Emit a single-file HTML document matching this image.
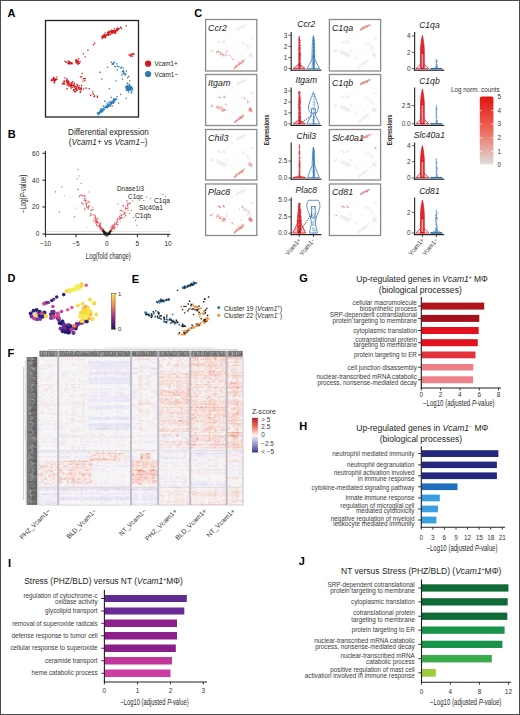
<!DOCTYPE html>
<html><head><meta charset="utf-8"><title>Figure</title><style>html,body{margin:0;padding:0;background:#fff;width:520px;height:715px;overflow:hidden}svg{display:block}text{font-family:"Liberation Sans",sans-serif}</style></head><body>
<svg width="520" height="715" viewBox="0 0 520 715" font-family='"Liberation Sans", sans-serif' fill="#231f20"><rect x="0" y="0" width="520" height="715" fill="#fff"/>
<text x="7.5" y="16.7" font-size="11" font-weight="bold" fill="#000">A</text>
<rect x="45.5" y="20.5" width="93" height="96.5" fill="none" stroke="#231f20" stroke-width="1.3"/>
<path d="M107.2 31.6h1.3v1.3h-1.3zM108.2 32.3h1.3v1.3h-1.3zM103.2 34.7h1.3v1.3h-1.3zM116.0 30.0h1.3v1.3h-1.3zM103.5 34.1h1.3v1.3h-1.3zM104.6 35.8h1.3v1.3h-1.3zM112.4 30.3h1.3v1.3h-1.3zM101.2 36.2h1.3v1.3h-1.3zM104.7 35.0h1.3v1.3h-1.3zM107.7 33.1h1.3v1.3h-1.3zM109.7 31.0h1.3v1.3h-1.3zM112.2 30.9h1.3v1.3h-1.3zM120.9 27.7h1.3v1.3h-1.3zM113.5 31.0h1.3v1.3h-1.3zM108.0 34.7h1.3v1.3h-1.3zM108.9 32.1h1.3v1.3h-1.3zM118.2 28.1h1.3v1.3h-1.3zM106.0 34.0h1.3v1.3h-1.3zM118.3 28.2h1.3v1.3h-1.3zM112.6 30.1h1.3v1.3h-1.3zM101.6 38.0h1.3v1.3h-1.3zM115.3 30.4h1.3v1.3h-1.3zM104.8 36.2h1.3v1.3h-1.3zM103.4 34.5h1.3v1.3h-1.3zM104.6 34.2h1.3v1.3h-1.3zM113.5 31.6h1.3v1.3h-1.3zM104.7 37.3h1.3v1.3h-1.3zM114.8 31.5h1.3v1.3h-1.3zM103.5 35.9h1.3v1.3h-1.3zM115.1 32.7h1.3v1.3h-1.3zM105.0 36.4h1.3v1.3h-1.3zM107.0 34.0h1.3v1.3h-1.3zM102.2 35.3h1.3v1.3h-1.3zM111.2 32.0h1.3v1.3h-1.3zM116.9 28.2h1.3v1.3h-1.3zM116.8 29.4h1.3v1.3h-1.3zM117.7 27.8h1.3v1.3h-1.3zM104.5 32.3h1.3v1.3h-1.3zM106.7 34.1h1.3v1.3h-1.3zM111.6 31.4h1.3v1.3h-1.3zM102.7 35.9h1.3v1.3h-1.3zM113.7 32.2h1.3v1.3h-1.3zM111.7 31.9h1.3v1.3h-1.3zM114.7 30.5h1.3v1.3h-1.3zM112.0 30.4h1.3v1.3h-1.3zM106.8 33.6h1.3v1.3h-1.3zM101.5 37.4h1.3v1.3h-1.3zM102.8 36.8h1.3v1.3h-1.3zM112.1 32.2h1.3v1.3h-1.3zM118.5 28.5h1.3v1.3h-1.3zM113.0 30.1h1.3v1.3h-1.3zM104.1 36.4h1.3v1.3h-1.3zM113.9 30.3h1.3v1.3h-1.3zM110.9 31.1h1.3v1.3h-1.3zM107.3 33.7h1.3v1.3h-1.3zM110.8 29.4h1.3v1.3h-1.3zM113.8 28.2h1.3v1.3h-1.3zM116.6 29.7h1.3v1.3h-1.3zM117.9 27.8h1.3v1.3h-1.3zM116.1 28.5h1.3v1.3h-1.3zM111.4 31.9h1.3v1.3h-1.3zM113.3 31.9h1.3v1.3h-1.3zM120.0 26.6h1.3v1.3h-1.3zM108.0 31.7h1.3v1.3h-1.3zM109.3 32.2h1.3v1.3h-1.3zM115.9 30.2h1.3v1.3h-1.3zM110.0 33.8h1.3v1.3h-1.3zM108.4 30.6h1.3v1.3h-1.3zM106.7 34.3h1.3v1.3h-1.3zM113.5 31.1h1.3v1.3h-1.3zM116.7 27.6h1.3v1.3h-1.3zM116.4 30.0h1.3v1.3h-1.3zM103.2 35.5h1.3v1.3h-1.3zM118.2 27.8h1.3v1.3h-1.3zM111.4 31.9h1.3v1.3h-1.3zM111.1 30.4h1.3v1.3h-1.3zM114.6 30.0h1.3v1.3h-1.3zM103.5 35.2h1.3v1.3h-1.3zM103.9 35.3h1.3v1.3h-1.3zM109.3 34.0h1.3v1.3h-1.3zM118.3 28.0h1.3v1.3h-1.3zM102.1 35.9h1.3v1.3h-1.3zM113.0 29.9h1.3v1.3h-1.3zM115.8 29.6h1.3v1.3h-1.3zM111.2 32.8h1.3v1.3h-1.3zM105.7 34.6h1.3v1.3h-1.3zM111.1 31.4h1.3v1.3h-1.3zM113.8 28.3h1.3v1.3h-1.3zM113.8 31.6h1.3v1.3h-1.3zM105.6 35.0h1.3v1.3h-1.3zM114.3 31.0h1.3v1.3h-1.3zM107.0 32.2h1.3v1.3h-1.3zM112.2 30.0h1.3v1.3h-1.3zM115.7 29.3h1.3v1.3h-1.3zM117.7 27.8h1.3v1.3h-1.3zM125.5 25.3h1.3v1.3h-1.3zM93.9 42.4h1.3v1.3h-1.3zM92.9 44.1h1.3v1.3h-1.3zM82.7 53.3h1.3v1.3h-1.3zM84.6 56.2h1.3v1.3h-1.3zM87.3 49.5h1.3v1.3h-1.3zM129.3 53.8h1.3v1.3h-1.3zM128.5 54.5h1.3v1.3h-1.3zM133.2 53.6h1.3v1.3h-1.3zM131.9 55.4h1.3v1.3h-1.3zM132.0 53.0h1.3v1.3h-1.3zM130.2 54.4h1.3v1.3h-1.3zM132.5 53.1h1.3v1.3h-1.3zM130.5 54.5h1.3v1.3h-1.3zM130.2 55.6h1.3v1.3h-1.3zM131.0 53.8h1.3v1.3h-1.3zM64.4 60.8h1.3v1.3h-1.3zM70.4 63.2h1.3v1.3h-1.3zM70.2 62.9h1.3v1.3h-1.3zM67.7 60.5h1.3v1.3h-1.3zM70.1 62.0h1.3v1.3h-1.3zM71.6 63.2h1.3v1.3h-1.3zM67.7 63.3h1.3v1.3h-1.3zM67.4 62.0h1.3v1.3h-1.3zM68.0 62.8h1.3v1.3h-1.3zM70.8 62.3h1.3v1.3h-1.3zM71.4 62.5h1.3v1.3h-1.3zM68.7 63.1h1.3v1.3h-1.3zM67.7 61.9h1.3v1.3h-1.3zM70.5 62.8h1.3v1.3h-1.3zM69.2 62.2h1.3v1.3h-1.3zM70.1 62.8h1.3v1.3h-1.3zM68.9 61.3h1.3v1.3h-1.3zM65.7 61.6h1.3v1.3h-1.3zM68.0 60.3h1.3v1.3h-1.3zM67.4 62.4h1.3v1.3h-1.3zM69.1 62.0h1.3v1.3h-1.3zM70.4 62.6h1.3v1.3h-1.3zM77.4 63.4h1.3v1.3h-1.3zM76.7 62.3h1.3v1.3h-1.3zM76.7 60.5h1.3v1.3h-1.3zM77.1 60.2h1.3v1.3h-1.3zM76.3 61.0h1.3v1.3h-1.3zM77.6 62.8h1.3v1.3h-1.3zM76.1 61.6h1.3v1.3h-1.3zM75.9 62.0h1.3v1.3h-1.3zM77.5 61.9h1.3v1.3h-1.3zM76.0 59.4h1.3v1.3h-1.3zM75.0 60.5h1.3v1.3h-1.3zM75.4 59.1h1.3v1.3h-1.3zM77.3 63.6h1.3v1.3h-1.3zM78.0 57.9h1.3v1.3h-1.3zM76.7 62.3h1.3v1.3h-1.3zM77.8 60.5h1.3v1.3h-1.3zM79.5 61.0h1.3v1.3h-1.3zM77.7 61.9h1.3v1.3h-1.3zM77.0 59.8h1.3v1.3h-1.3zM78.8 62.7h1.3v1.3h-1.3zM75.4 62.3h1.3v1.3h-1.3zM77.9 62.1h1.3v1.3h-1.3zM52.8 78.6h1.3v1.3h-1.3zM53.6 81.4h1.3v1.3h-1.3zM56.3 76.5h1.3v1.3h-1.3zM54.3 80.3h1.3v1.3h-1.3zM53.0 76.8h1.3v1.3h-1.3zM52.6 77.8h1.3v1.3h-1.3zM53.6 79.2h1.3v1.3h-1.3zM54.8 79.4h1.3v1.3h-1.3zM51.0 78.7h1.3v1.3h-1.3zM53.5 79.8h1.3v1.3h-1.3zM53.8 82.1h1.3v1.3h-1.3zM56.3 78.6h1.3v1.3h-1.3zM53.4 79.2h1.3v1.3h-1.3zM54.5 78.3h1.3v1.3h-1.3zM53.1 77.3h1.3v1.3h-1.3zM51.2 79.3h1.3v1.3h-1.3zM51.1 79.9h1.3v1.3h-1.3zM55.2 79.1h1.3v1.3h-1.3zM53.5 78.0h1.3v1.3h-1.3zM50.6 79.7h1.3v1.3h-1.3zM52.1 79.5h1.3v1.3h-1.3zM53.8 80.7h1.3v1.3h-1.3zM66.2 78.7h1.3v1.3h-1.3zM76.7 84.7h1.3v1.3h-1.3zM68.1 82.9h1.3v1.3h-1.3zM80.1 87.9h1.3v1.3h-1.3zM78.3 85.2h1.3v1.3h-1.3zM73.4 90.3h1.3v1.3h-1.3zM76.8 85.2h1.3v1.3h-1.3zM73.4 89.3h1.3v1.3h-1.3zM63.2 83.3h1.3v1.3h-1.3zM61.6 83.2h1.3v1.3h-1.3zM74.1 91.1h1.3v1.3h-1.3zM72.8 89.1h1.3v1.3h-1.3zM70.8 85.3h1.3v1.3h-1.3zM78.0 87.0h1.3v1.3h-1.3zM76.3 87.4h1.3v1.3h-1.3zM73.4 84.6h1.3v1.3h-1.3zM71.1 84.7h1.3v1.3h-1.3zM70.7 85.0h1.3v1.3h-1.3zM76.1 87.9h1.3v1.3h-1.3zM73.6 86.5h1.3v1.3h-1.3zM74.1 85.6h1.3v1.3h-1.3zM73.2 85.4h1.3v1.3h-1.3zM79.9 90.8h1.3v1.3h-1.3zM63.3 82.4h1.3v1.3h-1.3zM66.1 80.6h1.3v1.3h-1.3zM70.5 84.3h1.3v1.3h-1.3zM66.5 81.1h1.3v1.3h-1.3zM67.6 81.6h1.3v1.3h-1.3zM63.4 81.5h1.3v1.3h-1.3zM65.8 80.2h1.3v1.3h-1.3zM78.2 88.0h1.3v1.3h-1.3zM80.4 89.1h1.3v1.3h-1.3zM76.3 89.7h1.3v1.3h-1.3zM79.6 91.7h1.3v1.3h-1.3zM78.5 86.7h1.3v1.3h-1.3zM80.6 86.8h1.3v1.3h-1.3zM63.6 80.2h1.3v1.3h-1.3zM68.8 83.4h1.3v1.3h-1.3zM62.5 82.9h1.3v1.3h-1.3zM70.6 87.4h1.3v1.3h-1.3zM70.6 82.0h1.3v1.3h-1.3zM82.9 88.5h1.3v1.3h-1.3zM70.3 85.7h1.3v1.3h-1.3zM75.0 86.3h1.3v1.3h-1.3zM66.7 80.8h1.3v1.3h-1.3zM70.9 83.4h1.3v1.3h-1.3zM66.4 88.1h1.3v1.3h-1.3zM78.9 88.4h1.3v1.3h-1.3zM63.9 83.5h1.3v1.3h-1.3zM75.6 87.7h1.3v1.3h-1.3zM66.9 83.0h1.3v1.3h-1.3zM71.1 84.2h1.3v1.3h-1.3zM71.6 86.8h1.3v1.3h-1.3zM76.0 86.6h1.3v1.3h-1.3zM66.2 79.2h1.3v1.3h-1.3zM76.5 89.6h1.3v1.3h-1.3zM68.2 81.2h1.3v1.3h-1.3zM75.8 86.4h1.3v1.3h-1.3zM72.2 81.0h1.3v1.3h-1.3zM69.7 85.2h1.3v1.3h-1.3zM78.5 88.8h1.3v1.3h-1.3zM69.7 86.0h1.3v1.3h-1.3zM68.3 82.6h1.3v1.3h-1.3zM66.3 82.0h1.3v1.3h-1.3zM67.8 80.4h1.3v1.3h-1.3zM69.1 84.8h1.3v1.3h-1.3zM74.7 87.9h1.3v1.3h-1.3zM71.1 85.1h1.3v1.3h-1.3zM80.7 87.8h1.3v1.3h-1.3zM76.0 89.5h1.3v1.3h-1.3zM73.7 82.6h1.3v1.3h-1.3zM66.1 84.4h1.3v1.3h-1.3zM67.7 85.2h1.3v1.3h-1.3zM63.2 81.1h1.3v1.3h-1.3zM73.5 83.3h1.3v1.3h-1.3zM66.4 78.2h1.3v1.3h-1.3zM70.2 83.6h1.3v1.3h-1.3zM67.6 83.4h1.3v1.3h-1.3zM74.3 85.8h1.3v1.3h-1.3zM72.5 84.7h1.3v1.3h-1.3zM64.2 77.2h1.3v1.3h-1.3zM63.9 80.7h1.3v1.3h-1.3zM74.8 86.1h1.3v1.3h-1.3zM67.1 80.3h1.3v1.3h-1.3zM74.6 88.6h1.3v1.3h-1.3zM78.3 87.1h1.3v1.3h-1.3zM71.6 82.4h1.3v1.3h-1.3zM75.4 90.8h1.3v1.3h-1.3zM76.5 83.7h1.3v1.3h-1.3zM80.9 84.8h1.3v1.3h-1.3zM82.7 78.3h1.3v1.3h-1.3zM84.3 79.9h1.3v1.3h-1.3zM81.5 72.7h1.3v1.3h-1.3zM83.3 78.0h1.3v1.3h-1.3zM82.4 80.5h1.3v1.3h-1.3zM81.0 76.3h1.3v1.3h-1.3zM84.6 77.9h1.3v1.3h-1.3zM79.8 76.2h1.3v1.3h-1.3zM96.8 96.6h1.3v1.3h-1.3zM85.6 87.5h1.3v1.3h-1.3zM92.7 93.4h1.3v1.3h-1.3zM85.3 87.4h1.3v1.3h-1.3zM93.4 95.8h1.3v1.3h-1.3zM94.0 95.3h1.3v1.3h-1.3zM96.8 95.6h1.3v1.3h-1.3zM92.1 91.2h1.3v1.3h-1.3zM88.6 88.0h1.3v1.3h-1.3zM93.6 96.0h1.3v1.3h-1.3zM89.9 94.6h1.3v1.3h-1.3zM92.5 93.2h1.3v1.3h-1.3z" fill="#d7191c"/>
<path d="M116.8 69.2h1.3v1.3h-1.3zM121.9 70.6h1.3v1.3h-1.3zM112.8 63.5h1.3v1.3h-1.3zM123.2 73.3h1.3v1.3h-1.3zM127.0 77.2h1.3v1.3h-1.3zM113.1 62.3h1.3v1.3h-1.3zM125.8 70.5h1.3v1.3h-1.3zM111.7 63.6h1.3v1.3h-1.3zM110.7 61.8h1.3v1.3h-1.3zM124.2 73.3h1.3v1.3h-1.3zM116.0 63.3h1.3v1.3h-1.3zM128.1 75.7h1.3v1.3h-1.3zM112.4 62.8h1.3v1.3h-1.3zM113.8 61.4h1.3v1.3h-1.3zM116.9 65.4h1.3v1.3h-1.3zM118.1 65.9h1.3v1.3h-1.3zM123.2 71.6h1.3v1.3h-1.3zM120.9 66.6h1.3v1.3h-1.3zM122.9 70.3h1.3v1.3h-1.3zM122.6 72.9h1.3v1.3h-1.3zM122.6 67.4h1.3v1.3h-1.3zM124.5 74.3h1.3v1.3h-1.3zM114.2 65.8h1.3v1.3h-1.3zM114.9 65.9h1.3v1.3h-1.3zM121.7 71.3h1.3v1.3h-1.3zM121.2 74.4h1.3v1.3h-1.3zM119.8 67.5h1.3v1.3h-1.3zM125.1 73.3h1.3v1.3h-1.3zM130.6 89.0h1.3v1.3h-1.3zM128.0 86.5h1.3v1.3h-1.3zM125.4 89.5h1.3v1.3h-1.3zM127.6 87.2h1.3v1.3h-1.3zM128.4 88.6h1.3v1.3h-1.3zM129.6 88.8h1.3v1.3h-1.3zM132.0 89.3h1.3v1.3h-1.3zM126.3 88.5h1.3v1.3h-1.3zM126.4 85.2h1.3v1.3h-1.3zM129.1 86.0h1.3v1.3h-1.3zM127.3 89.1h1.3v1.3h-1.3zM130.1 87.7h1.3v1.3h-1.3zM126.6 82.9h1.3v1.3h-1.3zM128.9 85.1h1.3v1.3h-1.3zM128.0 87.4h1.3v1.3h-1.3zM127.4 89.0h1.3v1.3h-1.3zM127.8 86.9h1.3v1.3h-1.3zM126.7 89.0h1.3v1.3h-1.3zM129.1 84.4h1.3v1.3h-1.3zM127.4 86.9h1.3v1.3h-1.3zM128.7 83.8h1.3v1.3h-1.3zM126.6 87.1h1.3v1.3h-1.3zM127.2 87.6h1.3v1.3h-1.3zM127.0 82.6h1.3v1.3h-1.3zM125.3 87.3h1.3v1.3h-1.3zM128.9 86.6h1.3v1.3h-1.3zM130.7 86.7h1.3v1.3h-1.3zM128.5 88.3h1.3v1.3h-1.3zM128.4 89.8h1.3v1.3h-1.3zM127.7 86.1h1.3v1.3h-1.3zM129.9 86.9h1.3v1.3h-1.3zM127.3 87.8h1.3v1.3h-1.3zM129.3 87.4h1.3v1.3h-1.3zM130.2 86.3h1.3v1.3h-1.3zM126.1 86.7h1.3v1.3h-1.3zM127.9 91.4h1.3v1.3h-1.3zM131.7 87.4h1.3v1.3h-1.3zM127.5 87.0h1.3v1.3h-1.3zM129.0 86.3h1.3v1.3h-1.3zM129.4 86.8h1.3v1.3h-1.3zM125.1 86.1h1.3v1.3h-1.3zM129.2 89.6h1.3v1.3h-1.3zM128.7 87.8h1.3v1.3h-1.3zM130.6 92.2h1.3v1.3h-1.3zM130.8 86.6h1.3v1.3h-1.3zM127.3 90.0h1.3v1.3h-1.3zM128.1 85.9h1.3v1.3h-1.3zM125.5 85.9h1.3v1.3h-1.3zM129.5 87.7h1.3v1.3h-1.3zM127.3 87.8h1.3v1.3h-1.3zM126.4 89.0h1.3v1.3h-1.3zM129.3 89.4h1.3v1.3h-1.3zM128.1 89.8h1.3v1.3h-1.3zM127.0 89.7h1.3v1.3h-1.3zM131.0 88.2h1.3v1.3h-1.3zM131.2 91.0h1.3v1.3h-1.3zM126.6 86.4h1.3v1.3h-1.3zM126.1 88.9h1.3v1.3h-1.3zM127.1 84.9h1.3v1.3h-1.3zM128.3 85.6h1.3v1.3h-1.3zM131.8 87.5h1.3v1.3h-1.3zM129.4 86.2h1.3v1.3h-1.3zM126.1 88.5h1.3v1.3h-1.3zM130.2 86.4h1.3v1.3h-1.3zM126.3 87.3h1.3v1.3h-1.3zM129.6 86.7h1.3v1.3h-1.3zM131.1 88.5h1.3v1.3h-1.3zM130.7 85.9h1.3v1.3h-1.3zM125.7 85.9h1.3v1.3h-1.3zM127.4 89.8h1.3v1.3h-1.3zM98.9 113.4h1.3v1.3h-1.3zM106.2 105.8h1.3v1.3h-1.3zM109.4 102.4h1.3v1.3h-1.3zM102.0 109.3h1.3v1.3h-1.3zM100.5 110.9h1.3v1.3h-1.3zM110.4 102.1h1.3v1.3h-1.3zM112.7 102.7h1.3v1.3h-1.3zM108.1 104.3h1.3v1.3h-1.3zM113.1 102.0h1.3v1.3h-1.3zM116.1 98.5h1.3v1.3h-1.3zM102.3 109.2h1.3v1.3h-1.3zM114.6 98.3h1.3v1.3h-1.3zM103.3 107.8h1.3v1.3h-1.3zM98.0 112.5h1.3v1.3h-1.3zM109.2 104.4h1.3v1.3h-1.3zM106.1 107.0h1.3v1.3h-1.3zM115.3 98.5h1.3v1.3h-1.3zM112.2 101.3h1.3v1.3h-1.3zM102.7 108.3h1.3v1.3h-1.3zM100.1 109.8h1.3v1.3h-1.3zM114.3 99.8h1.3v1.3h-1.3zM109.9 104.4h1.3v1.3h-1.3zM113.5 99.2h1.3v1.3h-1.3zM111.4 102.1h1.3v1.3h-1.3zM98.4 113.3h1.3v1.3h-1.3zM110.8 103.0h1.3v1.3h-1.3zM100.2 108.1h1.3v1.3h-1.3zM102.7 105.6h1.3v1.3h-1.3zM108.3 105.2h1.3v1.3h-1.3zM114.3 98.1h1.3v1.3h-1.3zM111.8 105.2h1.3v1.3h-1.3zM103.9 106.4h1.3v1.3h-1.3zM96.8 112.3h1.3v1.3h-1.3zM101.7 109.2h1.3v1.3h-1.3zM102.2 108.2h1.3v1.3h-1.3zM101.4 109.0h1.3v1.3h-1.3zM114.5 99.3h1.3v1.3h-1.3zM105.7 105.1h1.3v1.3h-1.3zM114.1 98.8h1.3v1.3h-1.3zM106.9 103.9h1.3v1.3h-1.3zM109.8 101.8h1.3v1.3h-1.3zM107.5 104.1h1.3v1.3h-1.3zM107.5 105.1h1.3v1.3h-1.3zM112.7 102.6h1.3v1.3h-1.3zM99.5 110.6h1.3v1.3h-1.3zM112.2 100.3h1.3v1.3h-1.3zM106.5 107.3h1.3v1.3h-1.3zM107.9 106.0h1.3v1.3h-1.3zM108.6 101.2h1.3v1.3h-1.3zM100.3 110.9h1.3v1.3h-1.3zM105.2 106.2h1.3v1.3h-1.3zM101.9 109.0h1.3v1.3h-1.3zM113.1 98.6h1.3v1.3h-1.3zM112.2 101.7h1.3v1.3h-1.3zM103.7 108.9h1.3v1.3h-1.3zM107.9 103.6h1.3v1.3h-1.3zM109.9 105.4h1.3v1.3h-1.3zM100.0 111.6h1.3v1.3h-1.3zM111.1 100.8h1.3v1.3h-1.3zM96.9 113.2h1.3v1.3h-1.3zM101.2 110.1h1.3v1.3h-1.3zM106.4 102.4h1.3v1.3h-1.3zM97.7 111.9h1.3v1.3h-1.3zM97.6 115.4h1.3v1.3h-1.3zM98.7 112.0h1.3v1.3h-1.3zM105.2 107.0h1.3v1.3h-1.3zM116.3 95.9h1.3v1.3h-1.3zM101.1 111.4h1.3v1.3h-1.3zM98.9 110.4h1.3v1.3h-1.3zM102.1 110.6h1.3v1.3h-1.3zM109.7 104.2h1.3v1.3h-1.3zM110.3 103.7h1.3v1.3h-1.3zM111.2 101.4h1.3v1.3h-1.3zM112.9 99.8h1.3v1.3h-1.3zM111.7 101.6h1.3v1.3h-1.3zM100.4 110.8h1.3v1.3h-1.3zM107.8 105.5h1.3v1.3h-1.3zM99.9 110.4h1.3v1.3h-1.3zM107.1 106.4h1.3v1.3h-1.3zM113.8 101.0h1.3v1.3h-1.3zM99.4 71.6h1.3v1.3h-1.3zM106.9 66.8h1.3v1.3h-1.3zM119.9 93.8h1.3v1.3h-1.3zM110.6 96.7h1.3v1.3h-1.3zM104.1 100.6h1.3v1.3h-1.3zM115.2 80.3h1.3v1.3h-1.3zM121.8 78.4h1.3v1.3h-1.3zM101.3 78.4h1.3v1.3h-1.3zM118.0 102.5h1.3v1.3h-1.3zM108.7 88.0h1.3v1.3h-1.3zM125.5 97.7h1.3v1.3h-1.3zM129.2 80.3h1.3v1.3h-1.3z" fill="#2c7bb6"/>
<circle cx="148.1" cy="63.7" r="3.1" fill="#d7141e"/>
<circle cx="148.1" cy="74" r="3.1" fill="#2a7ab9"/>
<text x="154.4" y="66.3" font-size="7" textLength="23.4" lengthAdjust="spacingAndGlyphs">Vcam1+</text>
<text x="154.4" y="76.6" font-size="7" textLength="23.6" lengthAdjust="spacingAndGlyphs">Vcam1−</text>
<text x="7.7" y="137.6" font-size="11" font-weight="bold" fill="#000">B</text>
<text x="108.4" y="134.9" font-size="8.2" text-anchor="middle" textLength="80.8" lengthAdjust="spacingAndGlyphs">Differential expression</text>
<text x="108.1" y="145.1" font-size="8.2" text-anchor="middle" textLength="78.8" lengthAdjust="spacingAndGlyphs">(<tspan font-style="italic">Vcam1+</tspan> vs <tspan font-style="italic">Vcam1−</tspan>)</text>
<line x1="45.40" y1="151.00" x2="45.40" y2="234.60" stroke="#231f20" stroke-width="1.1"/>
<line x1="44.90" y1="234.20" x2="170.50" y2="234.20" stroke="#231f20" stroke-width="1.1"/>
<line x1="45.60" y1="231.50" x2="170.00" y2="231.50" stroke="#c8c8c8" stroke-width="0.5"/>
<line x1="42.40" y1="234.00" x2="45.40" y2="234.00" stroke="#231f20" stroke-width="1"/>
<text x="39.2" y="236.3" font-size="6.4" text-anchor="end">0</text>
<line x1="42.40" y1="207.00" x2="45.40" y2="207.00" stroke="#231f20" stroke-width="1"/>
<text x="39.2" y="209.3" font-size="6.4" text-anchor="end">20</text>
<line x1="42.40" y1="180.20" x2="45.40" y2="180.20" stroke="#231f20" stroke-width="1"/>
<text x="39.2" y="182.5" font-size="6.4" text-anchor="end">40</text>
<line x1="42.40" y1="153.30" x2="45.40" y2="153.30" stroke="#231f20" stroke-width="1"/>
<text x="39.2" y="155.6" font-size="6.4" text-anchor="end">60</text>
<line x1="45.60" y1="234.20" x2="45.60" y2="237.20" stroke="#231f20" stroke-width="1"/>
<text x="45.6" y="245.9" font-size="6.4" text-anchor="middle">−10</text>
<line x1="76.00" y1="234.20" x2="76.00" y2="237.20" stroke="#231f20" stroke-width="1"/>
<text x="76.0" y="245.9" font-size="6.4" text-anchor="middle">−5</text>
<line x1="106.90" y1="234.20" x2="106.90" y2="237.20" stroke="#231f20" stroke-width="1"/>
<text x="106.9" y="245.9" font-size="6.4" text-anchor="middle">0</text>
<line x1="137.40" y1="234.20" x2="137.40" y2="237.20" stroke="#231f20" stroke-width="1"/>
<text x="137.4" y="245.9" font-size="6.4" text-anchor="middle">5</text>
<line x1="168.00" y1="234.20" x2="168.00" y2="237.20" stroke="#231f20" stroke-width="1"/>
<text x="168.0" y="245.9" font-size="6.4" text-anchor="middle">10</text>
<text x="108.3" y="259.2" font-size="8.8" text-anchor="middle" fill="#2a2a2a" textLength="45.0" lengthAdjust="spacingAndGlyphs">Log(fold change)</text>
<text x="25.8" y="193.9" font-size="8.2" text-anchor="middle" fill="#2a2a2a" textLength="38.3" lengthAdjust="spacingAndGlyphs" transform="rotate(-90 25.8 193.9)">−Log(<tspan font-style="italic">P</tspan>-value)</text>
<path d="M77.0 188.7h1.1v1.1h-1.1zM76.3 207.6h1.1v1.1h-1.1zM86.4 227.0h1.1v1.1h-1.1zM64.0 195.0h1.1v1.1h-1.1zM120.0 221.0h1.1v1.1h-1.1zM139.0 214.0h1.1v1.1h-1.1z" fill="#bbb"/>
<path d="M96.0 223.4h1.1v1.1h-1.1zM112.7 226.3h1.1v1.1h-1.1zM119.7 209.8h1.1v1.1h-1.1zM122.5 204.8h1.1v1.1h-1.1zM84.4 209.1h1.1v1.1h-1.1zM111.7 227.3h1.1v1.1h-1.1zM100.3 229.1h1.1v1.1h-1.1zM82.4 194.8h1.1v1.1h-1.1zM126.7 201.7h1.1v1.1h-1.1zM129.3 202.9h1.1v1.1h-1.1zM87.8 208.1h1.1v1.1h-1.1zM90.3 209.3h1.1v1.1h-1.1zM117.6 203.4h1.1v1.1h-1.1zM100.1 227.1h1.1v1.1h-1.1zM84.0 207.7h1.1v1.1h-1.1zM110.2 229.6h1.1v1.1h-1.1zM113.9 222.2h1.1v1.1h-1.1zM112.0 226.7h1.1v1.1h-1.1zM94.7 218.4h1.1v1.1h-1.1zM112.4 226.2h1.1v1.1h-1.1zM120.0 217.1h1.1v1.1h-1.1zM126.5 207.6h1.1v1.1h-1.1zM101.8 230.4h1.1v1.1h-1.1zM95.2 221.0h1.1v1.1h-1.1zM99.8 226.1h1.1v1.1h-1.1zM102.5 228.8h1.1v1.1h-1.1zM112.7 228.0h1.1v1.1h-1.1zM111.2 230.6h1.1v1.1h-1.1zM101.0 227.1h1.1v1.1h-1.1zM88.3 191.5h1.1v1.1h-1.1zM84.3 195.1h1.1v1.1h-1.1zM121.0 209.9h1.1v1.1h-1.1zM101.9 229.7h1.1v1.1h-1.1zM121.3 217.4h1.1v1.1h-1.1zM117.4 223.8h1.1v1.1h-1.1zM81.5 195.4h1.1v1.1h-1.1zM82.6 203.6h1.1v1.1h-1.1zM92.2 206.5h1.1v1.1h-1.1zM99.0 225.1h1.1v1.1h-1.1zM125.1 212.4h1.1v1.1h-1.1zM101.7 230.9h1.1v1.1h-1.1zM101.8 229.6h1.1v1.1h-1.1zM96.6 220.5h1.1v1.1h-1.1zM111.7 228.1h1.1v1.1h-1.1zM99.9 228.6h1.1v1.1h-1.1zM91.3 214.7h1.1v1.1h-1.1zM94.1 215.1h1.1v1.1h-1.1zM87.7 200.8h1.1v1.1h-1.1zM120.7 216.6h1.1v1.1h-1.1zM86.1 203.0h1.1v1.1h-1.1zM117.3 218.1h1.1v1.1h-1.1zM96.6 220.2h1.1v1.1h-1.1zM85.2 200.8h1.1v1.1h-1.1zM115.4 223.2h1.1v1.1h-1.1zM113.7 225.2h1.1v1.1h-1.1zM127.5 207.4h1.1v1.1h-1.1zM87.8 206.9h1.1v1.1h-1.1zM95.1 217.3h1.1v1.1h-1.1zM100.2 228.6h1.1v1.1h-1.1zM99.5 223.9h1.1v1.1h-1.1zM112.2 225.8h1.1v1.1h-1.1zM112.2 226.2h1.1v1.1h-1.1zM89.4 215.4h1.1v1.1h-1.1zM101.5 229.0h1.1v1.1h-1.1zM93.3 213.9h1.1v1.1h-1.1zM93.0 220.1h1.1v1.1h-1.1zM112.8 224.5h1.1v1.1h-1.1zM111.4 226.5h1.1v1.1h-1.1zM127.5 203.6h1.1v1.1h-1.1zM124.2 213.2h1.1v1.1h-1.1zM100.1 226.5h1.1v1.1h-1.1zM87.0 207.0h1.1v1.1h-1.1zM94.6 215.6h1.1v1.1h-1.1zM99.0 226.1h1.1v1.1h-1.1zM111.0 228.9h1.1v1.1h-1.1zM96.0 218.2h1.1v1.1h-1.1zM119.1 218.7h1.1v1.1h-1.1zM121.0 217.0h1.1v1.1h-1.1zM116.8 219.7h1.1v1.1h-1.1zM101.4 227.9h1.1v1.1h-1.1zM84.6 199.9h1.1v1.1h-1.1zM96.0 220.6h1.1v1.1h-1.1zM114.4 223.6h1.1v1.1h-1.1zM101.2 228.0h1.1v1.1h-1.1zM99.1 227.2h1.1v1.1h-1.1zM88.3 205.3h1.1v1.1h-1.1zM118.8 215.9h1.1v1.1h-1.1zM126.2 208.4h1.1v1.1h-1.1zM93.6 217.7h1.1v1.1h-1.1zM122.0 217.5h1.1v1.1h-1.1zM112.2 226.2h1.1v1.1h-1.1zM98.9 223.2h1.1v1.1h-1.1zM110.1 226.7h1.1v1.1h-1.1zM101.6 229.2h1.1v1.1h-1.1zM81.4 202.0h1.1v1.1h-1.1zM118.7 216.4h1.1v1.1h-1.1zM127.1 204.7h1.1v1.1h-1.1zM113.5 226.8h1.1v1.1h-1.1zM112.8 225.8h1.1v1.1h-1.1zM99.3 224.4h1.1v1.1h-1.1zM84.4 197.9h1.1v1.1h-1.1zM96.8 222.4h1.1v1.1h-1.1zM98.8 224.6h1.1v1.1h-1.1zM100.4 227.2h1.1v1.1h-1.1zM103.1 228.2h1.1v1.1h-1.1zM111.0 230.2h1.1v1.1h-1.1zM116.1 222.2h1.1v1.1h-1.1zM126.5 204.3h1.1v1.1h-1.1zM94.7 216.1h1.1v1.1h-1.1zM113.9 224.5h1.1v1.1h-1.1zM100.2 229.2h1.1v1.1h-1.1zM115.8 223.8h1.1v1.1h-1.1zM110.9 229.2h1.1v1.1h-1.1zM125.3 208.0h1.1v1.1h-1.1zM118.4 218.7h1.1v1.1h-1.1zM101.1 227.6h1.1v1.1h-1.1zM94.7 222.5h1.1v1.1h-1.1zM119.6 214.3h1.1v1.1h-1.1zM83.7 199.6h1.1v1.1h-1.1zM99.5 227.4h1.1v1.1h-1.1zM117.0 218.1h1.1v1.1h-1.1zM94.8 219.6h1.1v1.1h-1.1zM116.0 222.1h1.1v1.1h-1.1zM99.2 225.1h1.1v1.1h-1.1zM100.0 225.3h1.1v1.1h-1.1zM111.3 227.2h1.1v1.1h-1.1zM102.5 229.1h1.1v1.1h-1.1zM122.6 213.9h1.1v1.1h-1.1zM122.9 206.2h1.1v1.1h-1.1zM127.0 207.6h1.1v1.1h-1.1zM113.9 228.6h1.1v1.1h-1.1zM83.8 198.2h1.1v1.1h-1.1zM90.5 213.1h1.1v1.1h-1.1zM90.9 210.0h1.1v1.1h-1.1zM88.6 205.3h1.1v1.1h-1.1zM122.6 210.9h1.1v1.1h-1.1zM97.9 225.3h1.1v1.1h-1.1zM86.2 206.1h1.1v1.1h-1.1zM121.0 215.0h1.1v1.1h-1.1zM114.7 226.9h1.1v1.1h-1.1zM102.9 229.8h1.1v1.1h-1.1zM102.5 231.5h1.1v1.1h-1.1zM120.1 218.2h1.1v1.1h-1.1zM86.0 204.8h1.1v1.1h-1.1zM111.7 225.0h1.1v1.1h-1.1zM114.4 223.5h1.1v1.1h-1.1zM99.9 228.3h1.1v1.1h-1.1zM113.2 227.3h1.1v1.1h-1.1zM95.8 224.4h1.1v1.1h-1.1zM124.9 206.4h1.1v1.1h-1.1zM96.0 222.0h1.1v1.1h-1.1zM127.5 210.0h1.1v1.1h-1.1zM100.3 221.7h1.1v1.1h-1.1zM87.0 207.1h1.1v1.1h-1.1zM124.8 208.3h1.1v1.1h-1.1zM92.2 209.2h1.1v1.1h-1.1zM87.8 206.2h1.1v1.1h-1.1zM117.2 221.3h1.1v1.1h-1.1zM85.6 199.6h1.1v1.1h-1.1zM129.7 202.4h1.1v1.1h-1.1zM78.8 196.2h1.1v1.1h-1.1zM113.5 224.2h1.1v1.1h-1.1zM97.8 221.9h1.1v1.1h-1.1zM84.3 196.1h1.1v1.1h-1.1zM123.2 213.3h1.1v1.1h-1.1zM126.2 200.0h1.1v1.1h-1.1zM94.8 221.0h1.1v1.1h-1.1zM101.7 230.8h1.1v1.1h-1.1zM128.6 202.9h1.1v1.1h-1.1zM81.4 194.9h1.1v1.1h-1.1zM89.9 214.2h1.1v1.1h-1.1zM79.2 195.3h1.1v1.1h-1.1zM88.6 201.8h1.1v1.1h-1.1zM96.4 219.3h1.1v1.1h-1.1zM124.0 216.4h1.1v1.1h-1.1zM80.1 194.5h1.1v1.1h-1.1zM81.4 203.2h1.1v1.1h-1.1zM110.7 230.7h1.1v1.1h-1.1zM100.2 227.1h1.1v1.1h-1.1zM92.6 208.8h1.1v1.1h-1.1zM112.2 227.3h1.1v1.1h-1.1zM109.4 229.6h1.1v1.1h-1.1zM99.0 225.6h1.1v1.1h-1.1zM99.8 223.2h1.1v1.1h-1.1zM120.9 214.5h1.1v1.1h-1.1zM86.1 203.5h1.1v1.1h-1.1zM97.7 218.0h1.1v1.1h-1.1zM97.1 221.3h1.1v1.1h-1.1zM84.8 202.9h1.1v1.1h-1.1zM116.3 220.1h1.1v1.1h-1.1zM86.7 202.2h1.1v1.1h-1.1zM111.1 228.0h1.1v1.1h-1.1zM119.6 217.6h1.1v1.1h-1.1zM103.0 231.6h1.1v1.1h-1.1zM88.9 205.5h1.1v1.1h-1.1zM111.7 229.5h1.1v1.1h-1.1zM96.7 225.6h1.1v1.1h-1.1zM117.1 224.5h1.1v1.1h-1.1zM95.9 221.4h1.1v1.1h-1.1zM77.5 168.8h1.1v1.1h-1.1zM78.2 175.5h1.1v1.1h-1.1zM76.5 178.5h1.1v1.1h-1.1zM80.5 183.0h1.1v1.1h-1.1zM55.0 191.3h1.1v1.1h-1.1zM61.3 186.3h1.1v1.1h-1.1zM58.8 211.3h1.1v1.1h-1.1zM73.8 216.3h1.1v1.1h-1.1zM77.5 188.8h1.1v1.1h-1.1zM125.0 215.0h1.1v1.1h-1.1zM127.0 205.5h1.1v1.1h-1.1zM131.0 210.0h1.1v1.1h-1.1zM135.0 220.0h1.1v1.1h-1.1zM140.0 205.0h1.1v1.1h-1.1zM143.2 200.0h1.1v1.1h-1.1zM146.0 196.4h1.1v1.1h-1.1zM150.0 198.0h1.1v1.1h-1.1zM162.5 193.8h1.1v1.1h-1.1zM165.0 196.0h1.1v1.1h-1.1zM136.3 225.0h1.1v1.1h-1.1zM129.0 213.0h1.1v1.1h-1.1zM133.0 217.0h1.1v1.1h-1.1zM124.0 212.0h1.1v1.1h-1.1zM132.0 200.5h1.1v1.1h-1.1zM127.5 203.8h1.1v1.1h-1.1z" fill="#e0303c" opacity="0.8"/>
<path d="M108.9 233.5h1v1h-1zM104.4 231.7h1v1h-1zM108.0 232.7h1v1h-1zM105.8 233.1h1v1h-1zM108.3 233.5h1v1h-1zM109.4 231.5h1v1h-1zM106.3 232.2h1v1h-1zM107.8 233.0h1v1h-1zM105.1 233.3h1v1h-1zM103.5 230.2h1v1h-1zM104.9 233.8h1v1h-1zM107.1 233.1h1v1h-1zM104.0 231.4h1v1h-1zM108.2 233.4h1v1h-1zM104.6 231.2h1v1h-1zM103.4 229.9h1v1h-1zM109.3 232.0h1v1h-1zM102.9 230.5h1v1h-1zM102.2 229.6h1v1h-1zM103.0 232.0h1v1h-1zM107.1 232.8h1v1h-1zM103.0 231.9h1v1h-1zM105.0 233.2h1v1h-1zM103.8 233.1h1v1h-1zM108.1 233.6h1v1h-1zM109.8 232.8h1v1h-1zM108.2 231.9h1v1h-1zM109.2 233.4h1v1h-1zM103.5 232.0h1v1h-1zM103.1 230.2h1v1h-1zM103.2 231.2h1v1h-1zM103.8 232.8h1v1h-1zM103.7 232.2h1v1h-1zM108.6 233.1h1v1h-1zM103.8 231.8h1v1h-1zM107.9 233.7h1v1h-1zM105.3 232.9h1v1h-1zM103.6 230.8h1v1h-1zM105.2 232.3h1v1h-1zM103.4 232.9h1v1h-1zM103.4 232.2h1v1h-1zM103.5 231.2h1v1h-1zM110.6 230.3h1v1h-1zM108.6 232.2h1v1h-1zM108.8 232.4h1v1h-1zM104.5 232.8h1v1h-1zM104.1 231.7h1v1h-1zM104.3 232.6h1v1h-1zM104.8 232.7h1v1h-1zM104.8 233.3h1v1h-1zM109.9 230.6h1v1h-1zM110.1 231.5h1v1h-1zM105.2 233.4h1v1h-1zM107.6 234.1h1v1h-1zM107.8 234.3h1v1h-1zM108.6 231.7h1v1h-1zM103.9 231.0h1v1h-1zM104.3 231.8h1v1h-1zM107.0 233.7h1v1h-1zM108.2 234.3h1v1h-1zM105.7 233.5h1v1h-1zM105.8 234.0h1v1h-1zM105.7 234.8h1v1h-1zM105.4 233.1h1v1h-1zM105.3 233.6h1v1h-1zM109.0 230.9h1v1h-1zM102.4 230.6h1v1h-1zM108.2 234.0h1v1h-1zM104.9 232.8h1v1h-1zM107.9 233.5h1v1h-1zM104.0 231.4h1v1h-1zM104.9 232.0h1v1h-1zM104.8 232.7h1v1h-1zM103.6 230.7h1v1h-1zM109.2 232.3h1v1h-1zM104.8 234.5h1v1h-1zM103.8 232.0h1v1h-1zM107.5 234.7h1v1h-1zM102.6 231.1h1v1h-1zM105.5 234.7h1v1h-1zM109.1 233.7h1v1h-1zM108.5 233.3h1v1h-1zM103.8 234.2h1v1h-1zM105.0 233.2h1v1h-1zM105.0 234.2h1v1h-1zM105.9 233.4h1v1h-1zM109.3 233.2h1v1h-1zM107.5 233.1h1v1h-1zM104.8 233.4h1v1h-1zM108.8 233.2h1v1h-1zM104.4 233.2h1v1h-1zM104.6 231.6h1v1h-1zM105.4 233.5h1v1h-1zM108.7 233.2h1v1h-1zM105.9 233.1h1v1h-1zM105.0 233.6h1v1h-1zM107.5 233.7h1v1h-1zM103.3 232.4h1v1h-1zM105.1 233.7h1v1h-1zM103.4 231.0h1v1h-1zM105.6 232.4h1v1h-1z" fill="#1a1a1a"/>
<text x="117.0" y="191.4" font-size="6.6" textLength="27.0" lengthAdjust="spacingAndGlyphs">Dnase1l3</text>
<text x="128.0" y="199.4" font-size="6.6" textLength="15.0" lengthAdjust="spacingAndGlyphs">C1qc</text>
<text x="154.0" y="203.4" font-size="6.6" textLength="16.0" lengthAdjust="spacingAndGlyphs">C1qa</text>
<text x="139.0" y="210.4" font-size="6.6" textLength="24.0" lengthAdjust="spacingAndGlyphs">Slc40a1</text>
<text x="135.0" y="218.0" font-size="6.6" textLength="16.0" lengthAdjust="spacingAndGlyphs">C1qb</text>
<text x="194.2" y="17.0" font-size="11" font-weight="bold" fill="#000">C</text>
<rect x="205.6" y="19.5" width="51.2" height="51.5" fill="#fff" stroke="#8a8a8a" stroke-width="1.3"/>
<path d="M239.1 26.6h0.9v0.9h-0.9zM239.6 26.9h0.9v0.9h-0.9zM237.0 28.1h0.9v0.9h-0.9zM243.6 25.8h0.9v0.9h-0.9zM237.1 27.9h0.9v0.9h-0.9zM237.7 28.7h0.9v0.9h-0.9zM241.8 25.9h0.9v0.9h-0.9zM236.0 28.9h0.9v0.9h-0.9zM237.8 28.3h0.9v0.9h-0.9zM239.3 27.3h0.9v0.9h-0.9zM240.4 26.3h0.9v0.9h-0.9zM241.7 26.2h0.9v0.9h-0.9zM246.2 24.6h0.9v0.9h-0.9zM242.4 26.3h0.9v0.9h-0.9zM239.5 28.1h0.9v0.9h-0.9zM240.0 26.8h0.9v0.9h-0.9zM244.8 24.8h0.9v0.9h-0.9zM238.4 27.8h0.9v0.9h-0.9zM244.8 24.8h0.9v0.9h-0.9zM241.9 25.8h0.9v0.9h-0.9zM236.2 29.8h0.9v0.9h-0.9zM243.3 26.0h0.9v0.9h-0.9zM237.8 28.9h0.9v0.9h-0.9zM237.1 28.0h0.9v0.9h-0.9zM237.7 27.9h0.9v0.9h-0.9zM242.3 26.6h0.9v0.9h-0.9zM237.8 29.5h0.9v0.9h-0.9zM243.0 26.5h0.9v0.9h-0.9zM237.1 28.7h0.9v0.9h-0.9zM243.2 27.1h0.9v0.9h-0.9zM237.9 29.0h0.9v0.9h-0.9zM239.0 27.8h0.9v0.9h-0.9zM236.5 28.4h0.9v0.9h-0.9zM241.1 26.8h0.9v0.9h-0.9zM244.1 24.9h0.9v0.9h-0.9zM244.1 25.5h0.9v0.9h-0.9zM244.5 24.7h0.9v0.9h-0.9zM237.7 26.9h0.9v0.9h-0.9zM238.8 27.8h0.9v0.9h-0.9zM241.3 26.5h0.9v0.9h-0.9zM236.7 28.7h0.9v0.9h-0.9zM242.4 26.9h0.9v0.9h-0.9zM241.4 26.7h0.9v0.9h-0.9zM243.0 26.0h0.9v0.9h-0.9zM241.6 26.0h0.9v0.9h-0.9zM238.9 27.6h0.9v0.9h-0.9zM236.1 29.5h0.9v0.9h-0.9zM236.8 29.2h0.9v0.9h-0.9zM241.6 26.9h0.9v0.9h-0.9zM244.9 25.0h0.9v0.9h-0.9zM242.1 25.8h0.9v0.9h-0.9zM237.5 29.0h0.9v0.9h-0.9zM242.5 25.9h0.9v0.9h-0.9zM241.0 26.3h0.9v0.9h-0.9zM239.1 27.6h0.9v0.9h-0.9zM240.9 25.5h0.9v0.9h-0.9zM242.5 24.9h0.9v0.9h-0.9zM243.9 25.6h0.9v0.9h-0.9zM244.6 24.7h0.9v0.9h-0.9zM243.7 25.0h0.9v0.9h-0.9zM241.2 26.7h0.9v0.9h-0.9zM242.2 26.7h0.9v0.9h-0.9zM245.7 24.1h0.9v0.9h-0.9zM239.5 26.6h0.9v0.9h-0.9zM240.2 26.9h0.9v0.9h-0.9zM243.6 25.9h0.9v0.9h-0.9zM240.5 27.7h0.9v0.9h-0.9zM239.7 26.1h0.9v0.9h-0.9zM238.8 27.9h0.9v0.9h-0.9zM242.3 26.3h0.9v0.9h-0.9zM244.0 24.6h0.9v0.9h-0.9zM243.8 25.8h0.9v0.9h-0.9zM237.0 28.5h0.9v0.9h-0.9zM244.8 24.7h0.9v0.9h-0.9zM241.2 26.7h0.9v0.9h-0.9zM241.1 26.0h0.9v0.9h-0.9zM242.9 25.8h0.9v0.9h-0.9zM237.2 28.4h0.9v0.9h-0.9zM237.4 28.4h0.9v0.9h-0.9zM240.1 27.8h0.9v0.9h-0.9zM244.8 24.8h0.9v0.9h-0.9zM236.4 28.8h0.9v0.9h-0.9zM242.1 25.7h0.9v0.9h-0.9zM243.5 25.6h0.9v0.9h-0.9zM241.2 27.2h0.9v0.9h-0.9zM238.3 28.1h0.9v0.9h-0.9zM241.1 26.5h0.9v0.9h-0.9zM242.5 24.9h0.9v0.9h-0.9zM242.5 26.6h0.9v0.9h-0.9zM238.2 28.3h0.9v0.9h-0.9zM242.7 26.3h0.9v0.9h-0.9zM239.0 26.9h0.9v0.9h-0.9zM241.7 25.8h0.9v0.9h-0.9zM243.5 25.4h0.9v0.9h-0.9zM244.5 24.7h0.9v0.9h-0.9zM248.6 23.4h0.9v0.9h-0.9zM232.2 32.0h0.9v0.9h-0.9zM231.7 32.9h0.9v0.9h-0.9zM226.4 37.5h0.9v0.9h-0.9zM227.3 38.9h0.9v0.9h-0.9zM228.8 35.5h0.9v0.9h-0.9zM250.5 37.7h0.9v0.9h-0.9zM250.1 38.1h0.9v0.9h-0.9zM252.6 37.7h0.9v0.9h-0.9zM251.9 38.5h0.9v0.9h-0.9zM251.9 37.3h0.9v0.9h-0.9zM251.0 38.1h0.9v0.9h-0.9zM252.2 37.4h0.9v0.9h-0.9zM251.2 38.1h0.9v0.9h-0.9zM251.0 38.6h0.9v0.9h-0.9zM251.4 37.7h0.9v0.9h-0.9zM216.9 41.3h0.9v0.9h-0.9zM220.0 42.5h0.9v0.9h-0.9zM219.9 42.3h0.9v0.9h-0.9zM218.6 41.1h0.9v0.9h-0.9zM219.8 41.9h0.9v0.9h-0.9zM220.6 42.4h0.9v0.9h-0.9zM218.6 42.5h0.9v0.9h-0.9zM218.4 41.9h0.9v0.9h-0.9zM218.7 42.3h0.9v0.9h-0.9zM220.2 42.0h0.9v0.9h-0.9zM220.5 42.1h0.9v0.9h-0.9zM219.1 42.4h0.9v0.9h-0.9zM218.6 41.8h0.9v0.9h-0.9zM220.1 42.3h0.9v0.9h-0.9zM219.4 42.0h0.9v0.9h-0.9zM219.9 42.2h0.9v0.9h-0.9zM219.2 41.5h0.9v0.9h-0.9zM217.6 41.7h0.9v0.9h-0.9zM218.8 41.0h0.9v0.9h-0.9zM218.5 42.1h0.9v0.9h-0.9zM219.3 41.9h0.9v0.9h-0.9zM220.0 42.2h0.9v0.9h-0.9zM223.6 42.5h0.9v0.9h-0.9zM223.3 42.0h0.9v0.9h-0.9zM223.3 41.1h0.9v0.9h-0.9zM223.5 41.0h0.9v0.9h-0.9zM223.0 41.3h0.9v0.9h-0.9zM223.7 42.3h0.9v0.9h-0.9zM223.0 41.7h0.9v0.9h-0.9zM222.9 41.9h0.9v0.9h-0.9zM223.7 41.8h0.9v0.9h-0.9zM222.9 40.6h0.9v0.9h-0.9zM222.4 41.1h0.9v0.9h-0.9zM222.6 40.4h0.9v0.9h-0.9zM223.6 42.6h0.9v0.9h-0.9zM224.0 39.8h0.9v0.9h-0.9zM223.3 42.0h0.9v0.9h-0.9zM223.8 41.1h0.9v0.9h-0.9zM224.7 41.4h0.9v0.9h-0.9zM223.8 41.8h0.9v0.9h-0.9zM223.4 40.8h0.9v0.9h-0.9zM224.4 42.2h0.9v0.9h-0.9zM222.6 42.0h0.9v0.9h-0.9zM223.9 41.9h0.9v0.9h-0.9zM210.9 50.2h0.9v0.9h-0.9zM211.3 51.6h0.9v0.9h-0.9zM212.7 49.1h0.9v0.9h-0.9zM211.6 51.0h0.9v0.9h-0.9zM211.0 49.3h0.9v0.9h-0.9zM210.8 49.8h0.9v0.9h-0.9zM211.3 50.5h0.9v0.9h-0.9zM211.9 50.6h0.9v0.9h-0.9zM210.0 50.2h0.9v0.9h-0.9zM211.3 50.8h0.9v0.9h-0.9zM211.4 51.9h0.9v0.9h-0.9zM212.7 50.2h0.9v0.9h-0.9zM211.2 50.5h0.9v0.9h-0.9zM211.8 50.1h0.9v0.9h-0.9zM211.0 49.6h0.9v0.9h-0.9zM210.0 50.6h0.9v0.9h-0.9zM210.0 50.8h0.9v0.9h-0.9zM212.2 50.5h0.9v0.9h-0.9zM211.2 49.9h0.9v0.9h-0.9zM209.7 50.8h0.9v0.9h-0.9zM210.5 50.7h0.9v0.9h-0.9zM211.4 51.2h0.9v0.9h-0.9zM217.8 50.2h0.9v0.9h-0.9zM223.3 53.3h0.9v0.9h-0.9zM218.8 52.4h0.9v0.9h-0.9zM224.1 53.5h0.9v0.9h-0.9zM221.5 56.1h0.9v0.9h-0.9zM223.3 53.5h0.9v0.9h-0.9zM221.6 55.6h0.9v0.9h-0.9zM216.2 52.6h0.9v0.9h-0.9zM215.5 52.5h0.9v0.9h-0.9zM221.9 56.5h0.9v0.9h-0.9zM221.3 55.5h0.9v0.9h-0.9zM223.9 54.4h0.9v0.9h-0.9zM221.5 53.2h0.9v0.9h-0.9zM220.4 53.3h0.9v0.9h-0.9zM223.0 54.9h0.9v0.9h-0.9zM221.6 54.2h0.9v0.9h-0.9zM221.9 53.7h0.9v0.9h-0.9zM221.5 53.6h0.9v0.9h-0.9zM224.9 56.3h0.9v0.9h-0.9zM216.3 52.1h0.9v0.9h-0.9zM220.0 53.1h0.9v0.9h-0.9zM218.5 51.7h0.9v0.9h-0.9zM224.0 54.9h0.9v0.9h-0.9zM225.2 55.5h0.9v0.9h-0.9zM223.1 55.8h0.9v0.9h-0.9zM224.7 56.8h0.9v0.9h-0.9zM224.2 54.3h0.9v0.9h-0.9zM225.3 54.3h0.9v0.9h-0.9zM216.5 51.0h0.9v0.9h-0.9zM219.2 52.6h0.9v0.9h-0.9zM220.1 54.6h0.9v0.9h-0.9zM220.1 51.9h0.9v0.9h-0.9zM226.5 55.2h0.9v0.9h-0.9zM219.9 53.8h0.9v0.9h-0.9zM220.3 52.6h0.9v0.9h-0.9zM217.9 55.0h0.9v0.9h-0.9zM224.4 55.1h0.9v0.9h-0.9zM216.6 52.6h0.9v0.9h-0.9zM218.2 52.4h0.9v0.9h-0.9zM220.4 53.0h0.9v0.9h-0.9zM222.9 54.2h0.9v0.9h-0.9zM217.8 50.5h0.9v0.9h-0.9zM223.2 55.7h0.9v0.9h-0.9zM218.9 51.5h0.9v0.9h-0.9zM222.8 54.1h0.9v0.9h-0.9zM221.0 51.4h0.9v0.9h-0.9zM219.7 53.5h0.9v0.9h-0.9zM224.2 55.3h0.9v0.9h-0.9zM219.6 53.9h0.9v0.9h-0.9zM218.9 52.2h0.9v0.9h-0.9zM217.9 51.9h0.9v0.9h-0.9zM218.7 51.1h0.9v0.9h-0.9zM219.3 53.3h0.9v0.9h-0.9zM222.2 54.9h0.9v0.9h-0.9zM222.9 55.7h0.9v0.9h-0.9zM221.7 52.2h0.9v0.9h-0.9zM217.8 53.1h0.9v0.9h-0.9zM218.6 53.5h0.9v0.9h-0.9zM221.6 52.6h0.9v0.9h-0.9zM217.9 50.0h0.9v0.9h-0.9zM218.6 52.6h0.9v0.9h-0.9zM221.1 53.3h0.9v0.9h-0.9zM216.8 49.5h0.9v0.9h-0.9zM222.3 54.0h0.9v0.9h-0.9zM222.2 55.2h0.9v0.9h-0.9zM224.1 54.5h0.9v0.9h-0.9zM222.6 56.3h0.9v0.9h-0.9zM223.2 52.8h0.9v0.9h-0.9zM226.4 50.1h0.9v0.9h-0.9zM225.7 47.2h0.9v0.9h-0.9zM226.7 49.9h0.9v0.9h-0.9zM225.5 49.1h0.9v0.9h-0.9zM227.3 49.9h0.9v0.9h-0.9zM224.9 49.0h0.9v0.9h-0.9zM233.7 59.2h0.9v0.9h-0.9zM231.6 57.6h0.9v0.9h-0.9zM231.9 58.8h0.9v0.9h-0.9zM232.2 58.6h0.9v0.9h-0.9zM230.1 58.3h0.9v0.9h-0.9zM231.5 57.6h0.9v0.9h-0.9zM244.0 45.5h0.9v0.9h-0.9zM246.7 46.2h0.9v0.9h-0.9zM242.0 42.6h0.9v0.9h-0.9zM247.4 47.5h0.9v0.9h-0.9zM249.4 49.5h0.9v0.9h-0.9zM242.2 42.0h0.9v0.9h-0.9zM248.7 46.1h0.9v0.9h-0.9zM241.4 42.7h0.9v0.9h-0.9zM240.9 41.7h0.9v0.9h-0.9zM247.9 47.6h0.9v0.9h-0.9zM243.7 42.5h0.9v0.9h-0.9zM249.9 48.7h0.9v0.9h-0.9zM241.8 42.3h0.9v0.9h-0.9zM242.5 41.6h0.9v0.9h-0.9zM244.1 43.6h0.9v0.9h-0.9zM244.7 43.8h0.9v0.9h-0.9zM247.4 46.7h0.9v0.9h-0.9zM246.2 44.2h0.9v0.9h-0.9zM247.2 46.0h0.9v0.9h-0.9zM247.1 47.3h0.9v0.9h-0.9zM247.0 44.6h0.9v0.9h-0.9zM248.0 48.1h0.9v0.9h-0.9zM242.7 43.8h0.9v0.9h-0.9zM243.1 43.8h0.9v0.9h-0.9zM246.6 46.5h0.9v0.9h-0.9zM246.4 48.1h0.9v0.9h-0.9zM245.6 44.6h0.9v0.9h-0.9zM248.3 47.5h0.9v0.9h-0.9zM251.2 55.4h0.9v0.9h-0.9zM249.8 54.2h0.9v0.9h-0.9zM248.5 55.7h0.9v0.9h-0.9zM249.6 54.5h0.9v0.9h-0.9zM250.1 55.2h0.9v0.9h-0.9zM250.7 55.3h0.9v0.9h-0.9zM251.9 55.6h0.9v0.9h-0.9zM249.0 55.2h0.9v0.9h-0.9zM249.0 53.5h0.9v0.9h-0.9zM250.4 53.9h0.9v0.9h-0.9zM249.5 55.5h0.9v0.9h-0.9zM251.0 54.8h0.9v0.9h-0.9zM249.2 52.4h0.9v0.9h-0.9zM250.3 53.5h0.9v0.9h-0.9zM249.9 54.6h0.9v0.9h-0.9zM249.6 55.4h0.9v0.9h-0.9zM249.7 54.4h0.9v0.9h-0.9zM249.2 55.4h0.9v0.9h-0.9zM250.4 53.1h0.9v0.9h-0.9zM249.6 54.4h0.9v0.9h-0.9zM250.2 52.8h0.9v0.9h-0.9zM249.1 54.5h0.9v0.9h-0.9zM249.5 54.7h0.9v0.9h-0.9zM249.4 52.2h0.9v0.9h-0.9zM248.5 54.6h0.9v0.9h-0.9zM250.3 54.2h0.9v0.9h-0.9zM251.3 54.3h0.9v0.9h-0.9zM250.1 55.1h0.9v0.9h-0.9zM250.0 55.9h0.9v0.9h-0.9zM249.7 54.0h0.9v0.9h-0.9zM250.8 54.4h0.9v0.9h-0.9zM249.5 54.8h0.9v0.9h-0.9zM250.5 54.6h0.9v0.9h-0.9zM251.0 54.1h0.9v0.9h-0.9zM248.9 54.3h0.9v0.9h-0.9zM249.8 56.6h0.9v0.9h-0.9zM251.8 54.6h0.9v0.9h-0.9zM249.6 54.4h0.9v0.9h-0.9zM250.4 54.1h0.9v0.9h-0.9zM250.6 54.3h0.9v0.9h-0.9zM248.4 54.0h0.9v0.9h-0.9zM250.5 55.7h0.9v0.9h-0.9zM250.2 54.8h0.9v0.9h-0.9zM251.2 57.0h0.9v0.9h-0.9zM251.3 54.2h0.9v0.9h-0.9zM249.5 55.9h0.9v0.9h-0.9zM249.9 53.9h0.9v0.9h-0.9zM248.5 53.8h0.9v0.9h-0.9zM250.6 54.8h0.9v0.9h-0.9zM249.5 54.8h0.9v0.9h-0.9zM249.1 55.4h0.9v0.9h-0.9zM250.5 55.6h0.9v0.9h-0.9zM249.9 55.8h0.9v0.9h-0.9zM249.3 55.8h0.9v0.9h-0.9zM251.4 55.0h0.9v0.9h-0.9zM251.5 56.5h0.9v0.9h-0.9zM249.1 54.1h0.9v0.9h-0.9zM248.9 55.4h0.9v0.9h-0.9zM249.4 53.3h0.9v0.9h-0.9zM250.0 53.7h0.9v0.9h-0.9zM251.8 54.7h0.9v0.9h-0.9zM250.6 54.0h0.9v0.9h-0.9zM248.9 55.2h0.9v0.9h-0.9zM251.0 54.1h0.9v0.9h-0.9zM249.0 54.6h0.9v0.9h-0.9zM250.7 54.3h0.9v0.9h-0.9zM251.5 55.2h0.9v0.9h-0.9zM251.3 53.9h0.9v0.9h-0.9zM248.7 53.9h0.9v0.9h-0.9zM249.6 55.8h0.9v0.9h-0.9zM238.5 63.9h0.9v0.9h-0.9zM240.2 62.2h0.9v0.9h-0.9zM236.4 65.6h0.9v0.9h-0.9zM240.8 62.0h0.9v0.9h-0.9zM239.6 63.1h0.9v0.9h-0.9zM242.1 62.0h0.9v0.9h-0.9zM237.1 64.9h0.9v0.9h-0.9zM242.8 60.8h0.9v0.9h-0.9zM241.2 62.0h0.9v0.9h-0.9zM234.5 67.7h0.9v0.9h-0.9zM240.9 62.5h0.9v0.9h-0.9zM242.8 60.0h0.9v0.9h-0.9zM241.5 63.6h0.9v0.9h-0.9zM237.4 64.2h0.9v0.9h-0.9zM233.7 67.2h0.9v0.9h-0.9zM236.2 65.6h0.9v0.9h-0.9zM236.5 65.1h0.9v0.9h-0.9zM236.1 65.5h0.9v0.9h-0.9zM242.7 60.4h0.9v0.9h-0.9zM238.9 62.9h0.9v0.9h-0.9zM240.4 61.8h0.9v0.9h-0.9zM241.7 61.1h0.9v0.9h-0.9zM239.4 64.0h0.9v0.9h-0.9zM241.6 61.8h0.9v0.9h-0.9zM240.5 63.7h0.9v0.9h-0.9zM235.3 66.8h0.9v0.9h-0.9zM236.0 66.0h0.9v0.9h-0.9zM234.7 67.0h0.9v0.9h-0.9zM235.9 66.7h0.9v0.9h-0.9zM234.8 66.2h0.9v0.9h-0.9zM241.2 61.7h0.9v0.9h-0.9zM239.4 63.7h0.9v0.9h-0.9zM235.3 66.2h0.9v0.9h-0.9zM235.1 46.7h0.9v0.9h-0.9zM238.9 44.3h0.9v0.9h-0.9zM245.7 57.9h0.9v0.9h-0.9zM240.8 59.3h0.9v0.9h-0.9zM243.2 51.1h0.9v0.9h-0.9zM246.6 50.1h0.9v0.9h-0.9zM236.0 50.1h0.9v0.9h-0.9zM244.7 62.2h0.9v0.9h-0.9zM239.9 54.9h0.9v0.9h-0.9zM248.6 59.8h0.9v0.9h-0.9zM250.5 51.1h0.9v0.9h-0.9z" fill="#d4d4d4" opacity="0.45"/>
<path d="M225.0 54.9h0.9v0.9h-0.9zM220.2 53.6h0.9v0.9h-0.9zM223.1 54.6h0.9v0.9h-0.9zM220.1 53.4h0.9v0.9h-0.9zM217.8 51.2h0.9v0.9h-0.9zM218.0 51.5h0.9v0.9h-0.9zM216.4 51.7h0.9v0.9h-0.9zM217.6 51.0h0.9v0.9h-0.9zM215.9 52.4h0.9v0.9h-0.9zM222.4 54.1h0.9v0.9h-0.9zM218.1 51.3h0.9v0.9h-0.9zM222.7 54.8h0.9v0.9h-0.9zM220.6 54.3h0.9v0.9h-0.9zM220.4 53.4h0.9v0.9h-0.9zM225.3 54.8h0.9v0.9h-0.9zM216.3 51.5h0.9v0.9h-0.9zM219.9 52.7h0.9v0.9h-0.9zM222.0 53.8h0.9v0.9h-0.9zM216.6 51.3h0.9v0.9h-0.9zM218.3 51.0h0.9v0.9h-0.9zM220.6 52.1h0.9v0.9h-0.9zM225.4 53.3h0.9v0.9h-0.9zM227.2 50.9h0.9v0.9h-0.9zM226.2 51.2h0.9v0.9h-0.9zM227.9 54.7h0.9v0.9h-0.9zM227.7 54.6h0.9v0.9h-0.9zM233.7 58.8h0.9v0.9h-0.9zM231.2 56.5h0.9v0.9h-0.9zM229.4 54.9h0.9v0.9h-0.9zM232.0 58.9h0.9v0.9h-0.9zM234.8 67.7h0.9v0.9h-0.9zM235.6 66.5h0.9v0.9h-0.9zM241.9 62.3h0.9v0.9h-0.9zM243.7 60.2h0.9v0.9h-0.9zM236.5 65.6h0.9v0.9h-0.9zM242.9 60.1h0.9v0.9h-0.9zM234.3 67.3h0.9v0.9h-0.9zM240.1 63.2h0.9v0.9h-0.9zM238.5 64.5h0.9v0.9h-0.9zM243.3 60.2h0.9v0.9h-0.9zM241.7 61.6h0.9v0.9h-0.9zM236.7 65.1h0.9v0.9h-0.9zM235.4 65.9h0.9v0.9h-0.9zM240.5 63.1h0.9v0.9h-0.9zM242.3 60.5h0.9v0.9h-0.9zM235.5 65.0h0.9v0.9h-0.9zM236.7 63.8h0.9v0.9h-0.9zM239.6 63.6h0.9v0.9h-0.9zM242.8 60.6h0.9v0.9h-0.9zM238.3 63.5h0.9v0.9h-0.9zM239.2 63.0h0.9v0.9h-0.9zM239.2 63.5h0.9v0.9h-0.9zM241.9 62.2h0.9v0.9h-0.9zM235.1 66.3h0.9v0.9h-0.9zM238.7 64.6h0.9v0.9h-0.9zM239.8 61.6h0.9v0.9h-0.9zM235.5 66.5h0.9v0.9h-0.9zM238.1 64.1h0.9v0.9h-0.9zM236.3 65.5h0.9v0.9h-0.9zM242.1 60.2h0.9v0.9h-0.9zM237.2 65.4h0.9v0.9h-0.9zM239.4 62.8h0.9v0.9h-0.9zM241.1 61.4h0.9v0.9h-0.9zM233.8 67.6h0.9v0.9h-0.9zM238.7 62.2h0.9v0.9h-0.9zM234.2 66.9h0.9v0.9h-0.9zM234.1 68.7h0.9v0.9h-0.9zM238.0 64.5h0.9v0.9h-0.9zM243.8 58.9h0.9v0.9h-0.9zM236.4 66.3h0.9v0.9h-0.9zM240.4 63.1h0.9v0.9h-0.9zM240.7 62.8h0.9v0.9h-0.9zM242.0 60.8h0.9v0.9h-0.9zM241.4 61.7h0.9v0.9h-0.9zM235.6 66.4h0.9v0.9h-0.9zM239.0 64.2h0.9v0.9h-0.9zM242.5 61.4h0.9v0.9h-0.9zM237.5 61.3h0.9v0.9h-0.9z" fill="#dc4a40" opacity="0.6"/>
<text x="208.1" y="30.7" font-size="8.9" font-style="italic" fill="#222">Ccr2</text>
<rect x="205.6" y="74.5" width="51.2" height="51.0" fill="#fff" stroke="#8a8a8a" stroke-width="1.3"/>
<path d="M239.1 81.5h0.9v0.9h-0.9zM239.6 81.9h0.9v0.9h-0.9zM237.0 83.1h0.9v0.9h-0.9zM243.6 80.7h0.9v0.9h-0.9zM237.1 82.8h0.9v0.9h-0.9zM237.7 83.6h0.9v0.9h-0.9zM241.8 80.9h0.9v0.9h-0.9zM236.0 83.8h0.9v0.9h-0.9zM237.8 83.2h0.9v0.9h-0.9zM239.3 82.3h0.9v0.9h-0.9zM240.4 81.2h0.9v0.9h-0.9zM241.7 81.2h0.9v0.9h-0.9zM246.2 79.6h0.9v0.9h-0.9zM242.4 81.2h0.9v0.9h-0.9zM239.5 83.0h0.9v0.9h-0.9zM240.0 81.8h0.9v0.9h-0.9zM244.8 79.8h0.9v0.9h-0.9zM238.4 82.7h0.9v0.9h-0.9zM244.8 79.8h0.9v0.9h-0.9zM241.9 80.8h0.9v0.9h-0.9zM236.2 84.7h0.9v0.9h-0.9zM243.3 80.9h0.9v0.9h-0.9zM237.8 83.8h0.9v0.9h-0.9zM237.1 82.9h0.9v0.9h-0.9zM237.7 82.8h0.9v0.9h-0.9zM242.3 81.5h0.9v0.9h-0.9zM237.8 84.4h0.9v0.9h-0.9zM243.0 81.5h0.9v0.9h-0.9zM237.1 83.6h0.9v0.9h-0.9zM243.2 82.1h0.9v0.9h-0.9zM237.9 83.9h0.9v0.9h-0.9zM239.0 82.7h0.9v0.9h-0.9zM236.5 83.3h0.9v0.9h-0.9zM241.1 81.7h0.9v0.9h-0.9zM244.1 79.8h0.9v0.9h-0.9zM244.1 80.5h0.9v0.9h-0.9zM244.5 79.6h0.9v0.9h-0.9zM237.7 81.9h0.9v0.9h-0.9zM238.8 82.7h0.9v0.9h-0.9zM241.3 81.4h0.9v0.9h-0.9zM236.7 83.7h0.9v0.9h-0.9zM242.4 81.8h0.9v0.9h-0.9zM241.4 81.7h0.9v0.9h-0.9zM243.0 81.0h0.9v0.9h-0.9zM241.6 80.9h0.9v0.9h-0.9zM238.9 82.5h0.9v0.9h-0.9zM236.1 84.4h0.9v0.9h-0.9zM236.8 84.1h0.9v0.9h-0.9zM241.6 81.8h0.9v0.9h-0.9zM244.9 80.0h0.9v0.9h-0.9zM242.1 80.8h0.9v0.9h-0.9zM237.5 83.9h0.9v0.9h-0.9zM242.5 80.9h0.9v0.9h-0.9zM241.0 81.3h0.9v0.9h-0.9zM239.1 82.5h0.9v0.9h-0.9zM240.9 80.5h0.9v0.9h-0.9zM242.5 79.9h0.9v0.9h-0.9zM243.9 80.6h0.9v0.9h-0.9zM244.6 79.6h0.9v0.9h-0.9zM243.7 80.0h0.9v0.9h-0.9zM241.2 81.7h0.9v0.9h-0.9zM242.2 81.6h0.9v0.9h-0.9zM245.7 79.1h0.9v0.9h-0.9zM239.5 81.6h0.9v0.9h-0.9zM240.2 81.8h0.9v0.9h-0.9zM243.6 80.8h0.9v0.9h-0.9zM240.5 82.6h0.9v0.9h-0.9zM239.7 81.0h0.9v0.9h-0.9zM238.8 82.8h0.9v0.9h-0.9zM242.3 81.3h0.9v0.9h-0.9zM244.0 79.5h0.9v0.9h-0.9zM243.8 80.7h0.9v0.9h-0.9zM237.0 83.5h0.9v0.9h-0.9zM244.8 79.6h0.9v0.9h-0.9zM241.2 81.7h0.9v0.9h-0.9zM241.1 80.9h0.9v0.9h-0.9zM242.9 80.7h0.9v0.9h-0.9zM237.2 83.3h0.9v0.9h-0.9zM237.4 83.4h0.9v0.9h-0.9zM240.1 82.7h0.9v0.9h-0.9zM244.8 79.7h0.9v0.9h-0.9zM236.4 83.7h0.9v0.9h-0.9zM242.1 80.7h0.9v0.9h-0.9zM243.5 80.5h0.9v0.9h-0.9zM241.2 82.1h0.9v0.9h-0.9zM238.3 83.0h0.9v0.9h-0.9zM241.1 81.4h0.9v0.9h-0.9zM242.5 79.9h0.9v0.9h-0.9zM242.5 81.5h0.9v0.9h-0.9zM238.2 83.2h0.9v0.9h-0.9zM242.7 81.2h0.9v0.9h-0.9zM239.0 81.8h0.9v0.9h-0.9zM241.7 80.7h0.9v0.9h-0.9zM243.5 80.4h0.9v0.9h-0.9zM244.5 79.6h0.9v0.9h-0.9zM248.6 78.4h0.9v0.9h-0.9zM232.2 86.9h0.9v0.9h-0.9zM231.7 87.8h0.9v0.9h-0.9zM226.4 92.3h0.9v0.9h-0.9zM227.3 93.8h0.9v0.9h-0.9zM228.8 90.4h0.9v0.9h-0.9zM250.5 92.6h0.9v0.9h-0.9zM250.1 92.9h0.9v0.9h-0.9zM252.6 92.5h0.9v0.9h-0.9zM251.9 93.4h0.9v0.9h-0.9zM251.9 92.2h0.9v0.9h-0.9zM251.0 92.9h0.9v0.9h-0.9zM252.2 92.2h0.9v0.9h-0.9zM251.2 92.9h0.9v0.9h-0.9zM251.0 93.4h0.9v0.9h-0.9zM251.4 92.6h0.9v0.9h-0.9zM216.9 96.1h0.9v0.9h-0.9zM218.6 95.9h0.9v0.9h-0.9zM219.8 96.7h0.9v0.9h-0.9zM220.6 97.2h0.9v0.9h-0.9zM218.6 97.3h0.9v0.9h-0.9zM218.7 97.1h0.9v0.9h-0.9zM220.2 96.8h0.9v0.9h-0.9zM220.5 96.9h0.9v0.9h-0.9zM219.1 97.2h0.9v0.9h-0.9zM218.6 96.6h0.9v0.9h-0.9zM220.1 97.0h0.9v0.9h-0.9zM219.4 96.7h0.9v0.9h-0.9zM219.9 97.0h0.9v0.9h-0.9zM219.2 96.3h0.9v0.9h-0.9zM217.6 96.5h0.9v0.9h-0.9zM218.8 95.8h0.9v0.9h-0.9zM219.3 96.7h0.9v0.9h-0.9zM220.0 96.9h0.9v0.9h-0.9zM223.3 96.8h0.9v0.9h-0.9zM223.3 95.9h0.9v0.9h-0.9zM223.5 95.8h0.9v0.9h-0.9zM223.0 96.1h0.9v0.9h-0.9zM223.0 96.4h0.9v0.9h-0.9zM222.9 96.6h0.9v0.9h-0.9zM223.7 96.6h0.9v0.9h-0.9zM222.9 95.4h0.9v0.9h-0.9zM222.4 95.9h0.9v0.9h-0.9zM222.6 95.2h0.9v0.9h-0.9zM224.0 94.6h0.9v0.9h-0.9zM223.3 96.8h0.9v0.9h-0.9zM224.7 96.1h0.9v0.9h-0.9zM223.8 96.6h0.9v0.9h-0.9zM223.4 95.6h0.9v0.9h-0.9zM222.6 96.8h0.9v0.9h-0.9zM223.9 96.7h0.9v0.9h-0.9zM210.9 104.9h0.9v0.9h-0.9zM212.7 103.8h0.9v0.9h-0.9zM211.6 105.7h0.9v0.9h-0.9zM211.0 104.0h0.9v0.9h-0.9zM210.8 104.5h0.9v0.9h-0.9zM211.3 105.2h0.9v0.9h-0.9zM211.9 105.3h0.9v0.9h-0.9zM210.0 104.9h0.9v0.9h-0.9zM211.3 105.5h0.9v0.9h-0.9zM211.4 106.6h0.9v0.9h-0.9zM212.7 104.9h0.9v0.9h-0.9zM211.2 105.2h0.9v0.9h-0.9zM211.8 104.8h0.9v0.9h-0.9zM211.0 104.3h0.9v0.9h-0.9zM210.0 105.3h0.9v0.9h-0.9zM210.0 105.5h0.9v0.9h-0.9zM211.2 104.6h0.9v0.9h-0.9zM209.7 105.4h0.9v0.9h-0.9zM211.4 105.9h0.9v0.9h-0.9zM217.8 104.9h0.9v0.9h-0.9zM223.3 108.0h0.9v0.9h-0.9zM218.8 107.0h0.9v0.9h-0.9zM224.1 108.2h0.9v0.9h-0.9zM221.5 110.7h0.9v0.9h-0.9zM223.3 108.2h0.9v0.9h-0.9zM221.3 110.1h0.9v0.9h-0.9zM220.2 108.3h0.9v0.9h-0.9zM223.1 109.3h0.9v0.9h-0.9zM221.5 107.9h0.9v0.9h-0.9zM220.4 107.9h0.9v0.9h-0.9zM220.1 108.1h0.9v0.9h-0.9zM223.0 109.5h0.9v0.9h-0.9zM221.6 108.8h0.9v0.9h-0.9zM221.9 108.4h0.9v0.9h-0.9zM221.5 108.3h0.9v0.9h-0.9zM224.9 111.0h0.9v0.9h-0.9zM218.0 106.2h0.9v0.9h-0.9zM218.5 106.4h0.9v0.9h-0.9zM216.4 106.4h0.9v0.9h-0.9zM217.6 105.7h0.9v0.9h-0.9zM224.0 109.6h0.9v0.9h-0.9zM225.2 110.1h0.9v0.9h-0.9zM224.7 111.4h0.9v0.9h-0.9zM224.2 108.9h0.9v0.9h-0.9zM225.3 109.0h0.9v0.9h-0.9zM219.2 107.3h0.9v0.9h-0.9zM220.1 109.3h0.9v0.9h-0.9zM220.1 106.6h0.9v0.9h-0.9zM226.5 109.8h0.9v0.9h-0.9zM219.9 108.4h0.9v0.9h-0.9zM222.4 108.7h0.9v0.9h-0.9zM220.3 107.3h0.9v0.9h-0.9zM217.9 109.6h0.9v0.9h-0.9zM224.4 109.8h0.9v0.9h-0.9zM216.6 107.3h0.9v0.9h-0.9zM218.2 107.1h0.9v0.9h-0.9zM220.4 107.7h0.9v0.9h-0.9zM222.9 108.9h0.9v0.9h-0.9zM217.8 105.2h0.9v0.9h-0.9zM223.2 110.4h0.9v0.9h-0.9zM218.9 106.2h0.9v0.9h-0.9zM219.7 108.2h0.9v0.9h-0.9zM219.6 108.6h0.9v0.9h-0.9zM218.9 106.9h0.9v0.9h-0.9zM218.7 105.8h0.9v0.9h-0.9zM219.3 108.0h0.9v0.9h-0.9zM222.2 109.5h0.9v0.9h-0.9zM220.4 108.1h0.9v0.9h-0.9zM225.3 109.5h0.9v0.9h-0.9zM221.7 106.9h0.9v0.9h-0.9zM216.3 106.1h0.9v0.9h-0.9zM221.6 107.2h0.9v0.9h-0.9zM217.9 104.7h0.9v0.9h-0.9zM218.6 107.3h0.9v0.9h-0.9zM221.1 108.0h0.9v0.9h-0.9zM216.8 104.2h0.9v0.9h-0.9zM216.6 105.9h0.9v0.9h-0.9zM218.3 105.7h0.9v0.9h-0.9zM222.2 109.9h0.9v0.9h-0.9zM224.1 109.1h0.9v0.9h-0.9zM222.6 111.0h0.9v0.9h-0.9zM223.2 107.4h0.9v0.9h-0.9zM225.4 108.0h0.9v0.9h-0.9zM226.4 104.8h0.9v0.9h-0.9zM227.2 105.6h0.9v0.9h-0.9zM225.7 101.9h0.9v0.9h-0.9zM226.7 104.6h0.9v0.9h-0.9zM226.2 105.9h0.9v0.9h-0.9zM227.3 104.6h0.9v0.9h-0.9zM233.7 113.9h0.9v0.9h-0.9zM227.9 109.3h0.9v0.9h-0.9zM231.6 112.3h0.9v0.9h-0.9zM227.7 109.3h0.9v0.9h-0.9zM231.9 113.4h0.9v0.9h-0.9zM232.2 113.2h0.9v0.9h-0.9zM233.7 113.4h0.9v0.9h-0.9zM231.2 111.2h0.9v0.9h-0.9zM229.4 109.6h0.9v0.9h-0.9zM232.0 113.5h0.9v0.9h-0.9zM230.1 112.9h0.9v0.9h-0.9zM231.5 112.2h0.9v0.9h-0.9zM244.0 100.2h0.9v0.9h-0.9zM246.7 100.9h0.9v0.9h-0.9zM242.0 97.4h0.9v0.9h-0.9zM249.4 104.2h0.9v0.9h-0.9zM242.2 96.8h0.9v0.9h-0.9zM241.4 97.4h0.9v0.9h-0.9zM240.9 96.5h0.9v0.9h-0.9zM247.9 102.3h0.9v0.9h-0.9zM249.9 103.4h0.9v0.9h-0.9zM241.8 97.0h0.9v0.9h-0.9zM242.5 96.3h0.9v0.9h-0.9zM244.1 98.3h0.9v0.9h-0.9zM247.4 101.4h0.9v0.9h-0.9zM246.2 98.9h0.9v0.9h-0.9zM247.1 102.1h0.9v0.9h-0.9zM247.0 99.3h0.9v0.9h-0.9zM248.0 102.8h0.9v0.9h-0.9zM242.7 98.5h0.9v0.9h-0.9zM243.1 98.6h0.9v0.9h-0.9zM246.6 101.3h0.9v0.9h-0.9zM246.4 102.8h0.9v0.9h-0.9zM245.6 99.4h0.9v0.9h-0.9zM248.3 102.2h0.9v0.9h-0.9zM251.2 110.1h0.9v0.9h-0.9zM249.6 109.2h0.9v0.9h-0.9zM250.7 110.0h0.9v0.9h-0.9zM251.9 110.2h0.9v0.9h-0.9zM250.4 108.6h0.9v0.9h-0.9zM251.0 109.4h0.9v0.9h-0.9zM249.9 109.3h0.9v0.9h-0.9zM249.6 109.0h0.9v0.9h-0.9zM250.2 107.5h0.9v0.9h-0.9zM249.1 109.1h0.9v0.9h-0.9zM250.3 108.9h0.9v0.9h-0.9zM251.3 108.9h0.9v0.9h-0.9zM251.8 109.3h0.9v0.9h-0.9zM250.4 108.7h0.9v0.9h-0.9zM250.6 109.0h0.9v0.9h-0.9zM250.5 110.4h0.9v0.9h-0.9zM250.2 109.5h0.9v0.9h-0.9zM251.3 108.9h0.9v0.9h-0.9zM249.1 110.1h0.9v0.9h-0.9zM249.9 110.5h0.9v0.9h-0.9zM249.4 108.0h0.9v0.9h-0.9zM250.0 108.4h0.9v0.9h-0.9zM251.8 109.3h0.9v0.9h-0.9zM251.0 108.8h0.9v0.9h-0.9zM250.7 108.9h0.9v0.9h-0.9zM251.5 109.8h0.9v0.9h-0.9zM251.3 108.5h0.9v0.9h-0.9zM249.6 110.5h0.9v0.9h-0.9zM235.6 121.0h0.9v0.9h-0.9zM242.1 116.5h0.9v0.9h-0.9zM243.7 114.8h0.9v0.9h-0.9zM238.5 119.0h0.9v0.9h-0.9zM243.3 114.8h0.9v0.9h-0.9zM236.7 119.7h0.9v0.9h-0.9zM235.4 120.4h0.9v0.9h-0.9zM240.5 117.7h0.9v0.9h-0.9zM242.3 115.1h0.9v0.9h-0.9zM241.2 116.6h0.9v0.9h-0.9zM239.6 118.1h0.9v0.9h-0.9zM242.8 114.6h0.9v0.9h-0.9zM236.2 120.1h0.9v0.9h-0.9zM236.5 119.6h0.9v0.9h-0.9zM242.8 115.2h0.9v0.9h-0.9zM238.3 118.1h0.9v0.9h-0.9zM238.9 117.5h0.9v0.9h-0.9zM240.4 116.4h0.9v0.9h-0.9zM241.7 115.7h0.9v0.9h-0.9zM242.1 114.8h0.9v0.9h-0.9zM235.3 121.3h0.9v0.9h-0.9zM241.1 116.0h0.9v0.9h-0.9zM233.8 122.1h0.9v0.9h-0.9zM236.0 120.6h0.9v0.9h-0.9zM234.2 121.4h0.9v0.9h-0.9zM234.1 123.2h0.9v0.9h-0.9zM234.7 121.5h0.9v0.9h-0.9zM238.0 119.0h0.9v0.9h-0.9zM243.8 113.5h0.9v0.9h-0.9zM240.7 117.4h0.9v0.9h-0.9zM241.4 116.3h0.9v0.9h-0.9zM235.6 120.9h0.9v0.9h-0.9zM235.3 120.7h0.9v0.9h-0.9zM235.1 101.4h0.9v0.9h-0.9zM238.9 99.0h0.9v0.9h-0.9zM245.7 112.5h0.9v0.9h-0.9zM240.8 113.9h0.9v0.9h-0.9zM237.5 115.8h0.9v0.9h-0.9zM243.2 105.8h0.9v0.9h-0.9zM246.6 104.8h0.9v0.9h-0.9zM236.0 104.8h0.9v0.9h-0.9zM244.7 116.8h0.9v0.9h-0.9zM239.9 109.6h0.9v0.9h-0.9zM248.6 114.4h0.9v0.9h-0.9zM250.5 105.8h0.9v0.9h-0.9z" fill="#d4d4d4" opacity="0.45"/>
<path d="M220.0 97.3h0.9v0.9h-0.9zM219.9 97.1h0.9v0.9h-0.9zM218.4 96.7h0.9v0.9h-0.9zM218.5 96.9h0.9v0.9h-0.9zM223.6 97.3h0.9v0.9h-0.9zM223.7 97.1h0.9v0.9h-0.9zM223.6 97.4h0.9v0.9h-0.9zM223.8 95.9h0.9v0.9h-0.9zM224.4 97.0h0.9v0.9h-0.9zM211.3 106.3h0.9v0.9h-0.9zM212.2 105.2h0.9v0.9h-0.9zM210.5 105.4h0.9v0.9h-0.9zM225.0 109.5h0.9v0.9h-0.9zM221.6 110.2h0.9v0.9h-0.9zM216.2 107.3h0.9v0.9h-0.9zM215.5 107.2h0.9v0.9h-0.9zM221.9 111.1h0.9v0.9h-0.9zM223.9 109.1h0.9v0.9h-0.9zM216.3 106.8h0.9v0.9h-0.9zM217.8 105.9h0.9v0.9h-0.9zM220.0 107.7h0.9v0.9h-0.9zM223.1 110.4h0.9v0.9h-0.9zM216.5 105.7h0.9v0.9h-0.9zM215.9 107.1h0.9v0.9h-0.9zM218.1 106.0h0.9v0.9h-0.9zM222.7 109.4h0.9v0.9h-0.9zM220.6 109.0h0.9v0.9h-0.9zM222.8 108.8h0.9v0.9h-0.9zM221.0 106.1h0.9v0.9h-0.9zM224.2 110.0h0.9v0.9h-0.9zM217.9 106.6h0.9v0.9h-0.9zM222.9 110.3h0.9v0.9h-0.9zM217.8 107.8h0.9v0.9h-0.9zM218.6 108.2h0.9v0.9h-0.9zM219.9 107.4h0.9v0.9h-0.9zM222.0 108.5h0.9v0.9h-0.9zM222.3 108.6h0.9v0.9h-0.9zM220.6 106.8h0.9v0.9h-0.9zM225.5 103.8h0.9v0.9h-0.9zM224.9 103.7h0.9v0.9h-0.9zM247.4 102.3h0.9v0.9h-0.9zM248.7 100.9h0.9v0.9h-0.9zM243.7 97.3h0.9v0.9h-0.9zM244.7 98.6h0.9v0.9h-0.9zM247.2 100.8h0.9v0.9h-0.9zM249.8 108.8h0.9v0.9h-0.9zM248.5 110.3h0.9v0.9h-0.9zM250.1 109.9h0.9v0.9h-0.9zM249.0 109.8h0.9v0.9h-0.9zM249.0 108.2h0.9v0.9h-0.9zM249.5 110.1h0.9v0.9h-0.9zM249.2 107.0h0.9v0.9h-0.9zM250.3 108.1h0.9v0.9h-0.9zM249.6 110.1h0.9v0.9h-0.9zM249.7 109.0h0.9v0.9h-0.9zM249.2 110.1h0.9v0.9h-0.9zM250.4 107.8h0.9v0.9h-0.9zM249.5 109.4h0.9v0.9h-0.9zM249.4 106.9h0.9v0.9h-0.9zM248.5 109.2h0.9v0.9h-0.9zM250.1 109.7h0.9v0.9h-0.9zM250.0 110.5h0.9v0.9h-0.9zM249.7 108.6h0.9v0.9h-0.9zM250.8 109.0h0.9v0.9h-0.9zM249.5 109.5h0.9v0.9h-0.9zM250.5 109.3h0.9v0.9h-0.9zM251.0 108.7h0.9v0.9h-0.9zM248.9 108.9h0.9v0.9h-0.9zM249.8 111.2h0.9v0.9h-0.9zM249.6 109.1h0.9v0.9h-0.9zM248.4 108.6h0.9v0.9h-0.9zM251.2 111.7h0.9v0.9h-0.9zM249.5 110.6h0.9v0.9h-0.9zM249.9 108.5h0.9v0.9h-0.9zM248.5 108.5h0.9v0.9h-0.9zM250.6 109.4h0.9v0.9h-0.9zM249.5 109.5h0.9v0.9h-0.9zM250.5 110.3h0.9v0.9h-0.9zM249.3 110.4h0.9v0.9h-0.9zM251.4 109.7h0.9v0.9h-0.9zM251.5 111.1h0.9v0.9h-0.9zM249.1 108.8h0.9v0.9h-0.9zM248.9 110.0h0.9v0.9h-0.9zM250.6 108.7h0.9v0.9h-0.9zM248.9 109.8h0.9v0.9h-0.9zM249.0 109.2h0.9v0.9h-0.9zM248.7 108.5h0.9v0.9h-0.9zM234.8 122.2h0.9v0.9h-0.9zM238.5 118.5h0.9v0.9h-0.9zM240.2 116.7h0.9v0.9h-0.9zM236.4 120.2h0.9v0.9h-0.9zM240.8 116.6h0.9v0.9h-0.9zM241.9 116.9h0.9v0.9h-0.9zM239.6 117.7h0.9v0.9h-0.9zM236.5 120.1h0.9v0.9h-0.9zM242.9 114.7h0.9v0.9h-0.9zM237.1 119.4h0.9v0.9h-0.9zM234.3 121.8h0.9v0.9h-0.9zM240.1 117.7h0.9v0.9h-0.9zM241.7 116.2h0.9v0.9h-0.9zM242.8 115.4h0.9v0.9h-0.9zM234.5 122.2h0.9v0.9h-0.9zM240.9 117.0h0.9v0.9h-0.9zM235.5 119.6h0.9v0.9h-0.9zM236.7 118.4h0.9v0.9h-0.9zM241.5 118.1h0.9v0.9h-0.9zM237.4 118.7h0.9v0.9h-0.9zM233.7 121.7h0.9v0.9h-0.9zM236.1 120.0h0.9v0.9h-0.9zM242.7 115.0h0.9v0.9h-0.9zM239.2 117.6h0.9v0.9h-0.9zM239.2 118.1h0.9v0.9h-0.9zM241.9 116.8h0.9v0.9h-0.9zM235.1 120.8h0.9v0.9h-0.9zM238.7 119.2h0.9v0.9h-0.9zM239.4 118.5h0.9v0.9h-0.9zM239.8 116.1h0.9v0.9h-0.9zM235.5 121.0h0.9v0.9h-0.9zM238.1 118.6h0.9v0.9h-0.9zM236.3 120.0h0.9v0.9h-0.9zM241.6 116.4h0.9v0.9h-0.9zM237.2 120.0h0.9v0.9h-0.9zM239.4 117.3h0.9v0.9h-0.9zM240.5 118.2h0.9v0.9h-0.9zM238.7 116.8h0.9v0.9h-0.9zM235.9 121.2h0.9v0.9h-0.9zM234.8 120.7h0.9v0.9h-0.9zM236.4 120.8h0.9v0.9h-0.9zM240.4 117.6h0.9v0.9h-0.9zM241.2 116.2h0.9v0.9h-0.9zM242.0 115.4h0.9v0.9h-0.9zM239.4 118.3h0.9v0.9h-0.9zM239.0 118.7h0.9v0.9h-0.9zM242.5 116.0h0.9v0.9h-0.9z" fill="#dc4a40" opacity="0.6"/>
<text x="208.1" y="85.7" font-size="8.9" font-style="italic" fill="#222">Itgam</text>
<rect x="205.6" y="129.5" width="51.2" height="50.5" fill="#fff" stroke="#8a8a8a" stroke-width="1.3"/>
<path d="M239.1 136.5h0.9v0.9h-0.9zM239.6 136.8h0.9v0.9h-0.9zM237.0 138.0h0.9v0.9h-0.9zM243.6 135.7h0.9v0.9h-0.9zM237.1 137.7h0.9v0.9h-0.9zM237.7 138.5h0.9v0.9h-0.9zM241.8 135.8h0.9v0.9h-0.9zM236.0 138.7h0.9v0.9h-0.9zM237.8 138.2h0.9v0.9h-0.9zM239.3 137.2h0.9v0.9h-0.9zM240.4 136.2h0.9v0.9h-0.9zM241.7 136.1h0.9v0.9h-0.9zM246.2 134.5h0.9v0.9h-0.9zM242.4 136.2h0.9v0.9h-0.9zM239.5 138.0h0.9v0.9h-0.9zM240.0 136.7h0.9v0.9h-0.9zM244.8 134.7h0.9v0.9h-0.9zM238.4 137.6h0.9v0.9h-0.9zM244.8 134.8h0.9v0.9h-0.9zM241.9 135.7h0.9v0.9h-0.9zM236.2 139.6h0.9v0.9h-0.9zM243.3 135.9h0.9v0.9h-0.9zM237.8 138.7h0.9v0.9h-0.9zM237.1 137.9h0.9v0.9h-0.9zM237.7 137.8h0.9v0.9h-0.9zM242.3 136.4h0.9v0.9h-0.9zM237.8 139.3h0.9v0.9h-0.9zM243.0 136.4h0.9v0.9h-0.9zM237.1 138.6h0.9v0.9h-0.9zM243.2 137.0h0.9v0.9h-0.9zM237.9 138.8h0.9v0.9h-0.9zM239.0 137.6h0.9v0.9h-0.9zM236.5 138.3h0.9v0.9h-0.9zM241.1 136.7h0.9v0.9h-0.9zM244.1 134.8h0.9v0.9h-0.9zM244.1 135.4h0.9v0.9h-0.9zM244.5 134.6h0.9v0.9h-0.9zM237.7 136.8h0.9v0.9h-0.9zM238.8 137.7h0.9v0.9h-0.9zM241.3 136.4h0.9v0.9h-0.9zM236.7 138.6h0.9v0.9h-0.9zM242.4 136.8h0.9v0.9h-0.9zM241.4 136.6h0.9v0.9h-0.9zM243.0 135.9h0.9v0.9h-0.9zM241.6 135.9h0.9v0.9h-0.9zM238.9 137.5h0.9v0.9h-0.9zM236.1 139.3h0.9v0.9h-0.9zM236.8 139.0h0.9v0.9h-0.9zM241.6 136.7h0.9v0.9h-0.9zM244.9 134.9h0.9v0.9h-0.9zM242.1 135.7h0.9v0.9h-0.9zM237.5 138.8h0.9v0.9h-0.9zM242.5 135.8h0.9v0.9h-0.9zM241.0 136.2h0.9v0.9h-0.9zM239.1 137.5h0.9v0.9h-0.9zM240.9 135.4h0.9v0.9h-0.9zM242.5 134.8h0.9v0.9h-0.9zM243.9 135.6h0.9v0.9h-0.9zM244.6 134.6h0.9v0.9h-0.9zM243.7 135.0h0.9v0.9h-0.9zM241.2 136.6h0.9v0.9h-0.9zM242.2 136.6h0.9v0.9h-0.9zM245.7 134.0h0.9v0.9h-0.9zM239.5 136.5h0.9v0.9h-0.9zM240.2 136.8h0.9v0.9h-0.9zM243.6 135.8h0.9v0.9h-0.9zM240.5 137.6h0.9v0.9h-0.9zM239.7 136.0h0.9v0.9h-0.9zM238.8 137.8h0.9v0.9h-0.9zM242.3 136.2h0.9v0.9h-0.9zM244.0 134.5h0.9v0.9h-0.9zM243.8 135.7h0.9v0.9h-0.9zM237.0 138.4h0.9v0.9h-0.9zM244.8 134.6h0.9v0.9h-0.9zM241.2 136.6h0.9v0.9h-0.9zM241.1 135.9h0.9v0.9h-0.9zM242.9 135.7h0.9v0.9h-0.9zM237.2 138.2h0.9v0.9h-0.9zM237.4 138.3h0.9v0.9h-0.9zM240.1 137.6h0.9v0.9h-0.9zM244.8 134.7h0.9v0.9h-0.9zM236.4 138.6h0.9v0.9h-0.9zM242.1 135.6h0.9v0.9h-0.9zM243.5 135.5h0.9v0.9h-0.9zM241.2 137.0h0.9v0.9h-0.9zM238.3 137.9h0.9v0.9h-0.9zM241.1 136.4h0.9v0.9h-0.9zM242.5 134.8h0.9v0.9h-0.9zM242.5 136.5h0.9v0.9h-0.9zM238.2 138.1h0.9v0.9h-0.9zM242.7 136.2h0.9v0.9h-0.9zM239.0 136.8h0.9v0.9h-0.9zM241.7 135.7h0.9v0.9h-0.9zM243.5 135.3h0.9v0.9h-0.9zM244.5 134.6h0.9v0.9h-0.9zM248.6 133.4h0.9v0.9h-0.9zM232.2 141.8h0.9v0.9h-0.9zM231.7 142.6h0.9v0.9h-0.9zM226.4 147.2h0.9v0.9h-0.9zM227.3 148.6h0.9v0.9h-0.9zM228.8 145.2h0.9v0.9h-0.9zM250.5 147.4h0.9v0.9h-0.9zM250.1 147.7h0.9v0.9h-0.9zM252.6 147.3h0.9v0.9h-0.9zM251.9 148.2h0.9v0.9h-0.9zM251.9 147.0h0.9v0.9h-0.9zM251.0 147.7h0.9v0.9h-0.9zM252.2 147.0h0.9v0.9h-0.9zM251.2 147.8h0.9v0.9h-0.9zM251.0 148.3h0.9v0.9h-0.9zM251.4 147.4h0.9v0.9h-0.9zM216.9 150.8h0.9v0.9h-0.9zM220.0 152.0h0.9v0.9h-0.9zM219.9 151.9h0.9v0.9h-0.9zM218.6 150.7h0.9v0.9h-0.9zM219.8 151.4h0.9v0.9h-0.9zM220.6 152.0h0.9v0.9h-0.9zM218.6 152.1h0.9v0.9h-0.9zM218.4 151.4h0.9v0.9h-0.9zM218.7 151.8h0.9v0.9h-0.9zM220.2 151.6h0.9v0.9h-0.9zM220.5 151.7h0.9v0.9h-0.9zM219.1 152.0h0.9v0.9h-0.9zM218.6 151.4h0.9v0.9h-0.9zM220.1 151.8h0.9v0.9h-0.9zM219.4 151.5h0.9v0.9h-0.9zM219.9 151.8h0.9v0.9h-0.9zM219.2 151.1h0.9v0.9h-0.9zM217.6 151.2h0.9v0.9h-0.9zM218.8 150.6h0.9v0.9h-0.9zM218.5 151.6h0.9v0.9h-0.9zM219.3 151.4h0.9v0.9h-0.9zM220.0 151.7h0.9v0.9h-0.9zM223.6 152.1h0.9v0.9h-0.9zM223.3 151.6h0.9v0.9h-0.9zM223.3 150.7h0.9v0.9h-0.9zM223.5 150.6h0.9v0.9h-0.9zM223.0 150.9h0.9v0.9h-0.9zM223.7 151.8h0.9v0.9h-0.9zM223.0 151.2h0.9v0.9h-0.9zM222.9 151.4h0.9v0.9h-0.9zM223.7 151.4h0.9v0.9h-0.9zM222.9 150.2h0.9v0.9h-0.9zM222.4 150.7h0.9v0.9h-0.9zM222.6 150.0h0.9v0.9h-0.9zM223.6 152.2h0.9v0.9h-0.9zM224.0 149.4h0.9v0.9h-0.9zM223.3 151.6h0.9v0.9h-0.9zM223.8 150.7h0.9v0.9h-0.9zM224.7 150.9h0.9v0.9h-0.9zM223.8 151.4h0.9v0.9h-0.9zM223.4 150.4h0.9v0.9h-0.9zM224.4 151.8h0.9v0.9h-0.9zM222.6 151.6h0.9v0.9h-0.9zM223.9 151.5h0.9v0.9h-0.9zM210.9 159.6h0.9v0.9h-0.9zM211.3 161.0h0.9v0.9h-0.9zM212.7 158.5h0.9v0.9h-0.9zM211.6 160.4h0.9v0.9h-0.9zM211.0 158.7h0.9v0.9h-0.9zM210.8 159.2h0.9v0.9h-0.9zM211.3 159.9h0.9v0.9h-0.9zM211.9 160.0h0.9v0.9h-0.9zM210.0 159.6h0.9v0.9h-0.9zM211.3 160.2h0.9v0.9h-0.9zM211.4 161.3h0.9v0.9h-0.9zM212.7 159.6h0.9v0.9h-0.9zM211.2 159.9h0.9v0.9h-0.9zM211.8 159.5h0.9v0.9h-0.9zM211.0 159.0h0.9v0.9h-0.9zM210.0 159.9h0.9v0.9h-0.9zM210.0 160.2h0.9v0.9h-0.9zM212.2 159.8h0.9v0.9h-0.9zM211.2 159.3h0.9v0.9h-0.9zM209.7 160.1h0.9v0.9h-0.9zM210.5 160.1h0.9v0.9h-0.9zM211.4 160.6h0.9v0.9h-0.9zM217.8 159.6h0.9v0.9h-0.9zM223.3 162.6h0.9v0.9h-0.9zM218.8 161.7h0.9v0.9h-0.9zM225.0 164.2h0.9v0.9h-0.9zM224.1 162.9h0.9v0.9h-0.9zM221.5 165.4h0.9v0.9h-0.9zM223.3 162.8h0.9v0.9h-0.9zM221.6 164.9h0.9v0.9h-0.9zM216.2 161.9h0.9v0.9h-0.9zM215.5 161.9h0.9v0.9h-0.9zM221.9 165.7h0.9v0.9h-0.9zM221.3 164.8h0.9v0.9h-0.9zM220.2 162.9h0.9v0.9h-0.9zM223.9 163.8h0.9v0.9h-0.9zM223.1 163.9h0.9v0.9h-0.9zM221.5 162.6h0.9v0.9h-0.9zM220.4 162.6h0.9v0.9h-0.9zM220.1 162.7h0.9v0.9h-0.9zM223.0 164.2h0.9v0.9h-0.9zM221.6 163.5h0.9v0.9h-0.9zM221.9 163.0h0.9v0.9h-0.9zM221.5 162.9h0.9v0.9h-0.9zM224.9 165.6h0.9v0.9h-0.9zM216.3 161.4h0.9v0.9h-0.9zM217.8 160.6h0.9v0.9h-0.9zM220.0 162.4h0.9v0.9h-0.9zM218.0 160.9h0.9v0.9h-0.9zM218.5 161.1h0.9v0.9h-0.9zM216.4 161.0h0.9v0.9h-0.9zM217.6 160.4h0.9v0.9h-0.9zM224.0 164.2h0.9v0.9h-0.9zM225.2 164.8h0.9v0.9h-0.9zM223.1 165.0h0.9v0.9h-0.9zM224.7 166.1h0.9v0.9h-0.9zM224.2 163.6h0.9v0.9h-0.9zM225.3 163.6h0.9v0.9h-0.9zM216.5 160.4h0.9v0.9h-0.9zM219.2 162.0h0.9v0.9h-0.9zM215.9 161.7h0.9v0.9h-0.9zM220.1 163.9h0.9v0.9h-0.9zM220.1 161.3h0.9v0.9h-0.9zM226.5 164.5h0.9v0.9h-0.9zM219.9 163.1h0.9v0.9h-0.9zM222.4 163.4h0.9v0.9h-0.9zM218.1 160.7h0.9v0.9h-0.9zM220.3 162.0h0.9v0.9h-0.9zM217.9 164.3h0.9v0.9h-0.9zM224.4 164.4h0.9v0.9h-0.9zM216.6 162.0h0.9v0.9h-0.9zM222.7 164.1h0.9v0.9h-0.9zM218.2 161.8h0.9v0.9h-0.9zM220.4 162.3h0.9v0.9h-0.9zM220.6 163.6h0.9v0.9h-0.9zM222.9 163.5h0.9v0.9h-0.9zM217.8 159.9h0.9v0.9h-0.9zM223.2 165.0h0.9v0.9h-0.9zM218.9 160.9h0.9v0.9h-0.9zM222.8 163.4h0.9v0.9h-0.9zM221.0 160.8h0.9v0.9h-0.9zM219.7 162.8h0.9v0.9h-0.9zM224.2 164.6h0.9v0.9h-0.9zM219.6 163.2h0.9v0.9h-0.9zM218.9 161.6h0.9v0.9h-0.9zM217.9 161.2h0.9v0.9h-0.9zM218.7 160.5h0.9v0.9h-0.9zM219.3 162.6h0.9v0.9h-0.9zM222.2 164.2h0.9v0.9h-0.9zM220.4 162.8h0.9v0.9h-0.9zM225.3 164.2h0.9v0.9h-0.9zM222.9 164.9h0.9v0.9h-0.9zM221.7 161.6h0.9v0.9h-0.9zM217.8 162.5h0.9v0.9h-0.9zM218.6 162.8h0.9v0.9h-0.9zM216.3 160.8h0.9v0.9h-0.9zM221.6 161.9h0.9v0.9h-0.9zM217.9 159.4h0.9v0.9h-0.9zM219.9 162.1h0.9v0.9h-0.9zM218.6 161.9h0.9v0.9h-0.9zM222.0 163.1h0.9v0.9h-0.9zM221.1 162.6h0.9v0.9h-0.9zM216.8 158.9h0.9v0.9h-0.9zM216.6 160.6h0.9v0.9h-0.9zM222.3 163.3h0.9v0.9h-0.9zM218.3 160.4h0.9v0.9h-0.9zM222.2 164.5h0.9v0.9h-0.9zM224.1 163.8h0.9v0.9h-0.9zM220.6 161.4h0.9v0.9h-0.9zM222.6 165.6h0.9v0.9h-0.9zM223.2 162.1h0.9v0.9h-0.9zM225.4 162.6h0.9v0.9h-0.9zM226.4 159.5h0.9v0.9h-0.9zM227.2 160.3h0.9v0.9h-0.9zM225.7 156.7h0.9v0.9h-0.9zM226.7 159.3h0.9v0.9h-0.9zM226.2 160.5h0.9v0.9h-0.9zM225.5 158.5h0.9v0.9h-0.9zM227.3 159.3h0.9v0.9h-0.9zM224.9 158.4h0.9v0.9h-0.9zM233.7 168.5h0.9v0.9h-0.9zM227.9 164.0h0.9v0.9h-0.9zM231.6 166.9h0.9v0.9h-0.9zM227.7 163.9h0.9v0.9h-0.9zM231.9 168.1h0.9v0.9h-0.9zM232.2 167.8h0.9v0.9h-0.9zM233.7 168.0h0.9v0.9h-0.9zM231.2 165.8h0.9v0.9h-0.9zM229.4 164.2h0.9v0.9h-0.9zM232.0 168.1h0.9v0.9h-0.9zM230.1 167.5h0.9v0.9h-0.9zM231.5 166.8h0.9v0.9h-0.9zM244.0 155.0h0.9v0.9h-0.9zM246.7 155.6h0.9v0.9h-0.9zM242.0 152.2h0.9v0.9h-0.9zM247.4 157.0h0.9v0.9h-0.9zM249.4 158.9h0.9v0.9h-0.9zM242.2 151.6h0.9v0.9h-0.9zM248.7 155.6h0.9v0.9h-0.9zM241.4 152.2h0.9v0.9h-0.9zM240.9 151.3h0.9v0.9h-0.9zM247.9 157.0h0.9v0.9h-0.9zM243.7 152.1h0.9v0.9h-0.9zM249.9 158.2h0.9v0.9h-0.9zM241.8 151.8h0.9v0.9h-0.9zM242.5 151.1h0.9v0.9h-0.9zM244.1 153.1h0.9v0.9h-0.9zM244.7 153.4h0.9v0.9h-0.9zM247.4 156.1h0.9v0.9h-0.9zM246.2 153.7h0.9v0.9h-0.9zM247.2 155.5h0.9v0.9h-0.9zM247.1 156.8h0.9v0.9h-0.9zM247.0 154.1h0.9v0.9h-0.9zM248.0 157.5h0.9v0.9h-0.9zM242.7 153.3h0.9v0.9h-0.9zM243.1 153.3h0.9v0.9h-0.9zM246.6 156.0h0.9v0.9h-0.9zM246.4 157.5h0.9v0.9h-0.9zM245.6 154.1h0.9v0.9h-0.9zM248.3 157.0h0.9v0.9h-0.9zM249.8 163.5h0.9v0.9h-0.9zM248.5 165.0h0.9v0.9h-0.9zM249.6 163.8h0.9v0.9h-0.9zM250.1 164.5h0.9v0.9h-0.9zM250.7 164.6h0.9v0.9h-0.9zM251.9 164.9h0.9v0.9h-0.9zM249.0 162.8h0.9v0.9h-0.9zM249.5 164.8h0.9v0.9h-0.9zM251.0 164.1h0.9v0.9h-0.9zM249.2 161.7h0.9v0.9h-0.9zM250.3 162.8h0.9v0.9h-0.9zM249.9 163.9h0.9v0.9h-0.9zM249.6 164.7h0.9v0.9h-0.9zM249.7 163.7h0.9v0.9h-0.9zM250.4 162.5h0.9v0.9h-0.9zM249.6 163.7h0.9v0.9h-0.9zM250.2 162.2h0.9v0.9h-0.9zM249.5 164.0h0.9v0.9h-0.9zM250.3 163.5h0.9v0.9h-0.9zM251.3 163.6h0.9v0.9h-0.9zM250.1 164.4h0.9v0.9h-0.9zM250.0 165.1h0.9v0.9h-0.9zM249.7 163.3h0.9v0.9h-0.9zM249.5 164.1h0.9v0.9h-0.9zM250.5 163.9h0.9v0.9h-0.9zM248.9 163.6h0.9v0.9h-0.9zM249.8 165.9h0.9v0.9h-0.9zM251.8 163.9h0.9v0.9h-0.9zM249.6 163.8h0.9v0.9h-0.9zM250.4 163.4h0.9v0.9h-0.9zM250.6 163.6h0.9v0.9h-0.9zM250.5 165.0h0.9v0.9h-0.9zM250.2 164.1h0.9v0.9h-0.9zM251.3 163.5h0.9v0.9h-0.9zM249.9 163.2h0.9v0.9h-0.9zM248.5 163.2h0.9v0.9h-0.9zM250.6 164.1h0.9v0.9h-0.9zM249.5 164.1h0.9v0.9h-0.9zM249.1 164.7h0.9v0.9h-0.9zM250.5 164.9h0.9v0.9h-0.9zM251.4 164.3h0.9v0.9h-0.9zM251.5 165.7h0.9v0.9h-0.9zM249.1 163.4h0.9v0.9h-0.9zM248.9 164.6h0.9v0.9h-0.9zM249.4 162.7h0.9v0.9h-0.9zM250.0 163.0h0.9v0.9h-0.9zM251.8 164.0h0.9v0.9h-0.9zM250.6 163.3h0.9v0.9h-0.9zM248.9 164.5h0.9v0.9h-0.9zM251.0 163.4h0.9v0.9h-0.9zM249.0 163.9h0.9v0.9h-0.9zM250.7 163.6h0.9v0.9h-0.9zM251.3 163.2h0.9v0.9h-0.9zM248.7 163.2h0.9v0.9h-0.9zM249.6 165.1h0.9v0.9h-0.9zM238.5 173.0h0.9v0.9h-0.9zM240.8 171.2h0.9v0.9h-0.9zM243.7 169.4h0.9v0.9h-0.9zM242.9 169.3h0.9v0.9h-0.9zM240.1 172.3h0.9v0.9h-0.9zM240.5 172.3h0.9v0.9h-0.9zM237.4 173.3h0.9v0.9h-0.9zM242.8 169.8h0.9v0.9h-0.9zM242.7 169.6h0.9v0.9h-0.9zM241.9 171.4h0.9v0.9h-0.9zM242.1 169.4h0.9v0.9h-0.9zM240.5 172.8h0.9v0.9h-0.9zM235.3 175.8h0.9v0.9h-0.9zM233.8 176.6h0.9v0.9h-0.9zM236.0 175.1h0.9v0.9h-0.9zM238.7 171.3h0.9v0.9h-0.9zM234.2 176.0h0.9v0.9h-0.9zM238.0 173.6h0.9v0.9h-0.9zM234.8 175.3h0.9v0.9h-0.9zM236.4 175.4h0.9v0.9h-0.9zM241.2 170.8h0.9v0.9h-0.9zM239.0 173.3h0.9v0.9h-0.9zM235.1 156.2h0.9v0.9h-0.9zM238.9 153.8h0.9v0.9h-0.9zM245.7 167.1h0.9v0.9h-0.9zM240.8 168.5h0.9v0.9h-0.9zM237.5 170.4h0.9v0.9h-0.9zM243.2 160.4h0.9v0.9h-0.9zM246.6 159.5h0.9v0.9h-0.9zM236.0 159.5h0.9v0.9h-0.9zM244.7 171.4h0.9v0.9h-0.9zM239.9 164.2h0.9v0.9h-0.9zM248.6 169.0h0.9v0.9h-0.9zM250.5 160.4h0.9v0.9h-0.9z" fill="#d4d4d4" opacity="0.45"/>
<path d="M251.2 164.7h0.9v0.9h-0.9zM249.0 164.5h0.9v0.9h-0.9zM250.4 163.3h0.9v0.9h-0.9zM249.2 164.7h0.9v0.9h-0.9zM249.1 163.8h0.9v0.9h-0.9zM249.4 161.6h0.9v0.9h-0.9zM248.5 163.9h0.9v0.9h-0.9zM250.8 163.7h0.9v0.9h-0.9zM251.0 163.4h0.9v0.9h-0.9zM248.4 163.3h0.9v0.9h-0.9zM251.2 166.3h0.9v0.9h-0.9zM249.5 165.2h0.9v0.9h-0.9zM249.9 165.1h0.9v0.9h-0.9zM249.3 165.1h0.9v0.9h-0.9zM251.5 164.5h0.9v0.9h-0.9zM234.8 176.7h0.9v0.9h-0.9zM240.2 171.3h0.9v0.9h-0.9zM236.4 174.7h0.9v0.9h-0.9zM235.6 175.5h0.9v0.9h-0.9zM241.9 171.5h0.9v0.9h-0.9zM239.6 172.2h0.9v0.9h-0.9zM242.1 171.1h0.9v0.9h-0.9zM236.5 174.7h0.9v0.9h-0.9zM237.1 174.0h0.9v0.9h-0.9zM234.3 176.3h0.9v0.9h-0.9zM238.5 173.6h0.9v0.9h-0.9zM243.3 169.4h0.9v0.9h-0.9zM241.7 170.8h0.9v0.9h-0.9zM236.7 174.2h0.9v0.9h-0.9zM235.4 175.0h0.9v0.9h-0.9zM242.8 170.0h0.9v0.9h-0.9zM242.3 169.7h0.9v0.9h-0.9zM241.2 171.1h0.9v0.9h-0.9zM234.5 176.7h0.9v0.9h-0.9zM240.9 171.6h0.9v0.9h-0.9zM235.5 174.1h0.9v0.9h-0.9zM236.7 172.9h0.9v0.9h-0.9zM239.6 172.7h0.9v0.9h-0.9zM242.8 169.2h0.9v0.9h-0.9zM241.5 172.7h0.9v0.9h-0.9zM233.7 176.2h0.9v0.9h-0.9zM236.2 174.6h0.9v0.9h-0.9zM236.5 174.2h0.9v0.9h-0.9zM236.1 174.5h0.9v0.9h-0.9zM238.3 172.7h0.9v0.9h-0.9zM238.9 172.1h0.9v0.9h-0.9zM240.4 171.0h0.9v0.9h-0.9zM239.2 172.2h0.9v0.9h-0.9zM239.2 172.7h0.9v0.9h-0.9zM235.1 175.4h0.9v0.9h-0.9zM241.7 170.3h0.9v0.9h-0.9zM238.7 173.7h0.9v0.9h-0.9zM239.4 173.1h0.9v0.9h-0.9zM239.8 170.7h0.9v0.9h-0.9zM235.5 175.5h0.9v0.9h-0.9zM238.1 173.2h0.9v0.9h-0.9zM236.3 174.6h0.9v0.9h-0.9zM241.6 171.0h0.9v0.9h-0.9zM237.2 174.5h0.9v0.9h-0.9zM239.4 171.9h0.9v0.9h-0.9zM241.1 170.5h0.9v0.9h-0.9zM234.1 177.7h0.9v0.9h-0.9zM234.7 176.0h0.9v0.9h-0.9zM243.8 168.1h0.9v0.9h-0.9zM235.9 175.8h0.9v0.9h-0.9zM240.4 172.2h0.9v0.9h-0.9zM240.7 171.9h0.9v0.9h-0.9zM242.0 170.0h0.9v0.9h-0.9zM241.4 170.9h0.9v0.9h-0.9zM235.6 175.4h0.9v0.9h-0.9zM239.4 172.9h0.9v0.9h-0.9zM235.3 175.3h0.9v0.9h-0.9zM242.5 170.6h0.9v0.9h-0.9z" fill="#dc4a40" opacity="0.6"/>
<text x="208.1" y="140.7" font-size="8.9" font-style="italic" fill="#222">Chil3</text>
<rect x="205.6" y="184.0" width="51.2" height="51.5" fill="#fff" stroke="#8a8a8a" stroke-width="1.3"/>
<path d="M239.1 191.1h0.9v0.9h-0.9zM239.6 191.4h0.9v0.9h-0.9zM237.0 192.6h0.9v0.9h-0.9zM243.6 190.3h0.9v0.9h-0.9zM237.1 192.4h0.9v0.9h-0.9zM237.7 193.2h0.9v0.9h-0.9zM241.8 190.4h0.9v0.9h-0.9zM236.0 193.4h0.9v0.9h-0.9zM237.8 192.8h0.9v0.9h-0.9zM239.3 191.8h0.9v0.9h-0.9zM240.4 190.8h0.9v0.9h-0.9zM241.7 190.7h0.9v0.9h-0.9zM246.2 189.1h0.9v0.9h-0.9zM242.4 190.8h0.9v0.9h-0.9zM239.5 192.6h0.9v0.9h-0.9zM240.0 191.3h0.9v0.9h-0.9zM244.8 189.3h0.9v0.9h-0.9zM238.4 192.3h0.9v0.9h-0.9zM244.8 189.3h0.9v0.9h-0.9zM241.9 190.3h0.9v0.9h-0.9zM236.2 194.3h0.9v0.9h-0.9zM243.3 190.5h0.9v0.9h-0.9zM237.8 193.4h0.9v0.9h-0.9zM237.1 192.5h0.9v0.9h-0.9zM237.7 192.4h0.9v0.9h-0.9zM242.3 191.1h0.9v0.9h-0.9zM237.8 194.0h0.9v0.9h-0.9zM243.0 191.0h0.9v0.9h-0.9zM237.1 193.2h0.9v0.9h-0.9zM243.2 191.6h0.9v0.9h-0.9zM237.9 193.5h0.9v0.9h-0.9zM239.0 192.3h0.9v0.9h-0.9zM236.5 192.9h0.9v0.9h-0.9zM241.1 191.3h0.9v0.9h-0.9zM244.1 189.4h0.9v0.9h-0.9zM244.1 190.0h0.9v0.9h-0.9zM244.5 189.2h0.9v0.9h-0.9zM237.7 191.4h0.9v0.9h-0.9zM238.8 192.3h0.9v0.9h-0.9zM241.3 191.0h0.9v0.9h-0.9zM236.7 193.2h0.9v0.9h-0.9zM242.4 191.4h0.9v0.9h-0.9zM241.4 191.2h0.9v0.9h-0.9zM243.0 190.5h0.9v0.9h-0.9zM241.6 190.5h0.9v0.9h-0.9zM238.9 192.1h0.9v0.9h-0.9zM236.1 194.0h0.9v0.9h-0.9zM236.8 193.7h0.9v0.9h-0.9zM241.6 191.4h0.9v0.9h-0.9zM244.9 189.5h0.9v0.9h-0.9zM242.1 190.3h0.9v0.9h-0.9zM237.5 193.5h0.9v0.9h-0.9zM242.5 190.4h0.9v0.9h-0.9zM241.0 190.8h0.9v0.9h-0.9zM239.1 192.1h0.9v0.9h-0.9zM240.9 190.0h0.9v0.9h-0.9zM242.5 189.4h0.9v0.9h-0.9zM243.9 190.1h0.9v0.9h-0.9zM244.6 189.2h0.9v0.9h-0.9zM243.7 189.5h0.9v0.9h-0.9zM241.2 191.2h0.9v0.9h-0.9zM242.2 191.2h0.9v0.9h-0.9zM245.7 188.6h0.9v0.9h-0.9zM239.5 191.1h0.9v0.9h-0.9zM240.2 191.4h0.9v0.9h-0.9zM243.6 190.4h0.9v0.9h-0.9zM240.5 192.2h0.9v0.9h-0.9zM239.7 190.6h0.9v0.9h-0.9zM238.8 192.4h0.9v0.9h-0.9zM242.3 190.8h0.9v0.9h-0.9zM244.0 189.1h0.9v0.9h-0.9zM243.8 190.3h0.9v0.9h-0.9zM237.0 193.0h0.9v0.9h-0.9zM244.8 189.2h0.9v0.9h-0.9zM241.2 191.2h0.9v0.9h-0.9zM241.1 190.5h0.9v0.9h-0.9zM242.9 190.3h0.9v0.9h-0.9zM237.2 192.9h0.9v0.9h-0.9zM237.4 192.9h0.9v0.9h-0.9zM240.1 192.3h0.9v0.9h-0.9zM244.8 189.3h0.9v0.9h-0.9zM236.4 193.3h0.9v0.9h-0.9zM242.1 190.2h0.9v0.9h-0.9zM243.5 190.1h0.9v0.9h-0.9zM241.2 191.7h0.9v0.9h-0.9zM238.3 192.6h0.9v0.9h-0.9zM241.1 191.0h0.9v0.9h-0.9zM242.5 189.4h0.9v0.9h-0.9zM242.5 191.1h0.9v0.9h-0.9zM238.2 192.8h0.9v0.9h-0.9zM242.7 190.8h0.9v0.9h-0.9zM239.0 191.4h0.9v0.9h-0.9zM241.7 190.3h0.9v0.9h-0.9zM243.5 189.9h0.9v0.9h-0.9zM244.5 189.2h0.9v0.9h-0.9zM248.6 187.9h0.9v0.9h-0.9zM232.2 196.5h0.9v0.9h-0.9zM231.7 197.4h0.9v0.9h-0.9zM226.4 202.0h0.9v0.9h-0.9zM227.3 203.4h0.9v0.9h-0.9zM228.8 200.1h0.9v0.9h-0.9zM250.5 202.2h0.9v0.9h-0.9zM250.1 202.6h0.9v0.9h-0.9zM252.6 202.2h0.9v0.9h-0.9zM251.9 203.0h0.9v0.9h-0.9zM251.9 201.8h0.9v0.9h-0.9zM251.0 202.6h0.9v0.9h-0.9zM252.2 201.9h0.9v0.9h-0.9zM251.2 202.6h0.9v0.9h-0.9zM251.0 203.1h0.9v0.9h-0.9zM251.4 202.2h0.9v0.9h-0.9zM219.9 206.8h0.9v0.9h-0.9zM220.6 206.9h0.9v0.9h-0.9zM218.6 207.0h0.9v0.9h-0.9zM218.4 206.4h0.9v0.9h-0.9zM220.2 206.5h0.9v0.9h-0.9zM220.5 206.6h0.9v0.9h-0.9zM219.1 206.9h0.9v0.9h-0.9zM218.6 206.3h0.9v0.9h-0.9zM220.1 206.8h0.9v0.9h-0.9zM219.4 206.5h0.9v0.9h-0.9zM217.6 206.2h0.9v0.9h-0.9zM218.8 205.5h0.9v0.9h-0.9zM218.5 206.6h0.9v0.9h-0.9zM219.3 206.4h0.9v0.9h-0.9zM220.0 206.7h0.9v0.9h-0.9zM223.6 207.0h0.9v0.9h-0.9zM223.3 205.6h0.9v0.9h-0.9zM223.5 205.5h0.9v0.9h-0.9zM223.0 205.8h0.9v0.9h-0.9zM223.7 206.8h0.9v0.9h-0.9zM222.9 206.4h0.9v0.9h-0.9zM223.7 206.3h0.9v0.9h-0.9zM222.4 205.6h0.9v0.9h-0.9zM223.6 207.1h0.9v0.9h-0.9zM224.0 204.3h0.9v0.9h-0.9zM223.3 206.5h0.9v0.9h-0.9zM223.8 205.6h0.9v0.9h-0.9zM224.7 205.9h0.9v0.9h-0.9zM223.4 205.3h0.9v0.9h-0.9zM224.4 206.7h0.9v0.9h-0.9zM222.6 206.5h0.9v0.9h-0.9zM223.9 206.4h0.9v0.9h-0.9zM210.9 214.7h0.9v0.9h-0.9zM211.3 216.1h0.9v0.9h-0.9zM212.7 213.6h0.9v0.9h-0.9zM211.6 215.5h0.9v0.9h-0.9zM211.0 213.8h0.9v0.9h-0.9zM210.8 214.3h0.9v0.9h-0.9zM211.3 215.0h0.9v0.9h-0.9zM211.9 215.1h0.9v0.9h-0.9zM210.0 214.7h0.9v0.9h-0.9zM211.3 215.3h0.9v0.9h-0.9zM211.4 216.4h0.9v0.9h-0.9zM212.7 214.7h0.9v0.9h-0.9zM211.2 215.0h0.9v0.9h-0.9zM211.8 214.6h0.9v0.9h-0.9zM210.0 215.3h0.9v0.9h-0.9zM212.2 215.0h0.9v0.9h-0.9zM209.7 215.3h0.9v0.9h-0.9zM210.5 215.2h0.9v0.9h-0.9zM211.4 215.7h0.9v0.9h-0.9zM217.8 214.7h0.9v0.9h-0.9zM218.8 216.9h0.9v0.9h-0.9zM221.5 220.6h0.9v0.9h-0.9zM221.6 220.1h0.9v0.9h-0.9zM215.5 217.0h0.9v0.9h-0.9zM221.3 220.0h0.9v0.9h-0.9zM220.2 218.1h0.9v0.9h-0.9zM223.1 219.1h0.9v0.9h-0.9zM221.5 217.7h0.9v0.9h-0.9zM220.4 217.8h0.9v0.9h-0.9zM220.1 217.9h0.9v0.9h-0.9zM223.0 219.4h0.9v0.9h-0.9zM221.6 218.7h0.9v0.9h-0.9zM221.9 218.2h0.9v0.9h-0.9zM221.5 218.1h0.9v0.9h-0.9zM216.3 216.6h0.9v0.9h-0.9zM220.0 217.6h0.9v0.9h-0.9zM218.0 216.0h0.9v0.9h-0.9zM218.5 216.2h0.9v0.9h-0.9zM216.4 216.2h0.9v0.9h-0.9zM224.0 219.4h0.9v0.9h-0.9zM225.2 220.0h0.9v0.9h-0.9zM224.7 221.3h0.9v0.9h-0.9zM224.2 218.8h0.9v0.9h-0.9zM225.3 218.8h0.9v0.9h-0.9zM219.2 217.1h0.9v0.9h-0.9zM220.1 219.1h0.9v0.9h-0.9zM220.1 216.4h0.9v0.9h-0.9zM226.5 219.7h0.9v0.9h-0.9zM219.9 218.3h0.9v0.9h-0.9zM220.3 217.1h0.9v0.9h-0.9zM217.9 219.5h0.9v0.9h-0.9zM216.6 217.1h0.9v0.9h-0.9zM218.2 216.9h0.9v0.9h-0.9zM220.4 217.5h0.9v0.9h-0.9zM220.6 218.8h0.9v0.9h-0.9zM222.9 218.7h0.9v0.9h-0.9zM217.8 215.0h0.9v0.9h-0.9zM218.9 216.0h0.9v0.9h-0.9zM222.8 218.6h0.9v0.9h-0.9zM224.2 219.8h0.9v0.9h-0.9zM219.6 218.4h0.9v0.9h-0.9zM218.9 216.7h0.9v0.9h-0.9zM217.9 216.4h0.9v0.9h-0.9zM225.3 219.3h0.9v0.9h-0.9zM222.9 220.2h0.9v0.9h-0.9zM221.7 216.7h0.9v0.9h-0.9zM217.8 217.6h0.9v0.9h-0.9zM216.3 216.0h0.9v0.9h-0.9zM221.6 217.1h0.9v0.9h-0.9zM217.9 214.5h0.9v0.9h-0.9zM218.6 217.1h0.9v0.9h-0.9zM222.0 218.3h0.9v0.9h-0.9zM221.1 217.8h0.9v0.9h-0.9zM216.6 215.8h0.9v0.9h-0.9zM218.3 215.5h0.9v0.9h-0.9zM222.2 219.7h0.9v0.9h-0.9zM224.1 219.0h0.9v0.9h-0.9zM220.6 216.6h0.9v0.9h-0.9zM222.6 220.8h0.9v0.9h-0.9zM223.2 217.3h0.9v0.9h-0.9zM226.4 214.6h0.9v0.9h-0.9zM227.2 215.4h0.9v0.9h-0.9zM226.7 214.4h0.9v0.9h-0.9zM225.5 213.6h0.9v0.9h-0.9zM227.3 214.4h0.9v0.9h-0.9zM224.9 213.5h0.9v0.9h-0.9zM233.7 223.7h0.9v0.9h-0.9zM227.9 219.2h0.9v0.9h-0.9zM227.7 219.1h0.9v0.9h-0.9zM232.2 223.1h0.9v0.9h-0.9zM233.7 223.3h0.9v0.9h-0.9zM231.2 221.0h0.9v0.9h-0.9zM232.0 223.4h0.9v0.9h-0.9zM230.1 222.8h0.9v0.9h-0.9zM231.5 222.1h0.9v0.9h-0.9zM246.7 210.7h0.9v0.9h-0.9zM247.4 212.0h0.9v0.9h-0.9zM241.4 207.2h0.9v0.9h-0.9zM240.9 206.2h0.9v0.9h-0.9zM247.9 212.1h0.9v0.9h-0.9zM243.7 207.0h0.9v0.9h-0.9zM249.9 213.2h0.9v0.9h-0.9zM241.8 206.8h0.9v0.9h-0.9zM244.1 208.1h0.9v0.9h-0.9zM244.7 208.3h0.9v0.9h-0.9zM247.4 211.2h0.9v0.9h-0.9zM247.2 210.5h0.9v0.9h-0.9zM247.1 211.8h0.9v0.9h-0.9zM247.0 209.1h0.9v0.9h-0.9zM248.0 212.6h0.9v0.9h-0.9zM243.1 208.3h0.9v0.9h-0.9zM246.6 211.0h0.9v0.9h-0.9zM246.4 212.6h0.9v0.9h-0.9zM249.6 219.0h0.9v0.9h-0.9zM249.0 219.7h0.9v0.9h-0.9zM249.5 220.0h0.9v0.9h-0.9zM251.0 219.3h0.9v0.9h-0.9zM250.4 217.6h0.9v0.9h-0.9zM251.3 218.8h0.9v0.9h-0.9zM249.5 219.3h0.9v0.9h-0.9zM249.9 218.4h0.9v0.9h-0.9zM250.6 219.3h0.9v0.9h-0.9zM250.7 218.8h0.9v0.9h-0.9zM251.3 218.4h0.9v0.9h-0.9zM248.7 218.4h0.9v0.9h-0.9zM234.8 232.2h0.9v0.9h-0.9zM238.7 229.1h0.9v0.9h-0.9zM243.8 223.4h0.9v0.9h-0.9zM240.4 227.6h0.9v0.9h-0.9zM239.0 228.7h0.9v0.9h-0.9zM235.1 211.2h0.9v0.9h-0.9zM245.7 222.4h0.9v0.9h-0.9zM243.2 215.6h0.9v0.9h-0.9zM236.0 214.6h0.9v0.9h-0.9zM244.7 226.7h0.9v0.9h-0.9zM248.6 224.3h0.9v0.9h-0.9zM250.5 215.6h0.9v0.9h-0.9z" fill="#d4d4d4" opacity="0.45"/>
<path d="M216.9 205.8h0.9v0.9h-0.9zM220.0 207.0h0.9v0.9h-0.9zM218.6 205.6h0.9v0.9h-0.9zM219.8 206.4h0.9v0.9h-0.9zM218.7 206.8h0.9v0.9h-0.9zM219.9 206.7h0.9v0.9h-0.9zM219.2 206.0h0.9v0.9h-0.9zM223.3 206.5h0.9v0.9h-0.9zM223.0 206.2h0.9v0.9h-0.9zM222.9 205.1h0.9v0.9h-0.9zM222.6 204.9h0.9v0.9h-0.9zM223.8 206.3h0.9v0.9h-0.9zM211.0 214.1h0.9v0.9h-0.9zM210.0 215.1h0.9v0.9h-0.9zM211.2 214.4h0.9v0.9h-0.9zM223.3 217.8h0.9v0.9h-0.9zM225.0 219.4h0.9v0.9h-0.9zM224.1 218.0h0.9v0.9h-0.9zM223.3 218.0h0.9v0.9h-0.9zM216.2 217.1h0.9v0.9h-0.9zM221.9 221.0h0.9v0.9h-0.9zM223.9 218.9h0.9v0.9h-0.9zM224.9 220.8h0.9v0.9h-0.9zM217.8 215.7h0.9v0.9h-0.9zM217.6 215.5h0.9v0.9h-0.9zM223.1 220.3h0.9v0.9h-0.9zM216.5 215.5h0.9v0.9h-0.9zM215.9 216.9h0.9v0.9h-0.9zM222.4 218.6h0.9v0.9h-0.9zM218.1 215.8h0.9v0.9h-0.9zM224.4 219.6h0.9v0.9h-0.9zM222.7 219.3h0.9v0.9h-0.9zM223.2 220.2h0.9v0.9h-0.9zM221.0 215.9h0.9v0.9h-0.9zM219.7 218.0h0.9v0.9h-0.9zM218.7 215.6h0.9v0.9h-0.9zM219.3 217.8h0.9v0.9h-0.9zM222.2 219.4h0.9v0.9h-0.9zM220.4 217.9h0.9v0.9h-0.9zM218.6 218.0h0.9v0.9h-0.9zM219.9 217.2h0.9v0.9h-0.9zM216.8 214.0h0.9v0.9h-0.9zM222.3 218.5h0.9v0.9h-0.9zM225.4 217.8h0.9v0.9h-0.9zM225.7 211.7h0.9v0.9h-0.9zM226.2 215.7h0.9v0.9h-0.9zM231.6 222.1h0.9v0.9h-0.9zM231.9 223.3h0.9v0.9h-0.9zM229.4 219.4h0.9v0.9h-0.9zM244.0 210.0h0.9v0.9h-0.9zM242.0 207.1h0.9v0.9h-0.9zM249.4 214.0h0.9v0.9h-0.9zM242.2 206.5h0.9v0.9h-0.9zM248.7 210.6h0.9v0.9h-0.9zM242.5 206.1h0.9v0.9h-0.9zM246.2 208.7h0.9v0.9h-0.9zM242.7 208.3h0.9v0.9h-0.9zM245.6 209.1h0.9v0.9h-0.9zM248.3 212.0h0.9v0.9h-0.9zM251.2 219.9h0.9v0.9h-0.9zM249.8 218.7h0.9v0.9h-0.9zM248.5 220.2h0.9v0.9h-0.9zM250.1 219.7h0.9v0.9h-0.9zM250.7 219.8h0.9v0.9h-0.9zM251.9 220.1h0.9v0.9h-0.9zM249.0 218.0h0.9v0.9h-0.9zM250.4 218.4h0.9v0.9h-0.9zM249.2 216.9h0.9v0.9h-0.9zM250.3 218.0h0.9v0.9h-0.9zM249.9 219.1h0.9v0.9h-0.9zM249.6 219.9h0.9v0.9h-0.9zM249.7 218.9h0.9v0.9h-0.9zM249.2 219.9h0.9v0.9h-0.9zM249.6 218.9h0.9v0.9h-0.9zM250.2 217.3h0.9v0.9h-0.9zM249.1 219.0h0.9v0.9h-0.9zM249.5 219.2h0.9v0.9h-0.9zM249.4 216.7h0.9v0.9h-0.9zM248.5 219.1h0.9v0.9h-0.9zM250.3 218.7h0.9v0.9h-0.9zM250.1 219.6h0.9v0.9h-0.9zM250.0 220.4h0.9v0.9h-0.9zM249.7 218.5h0.9v0.9h-0.9zM250.8 218.9h0.9v0.9h-0.9zM250.5 219.1h0.9v0.9h-0.9zM251.0 218.6h0.9v0.9h-0.9zM248.9 218.8h0.9v0.9h-0.9zM249.8 221.1h0.9v0.9h-0.9zM251.8 219.1h0.9v0.9h-0.9zM249.6 218.9h0.9v0.9h-0.9zM250.4 218.6h0.9v0.9h-0.9zM250.6 218.8h0.9v0.9h-0.9zM248.4 218.5h0.9v0.9h-0.9zM250.5 220.2h0.9v0.9h-0.9zM250.2 219.3h0.9v0.9h-0.9zM251.2 221.5h0.9v0.9h-0.9zM251.3 218.7h0.9v0.9h-0.9zM249.5 220.4h0.9v0.9h-0.9zM248.5 218.3h0.9v0.9h-0.9zM249.5 219.3h0.9v0.9h-0.9zM249.1 219.9h0.9v0.9h-0.9zM250.5 220.1h0.9v0.9h-0.9zM249.9 220.3h0.9v0.9h-0.9zM249.3 220.3h0.9v0.9h-0.9zM251.4 219.5h0.9v0.9h-0.9zM251.5 221.0h0.9v0.9h-0.9zM249.1 218.6h0.9v0.9h-0.9zM248.9 219.9h0.9v0.9h-0.9zM249.4 217.8h0.9v0.9h-0.9zM250.0 218.2h0.9v0.9h-0.9zM251.8 219.2h0.9v0.9h-0.9zM250.6 218.5h0.9v0.9h-0.9zM248.9 219.7h0.9v0.9h-0.9zM251.0 218.6h0.9v0.9h-0.9zM249.0 219.1h0.9v0.9h-0.9zM251.5 219.7h0.9v0.9h-0.9zM249.6 220.3h0.9v0.9h-0.9zM238.5 228.4h0.9v0.9h-0.9zM240.2 226.7h0.9v0.9h-0.9zM236.4 230.1h0.9v0.9h-0.9zM235.6 231.0h0.9v0.9h-0.9zM240.8 226.5h0.9v0.9h-0.9zM241.9 226.8h0.9v0.9h-0.9zM239.6 227.6h0.9v0.9h-0.9zM242.1 226.5h0.9v0.9h-0.9zM243.7 224.7h0.9v0.9h-0.9zM236.5 230.1h0.9v0.9h-0.9zM242.9 224.6h0.9v0.9h-0.9zM237.1 229.4h0.9v0.9h-0.9zM234.3 231.8h0.9v0.9h-0.9zM240.1 227.7h0.9v0.9h-0.9zM238.5 229.0h0.9v0.9h-0.9zM243.3 224.7h0.9v0.9h-0.9zM241.7 226.1h0.9v0.9h-0.9zM236.7 229.6h0.9v0.9h-0.9zM235.4 230.4h0.9v0.9h-0.9zM242.8 225.3h0.9v0.9h-0.9zM240.5 227.6h0.9v0.9h-0.9zM242.3 225.0h0.9v0.9h-0.9zM241.2 226.5h0.9v0.9h-0.9zM234.5 232.2h0.9v0.9h-0.9zM240.9 227.0h0.9v0.9h-0.9zM235.5 229.5h0.9v0.9h-0.9zM236.7 228.3h0.9v0.9h-0.9zM239.6 228.1h0.9v0.9h-0.9zM242.8 224.5h0.9v0.9h-0.9zM241.5 228.1h0.9v0.9h-0.9zM237.4 228.7h0.9v0.9h-0.9zM233.7 231.7h0.9v0.9h-0.9zM236.2 230.1h0.9v0.9h-0.9zM236.5 229.6h0.9v0.9h-0.9zM236.1 230.0h0.9v0.9h-0.9zM242.8 225.1h0.9v0.9h-0.9zM238.3 228.0h0.9v0.9h-0.9zM242.7 224.9h0.9v0.9h-0.9zM238.9 227.4h0.9v0.9h-0.9zM240.4 226.3h0.9v0.9h-0.9zM239.2 227.5h0.9v0.9h-0.9zM239.2 228.0h0.9v0.9h-0.9zM241.9 226.7h0.9v0.9h-0.9zM235.1 230.8h0.9v0.9h-0.9zM241.7 225.6h0.9v0.9h-0.9zM239.4 228.5h0.9v0.9h-0.9zM239.8 226.1h0.9v0.9h-0.9zM235.5 231.0h0.9v0.9h-0.9zM238.1 228.6h0.9v0.9h-0.9zM236.3 230.0h0.9v0.9h-0.9zM242.1 224.7h0.9v0.9h-0.9zM241.6 226.3h0.9v0.9h-0.9zM237.2 229.9h0.9v0.9h-0.9zM239.4 227.3h0.9v0.9h-0.9zM240.5 228.2h0.9v0.9h-0.9zM235.3 231.3h0.9v0.9h-0.9zM241.1 225.9h0.9v0.9h-0.9zM233.8 232.1h0.9v0.9h-0.9zM236.0 230.5h0.9v0.9h-0.9zM238.7 226.7h0.9v0.9h-0.9zM234.2 231.4h0.9v0.9h-0.9zM234.1 233.2h0.9v0.9h-0.9zM234.7 231.5h0.9v0.9h-0.9zM238.0 229.0h0.9v0.9h-0.9zM235.9 231.2h0.9v0.9h-0.9zM234.8 230.7h0.9v0.9h-0.9zM236.4 230.8h0.9v0.9h-0.9zM240.7 227.3h0.9v0.9h-0.9zM241.2 226.2h0.9v0.9h-0.9zM242.0 225.3h0.9v0.9h-0.9zM241.4 226.2h0.9v0.9h-0.9zM235.6 230.9h0.9v0.9h-0.9zM239.4 228.2h0.9v0.9h-0.9zM235.3 230.7h0.9v0.9h-0.9zM242.5 225.9h0.9v0.9h-0.9zM238.9 208.8h0.9v0.9h-0.9zM240.8 223.8h0.9v0.9h-0.9zM237.5 225.8h0.9v0.9h-0.9zM246.6 214.6h0.9v0.9h-0.9zM239.9 219.4h0.9v0.9h-0.9z" fill="#dc4a40" opacity="0.6"/>
<text x="208.1" y="195.2" font-size="8.9" font-style="italic" fill="#222">Plac8</text>
<rect x="329.4" y="19.5" width="51.2" height="51.5" fill="#fff" stroke="#8a8a8a" stroke-width="1.3"/>
<path d="M360.8 28.1h0.9v0.9h-0.9zM360.9 27.9h0.9v0.9h-0.9zM365.6 25.9h0.9v0.9h-0.9zM359.8 28.9h0.9v0.9h-0.9zM361.6 28.3h0.9v0.9h-0.9zM364.2 26.3h0.9v0.9h-0.9zM365.5 26.2h0.9v0.9h-0.9zM368.6 24.8h0.9v0.9h-0.9zM368.6 24.8h0.9v0.9h-0.9zM365.7 25.8h0.9v0.9h-0.9zM361.6 28.9h0.9v0.9h-0.9zM361.6 29.5h0.9v0.9h-0.9zM366.8 26.5h0.9v0.9h-0.9zM360.9 28.7h0.9v0.9h-0.9zM367.0 27.1h0.9v0.9h-0.9zM360.3 28.4h0.9v0.9h-0.9zM364.9 26.8h0.9v0.9h-0.9zM365.1 26.5h0.9v0.9h-0.9zM360.5 28.7h0.9v0.9h-0.9zM365.2 26.7h0.9v0.9h-0.9zM365.4 26.9h0.9v0.9h-0.9zM365.9 25.8h0.9v0.9h-0.9zM364.8 26.3h0.9v0.9h-0.9zM366.3 24.9h0.9v0.9h-0.9zM367.7 25.6h0.9v0.9h-0.9zM368.4 24.7h0.9v0.9h-0.9zM365.0 26.7h0.9v0.9h-0.9zM363.3 26.6h0.9v0.9h-0.9zM364.0 26.9h0.9v0.9h-0.9zM367.4 25.9h0.9v0.9h-0.9zM366.1 26.3h0.9v0.9h-0.9zM360.8 28.5h0.9v0.9h-0.9zM368.6 24.7h0.9v0.9h-0.9zM364.9 26.0h0.9v0.9h-0.9zM365.9 25.7h0.9v0.9h-0.9zM365.0 27.2h0.9v0.9h-0.9zM366.5 26.3h0.9v0.9h-0.9zM362.8 26.9h0.9v0.9h-0.9zM365.5 25.8h0.9v0.9h-0.9zM367.3 25.4h0.9v0.9h-0.9zM372.4 23.4h0.9v0.9h-0.9zM356.0 32.0h0.9v0.9h-0.9zM355.5 32.9h0.9v0.9h-0.9zM350.2 37.5h0.9v0.9h-0.9zM351.1 38.9h0.9v0.9h-0.9zM352.6 35.5h0.9v0.9h-0.9zM374.3 37.7h0.9v0.9h-0.9zM373.9 38.1h0.9v0.9h-0.9zM376.4 37.7h0.9v0.9h-0.9zM375.7 38.5h0.9v0.9h-0.9zM375.7 37.3h0.9v0.9h-0.9zM374.8 38.1h0.9v0.9h-0.9zM376.0 37.4h0.9v0.9h-0.9zM375.0 38.1h0.9v0.9h-0.9zM374.8 38.6h0.9v0.9h-0.9zM375.2 37.7h0.9v0.9h-0.9zM340.7 41.3h0.9v0.9h-0.9zM343.8 42.5h0.9v0.9h-0.9zM343.7 42.3h0.9v0.9h-0.9zM342.4 41.1h0.9v0.9h-0.9zM343.6 41.9h0.9v0.9h-0.9zM344.4 42.4h0.9v0.9h-0.9zM342.4 42.5h0.9v0.9h-0.9zM342.2 41.9h0.9v0.9h-0.9zM342.5 42.3h0.9v0.9h-0.9zM344.0 42.0h0.9v0.9h-0.9zM344.3 42.1h0.9v0.9h-0.9zM342.9 42.4h0.9v0.9h-0.9zM342.4 41.8h0.9v0.9h-0.9zM343.9 42.3h0.9v0.9h-0.9zM343.2 42.0h0.9v0.9h-0.9zM343.7 42.2h0.9v0.9h-0.9zM343.0 41.5h0.9v0.9h-0.9zM341.4 41.7h0.9v0.9h-0.9zM342.6 41.0h0.9v0.9h-0.9zM342.3 42.1h0.9v0.9h-0.9zM343.1 41.9h0.9v0.9h-0.9zM343.8 42.2h0.9v0.9h-0.9zM347.4 42.5h0.9v0.9h-0.9zM347.1 42.0h0.9v0.9h-0.9zM347.1 41.1h0.9v0.9h-0.9zM347.3 41.0h0.9v0.9h-0.9zM346.8 41.3h0.9v0.9h-0.9zM347.5 42.3h0.9v0.9h-0.9zM346.8 41.7h0.9v0.9h-0.9zM346.7 41.9h0.9v0.9h-0.9zM347.5 41.8h0.9v0.9h-0.9zM346.7 40.6h0.9v0.9h-0.9zM346.2 41.1h0.9v0.9h-0.9zM346.4 40.4h0.9v0.9h-0.9zM347.4 42.6h0.9v0.9h-0.9zM347.8 39.8h0.9v0.9h-0.9zM347.1 42.0h0.9v0.9h-0.9zM347.6 41.1h0.9v0.9h-0.9zM348.5 41.4h0.9v0.9h-0.9zM347.6 41.8h0.9v0.9h-0.9zM347.2 40.8h0.9v0.9h-0.9zM348.2 42.2h0.9v0.9h-0.9zM346.4 42.0h0.9v0.9h-0.9zM347.7 41.9h0.9v0.9h-0.9zM334.7 50.2h0.9v0.9h-0.9zM335.1 51.6h0.9v0.9h-0.9zM336.5 49.1h0.9v0.9h-0.9zM335.4 51.0h0.9v0.9h-0.9zM334.8 49.3h0.9v0.9h-0.9zM334.6 49.8h0.9v0.9h-0.9zM335.1 50.5h0.9v0.9h-0.9zM335.7 50.6h0.9v0.9h-0.9zM333.8 50.2h0.9v0.9h-0.9zM335.1 50.8h0.9v0.9h-0.9zM335.2 51.9h0.9v0.9h-0.9zM336.5 50.2h0.9v0.9h-0.9zM335.0 50.5h0.9v0.9h-0.9zM335.6 50.1h0.9v0.9h-0.9zM334.8 49.6h0.9v0.9h-0.9zM333.8 50.6h0.9v0.9h-0.9zM333.8 50.8h0.9v0.9h-0.9zM336.0 50.5h0.9v0.9h-0.9zM335.0 49.9h0.9v0.9h-0.9zM333.5 50.8h0.9v0.9h-0.9zM334.3 50.7h0.9v0.9h-0.9zM335.2 51.2h0.9v0.9h-0.9zM341.6 50.2h0.9v0.9h-0.9zM347.1 53.3h0.9v0.9h-0.9zM342.6 52.4h0.9v0.9h-0.9zM348.8 54.9h0.9v0.9h-0.9zM347.9 53.5h0.9v0.9h-0.9zM345.3 56.1h0.9v0.9h-0.9zM347.1 53.5h0.9v0.9h-0.9zM345.4 55.6h0.9v0.9h-0.9zM340.0 52.6h0.9v0.9h-0.9zM339.3 52.5h0.9v0.9h-0.9zM345.7 56.5h0.9v0.9h-0.9zM345.1 55.5h0.9v0.9h-0.9zM344.0 53.6h0.9v0.9h-0.9zM347.7 54.4h0.9v0.9h-0.9zM346.9 54.6h0.9v0.9h-0.9zM345.3 53.2h0.9v0.9h-0.9zM344.2 53.3h0.9v0.9h-0.9zM343.9 53.4h0.9v0.9h-0.9zM346.8 54.9h0.9v0.9h-0.9zM345.4 54.2h0.9v0.9h-0.9zM345.7 53.7h0.9v0.9h-0.9zM345.3 53.6h0.9v0.9h-0.9zM348.7 56.3h0.9v0.9h-0.9zM340.1 52.1h0.9v0.9h-0.9zM341.6 51.2h0.9v0.9h-0.9zM343.8 53.1h0.9v0.9h-0.9zM341.8 51.5h0.9v0.9h-0.9zM342.3 51.7h0.9v0.9h-0.9zM340.2 51.7h0.9v0.9h-0.9zM341.4 51.0h0.9v0.9h-0.9zM347.8 54.9h0.9v0.9h-0.9zM349.0 55.5h0.9v0.9h-0.9zM346.9 55.8h0.9v0.9h-0.9zM348.5 56.8h0.9v0.9h-0.9zM348.0 54.3h0.9v0.9h-0.9zM349.1 54.3h0.9v0.9h-0.9zM340.3 51.0h0.9v0.9h-0.9zM343.0 52.6h0.9v0.9h-0.9zM339.7 52.4h0.9v0.9h-0.9zM343.9 54.6h0.9v0.9h-0.9zM343.9 51.9h0.9v0.9h-0.9zM350.3 55.2h0.9v0.9h-0.9zM343.7 53.8h0.9v0.9h-0.9zM346.2 54.1h0.9v0.9h-0.9zM341.9 51.3h0.9v0.9h-0.9zM344.1 52.6h0.9v0.9h-0.9zM341.7 55.0h0.9v0.9h-0.9zM348.2 55.1h0.9v0.9h-0.9zM340.4 52.6h0.9v0.9h-0.9zM346.5 54.8h0.9v0.9h-0.9zM342.0 52.4h0.9v0.9h-0.9zM344.2 53.0h0.9v0.9h-0.9zM344.4 54.3h0.9v0.9h-0.9zM346.7 54.2h0.9v0.9h-0.9zM341.6 50.5h0.9v0.9h-0.9zM347.0 55.7h0.9v0.9h-0.9zM342.7 51.5h0.9v0.9h-0.9zM346.6 54.1h0.9v0.9h-0.9zM344.8 51.4h0.9v0.9h-0.9zM343.5 53.5h0.9v0.9h-0.9zM348.0 55.3h0.9v0.9h-0.9zM343.4 53.9h0.9v0.9h-0.9zM342.7 52.2h0.9v0.9h-0.9zM341.7 51.9h0.9v0.9h-0.9zM342.5 51.1h0.9v0.9h-0.9zM343.1 53.3h0.9v0.9h-0.9zM346.0 54.9h0.9v0.9h-0.9zM344.2 53.4h0.9v0.9h-0.9zM349.1 54.8h0.9v0.9h-0.9zM346.7 55.7h0.9v0.9h-0.9zM345.5 52.2h0.9v0.9h-0.9zM341.6 53.1h0.9v0.9h-0.9zM342.4 53.5h0.9v0.9h-0.9zM340.1 51.5h0.9v0.9h-0.9zM345.4 52.6h0.9v0.9h-0.9zM341.7 50.0h0.9v0.9h-0.9zM343.7 52.7h0.9v0.9h-0.9zM342.4 52.6h0.9v0.9h-0.9zM345.8 53.8h0.9v0.9h-0.9zM344.9 53.3h0.9v0.9h-0.9zM340.6 49.5h0.9v0.9h-0.9zM340.4 51.3h0.9v0.9h-0.9zM346.1 54.0h0.9v0.9h-0.9zM342.1 51.0h0.9v0.9h-0.9zM346.0 55.2h0.9v0.9h-0.9zM347.9 54.5h0.9v0.9h-0.9zM344.4 52.1h0.9v0.9h-0.9zM346.4 56.3h0.9v0.9h-0.9zM347.0 52.8h0.9v0.9h-0.9zM349.2 53.3h0.9v0.9h-0.9zM350.2 50.1h0.9v0.9h-0.9zM351.0 50.9h0.9v0.9h-0.9zM349.5 47.2h0.9v0.9h-0.9zM350.5 49.9h0.9v0.9h-0.9zM350.0 51.2h0.9v0.9h-0.9zM349.3 49.1h0.9v0.9h-0.9zM351.1 49.9h0.9v0.9h-0.9zM348.7 49.0h0.9v0.9h-0.9zM357.5 59.2h0.9v0.9h-0.9zM351.7 54.7h0.9v0.9h-0.9zM355.4 57.6h0.9v0.9h-0.9zM351.5 54.6h0.9v0.9h-0.9zM355.7 58.8h0.9v0.9h-0.9zM356.0 58.6h0.9v0.9h-0.9zM357.5 58.8h0.9v0.9h-0.9zM355.0 56.5h0.9v0.9h-0.9zM353.2 54.9h0.9v0.9h-0.9zM355.8 58.9h0.9v0.9h-0.9zM353.9 58.3h0.9v0.9h-0.9zM355.3 57.6h0.9v0.9h-0.9zM367.8 45.5h0.9v0.9h-0.9zM370.5 46.2h0.9v0.9h-0.9zM365.8 42.6h0.9v0.9h-0.9zM371.2 47.5h0.9v0.9h-0.9zM373.2 49.5h0.9v0.9h-0.9zM366.0 42.0h0.9v0.9h-0.9zM372.5 46.1h0.9v0.9h-0.9zM365.2 42.7h0.9v0.9h-0.9zM364.7 41.7h0.9v0.9h-0.9zM371.7 47.6h0.9v0.9h-0.9zM367.5 42.5h0.9v0.9h-0.9zM373.7 48.7h0.9v0.9h-0.9zM365.6 42.3h0.9v0.9h-0.9zM366.3 41.6h0.9v0.9h-0.9zM367.9 43.6h0.9v0.9h-0.9zM368.5 43.8h0.9v0.9h-0.9zM371.2 46.7h0.9v0.9h-0.9zM370.0 44.2h0.9v0.9h-0.9zM371.0 46.0h0.9v0.9h-0.9zM370.9 47.3h0.9v0.9h-0.9zM370.8 44.6h0.9v0.9h-0.9zM371.8 48.1h0.9v0.9h-0.9zM366.5 43.8h0.9v0.9h-0.9zM366.9 43.8h0.9v0.9h-0.9zM370.4 46.5h0.9v0.9h-0.9zM370.2 48.1h0.9v0.9h-0.9zM369.4 44.6h0.9v0.9h-0.9zM372.1 47.5h0.9v0.9h-0.9zM375.0 55.4h0.9v0.9h-0.9zM373.6 54.2h0.9v0.9h-0.9zM372.3 55.7h0.9v0.9h-0.9zM373.4 54.5h0.9v0.9h-0.9zM373.9 55.2h0.9v0.9h-0.9zM374.5 55.3h0.9v0.9h-0.9zM375.7 55.6h0.9v0.9h-0.9zM372.8 55.2h0.9v0.9h-0.9zM372.8 53.5h0.9v0.9h-0.9zM374.2 53.9h0.9v0.9h-0.9zM373.3 55.5h0.9v0.9h-0.9zM374.8 54.8h0.9v0.9h-0.9zM373.0 52.4h0.9v0.9h-0.9zM374.1 53.5h0.9v0.9h-0.9zM373.7 54.6h0.9v0.9h-0.9zM373.4 55.4h0.9v0.9h-0.9zM373.5 54.4h0.9v0.9h-0.9zM373.0 55.4h0.9v0.9h-0.9zM374.2 53.1h0.9v0.9h-0.9zM373.4 54.4h0.9v0.9h-0.9zM374.0 52.8h0.9v0.9h-0.9zM372.9 54.5h0.9v0.9h-0.9zM373.3 54.7h0.9v0.9h-0.9zM373.2 52.2h0.9v0.9h-0.9zM372.3 54.6h0.9v0.9h-0.9zM374.1 54.2h0.9v0.9h-0.9zM375.1 54.3h0.9v0.9h-0.9zM373.9 55.1h0.9v0.9h-0.9zM373.8 55.9h0.9v0.9h-0.9zM373.5 54.0h0.9v0.9h-0.9zM374.6 54.4h0.9v0.9h-0.9zM373.3 54.8h0.9v0.9h-0.9zM374.3 54.6h0.9v0.9h-0.9zM374.8 54.1h0.9v0.9h-0.9zM372.7 54.3h0.9v0.9h-0.9zM373.6 56.6h0.9v0.9h-0.9zM375.6 54.6h0.9v0.9h-0.9zM373.4 54.4h0.9v0.9h-0.9zM374.2 54.1h0.9v0.9h-0.9zM374.4 54.3h0.9v0.9h-0.9zM372.2 54.0h0.9v0.9h-0.9zM374.3 55.7h0.9v0.9h-0.9zM374.0 54.8h0.9v0.9h-0.9zM375.0 57.0h0.9v0.9h-0.9zM375.1 54.2h0.9v0.9h-0.9zM373.3 55.9h0.9v0.9h-0.9zM373.7 53.9h0.9v0.9h-0.9zM372.3 53.8h0.9v0.9h-0.9zM374.4 54.8h0.9v0.9h-0.9zM373.3 54.8h0.9v0.9h-0.9zM372.9 55.4h0.9v0.9h-0.9zM374.3 55.6h0.9v0.9h-0.9zM373.7 55.8h0.9v0.9h-0.9zM373.1 55.8h0.9v0.9h-0.9zM375.2 55.0h0.9v0.9h-0.9zM375.3 56.5h0.9v0.9h-0.9zM372.9 54.1h0.9v0.9h-0.9zM372.7 55.4h0.9v0.9h-0.9zM373.2 53.3h0.9v0.9h-0.9zM373.8 53.7h0.9v0.9h-0.9zM375.6 54.7h0.9v0.9h-0.9zM374.4 54.0h0.9v0.9h-0.9zM372.7 55.2h0.9v0.9h-0.9zM374.8 54.1h0.9v0.9h-0.9zM372.8 54.6h0.9v0.9h-0.9zM374.5 54.3h0.9v0.9h-0.9zM375.3 55.2h0.9v0.9h-0.9zM375.1 53.9h0.9v0.9h-0.9zM372.5 53.9h0.9v0.9h-0.9zM373.4 55.8h0.9v0.9h-0.9zM358.6 67.7h0.9v0.9h-0.9zM362.3 63.9h0.9v0.9h-0.9zM364.0 62.2h0.9v0.9h-0.9zM360.2 65.6h0.9v0.9h-0.9zM359.4 66.5h0.9v0.9h-0.9zM364.6 62.0h0.9v0.9h-0.9zM365.7 62.3h0.9v0.9h-0.9zM363.4 63.1h0.9v0.9h-0.9zM365.9 62.0h0.9v0.9h-0.9zM367.5 60.2h0.9v0.9h-0.9zM360.3 65.6h0.9v0.9h-0.9zM366.7 60.1h0.9v0.9h-0.9zM360.9 64.9h0.9v0.9h-0.9zM358.1 67.3h0.9v0.9h-0.9zM363.9 63.2h0.9v0.9h-0.9zM362.3 64.5h0.9v0.9h-0.9zM367.1 60.2h0.9v0.9h-0.9zM365.5 61.6h0.9v0.9h-0.9zM360.5 65.1h0.9v0.9h-0.9zM359.2 65.9h0.9v0.9h-0.9zM366.6 60.8h0.9v0.9h-0.9zM364.3 63.1h0.9v0.9h-0.9zM366.1 60.5h0.9v0.9h-0.9zM365.0 62.0h0.9v0.9h-0.9zM358.3 67.7h0.9v0.9h-0.9zM364.7 62.5h0.9v0.9h-0.9zM359.3 65.0h0.9v0.9h-0.9zM360.5 63.8h0.9v0.9h-0.9zM363.4 63.6h0.9v0.9h-0.9zM366.6 60.0h0.9v0.9h-0.9zM365.3 63.6h0.9v0.9h-0.9zM361.2 64.2h0.9v0.9h-0.9zM357.5 67.2h0.9v0.9h-0.9zM360.0 65.6h0.9v0.9h-0.9zM360.3 65.1h0.9v0.9h-0.9zM359.9 65.5h0.9v0.9h-0.9zM366.6 60.6h0.9v0.9h-0.9zM362.1 63.5h0.9v0.9h-0.9zM366.5 60.4h0.9v0.9h-0.9zM362.7 62.9h0.9v0.9h-0.9zM364.2 61.8h0.9v0.9h-0.9zM363.0 63.0h0.9v0.9h-0.9zM363.0 63.5h0.9v0.9h-0.9zM365.7 62.2h0.9v0.9h-0.9zM358.9 66.3h0.9v0.9h-0.9zM365.5 61.1h0.9v0.9h-0.9zM362.5 64.6h0.9v0.9h-0.9zM363.2 64.0h0.9v0.9h-0.9zM363.6 61.6h0.9v0.9h-0.9zM359.3 66.5h0.9v0.9h-0.9zM361.9 64.1h0.9v0.9h-0.9zM360.1 65.5h0.9v0.9h-0.9zM365.9 60.2h0.9v0.9h-0.9zM365.4 61.8h0.9v0.9h-0.9zM361.0 65.4h0.9v0.9h-0.9zM363.2 62.8h0.9v0.9h-0.9zM364.3 63.7h0.9v0.9h-0.9zM359.1 66.8h0.9v0.9h-0.9zM364.9 61.4h0.9v0.9h-0.9zM357.6 67.6h0.9v0.9h-0.9zM359.8 66.0h0.9v0.9h-0.9zM362.5 62.2h0.9v0.9h-0.9zM358.0 66.9h0.9v0.9h-0.9zM357.9 68.7h0.9v0.9h-0.9zM358.5 67.0h0.9v0.9h-0.9zM361.8 64.5h0.9v0.9h-0.9zM367.6 58.9h0.9v0.9h-0.9zM359.7 66.7h0.9v0.9h-0.9zM358.6 66.2h0.9v0.9h-0.9zM360.2 66.3h0.9v0.9h-0.9zM364.2 63.1h0.9v0.9h-0.9zM364.5 62.8h0.9v0.9h-0.9zM365.0 61.7h0.9v0.9h-0.9zM365.8 60.8h0.9v0.9h-0.9zM365.2 61.7h0.9v0.9h-0.9zM359.4 66.4h0.9v0.9h-0.9zM363.2 63.7h0.9v0.9h-0.9zM359.1 66.2h0.9v0.9h-0.9zM362.8 64.2h0.9v0.9h-0.9zM366.3 61.4h0.9v0.9h-0.9zM358.9 46.7h0.9v0.9h-0.9zM362.7 44.3h0.9v0.9h-0.9zM369.5 57.9h0.9v0.9h-0.9zM364.6 59.3h0.9v0.9h-0.9zM361.3 61.3h0.9v0.9h-0.9zM367.0 51.1h0.9v0.9h-0.9zM370.4 50.1h0.9v0.9h-0.9zM359.8 50.1h0.9v0.9h-0.9zM368.5 62.2h0.9v0.9h-0.9zM363.7 54.9h0.9v0.9h-0.9zM372.4 59.8h0.9v0.9h-0.9zM374.3 51.1h0.9v0.9h-0.9z" fill="#d4d4d4" opacity="0.45"/>
<path d="M362.9 26.6h0.9v0.9h-0.9zM363.4 26.9h0.9v0.9h-0.9zM367.4 25.8h0.9v0.9h-0.9zM361.5 28.7h0.9v0.9h-0.9zM363.1 27.3h0.9v0.9h-0.9zM370.0 24.6h0.9v0.9h-0.9zM366.2 26.3h0.9v0.9h-0.9zM363.3 28.1h0.9v0.9h-0.9zM363.8 26.8h0.9v0.9h-0.9zM362.2 27.8h0.9v0.9h-0.9zM360.0 29.8h0.9v0.9h-0.9zM367.1 26.0h0.9v0.9h-0.9zM360.9 28.0h0.9v0.9h-0.9zM361.5 27.9h0.9v0.9h-0.9zM366.1 26.6h0.9v0.9h-0.9zM361.7 29.0h0.9v0.9h-0.9zM362.8 27.8h0.9v0.9h-0.9zM367.9 24.9h0.9v0.9h-0.9zM367.9 25.5h0.9v0.9h-0.9zM368.3 24.7h0.9v0.9h-0.9zM361.5 26.9h0.9v0.9h-0.9zM362.6 27.8h0.9v0.9h-0.9zM366.2 26.9h0.9v0.9h-0.9zM366.8 26.0h0.9v0.9h-0.9zM365.4 26.0h0.9v0.9h-0.9zM362.7 27.6h0.9v0.9h-0.9zM359.9 29.5h0.9v0.9h-0.9zM360.6 29.2h0.9v0.9h-0.9zM368.7 25.0h0.9v0.9h-0.9zM361.3 29.0h0.9v0.9h-0.9zM366.3 25.9h0.9v0.9h-0.9zM362.9 27.6h0.9v0.9h-0.9zM364.7 25.5h0.9v0.9h-0.9zM367.5 25.0h0.9v0.9h-0.9zM366.0 26.7h0.9v0.9h-0.9zM369.5 24.1h0.9v0.9h-0.9zM364.3 27.7h0.9v0.9h-0.9zM363.5 26.1h0.9v0.9h-0.9zM362.6 27.9h0.9v0.9h-0.9zM367.8 24.6h0.9v0.9h-0.9zM367.6 25.8h0.9v0.9h-0.9zM365.0 26.7h0.9v0.9h-0.9zM366.7 25.8h0.9v0.9h-0.9zM361.0 28.4h0.9v0.9h-0.9zM361.2 28.4h0.9v0.9h-0.9zM363.9 27.8h0.9v0.9h-0.9zM368.6 24.8h0.9v0.9h-0.9zM360.2 28.8h0.9v0.9h-0.9zM367.3 25.6h0.9v0.9h-0.9zM362.1 28.1h0.9v0.9h-0.9zM364.9 26.5h0.9v0.9h-0.9zM366.3 24.9h0.9v0.9h-0.9zM366.3 26.6h0.9v0.9h-0.9zM362.0 28.3h0.9v0.9h-0.9zM368.3 24.7h0.9v0.9h-0.9z" fill="#dc4a40" opacity="0.6"/>
<text x="331.9" y="30.7" font-size="8.9" font-style="italic" fill="#222">C1qa</text>
<rect x="329.4" y="74.5" width="51.2" height="51.0" fill="#fff" stroke="#8a8a8a" stroke-width="1.3"/>
<path d="M367.4 80.7h0.9v0.9h-0.9zM361.5 83.6h0.9v0.9h-0.9zM365.6 80.9h0.9v0.9h-0.9zM363.1 82.3h0.9v0.9h-0.9zM366.2 81.2h0.9v0.9h-0.9zM362.2 82.7h0.9v0.9h-0.9zM360.0 84.7h0.9v0.9h-0.9zM367.1 80.9h0.9v0.9h-0.9zM360.9 82.9h0.9v0.9h-0.9zM361.6 84.4h0.9v0.9h-0.9zM366.8 81.5h0.9v0.9h-0.9zM360.9 83.6h0.9v0.9h-0.9zM362.8 82.7h0.9v0.9h-0.9zM364.9 81.7h0.9v0.9h-0.9zM367.9 80.5h0.9v0.9h-0.9zM365.1 81.4h0.9v0.9h-0.9zM360.5 83.7h0.9v0.9h-0.9zM366.8 81.0h0.9v0.9h-0.9zM365.4 80.9h0.9v0.9h-0.9zM362.7 82.5h0.9v0.9h-0.9zM360.6 84.1h0.9v0.9h-0.9zM365.4 81.8h0.9v0.9h-0.9zM368.7 80.0h0.9v0.9h-0.9zM365.9 80.8h0.9v0.9h-0.9zM364.7 80.5h0.9v0.9h-0.9zM367.7 80.6h0.9v0.9h-0.9zM368.4 79.6h0.9v0.9h-0.9zM365.0 81.7h0.9v0.9h-0.9zM365.0 81.7h0.9v0.9h-0.9zM364.9 80.9h0.9v0.9h-0.9zM361.0 83.3h0.9v0.9h-0.9zM361.2 83.4h0.9v0.9h-0.9zM367.3 80.5h0.9v0.9h-0.9zM366.3 79.9h0.9v0.9h-0.9zM362.0 83.2h0.9v0.9h-0.9zM366.5 81.2h0.9v0.9h-0.9zM368.3 79.6h0.9v0.9h-0.9zM372.4 78.4h0.9v0.9h-0.9zM356.0 86.9h0.9v0.9h-0.9zM355.5 87.8h0.9v0.9h-0.9zM350.2 92.3h0.9v0.9h-0.9zM351.1 93.8h0.9v0.9h-0.9zM352.6 90.4h0.9v0.9h-0.9zM374.3 92.6h0.9v0.9h-0.9zM373.9 92.9h0.9v0.9h-0.9zM376.4 92.5h0.9v0.9h-0.9zM375.7 93.4h0.9v0.9h-0.9zM375.7 92.2h0.9v0.9h-0.9zM374.8 92.9h0.9v0.9h-0.9zM376.0 92.2h0.9v0.9h-0.9zM375.0 92.9h0.9v0.9h-0.9zM374.8 93.4h0.9v0.9h-0.9zM375.2 92.6h0.9v0.9h-0.9zM340.7 96.1h0.9v0.9h-0.9zM343.8 97.3h0.9v0.9h-0.9zM343.7 97.1h0.9v0.9h-0.9zM342.4 95.9h0.9v0.9h-0.9zM343.6 96.7h0.9v0.9h-0.9zM344.4 97.2h0.9v0.9h-0.9zM342.4 97.3h0.9v0.9h-0.9zM342.2 96.7h0.9v0.9h-0.9zM342.5 97.1h0.9v0.9h-0.9zM344.0 96.8h0.9v0.9h-0.9zM344.3 96.9h0.9v0.9h-0.9zM342.9 97.2h0.9v0.9h-0.9zM342.4 96.6h0.9v0.9h-0.9zM343.9 97.0h0.9v0.9h-0.9zM343.2 96.7h0.9v0.9h-0.9zM343.7 97.0h0.9v0.9h-0.9zM343.0 96.3h0.9v0.9h-0.9zM341.4 96.5h0.9v0.9h-0.9zM342.6 95.8h0.9v0.9h-0.9zM342.3 96.9h0.9v0.9h-0.9zM343.1 96.7h0.9v0.9h-0.9zM343.8 96.9h0.9v0.9h-0.9zM347.4 97.3h0.9v0.9h-0.9zM347.1 96.8h0.9v0.9h-0.9zM347.1 95.9h0.9v0.9h-0.9zM347.3 95.8h0.9v0.9h-0.9zM346.8 96.1h0.9v0.9h-0.9zM347.5 97.1h0.9v0.9h-0.9zM346.8 96.4h0.9v0.9h-0.9zM346.7 96.6h0.9v0.9h-0.9zM347.5 96.6h0.9v0.9h-0.9zM346.7 95.4h0.9v0.9h-0.9zM346.2 95.9h0.9v0.9h-0.9zM346.4 95.2h0.9v0.9h-0.9zM347.4 97.4h0.9v0.9h-0.9zM347.8 94.6h0.9v0.9h-0.9zM347.1 96.8h0.9v0.9h-0.9zM347.6 95.9h0.9v0.9h-0.9zM348.5 96.1h0.9v0.9h-0.9zM347.6 96.6h0.9v0.9h-0.9zM347.2 95.6h0.9v0.9h-0.9zM348.2 97.0h0.9v0.9h-0.9zM346.4 96.8h0.9v0.9h-0.9zM347.7 96.7h0.9v0.9h-0.9zM334.7 104.9h0.9v0.9h-0.9zM335.1 106.3h0.9v0.9h-0.9zM336.5 103.8h0.9v0.9h-0.9zM335.4 105.7h0.9v0.9h-0.9zM334.8 104.0h0.9v0.9h-0.9zM334.6 104.5h0.9v0.9h-0.9zM335.1 105.2h0.9v0.9h-0.9zM335.7 105.3h0.9v0.9h-0.9zM333.8 104.9h0.9v0.9h-0.9zM335.1 105.5h0.9v0.9h-0.9zM335.2 106.6h0.9v0.9h-0.9zM336.5 104.9h0.9v0.9h-0.9zM335.0 105.2h0.9v0.9h-0.9zM335.6 104.8h0.9v0.9h-0.9zM334.8 104.3h0.9v0.9h-0.9zM333.8 105.3h0.9v0.9h-0.9zM333.8 105.5h0.9v0.9h-0.9zM336.0 105.2h0.9v0.9h-0.9zM335.0 104.6h0.9v0.9h-0.9zM333.5 105.4h0.9v0.9h-0.9zM334.3 105.4h0.9v0.9h-0.9zM335.2 105.9h0.9v0.9h-0.9zM341.6 104.9h0.9v0.9h-0.9zM347.1 108.0h0.9v0.9h-0.9zM342.6 107.0h0.9v0.9h-0.9zM348.8 109.5h0.9v0.9h-0.9zM347.9 108.2h0.9v0.9h-0.9zM345.3 110.7h0.9v0.9h-0.9zM347.1 108.2h0.9v0.9h-0.9zM345.4 110.2h0.9v0.9h-0.9zM340.0 107.3h0.9v0.9h-0.9zM339.3 107.2h0.9v0.9h-0.9zM345.7 111.1h0.9v0.9h-0.9zM345.1 110.1h0.9v0.9h-0.9zM344.0 108.3h0.9v0.9h-0.9zM347.7 109.1h0.9v0.9h-0.9zM346.9 109.3h0.9v0.9h-0.9zM345.3 107.9h0.9v0.9h-0.9zM344.2 107.9h0.9v0.9h-0.9zM343.9 108.1h0.9v0.9h-0.9zM346.8 109.5h0.9v0.9h-0.9zM345.4 108.8h0.9v0.9h-0.9zM345.7 108.4h0.9v0.9h-0.9zM345.3 108.3h0.9v0.9h-0.9zM348.7 111.0h0.9v0.9h-0.9zM340.1 106.8h0.9v0.9h-0.9zM341.6 105.9h0.9v0.9h-0.9zM343.8 107.7h0.9v0.9h-0.9zM341.8 106.2h0.9v0.9h-0.9zM342.3 106.4h0.9v0.9h-0.9zM340.2 106.4h0.9v0.9h-0.9zM341.4 105.7h0.9v0.9h-0.9zM347.8 109.6h0.9v0.9h-0.9zM349.0 110.1h0.9v0.9h-0.9zM346.9 110.4h0.9v0.9h-0.9zM348.5 111.4h0.9v0.9h-0.9zM348.0 108.9h0.9v0.9h-0.9zM349.1 109.0h0.9v0.9h-0.9zM340.3 105.7h0.9v0.9h-0.9zM343.0 107.3h0.9v0.9h-0.9zM339.7 107.1h0.9v0.9h-0.9zM343.9 109.3h0.9v0.9h-0.9zM343.9 106.6h0.9v0.9h-0.9zM350.3 109.8h0.9v0.9h-0.9zM343.7 108.4h0.9v0.9h-0.9zM346.2 108.7h0.9v0.9h-0.9zM341.9 106.0h0.9v0.9h-0.9zM344.1 107.3h0.9v0.9h-0.9zM341.7 109.6h0.9v0.9h-0.9zM348.2 109.8h0.9v0.9h-0.9zM340.4 107.3h0.9v0.9h-0.9zM346.5 109.4h0.9v0.9h-0.9zM342.0 107.1h0.9v0.9h-0.9zM344.2 107.7h0.9v0.9h-0.9zM344.4 109.0h0.9v0.9h-0.9zM346.7 108.9h0.9v0.9h-0.9zM341.6 105.2h0.9v0.9h-0.9zM347.0 110.4h0.9v0.9h-0.9zM342.7 106.2h0.9v0.9h-0.9zM346.6 108.8h0.9v0.9h-0.9zM344.8 106.1h0.9v0.9h-0.9zM343.5 108.2h0.9v0.9h-0.9zM348.0 110.0h0.9v0.9h-0.9zM343.4 108.6h0.9v0.9h-0.9zM342.7 106.9h0.9v0.9h-0.9zM341.7 106.6h0.9v0.9h-0.9zM342.5 105.8h0.9v0.9h-0.9zM343.1 108.0h0.9v0.9h-0.9zM346.0 109.5h0.9v0.9h-0.9zM344.2 108.1h0.9v0.9h-0.9zM349.1 109.5h0.9v0.9h-0.9zM346.7 110.3h0.9v0.9h-0.9zM345.5 106.9h0.9v0.9h-0.9zM341.6 107.8h0.9v0.9h-0.9zM342.4 108.2h0.9v0.9h-0.9zM340.1 106.1h0.9v0.9h-0.9zM345.4 107.2h0.9v0.9h-0.9zM341.7 104.7h0.9v0.9h-0.9zM343.7 107.4h0.9v0.9h-0.9zM342.4 107.3h0.9v0.9h-0.9zM345.8 108.5h0.9v0.9h-0.9zM344.9 108.0h0.9v0.9h-0.9zM340.6 104.2h0.9v0.9h-0.9zM340.4 105.9h0.9v0.9h-0.9zM346.1 108.6h0.9v0.9h-0.9zM342.1 105.7h0.9v0.9h-0.9zM346.0 109.9h0.9v0.9h-0.9zM347.9 109.1h0.9v0.9h-0.9zM344.4 106.8h0.9v0.9h-0.9zM346.4 111.0h0.9v0.9h-0.9zM347.0 107.4h0.9v0.9h-0.9zM349.2 108.0h0.9v0.9h-0.9zM350.2 104.8h0.9v0.9h-0.9zM351.0 105.6h0.9v0.9h-0.9zM349.5 101.9h0.9v0.9h-0.9zM350.5 104.6h0.9v0.9h-0.9zM350.0 105.9h0.9v0.9h-0.9zM349.3 103.8h0.9v0.9h-0.9zM351.1 104.6h0.9v0.9h-0.9zM348.7 103.7h0.9v0.9h-0.9zM357.5 113.9h0.9v0.9h-0.9zM351.7 109.3h0.9v0.9h-0.9zM355.4 112.3h0.9v0.9h-0.9zM351.5 109.3h0.9v0.9h-0.9zM355.7 113.4h0.9v0.9h-0.9zM356.0 113.2h0.9v0.9h-0.9zM357.5 113.4h0.9v0.9h-0.9zM355.0 111.2h0.9v0.9h-0.9zM353.2 109.6h0.9v0.9h-0.9zM355.8 113.5h0.9v0.9h-0.9zM353.9 112.9h0.9v0.9h-0.9zM355.3 112.2h0.9v0.9h-0.9zM367.8 100.2h0.9v0.9h-0.9zM370.5 100.9h0.9v0.9h-0.9zM365.8 97.4h0.9v0.9h-0.9zM371.2 102.3h0.9v0.9h-0.9zM373.2 104.2h0.9v0.9h-0.9zM366.0 96.8h0.9v0.9h-0.9zM372.5 100.9h0.9v0.9h-0.9zM365.2 97.4h0.9v0.9h-0.9zM364.7 96.5h0.9v0.9h-0.9zM371.7 102.3h0.9v0.9h-0.9zM367.5 97.3h0.9v0.9h-0.9zM373.7 103.4h0.9v0.9h-0.9zM365.6 97.0h0.9v0.9h-0.9zM366.3 96.3h0.9v0.9h-0.9zM367.9 98.3h0.9v0.9h-0.9zM368.5 98.6h0.9v0.9h-0.9zM371.2 101.4h0.9v0.9h-0.9zM370.0 98.9h0.9v0.9h-0.9zM371.0 100.8h0.9v0.9h-0.9zM370.9 102.1h0.9v0.9h-0.9zM370.8 99.3h0.9v0.9h-0.9zM371.8 102.8h0.9v0.9h-0.9zM366.5 98.5h0.9v0.9h-0.9zM366.9 98.6h0.9v0.9h-0.9zM370.4 101.3h0.9v0.9h-0.9zM370.2 102.8h0.9v0.9h-0.9zM369.4 99.4h0.9v0.9h-0.9zM372.1 102.2h0.9v0.9h-0.9zM375.0 110.1h0.9v0.9h-0.9zM373.6 108.8h0.9v0.9h-0.9zM372.3 110.3h0.9v0.9h-0.9zM373.4 109.2h0.9v0.9h-0.9zM373.9 109.9h0.9v0.9h-0.9zM374.5 110.0h0.9v0.9h-0.9zM375.7 110.2h0.9v0.9h-0.9zM372.8 109.8h0.9v0.9h-0.9zM372.8 108.2h0.9v0.9h-0.9zM374.2 108.6h0.9v0.9h-0.9zM373.3 110.1h0.9v0.9h-0.9zM374.8 109.4h0.9v0.9h-0.9zM373.0 107.0h0.9v0.9h-0.9zM374.1 108.1h0.9v0.9h-0.9zM373.7 109.3h0.9v0.9h-0.9zM373.4 110.1h0.9v0.9h-0.9zM373.5 109.0h0.9v0.9h-0.9zM373.0 110.1h0.9v0.9h-0.9zM374.2 107.8h0.9v0.9h-0.9zM373.4 109.0h0.9v0.9h-0.9zM374.0 107.5h0.9v0.9h-0.9zM372.9 109.1h0.9v0.9h-0.9zM373.3 109.4h0.9v0.9h-0.9zM373.2 106.9h0.9v0.9h-0.9zM372.3 109.2h0.9v0.9h-0.9zM374.1 108.9h0.9v0.9h-0.9zM375.1 108.9h0.9v0.9h-0.9zM373.9 109.7h0.9v0.9h-0.9zM373.8 110.5h0.9v0.9h-0.9zM373.5 108.6h0.9v0.9h-0.9zM374.6 109.0h0.9v0.9h-0.9zM373.3 109.5h0.9v0.9h-0.9zM374.3 109.3h0.9v0.9h-0.9zM374.8 108.7h0.9v0.9h-0.9zM372.7 108.9h0.9v0.9h-0.9zM373.6 111.2h0.9v0.9h-0.9zM375.6 109.3h0.9v0.9h-0.9zM373.4 109.1h0.9v0.9h-0.9zM374.2 108.7h0.9v0.9h-0.9zM374.4 109.0h0.9v0.9h-0.9zM372.2 108.6h0.9v0.9h-0.9zM374.3 110.4h0.9v0.9h-0.9zM374.0 109.5h0.9v0.9h-0.9zM375.0 111.7h0.9v0.9h-0.9zM375.1 108.9h0.9v0.9h-0.9zM373.3 110.6h0.9v0.9h-0.9zM373.7 108.5h0.9v0.9h-0.9zM372.3 108.5h0.9v0.9h-0.9zM374.4 109.4h0.9v0.9h-0.9zM373.3 109.5h0.9v0.9h-0.9zM372.9 110.1h0.9v0.9h-0.9zM374.3 110.3h0.9v0.9h-0.9zM373.7 110.5h0.9v0.9h-0.9zM373.1 110.4h0.9v0.9h-0.9zM375.2 109.7h0.9v0.9h-0.9zM375.3 111.1h0.9v0.9h-0.9zM372.9 108.8h0.9v0.9h-0.9zM372.7 110.0h0.9v0.9h-0.9zM373.2 108.0h0.9v0.9h-0.9zM373.8 108.4h0.9v0.9h-0.9zM375.6 109.3h0.9v0.9h-0.9zM374.4 108.7h0.9v0.9h-0.9zM372.7 109.8h0.9v0.9h-0.9zM374.8 108.8h0.9v0.9h-0.9zM372.8 109.2h0.9v0.9h-0.9zM374.5 108.9h0.9v0.9h-0.9zM375.3 109.8h0.9v0.9h-0.9zM375.1 108.5h0.9v0.9h-0.9zM372.5 108.5h0.9v0.9h-0.9zM373.4 110.5h0.9v0.9h-0.9zM358.6 122.2h0.9v0.9h-0.9zM362.3 118.5h0.9v0.9h-0.9zM364.0 116.7h0.9v0.9h-0.9zM360.2 120.2h0.9v0.9h-0.9zM359.4 121.0h0.9v0.9h-0.9zM364.6 116.6h0.9v0.9h-0.9zM365.7 116.9h0.9v0.9h-0.9zM363.4 117.7h0.9v0.9h-0.9zM365.9 116.5h0.9v0.9h-0.9zM367.5 114.8h0.9v0.9h-0.9zM360.3 120.1h0.9v0.9h-0.9zM366.7 114.7h0.9v0.9h-0.9zM360.9 119.4h0.9v0.9h-0.9zM358.1 121.8h0.9v0.9h-0.9zM363.9 117.7h0.9v0.9h-0.9zM362.3 119.0h0.9v0.9h-0.9zM367.1 114.8h0.9v0.9h-0.9zM365.5 116.2h0.9v0.9h-0.9zM360.5 119.7h0.9v0.9h-0.9zM359.2 120.4h0.9v0.9h-0.9zM366.6 115.4h0.9v0.9h-0.9zM364.3 117.7h0.9v0.9h-0.9zM366.1 115.1h0.9v0.9h-0.9zM365.0 116.6h0.9v0.9h-0.9zM358.3 122.2h0.9v0.9h-0.9zM364.7 117.0h0.9v0.9h-0.9zM359.3 119.6h0.9v0.9h-0.9zM360.5 118.4h0.9v0.9h-0.9zM363.4 118.1h0.9v0.9h-0.9zM366.6 114.6h0.9v0.9h-0.9zM365.3 118.1h0.9v0.9h-0.9zM361.2 118.7h0.9v0.9h-0.9zM357.5 121.7h0.9v0.9h-0.9zM360.0 120.1h0.9v0.9h-0.9zM360.3 119.6h0.9v0.9h-0.9zM359.9 120.0h0.9v0.9h-0.9zM366.6 115.2h0.9v0.9h-0.9zM362.1 118.1h0.9v0.9h-0.9zM366.5 115.0h0.9v0.9h-0.9zM362.7 117.5h0.9v0.9h-0.9zM364.2 116.4h0.9v0.9h-0.9zM363.0 117.6h0.9v0.9h-0.9zM363.0 118.1h0.9v0.9h-0.9zM365.7 116.8h0.9v0.9h-0.9zM358.9 120.8h0.9v0.9h-0.9zM365.5 115.7h0.9v0.9h-0.9zM362.5 119.2h0.9v0.9h-0.9zM363.2 118.5h0.9v0.9h-0.9zM363.6 116.1h0.9v0.9h-0.9zM359.3 121.0h0.9v0.9h-0.9zM361.9 118.6h0.9v0.9h-0.9zM360.1 120.0h0.9v0.9h-0.9zM365.9 114.8h0.9v0.9h-0.9zM365.4 116.4h0.9v0.9h-0.9zM361.0 120.0h0.9v0.9h-0.9zM363.2 117.3h0.9v0.9h-0.9zM364.3 118.2h0.9v0.9h-0.9zM359.1 121.3h0.9v0.9h-0.9zM364.9 116.0h0.9v0.9h-0.9zM357.6 122.1h0.9v0.9h-0.9zM359.8 120.6h0.9v0.9h-0.9zM362.5 116.8h0.9v0.9h-0.9zM358.0 121.4h0.9v0.9h-0.9zM357.9 123.2h0.9v0.9h-0.9zM358.5 121.5h0.9v0.9h-0.9zM361.8 119.0h0.9v0.9h-0.9zM367.6 113.5h0.9v0.9h-0.9zM359.7 121.2h0.9v0.9h-0.9zM358.6 120.7h0.9v0.9h-0.9zM360.2 120.8h0.9v0.9h-0.9zM364.2 117.6h0.9v0.9h-0.9zM364.5 117.4h0.9v0.9h-0.9zM365.0 116.2h0.9v0.9h-0.9zM365.8 115.4h0.9v0.9h-0.9zM365.2 116.3h0.9v0.9h-0.9zM359.4 120.9h0.9v0.9h-0.9zM363.2 118.3h0.9v0.9h-0.9zM359.1 120.7h0.9v0.9h-0.9zM362.8 118.7h0.9v0.9h-0.9zM366.3 116.0h0.9v0.9h-0.9zM358.9 101.4h0.9v0.9h-0.9zM362.7 99.0h0.9v0.9h-0.9zM369.5 112.5h0.9v0.9h-0.9zM364.6 113.9h0.9v0.9h-0.9zM361.3 115.8h0.9v0.9h-0.9zM367.0 105.8h0.9v0.9h-0.9zM370.4 104.8h0.9v0.9h-0.9zM359.8 104.8h0.9v0.9h-0.9zM368.5 116.8h0.9v0.9h-0.9zM363.7 109.6h0.9v0.9h-0.9zM372.4 114.4h0.9v0.9h-0.9zM374.3 105.8h0.9v0.9h-0.9z" fill="#d4d4d4" opacity="0.45"/>
<path d="M362.9 81.5h0.9v0.9h-0.9zM363.4 81.9h0.9v0.9h-0.9zM360.8 83.1h0.9v0.9h-0.9zM360.9 82.8h0.9v0.9h-0.9zM359.8 83.8h0.9v0.9h-0.9zM361.6 83.2h0.9v0.9h-0.9zM364.2 81.2h0.9v0.9h-0.9zM365.5 81.2h0.9v0.9h-0.9zM370.0 79.6h0.9v0.9h-0.9zM363.3 83.0h0.9v0.9h-0.9zM363.8 81.8h0.9v0.9h-0.9zM368.6 79.8h0.9v0.9h-0.9zM368.6 79.8h0.9v0.9h-0.9zM365.7 80.8h0.9v0.9h-0.9zM361.6 83.8h0.9v0.9h-0.9zM361.5 82.8h0.9v0.9h-0.9zM366.1 81.5h0.9v0.9h-0.9zM367.0 82.1h0.9v0.9h-0.9zM361.7 83.9h0.9v0.9h-0.9zM360.3 83.3h0.9v0.9h-0.9zM367.9 79.8h0.9v0.9h-0.9zM368.3 79.6h0.9v0.9h-0.9zM361.5 81.9h0.9v0.9h-0.9zM362.6 82.7h0.9v0.9h-0.9zM366.2 81.8h0.9v0.9h-0.9zM365.2 81.7h0.9v0.9h-0.9zM359.9 84.4h0.9v0.9h-0.9zM361.3 83.9h0.9v0.9h-0.9zM366.3 80.9h0.9v0.9h-0.9zM364.8 81.3h0.9v0.9h-0.9zM362.9 82.5h0.9v0.9h-0.9zM366.3 79.9h0.9v0.9h-0.9zM367.5 80.0h0.9v0.9h-0.9zM366.0 81.6h0.9v0.9h-0.9zM369.5 79.1h0.9v0.9h-0.9zM363.3 81.6h0.9v0.9h-0.9zM364.0 81.8h0.9v0.9h-0.9zM367.4 80.8h0.9v0.9h-0.9zM364.3 82.6h0.9v0.9h-0.9zM363.5 81.0h0.9v0.9h-0.9zM362.6 82.8h0.9v0.9h-0.9zM366.1 81.3h0.9v0.9h-0.9zM367.8 79.5h0.9v0.9h-0.9zM367.6 80.7h0.9v0.9h-0.9zM360.8 83.5h0.9v0.9h-0.9zM368.6 79.6h0.9v0.9h-0.9zM366.7 80.7h0.9v0.9h-0.9zM363.9 82.7h0.9v0.9h-0.9zM368.6 79.7h0.9v0.9h-0.9zM360.2 83.7h0.9v0.9h-0.9zM365.9 80.7h0.9v0.9h-0.9zM365.0 82.1h0.9v0.9h-0.9zM362.1 83.0h0.9v0.9h-0.9zM364.9 81.4h0.9v0.9h-0.9zM366.3 81.5h0.9v0.9h-0.9zM362.8 81.8h0.9v0.9h-0.9zM365.5 80.7h0.9v0.9h-0.9zM367.3 80.4h0.9v0.9h-0.9z" fill="#dc4a40" opacity="0.6"/>
<text x="331.9" y="85.7" font-size="8.9" font-style="italic" fill="#222">C1qb</text>
<rect x="329.4" y="129.5" width="51.2" height="50.5" fill="#fff" stroke="#8a8a8a" stroke-width="1.3"/>
<path d="M367.4 135.7h0.9v0.9h-0.9zM365.6 135.8h0.9v0.9h-0.9zM361.6 138.2h0.9v0.9h-0.9zM363.1 137.2h0.9v0.9h-0.9zM366.2 136.2h0.9v0.9h-0.9zM363.3 138.0h0.9v0.9h-0.9zM368.6 134.7h0.9v0.9h-0.9zM362.2 137.6h0.9v0.9h-0.9zM361.5 137.8h0.9v0.9h-0.9zM361.6 139.3h0.9v0.9h-0.9zM366.8 136.4h0.9v0.9h-0.9zM361.7 138.8h0.9v0.9h-0.9zM367.9 134.8h0.9v0.9h-0.9zM367.9 135.4h0.9v0.9h-0.9zM361.5 136.8h0.9v0.9h-0.9zM362.6 137.7h0.9v0.9h-0.9zM360.5 138.6h0.9v0.9h-0.9zM365.2 136.6h0.9v0.9h-0.9zM359.9 139.3h0.9v0.9h-0.9zM365.4 136.7h0.9v0.9h-0.9zM368.7 134.9h0.9v0.9h-0.9zM365.9 135.7h0.9v0.9h-0.9zM361.3 138.8h0.9v0.9h-0.9zM364.8 136.2h0.9v0.9h-0.9zM362.9 137.5h0.9v0.9h-0.9zM364.7 135.4h0.9v0.9h-0.9zM368.4 134.6h0.9v0.9h-0.9zM366.0 136.6h0.9v0.9h-0.9zM363.3 136.5h0.9v0.9h-0.9zM362.6 137.8h0.9v0.9h-0.9zM366.1 136.2h0.9v0.9h-0.9zM367.6 135.7h0.9v0.9h-0.9zM364.9 135.9h0.9v0.9h-0.9zM361.0 138.2h0.9v0.9h-0.9zM361.2 138.3h0.9v0.9h-0.9zM360.2 138.6h0.9v0.9h-0.9zM365.9 135.6h0.9v0.9h-0.9zM367.3 135.5h0.9v0.9h-0.9zM362.1 137.9h0.9v0.9h-0.9zM366.3 136.5h0.9v0.9h-0.9zM362.0 138.1h0.9v0.9h-0.9zM366.5 136.2h0.9v0.9h-0.9zM367.3 135.3h0.9v0.9h-0.9zM356.0 141.8h0.9v0.9h-0.9zM355.5 142.6h0.9v0.9h-0.9zM350.2 147.2h0.9v0.9h-0.9zM351.1 148.6h0.9v0.9h-0.9zM352.6 145.2h0.9v0.9h-0.9zM374.3 147.4h0.9v0.9h-0.9zM376.4 147.3h0.9v0.9h-0.9zM375.7 148.2h0.9v0.9h-0.9zM375.7 147.0h0.9v0.9h-0.9zM374.8 147.7h0.9v0.9h-0.9zM376.0 147.0h0.9v0.9h-0.9zM374.8 148.3h0.9v0.9h-0.9zM340.7 150.8h0.9v0.9h-0.9zM343.8 152.0h0.9v0.9h-0.9zM343.7 151.9h0.9v0.9h-0.9zM342.4 150.7h0.9v0.9h-0.9zM343.6 151.4h0.9v0.9h-0.9zM344.4 152.0h0.9v0.9h-0.9zM342.4 152.1h0.9v0.9h-0.9zM342.2 151.4h0.9v0.9h-0.9zM342.5 151.8h0.9v0.9h-0.9zM344.0 151.6h0.9v0.9h-0.9zM344.3 151.7h0.9v0.9h-0.9zM342.9 152.0h0.9v0.9h-0.9zM342.4 151.4h0.9v0.9h-0.9zM343.9 151.8h0.9v0.9h-0.9zM343.2 151.5h0.9v0.9h-0.9zM343.7 151.8h0.9v0.9h-0.9zM343.0 151.1h0.9v0.9h-0.9zM341.4 151.2h0.9v0.9h-0.9zM342.6 150.6h0.9v0.9h-0.9zM342.3 151.6h0.9v0.9h-0.9zM343.1 151.4h0.9v0.9h-0.9zM343.8 151.7h0.9v0.9h-0.9zM347.4 152.1h0.9v0.9h-0.9zM347.1 151.6h0.9v0.9h-0.9zM347.1 150.7h0.9v0.9h-0.9zM347.3 150.6h0.9v0.9h-0.9zM346.8 150.9h0.9v0.9h-0.9zM347.5 151.8h0.9v0.9h-0.9zM346.8 151.2h0.9v0.9h-0.9zM346.7 151.4h0.9v0.9h-0.9zM347.5 151.4h0.9v0.9h-0.9zM346.7 150.2h0.9v0.9h-0.9zM346.2 150.7h0.9v0.9h-0.9zM346.4 150.0h0.9v0.9h-0.9zM347.4 152.2h0.9v0.9h-0.9zM347.8 149.4h0.9v0.9h-0.9zM347.1 151.6h0.9v0.9h-0.9zM347.6 150.7h0.9v0.9h-0.9zM348.5 150.9h0.9v0.9h-0.9zM347.6 151.4h0.9v0.9h-0.9zM347.2 150.4h0.9v0.9h-0.9zM348.2 151.8h0.9v0.9h-0.9zM346.4 151.6h0.9v0.9h-0.9zM347.7 151.5h0.9v0.9h-0.9zM334.7 159.6h0.9v0.9h-0.9zM335.1 161.0h0.9v0.9h-0.9zM336.5 158.5h0.9v0.9h-0.9zM335.4 160.4h0.9v0.9h-0.9zM334.8 158.7h0.9v0.9h-0.9zM334.6 159.2h0.9v0.9h-0.9zM335.1 159.9h0.9v0.9h-0.9zM335.7 160.0h0.9v0.9h-0.9zM333.8 159.6h0.9v0.9h-0.9zM335.1 160.2h0.9v0.9h-0.9zM335.2 161.3h0.9v0.9h-0.9zM336.5 159.6h0.9v0.9h-0.9zM335.0 159.9h0.9v0.9h-0.9zM335.6 159.5h0.9v0.9h-0.9zM334.8 159.0h0.9v0.9h-0.9zM333.8 159.9h0.9v0.9h-0.9zM333.8 160.2h0.9v0.9h-0.9zM336.0 159.8h0.9v0.9h-0.9zM335.0 159.3h0.9v0.9h-0.9zM333.5 160.1h0.9v0.9h-0.9zM334.3 160.1h0.9v0.9h-0.9zM335.2 160.6h0.9v0.9h-0.9zM341.6 159.6h0.9v0.9h-0.9zM347.1 162.6h0.9v0.9h-0.9zM342.6 161.7h0.9v0.9h-0.9zM348.8 164.2h0.9v0.9h-0.9zM347.9 162.9h0.9v0.9h-0.9zM345.3 165.4h0.9v0.9h-0.9zM347.1 162.8h0.9v0.9h-0.9zM345.4 164.9h0.9v0.9h-0.9zM340.0 161.9h0.9v0.9h-0.9zM339.3 161.9h0.9v0.9h-0.9zM345.7 165.7h0.9v0.9h-0.9zM345.1 164.8h0.9v0.9h-0.9zM344.0 162.9h0.9v0.9h-0.9zM347.7 163.8h0.9v0.9h-0.9zM346.9 163.9h0.9v0.9h-0.9zM345.3 162.6h0.9v0.9h-0.9zM344.2 162.6h0.9v0.9h-0.9zM343.9 162.7h0.9v0.9h-0.9zM346.8 164.2h0.9v0.9h-0.9zM345.4 163.5h0.9v0.9h-0.9zM345.7 163.0h0.9v0.9h-0.9zM345.3 162.9h0.9v0.9h-0.9zM348.7 165.6h0.9v0.9h-0.9zM340.1 161.4h0.9v0.9h-0.9zM341.6 160.6h0.9v0.9h-0.9zM343.8 162.4h0.9v0.9h-0.9zM341.8 160.9h0.9v0.9h-0.9zM342.3 161.1h0.9v0.9h-0.9zM340.2 161.0h0.9v0.9h-0.9zM341.4 160.4h0.9v0.9h-0.9zM347.8 164.2h0.9v0.9h-0.9zM349.0 164.8h0.9v0.9h-0.9zM346.9 165.0h0.9v0.9h-0.9zM348.5 166.1h0.9v0.9h-0.9zM348.0 163.6h0.9v0.9h-0.9zM349.1 163.6h0.9v0.9h-0.9zM340.3 160.4h0.9v0.9h-0.9zM343.0 162.0h0.9v0.9h-0.9zM339.7 161.7h0.9v0.9h-0.9zM343.9 163.9h0.9v0.9h-0.9zM343.9 161.3h0.9v0.9h-0.9zM350.3 164.5h0.9v0.9h-0.9zM343.7 163.1h0.9v0.9h-0.9zM346.2 163.4h0.9v0.9h-0.9zM341.9 160.7h0.9v0.9h-0.9zM344.1 162.0h0.9v0.9h-0.9zM341.7 164.3h0.9v0.9h-0.9zM348.2 164.4h0.9v0.9h-0.9zM340.4 162.0h0.9v0.9h-0.9zM346.5 164.1h0.9v0.9h-0.9zM342.0 161.8h0.9v0.9h-0.9zM344.2 162.3h0.9v0.9h-0.9zM344.4 163.6h0.9v0.9h-0.9zM346.7 163.5h0.9v0.9h-0.9zM341.6 159.9h0.9v0.9h-0.9zM347.0 165.0h0.9v0.9h-0.9zM342.7 160.9h0.9v0.9h-0.9zM346.6 163.4h0.9v0.9h-0.9zM344.8 160.8h0.9v0.9h-0.9zM343.5 162.8h0.9v0.9h-0.9zM348.0 164.6h0.9v0.9h-0.9zM343.4 163.2h0.9v0.9h-0.9zM342.7 161.6h0.9v0.9h-0.9zM341.7 161.2h0.9v0.9h-0.9zM342.5 160.5h0.9v0.9h-0.9zM343.1 162.6h0.9v0.9h-0.9zM346.0 164.2h0.9v0.9h-0.9zM344.2 162.8h0.9v0.9h-0.9zM349.1 164.2h0.9v0.9h-0.9zM346.7 164.9h0.9v0.9h-0.9zM345.5 161.6h0.9v0.9h-0.9zM341.6 162.5h0.9v0.9h-0.9zM342.4 162.8h0.9v0.9h-0.9zM340.1 160.8h0.9v0.9h-0.9zM345.4 161.9h0.9v0.9h-0.9zM341.7 159.4h0.9v0.9h-0.9zM343.7 162.1h0.9v0.9h-0.9zM342.4 161.9h0.9v0.9h-0.9zM345.8 163.1h0.9v0.9h-0.9zM344.9 162.6h0.9v0.9h-0.9zM340.6 158.9h0.9v0.9h-0.9zM340.4 160.6h0.9v0.9h-0.9zM346.1 163.3h0.9v0.9h-0.9zM342.1 160.4h0.9v0.9h-0.9zM346.0 164.5h0.9v0.9h-0.9zM347.9 163.8h0.9v0.9h-0.9zM344.4 161.4h0.9v0.9h-0.9zM346.4 165.6h0.9v0.9h-0.9zM347.0 162.1h0.9v0.9h-0.9zM349.2 162.6h0.9v0.9h-0.9zM350.2 159.5h0.9v0.9h-0.9zM351.0 160.3h0.9v0.9h-0.9zM349.5 156.7h0.9v0.9h-0.9zM350.5 159.3h0.9v0.9h-0.9zM350.0 160.5h0.9v0.9h-0.9zM349.3 158.5h0.9v0.9h-0.9zM351.1 159.3h0.9v0.9h-0.9zM348.7 158.4h0.9v0.9h-0.9zM357.5 168.5h0.9v0.9h-0.9zM351.7 164.0h0.9v0.9h-0.9zM355.4 166.9h0.9v0.9h-0.9zM351.5 163.9h0.9v0.9h-0.9zM355.7 168.1h0.9v0.9h-0.9zM356.0 167.8h0.9v0.9h-0.9zM357.5 168.0h0.9v0.9h-0.9zM355.0 165.8h0.9v0.9h-0.9zM353.2 164.2h0.9v0.9h-0.9zM355.8 168.1h0.9v0.9h-0.9zM353.9 167.5h0.9v0.9h-0.9zM355.3 166.8h0.9v0.9h-0.9zM367.8 155.0h0.9v0.9h-0.9zM370.5 155.6h0.9v0.9h-0.9zM365.8 152.2h0.9v0.9h-0.9zM371.2 157.0h0.9v0.9h-0.9zM373.2 158.9h0.9v0.9h-0.9zM366.0 151.6h0.9v0.9h-0.9zM372.5 155.6h0.9v0.9h-0.9zM365.2 152.2h0.9v0.9h-0.9zM364.7 151.3h0.9v0.9h-0.9zM371.7 157.0h0.9v0.9h-0.9zM367.5 152.1h0.9v0.9h-0.9zM373.7 158.2h0.9v0.9h-0.9zM365.6 151.8h0.9v0.9h-0.9zM366.3 151.1h0.9v0.9h-0.9zM367.9 153.1h0.9v0.9h-0.9zM368.5 153.4h0.9v0.9h-0.9zM371.2 156.1h0.9v0.9h-0.9zM370.0 153.7h0.9v0.9h-0.9zM371.0 155.5h0.9v0.9h-0.9zM370.9 156.8h0.9v0.9h-0.9zM370.8 154.1h0.9v0.9h-0.9zM371.8 157.5h0.9v0.9h-0.9zM366.5 153.3h0.9v0.9h-0.9zM366.9 153.3h0.9v0.9h-0.9zM370.4 156.0h0.9v0.9h-0.9zM370.2 157.5h0.9v0.9h-0.9zM369.4 154.1h0.9v0.9h-0.9zM372.1 157.0h0.9v0.9h-0.9zM375.0 164.7h0.9v0.9h-0.9zM373.6 163.5h0.9v0.9h-0.9zM372.3 165.0h0.9v0.9h-0.9zM373.4 163.8h0.9v0.9h-0.9zM373.9 164.5h0.9v0.9h-0.9zM374.5 164.6h0.9v0.9h-0.9zM375.7 164.9h0.9v0.9h-0.9zM372.8 164.5h0.9v0.9h-0.9zM372.8 162.8h0.9v0.9h-0.9zM374.2 163.3h0.9v0.9h-0.9zM373.3 164.8h0.9v0.9h-0.9zM374.8 164.1h0.9v0.9h-0.9zM373.0 161.7h0.9v0.9h-0.9zM374.1 162.8h0.9v0.9h-0.9zM373.7 163.9h0.9v0.9h-0.9zM373.4 164.7h0.9v0.9h-0.9zM373.5 163.7h0.9v0.9h-0.9zM373.0 164.7h0.9v0.9h-0.9zM374.2 162.5h0.9v0.9h-0.9zM373.4 163.7h0.9v0.9h-0.9zM374.0 162.2h0.9v0.9h-0.9zM372.9 163.8h0.9v0.9h-0.9zM373.3 164.0h0.9v0.9h-0.9zM373.2 161.6h0.9v0.9h-0.9zM372.3 163.9h0.9v0.9h-0.9zM374.1 163.5h0.9v0.9h-0.9zM375.1 163.6h0.9v0.9h-0.9zM373.9 164.4h0.9v0.9h-0.9zM373.8 165.1h0.9v0.9h-0.9zM373.5 163.3h0.9v0.9h-0.9zM374.6 163.7h0.9v0.9h-0.9zM373.3 164.1h0.9v0.9h-0.9zM374.3 163.9h0.9v0.9h-0.9zM374.8 163.4h0.9v0.9h-0.9zM372.7 163.6h0.9v0.9h-0.9zM373.6 165.9h0.9v0.9h-0.9zM375.6 163.9h0.9v0.9h-0.9zM373.4 163.8h0.9v0.9h-0.9zM374.2 163.4h0.9v0.9h-0.9zM374.4 163.6h0.9v0.9h-0.9zM372.2 163.3h0.9v0.9h-0.9zM374.3 165.0h0.9v0.9h-0.9zM374.0 164.1h0.9v0.9h-0.9zM375.0 166.3h0.9v0.9h-0.9zM375.1 163.5h0.9v0.9h-0.9zM373.3 165.2h0.9v0.9h-0.9zM373.7 163.2h0.9v0.9h-0.9zM372.3 163.2h0.9v0.9h-0.9zM374.4 164.1h0.9v0.9h-0.9zM373.3 164.1h0.9v0.9h-0.9zM372.9 164.7h0.9v0.9h-0.9zM374.3 164.9h0.9v0.9h-0.9zM373.7 165.1h0.9v0.9h-0.9zM373.1 165.1h0.9v0.9h-0.9zM375.2 164.3h0.9v0.9h-0.9zM375.3 165.7h0.9v0.9h-0.9zM372.9 163.4h0.9v0.9h-0.9zM372.7 164.6h0.9v0.9h-0.9zM373.2 162.7h0.9v0.9h-0.9zM373.8 163.0h0.9v0.9h-0.9zM375.6 164.0h0.9v0.9h-0.9zM374.4 163.3h0.9v0.9h-0.9zM372.7 164.5h0.9v0.9h-0.9zM374.8 163.4h0.9v0.9h-0.9zM372.8 163.9h0.9v0.9h-0.9zM374.5 163.6h0.9v0.9h-0.9zM375.3 164.5h0.9v0.9h-0.9zM375.1 163.2h0.9v0.9h-0.9zM372.5 163.2h0.9v0.9h-0.9zM373.4 165.1h0.9v0.9h-0.9zM358.6 176.7h0.9v0.9h-0.9zM362.3 173.0h0.9v0.9h-0.9zM364.0 171.3h0.9v0.9h-0.9zM360.2 174.7h0.9v0.9h-0.9zM359.4 175.5h0.9v0.9h-0.9zM364.6 171.2h0.9v0.9h-0.9zM365.7 171.5h0.9v0.9h-0.9zM363.4 172.2h0.9v0.9h-0.9zM365.9 171.1h0.9v0.9h-0.9zM367.5 169.4h0.9v0.9h-0.9zM360.3 174.7h0.9v0.9h-0.9zM366.7 169.3h0.9v0.9h-0.9zM360.9 174.0h0.9v0.9h-0.9zM358.1 176.3h0.9v0.9h-0.9zM363.9 172.3h0.9v0.9h-0.9zM362.3 173.6h0.9v0.9h-0.9zM367.1 169.4h0.9v0.9h-0.9zM365.5 170.8h0.9v0.9h-0.9zM360.5 174.2h0.9v0.9h-0.9zM359.2 175.0h0.9v0.9h-0.9zM366.6 170.0h0.9v0.9h-0.9zM364.3 172.3h0.9v0.9h-0.9zM366.1 169.7h0.9v0.9h-0.9zM365.0 171.1h0.9v0.9h-0.9zM358.3 176.7h0.9v0.9h-0.9zM364.7 171.6h0.9v0.9h-0.9zM359.3 174.1h0.9v0.9h-0.9zM360.5 172.9h0.9v0.9h-0.9zM363.4 172.7h0.9v0.9h-0.9zM366.6 169.2h0.9v0.9h-0.9zM365.3 172.7h0.9v0.9h-0.9zM361.2 173.3h0.9v0.9h-0.9zM357.5 176.2h0.9v0.9h-0.9zM360.0 174.6h0.9v0.9h-0.9zM360.3 174.2h0.9v0.9h-0.9zM359.9 174.5h0.9v0.9h-0.9zM366.6 169.8h0.9v0.9h-0.9zM362.1 172.7h0.9v0.9h-0.9zM366.5 169.6h0.9v0.9h-0.9zM362.7 172.1h0.9v0.9h-0.9zM364.2 171.0h0.9v0.9h-0.9zM363.0 172.2h0.9v0.9h-0.9zM363.0 172.7h0.9v0.9h-0.9zM365.7 171.4h0.9v0.9h-0.9zM358.9 175.4h0.9v0.9h-0.9zM365.5 170.3h0.9v0.9h-0.9zM362.5 173.7h0.9v0.9h-0.9zM363.2 173.1h0.9v0.9h-0.9zM363.6 170.7h0.9v0.9h-0.9zM359.3 175.5h0.9v0.9h-0.9zM361.9 173.2h0.9v0.9h-0.9zM360.1 174.6h0.9v0.9h-0.9zM365.9 169.4h0.9v0.9h-0.9zM365.4 171.0h0.9v0.9h-0.9zM361.0 174.5h0.9v0.9h-0.9zM363.2 171.9h0.9v0.9h-0.9zM364.3 172.8h0.9v0.9h-0.9zM359.1 175.8h0.9v0.9h-0.9zM364.9 170.5h0.9v0.9h-0.9zM357.6 176.6h0.9v0.9h-0.9zM359.8 175.1h0.9v0.9h-0.9zM362.5 171.3h0.9v0.9h-0.9zM358.0 176.0h0.9v0.9h-0.9zM357.9 177.7h0.9v0.9h-0.9zM358.5 176.0h0.9v0.9h-0.9zM361.8 173.6h0.9v0.9h-0.9zM367.6 168.1h0.9v0.9h-0.9zM359.7 175.8h0.9v0.9h-0.9zM358.6 175.3h0.9v0.9h-0.9zM360.2 175.4h0.9v0.9h-0.9zM364.2 172.2h0.9v0.9h-0.9zM364.5 171.9h0.9v0.9h-0.9zM365.0 170.8h0.9v0.9h-0.9zM365.8 170.0h0.9v0.9h-0.9zM365.2 170.9h0.9v0.9h-0.9zM359.4 175.4h0.9v0.9h-0.9zM363.2 172.9h0.9v0.9h-0.9zM359.1 175.3h0.9v0.9h-0.9zM362.8 173.3h0.9v0.9h-0.9zM366.3 170.6h0.9v0.9h-0.9zM358.9 156.2h0.9v0.9h-0.9zM362.7 153.8h0.9v0.9h-0.9zM369.5 167.1h0.9v0.9h-0.9zM364.6 168.5h0.9v0.9h-0.9zM361.3 170.4h0.9v0.9h-0.9zM367.0 160.4h0.9v0.9h-0.9zM370.4 159.5h0.9v0.9h-0.9zM359.8 159.5h0.9v0.9h-0.9zM368.5 171.4h0.9v0.9h-0.9zM363.7 164.2h0.9v0.9h-0.9zM372.4 169.0h0.9v0.9h-0.9zM374.3 160.4h0.9v0.9h-0.9z" fill="#d4d4d4" opacity="0.45"/>
<path d="M362.9 136.5h0.9v0.9h-0.9zM363.4 136.8h0.9v0.9h-0.9zM360.8 138.0h0.9v0.9h-0.9zM360.9 137.7h0.9v0.9h-0.9zM361.5 138.5h0.9v0.9h-0.9zM359.8 138.7h0.9v0.9h-0.9zM364.2 136.2h0.9v0.9h-0.9zM365.5 136.1h0.9v0.9h-0.9zM370.0 134.5h0.9v0.9h-0.9zM363.8 136.7h0.9v0.9h-0.9zM368.6 134.8h0.9v0.9h-0.9zM365.7 135.7h0.9v0.9h-0.9zM360.0 139.6h0.9v0.9h-0.9zM367.1 135.9h0.9v0.9h-0.9zM361.6 138.7h0.9v0.9h-0.9zM360.9 137.9h0.9v0.9h-0.9zM366.1 136.4h0.9v0.9h-0.9zM360.9 138.6h0.9v0.9h-0.9zM367.0 137.0h0.9v0.9h-0.9zM362.8 137.6h0.9v0.9h-0.9zM360.3 138.3h0.9v0.9h-0.9zM364.9 136.7h0.9v0.9h-0.9zM368.3 134.6h0.9v0.9h-0.9zM365.1 136.4h0.9v0.9h-0.9zM366.2 136.8h0.9v0.9h-0.9zM366.8 135.9h0.9v0.9h-0.9zM365.4 135.9h0.9v0.9h-0.9zM362.7 137.5h0.9v0.9h-0.9zM360.6 139.0h0.9v0.9h-0.9zM366.3 135.8h0.9v0.9h-0.9zM366.3 134.8h0.9v0.9h-0.9zM367.7 135.6h0.9v0.9h-0.9zM367.5 135.0h0.9v0.9h-0.9zM365.0 136.6h0.9v0.9h-0.9zM369.5 134.0h0.9v0.9h-0.9zM364.0 136.8h0.9v0.9h-0.9zM367.4 135.8h0.9v0.9h-0.9zM364.3 137.6h0.9v0.9h-0.9zM363.5 136.0h0.9v0.9h-0.9zM367.8 134.5h0.9v0.9h-0.9zM360.8 138.4h0.9v0.9h-0.9zM368.6 134.6h0.9v0.9h-0.9zM365.0 136.6h0.9v0.9h-0.9zM366.7 135.7h0.9v0.9h-0.9zM363.9 137.6h0.9v0.9h-0.9zM368.6 134.7h0.9v0.9h-0.9zM365.0 137.0h0.9v0.9h-0.9zM364.9 136.4h0.9v0.9h-0.9zM366.3 134.8h0.9v0.9h-0.9zM362.8 136.8h0.9v0.9h-0.9zM365.5 135.7h0.9v0.9h-0.9zM368.3 134.6h0.9v0.9h-0.9zM372.4 133.4h0.9v0.9h-0.9zM373.9 147.7h0.9v0.9h-0.9zM375.0 147.8h0.9v0.9h-0.9zM375.2 147.4h0.9v0.9h-0.9z" fill="#dc4a40" opacity="0.6"/>
<text x="331.9" y="140.7" font-size="8.9" font-style="italic" fill="#222">Slc40a1</text>
<rect x="329.4" y="184.0" width="51.2" height="51.5" fill="#fff" stroke="#8a8a8a" stroke-width="1.3"/>
<path d="M362.9 191.1h0.9v0.9h-0.9zM367.4 190.3h0.9v0.9h-0.9zM360.9 192.4h0.9v0.9h-0.9zM361.5 193.2h0.9v0.9h-0.9zM365.6 190.4h0.9v0.9h-0.9zM359.8 193.4h0.9v0.9h-0.9zM361.6 192.8h0.9v0.9h-0.9zM363.1 191.8h0.9v0.9h-0.9zM364.2 190.8h0.9v0.9h-0.9zM370.0 189.1h0.9v0.9h-0.9zM366.2 190.8h0.9v0.9h-0.9zM363.8 191.3h0.9v0.9h-0.9zM368.6 189.3h0.9v0.9h-0.9zM368.6 189.3h0.9v0.9h-0.9zM365.7 190.3h0.9v0.9h-0.9zM361.5 192.4h0.9v0.9h-0.9zM362.8 192.3h0.9v0.9h-0.9zM360.3 192.9h0.9v0.9h-0.9zM367.9 190.0h0.9v0.9h-0.9zM361.5 191.4h0.9v0.9h-0.9zM365.1 191.0h0.9v0.9h-0.9zM359.9 194.0h0.9v0.9h-0.9zM368.7 189.5h0.9v0.9h-0.9zM365.9 190.3h0.9v0.9h-0.9zM364.7 190.0h0.9v0.9h-0.9zM366.3 189.4h0.9v0.9h-0.9zM368.4 189.2h0.9v0.9h-0.9zM365.0 191.2h0.9v0.9h-0.9zM369.5 188.6h0.9v0.9h-0.9zM363.3 191.1h0.9v0.9h-0.9zM363.5 190.6h0.9v0.9h-0.9zM366.1 190.8h0.9v0.9h-0.9zM360.8 193.0h0.9v0.9h-0.9zM365.0 191.2h0.9v0.9h-0.9zM364.9 190.5h0.9v0.9h-0.9zM366.7 190.3h0.9v0.9h-0.9zM363.9 192.3h0.9v0.9h-0.9zM360.2 193.3h0.9v0.9h-0.9zM365.0 191.7h0.9v0.9h-0.9zM362.1 192.6h0.9v0.9h-0.9zM364.9 191.0h0.9v0.9h-0.9zM366.3 191.1h0.9v0.9h-0.9zM367.3 189.9h0.9v0.9h-0.9zM372.4 187.9h0.9v0.9h-0.9zM356.0 196.5h0.9v0.9h-0.9zM355.5 197.4h0.9v0.9h-0.9zM350.2 202.0h0.9v0.9h-0.9zM351.1 203.4h0.9v0.9h-0.9zM352.6 200.1h0.9v0.9h-0.9zM374.3 202.2h0.9v0.9h-0.9zM373.9 202.6h0.9v0.9h-0.9zM376.4 202.2h0.9v0.9h-0.9zM375.7 203.0h0.9v0.9h-0.9zM375.7 201.8h0.9v0.9h-0.9zM374.8 202.6h0.9v0.9h-0.9zM376.0 201.9h0.9v0.9h-0.9zM375.0 202.6h0.9v0.9h-0.9zM374.8 203.1h0.9v0.9h-0.9zM375.2 202.2h0.9v0.9h-0.9zM340.7 205.8h0.9v0.9h-0.9zM343.8 207.0h0.9v0.9h-0.9zM343.7 206.8h0.9v0.9h-0.9zM342.4 207.0h0.9v0.9h-0.9zM342.2 206.4h0.9v0.9h-0.9zM342.5 206.8h0.9v0.9h-0.9zM344.0 206.5h0.9v0.9h-0.9zM344.3 206.6h0.9v0.9h-0.9zM342.9 206.9h0.9v0.9h-0.9zM342.4 206.3h0.9v0.9h-0.9zM343.9 206.8h0.9v0.9h-0.9zM343.2 206.5h0.9v0.9h-0.9zM343.7 206.7h0.9v0.9h-0.9zM343.0 206.0h0.9v0.9h-0.9zM342.6 205.5h0.9v0.9h-0.9zM343.1 206.4h0.9v0.9h-0.9zM343.8 206.7h0.9v0.9h-0.9zM347.1 206.5h0.9v0.9h-0.9zM347.1 205.6h0.9v0.9h-0.9zM347.3 205.5h0.9v0.9h-0.9zM346.8 205.8h0.9v0.9h-0.9zM346.8 206.2h0.9v0.9h-0.9zM346.7 206.4h0.9v0.9h-0.9zM346.7 205.1h0.9v0.9h-0.9zM346.4 204.9h0.9v0.9h-0.9zM347.4 207.1h0.9v0.9h-0.9zM347.8 204.3h0.9v0.9h-0.9zM347.1 206.5h0.9v0.9h-0.9zM347.6 205.6h0.9v0.9h-0.9zM348.5 205.9h0.9v0.9h-0.9zM347.2 205.3h0.9v0.9h-0.9zM348.2 206.7h0.9v0.9h-0.9zM346.4 206.5h0.9v0.9h-0.9zM334.7 214.7h0.9v0.9h-0.9zM335.1 216.1h0.9v0.9h-0.9zM336.5 213.6h0.9v0.9h-0.9zM335.4 215.5h0.9v0.9h-0.9zM334.8 213.8h0.9v0.9h-0.9zM334.6 214.3h0.9v0.9h-0.9zM335.1 215.0h0.9v0.9h-0.9zM335.7 215.1h0.9v0.9h-0.9zM333.8 214.7h0.9v0.9h-0.9zM335.1 215.3h0.9v0.9h-0.9zM335.2 216.4h0.9v0.9h-0.9zM336.5 214.7h0.9v0.9h-0.9zM335.0 215.0h0.9v0.9h-0.9zM335.6 214.6h0.9v0.9h-0.9zM334.8 214.1h0.9v0.9h-0.9zM333.8 215.1h0.9v0.9h-0.9zM333.8 215.3h0.9v0.9h-0.9zM335.0 214.4h0.9v0.9h-0.9zM333.5 215.3h0.9v0.9h-0.9zM334.3 215.2h0.9v0.9h-0.9zM335.2 215.7h0.9v0.9h-0.9zM341.6 214.7h0.9v0.9h-0.9zM347.1 217.8h0.9v0.9h-0.9zM342.6 216.9h0.9v0.9h-0.9zM348.8 219.4h0.9v0.9h-0.9zM347.9 218.0h0.9v0.9h-0.9zM345.3 220.6h0.9v0.9h-0.9zM347.1 218.0h0.9v0.9h-0.9zM345.4 220.1h0.9v0.9h-0.9zM340.0 217.1h0.9v0.9h-0.9zM339.3 217.0h0.9v0.9h-0.9zM345.7 221.0h0.9v0.9h-0.9zM345.1 220.0h0.9v0.9h-0.9zM344.0 218.1h0.9v0.9h-0.9zM347.7 218.9h0.9v0.9h-0.9zM346.9 219.1h0.9v0.9h-0.9zM345.3 217.7h0.9v0.9h-0.9zM344.2 217.8h0.9v0.9h-0.9zM343.9 217.9h0.9v0.9h-0.9zM346.8 219.4h0.9v0.9h-0.9zM345.4 218.7h0.9v0.9h-0.9zM345.7 218.2h0.9v0.9h-0.9zM345.3 218.1h0.9v0.9h-0.9zM348.7 220.8h0.9v0.9h-0.9zM340.1 216.6h0.9v0.9h-0.9zM341.6 215.7h0.9v0.9h-0.9zM343.8 217.6h0.9v0.9h-0.9zM341.8 216.0h0.9v0.9h-0.9zM342.3 216.2h0.9v0.9h-0.9zM340.2 216.2h0.9v0.9h-0.9zM341.4 215.5h0.9v0.9h-0.9zM347.8 219.4h0.9v0.9h-0.9zM349.0 220.0h0.9v0.9h-0.9zM346.9 220.3h0.9v0.9h-0.9zM348.5 221.3h0.9v0.9h-0.9zM348.0 218.8h0.9v0.9h-0.9zM349.1 218.8h0.9v0.9h-0.9zM340.3 215.5h0.9v0.9h-0.9zM343.0 217.1h0.9v0.9h-0.9zM339.7 216.9h0.9v0.9h-0.9zM343.9 219.1h0.9v0.9h-0.9zM343.9 216.4h0.9v0.9h-0.9zM350.3 219.7h0.9v0.9h-0.9zM343.7 218.3h0.9v0.9h-0.9zM346.2 218.6h0.9v0.9h-0.9zM341.9 215.8h0.9v0.9h-0.9zM344.1 217.1h0.9v0.9h-0.9zM341.7 219.5h0.9v0.9h-0.9zM348.2 219.6h0.9v0.9h-0.9zM340.4 217.1h0.9v0.9h-0.9zM346.5 219.3h0.9v0.9h-0.9zM342.0 216.9h0.9v0.9h-0.9zM344.2 217.5h0.9v0.9h-0.9zM344.4 218.8h0.9v0.9h-0.9zM346.7 218.7h0.9v0.9h-0.9zM341.6 215.0h0.9v0.9h-0.9zM347.0 220.2h0.9v0.9h-0.9zM342.7 216.0h0.9v0.9h-0.9zM346.6 218.6h0.9v0.9h-0.9zM344.8 215.9h0.9v0.9h-0.9zM343.5 218.0h0.9v0.9h-0.9zM348.0 219.8h0.9v0.9h-0.9zM343.4 218.4h0.9v0.9h-0.9zM342.7 216.7h0.9v0.9h-0.9zM341.7 216.4h0.9v0.9h-0.9zM342.5 215.6h0.9v0.9h-0.9zM343.1 217.8h0.9v0.9h-0.9zM346.0 219.4h0.9v0.9h-0.9zM344.2 217.9h0.9v0.9h-0.9zM349.1 219.3h0.9v0.9h-0.9zM346.7 220.2h0.9v0.9h-0.9zM345.5 216.7h0.9v0.9h-0.9zM341.6 217.6h0.9v0.9h-0.9zM342.4 218.0h0.9v0.9h-0.9zM340.1 216.0h0.9v0.9h-0.9zM345.4 217.1h0.9v0.9h-0.9zM341.7 214.5h0.9v0.9h-0.9zM343.7 217.2h0.9v0.9h-0.9zM342.4 217.1h0.9v0.9h-0.9zM345.8 218.3h0.9v0.9h-0.9zM344.9 217.8h0.9v0.9h-0.9zM340.6 214.0h0.9v0.9h-0.9zM340.4 215.8h0.9v0.9h-0.9zM346.1 218.5h0.9v0.9h-0.9zM342.1 215.5h0.9v0.9h-0.9zM346.0 219.7h0.9v0.9h-0.9zM347.9 219.0h0.9v0.9h-0.9zM344.4 216.6h0.9v0.9h-0.9zM346.4 220.8h0.9v0.9h-0.9zM347.0 217.3h0.9v0.9h-0.9zM349.2 217.8h0.9v0.9h-0.9zM350.2 214.6h0.9v0.9h-0.9zM351.0 215.4h0.9v0.9h-0.9zM349.5 211.7h0.9v0.9h-0.9zM350.5 214.4h0.9v0.9h-0.9zM350.0 215.7h0.9v0.9h-0.9zM349.3 213.6h0.9v0.9h-0.9zM351.1 214.4h0.9v0.9h-0.9zM348.7 213.5h0.9v0.9h-0.9zM357.5 223.7h0.9v0.9h-0.9zM351.7 219.2h0.9v0.9h-0.9zM355.4 222.1h0.9v0.9h-0.9zM351.5 219.1h0.9v0.9h-0.9zM355.7 223.3h0.9v0.9h-0.9zM356.0 223.1h0.9v0.9h-0.9zM357.5 223.3h0.9v0.9h-0.9zM355.0 221.0h0.9v0.9h-0.9zM353.2 219.4h0.9v0.9h-0.9zM355.8 223.4h0.9v0.9h-0.9zM353.9 222.8h0.9v0.9h-0.9zM355.3 222.1h0.9v0.9h-0.9zM367.8 210.0h0.9v0.9h-0.9zM370.5 210.7h0.9v0.9h-0.9zM365.8 207.1h0.9v0.9h-0.9zM371.2 212.0h0.9v0.9h-0.9zM373.2 214.0h0.9v0.9h-0.9zM366.0 206.5h0.9v0.9h-0.9zM372.5 210.6h0.9v0.9h-0.9zM365.2 207.2h0.9v0.9h-0.9zM364.7 206.2h0.9v0.9h-0.9zM371.7 212.1h0.9v0.9h-0.9zM367.5 207.0h0.9v0.9h-0.9zM373.7 213.2h0.9v0.9h-0.9zM365.6 206.8h0.9v0.9h-0.9zM366.3 206.1h0.9v0.9h-0.9zM367.9 208.1h0.9v0.9h-0.9zM368.5 208.3h0.9v0.9h-0.9zM371.2 211.2h0.9v0.9h-0.9zM370.0 208.7h0.9v0.9h-0.9zM371.0 210.5h0.9v0.9h-0.9zM370.9 211.8h0.9v0.9h-0.9zM370.8 209.1h0.9v0.9h-0.9zM371.8 212.6h0.9v0.9h-0.9zM366.5 208.3h0.9v0.9h-0.9zM366.9 208.3h0.9v0.9h-0.9zM370.4 211.0h0.9v0.9h-0.9zM370.2 212.6h0.9v0.9h-0.9zM369.4 209.1h0.9v0.9h-0.9zM372.1 212.0h0.9v0.9h-0.9zM375.0 219.9h0.9v0.9h-0.9zM373.6 218.7h0.9v0.9h-0.9zM372.3 220.2h0.9v0.9h-0.9zM373.4 219.0h0.9v0.9h-0.9zM373.9 219.7h0.9v0.9h-0.9zM374.5 219.8h0.9v0.9h-0.9zM375.7 220.1h0.9v0.9h-0.9zM372.8 219.7h0.9v0.9h-0.9zM372.8 218.0h0.9v0.9h-0.9zM374.2 218.4h0.9v0.9h-0.9zM373.3 220.0h0.9v0.9h-0.9zM374.8 219.3h0.9v0.9h-0.9zM373.0 216.9h0.9v0.9h-0.9zM374.1 218.0h0.9v0.9h-0.9zM373.7 219.1h0.9v0.9h-0.9zM373.4 219.9h0.9v0.9h-0.9zM373.5 218.9h0.9v0.9h-0.9zM373.0 219.9h0.9v0.9h-0.9zM374.2 217.6h0.9v0.9h-0.9zM373.4 218.9h0.9v0.9h-0.9zM374.0 217.3h0.9v0.9h-0.9zM372.9 219.0h0.9v0.9h-0.9zM373.3 219.2h0.9v0.9h-0.9zM373.2 216.7h0.9v0.9h-0.9zM372.3 219.1h0.9v0.9h-0.9zM374.1 218.7h0.9v0.9h-0.9zM375.1 218.8h0.9v0.9h-0.9zM373.9 219.6h0.9v0.9h-0.9zM373.8 220.4h0.9v0.9h-0.9zM373.5 218.5h0.9v0.9h-0.9zM374.6 218.9h0.9v0.9h-0.9zM373.3 219.3h0.9v0.9h-0.9zM374.3 219.1h0.9v0.9h-0.9zM374.8 218.6h0.9v0.9h-0.9zM372.7 218.8h0.9v0.9h-0.9zM373.6 221.1h0.9v0.9h-0.9zM375.6 219.1h0.9v0.9h-0.9zM373.4 218.9h0.9v0.9h-0.9zM374.2 218.6h0.9v0.9h-0.9zM374.4 218.8h0.9v0.9h-0.9zM372.2 218.5h0.9v0.9h-0.9zM374.3 220.2h0.9v0.9h-0.9zM374.0 219.3h0.9v0.9h-0.9zM375.0 221.5h0.9v0.9h-0.9zM375.1 218.7h0.9v0.9h-0.9zM373.3 220.4h0.9v0.9h-0.9zM373.7 218.4h0.9v0.9h-0.9zM372.3 218.3h0.9v0.9h-0.9zM374.4 219.3h0.9v0.9h-0.9zM373.3 219.3h0.9v0.9h-0.9zM372.9 219.9h0.9v0.9h-0.9zM374.3 220.1h0.9v0.9h-0.9zM373.7 220.3h0.9v0.9h-0.9zM373.1 220.3h0.9v0.9h-0.9zM375.2 219.5h0.9v0.9h-0.9zM375.3 221.0h0.9v0.9h-0.9zM372.9 218.6h0.9v0.9h-0.9zM372.7 219.9h0.9v0.9h-0.9zM373.2 217.8h0.9v0.9h-0.9zM373.8 218.2h0.9v0.9h-0.9zM375.6 219.2h0.9v0.9h-0.9zM374.4 218.5h0.9v0.9h-0.9zM372.7 219.7h0.9v0.9h-0.9zM374.8 218.6h0.9v0.9h-0.9zM372.8 219.1h0.9v0.9h-0.9zM374.5 218.8h0.9v0.9h-0.9zM375.3 219.7h0.9v0.9h-0.9zM375.1 218.4h0.9v0.9h-0.9zM372.5 218.4h0.9v0.9h-0.9zM373.4 220.3h0.9v0.9h-0.9zM358.6 232.2h0.9v0.9h-0.9zM362.3 228.4h0.9v0.9h-0.9zM364.0 226.7h0.9v0.9h-0.9zM360.2 230.1h0.9v0.9h-0.9zM359.4 231.0h0.9v0.9h-0.9zM364.6 226.5h0.9v0.9h-0.9zM365.7 226.8h0.9v0.9h-0.9zM363.4 227.6h0.9v0.9h-0.9zM365.9 226.5h0.9v0.9h-0.9zM367.5 224.7h0.9v0.9h-0.9zM360.3 230.1h0.9v0.9h-0.9zM366.7 224.6h0.9v0.9h-0.9zM360.9 229.4h0.9v0.9h-0.9zM358.1 231.8h0.9v0.9h-0.9zM363.9 227.7h0.9v0.9h-0.9zM362.3 229.0h0.9v0.9h-0.9zM367.1 224.7h0.9v0.9h-0.9zM365.5 226.1h0.9v0.9h-0.9zM360.5 229.6h0.9v0.9h-0.9zM359.2 230.4h0.9v0.9h-0.9zM366.6 225.3h0.9v0.9h-0.9zM364.3 227.6h0.9v0.9h-0.9zM366.1 225.0h0.9v0.9h-0.9zM365.0 226.5h0.9v0.9h-0.9zM358.3 232.2h0.9v0.9h-0.9zM364.7 227.0h0.9v0.9h-0.9zM359.3 229.5h0.9v0.9h-0.9zM360.5 228.3h0.9v0.9h-0.9zM363.4 228.1h0.9v0.9h-0.9zM366.6 224.5h0.9v0.9h-0.9zM365.3 228.1h0.9v0.9h-0.9zM361.2 228.7h0.9v0.9h-0.9zM357.5 231.7h0.9v0.9h-0.9zM360.0 230.1h0.9v0.9h-0.9zM360.3 229.6h0.9v0.9h-0.9zM359.9 230.0h0.9v0.9h-0.9zM366.6 225.1h0.9v0.9h-0.9zM362.1 228.0h0.9v0.9h-0.9zM366.5 224.9h0.9v0.9h-0.9zM362.7 227.4h0.9v0.9h-0.9zM364.2 226.3h0.9v0.9h-0.9zM363.0 227.5h0.9v0.9h-0.9zM363.0 228.0h0.9v0.9h-0.9zM365.7 226.7h0.9v0.9h-0.9zM358.9 230.8h0.9v0.9h-0.9zM365.5 225.6h0.9v0.9h-0.9zM362.5 229.1h0.9v0.9h-0.9zM363.2 228.5h0.9v0.9h-0.9zM363.6 226.1h0.9v0.9h-0.9zM359.3 231.0h0.9v0.9h-0.9zM361.9 228.6h0.9v0.9h-0.9zM360.1 230.0h0.9v0.9h-0.9zM365.9 224.7h0.9v0.9h-0.9zM365.4 226.3h0.9v0.9h-0.9zM361.0 229.9h0.9v0.9h-0.9zM363.2 227.3h0.9v0.9h-0.9zM364.3 228.2h0.9v0.9h-0.9zM359.1 231.3h0.9v0.9h-0.9zM364.9 225.9h0.9v0.9h-0.9zM357.6 232.1h0.9v0.9h-0.9zM359.8 230.5h0.9v0.9h-0.9zM362.5 226.7h0.9v0.9h-0.9zM358.0 231.4h0.9v0.9h-0.9zM357.9 233.2h0.9v0.9h-0.9zM358.5 231.5h0.9v0.9h-0.9zM361.8 229.0h0.9v0.9h-0.9zM367.6 223.4h0.9v0.9h-0.9zM359.7 231.2h0.9v0.9h-0.9zM358.6 230.7h0.9v0.9h-0.9zM360.2 230.8h0.9v0.9h-0.9zM364.2 227.6h0.9v0.9h-0.9zM364.5 227.3h0.9v0.9h-0.9zM365.0 226.2h0.9v0.9h-0.9zM365.8 225.3h0.9v0.9h-0.9zM365.2 226.2h0.9v0.9h-0.9zM359.4 230.9h0.9v0.9h-0.9zM363.2 228.2h0.9v0.9h-0.9zM359.1 230.7h0.9v0.9h-0.9zM362.8 228.7h0.9v0.9h-0.9zM366.3 225.9h0.9v0.9h-0.9zM358.9 211.2h0.9v0.9h-0.9zM362.7 208.8h0.9v0.9h-0.9zM369.5 222.4h0.9v0.9h-0.9zM364.6 223.8h0.9v0.9h-0.9zM361.3 225.8h0.9v0.9h-0.9zM367.0 215.6h0.9v0.9h-0.9zM370.4 214.6h0.9v0.9h-0.9zM359.8 214.6h0.9v0.9h-0.9zM368.5 226.7h0.9v0.9h-0.9zM363.7 219.4h0.9v0.9h-0.9zM372.4 224.3h0.9v0.9h-0.9zM374.3 215.6h0.9v0.9h-0.9z" fill="#d4d4d4" opacity="0.45"/>
<path d="M363.4 191.4h0.9v0.9h-0.9zM360.8 192.6h0.9v0.9h-0.9zM365.5 190.7h0.9v0.9h-0.9zM363.3 192.6h0.9v0.9h-0.9zM362.2 192.3h0.9v0.9h-0.9zM360.0 194.3h0.9v0.9h-0.9zM367.1 190.5h0.9v0.9h-0.9zM361.6 193.4h0.9v0.9h-0.9zM360.9 192.5h0.9v0.9h-0.9zM366.1 191.1h0.9v0.9h-0.9zM361.6 194.0h0.9v0.9h-0.9zM366.8 191.0h0.9v0.9h-0.9zM360.9 193.2h0.9v0.9h-0.9zM367.0 191.6h0.9v0.9h-0.9zM361.7 193.5h0.9v0.9h-0.9zM364.9 191.3h0.9v0.9h-0.9zM367.9 189.4h0.9v0.9h-0.9zM368.3 189.2h0.9v0.9h-0.9zM362.6 192.3h0.9v0.9h-0.9zM360.5 193.2h0.9v0.9h-0.9zM366.2 191.4h0.9v0.9h-0.9zM365.2 191.2h0.9v0.9h-0.9zM366.8 190.5h0.9v0.9h-0.9zM365.4 190.5h0.9v0.9h-0.9zM362.7 192.1h0.9v0.9h-0.9zM360.6 193.7h0.9v0.9h-0.9zM365.4 191.4h0.9v0.9h-0.9zM361.3 193.5h0.9v0.9h-0.9zM366.3 190.4h0.9v0.9h-0.9zM364.8 190.8h0.9v0.9h-0.9zM362.9 192.1h0.9v0.9h-0.9zM367.7 190.1h0.9v0.9h-0.9zM367.5 189.5h0.9v0.9h-0.9zM366.0 191.2h0.9v0.9h-0.9zM364.0 191.4h0.9v0.9h-0.9zM367.4 190.4h0.9v0.9h-0.9zM364.3 192.2h0.9v0.9h-0.9zM362.6 192.4h0.9v0.9h-0.9zM367.8 189.1h0.9v0.9h-0.9zM367.6 190.3h0.9v0.9h-0.9zM368.6 189.2h0.9v0.9h-0.9zM361.0 192.9h0.9v0.9h-0.9zM361.2 192.9h0.9v0.9h-0.9zM368.6 189.3h0.9v0.9h-0.9zM365.9 190.2h0.9v0.9h-0.9zM367.3 190.1h0.9v0.9h-0.9zM366.3 189.4h0.9v0.9h-0.9zM362.0 192.8h0.9v0.9h-0.9zM366.5 190.8h0.9v0.9h-0.9zM362.8 191.4h0.9v0.9h-0.9zM365.5 190.3h0.9v0.9h-0.9zM368.3 189.2h0.9v0.9h-0.9zM342.4 205.6h0.9v0.9h-0.9zM343.6 206.4h0.9v0.9h-0.9zM344.4 206.9h0.9v0.9h-0.9zM341.4 206.2h0.9v0.9h-0.9zM342.3 206.6h0.9v0.9h-0.9zM347.4 207.0h0.9v0.9h-0.9zM347.5 206.8h0.9v0.9h-0.9zM347.5 206.3h0.9v0.9h-0.9zM346.2 205.6h0.9v0.9h-0.9zM347.6 206.3h0.9v0.9h-0.9zM347.7 206.4h0.9v0.9h-0.9zM336.0 215.0h0.9v0.9h-0.9z" fill="#dc4a40" opacity="0.6"/>
<text x="331.9" y="195.2" font-size="8.9" font-style="italic" fill="#222">Cd81</text>
<text x="306.3" y="27.3" font-size="8.6" text-anchor="middle" font-style="italic" fill="#222">Ccr2</text>
<line x1="291.20" y1="32.00" x2="291.20" y2="70.80" stroke="#333" stroke-width="1.2"/>
<line x1="290.60" y1="70.20" x2="321.40" y2="70.20" stroke="#222" stroke-width="1.2"/>
<line x1="288.40" y1="35.30" x2="291.20" y2="35.30" stroke="#333" stroke-width="0.8"/>
<text x="287.2" y="37.5" font-size="6.4" text-anchor="end" fill="#333">3</text>
<line x1="288.40" y1="46.40" x2="291.20" y2="46.40" stroke="#333" stroke-width="0.8"/>
<text x="287.2" y="48.6" font-size="6.4" text-anchor="end" fill="#333">2</text>
<line x1="288.40" y1="57.50" x2="291.20" y2="57.50" stroke="#333" stroke-width="0.8"/>
<text x="287.2" y="59.7" font-size="6.4" text-anchor="end" fill="#333">1</text>
<line x1="288.40" y1="68.50" x2="291.20" y2="68.50" stroke="#333" stroke-width="0.8"/>
<text x="287.2" y="70.7" font-size="6.4" text-anchor="end" fill="#333">0</text>
<path d="M293.2 68.6L297.4 65.3Q299.2 63.5 301.0 65.3L305.2 68.6Z" fill="#f7c4c8" stroke="#d7141e" stroke-width="0.8"/>
<path d="M299.5 61.5h0.9v0.9h-0.9zM299.0 48.4h0.9v0.9h-0.9zM298.8 53.0h0.9v0.9h-0.9zM298.8 51.9h0.9v0.9h-0.9zM298.8 65.8h0.9v0.9h-0.9zM300.1 65.0h0.9v0.9h-0.9zM299.3 38.5h0.9v0.9h-0.9zM298.8 64.0h0.9v0.9h-0.9zM298.4 65.3h0.9v0.9h-0.9zM299.8 64.9h0.9v0.9h-0.9zM298.7 56.3h0.9v0.9h-0.9zM300.0 51.2h0.9v0.9h-0.9zM299.1 54.5h0.9v0.9h-0.9zM299.5 59.5h0.9v0.9h-0.9zM299.8 44.8h0.9v0.9h-0.9zM298.7 50.6h0.9v0.9h-0.9zM298.6 41.8h0.9v0.9h-0.9zM299.8 67.5h0.9v0.9h-0.9zM299.1 49.6h0.9v0.9h-0.9zM299.4 47.1h0.9v0.9h-0.9zM299.5 51.2h0.9v0.9h-0.9zM299.9 52.1h0.9v0.9h-0.9zM298.7 47.6h0.9v0.9h-0.9zM298.3 54.7h0.9v0.9h-0.9zM299.0 66.2h0.9v0.9h-0.9zM299.6 56.9h0.9v0.9h-0.9zM299.0 59.5h0.9v0.9h-0.9zM298.4 49.3h0.9v0.9h-0.9zM298.5 64.0h0.9v0.9h-0.9zM299.3 55.8h0.9v0.9h-0.9zM299.9 56.8h0.9v0.9h-0.9zM299.2 48.1h0.9v0.9h-0.9zM299.3 64.0h0.9v0.9h-0.9zM299.0 53.1h0.9v0.9h-0.9zM298.5 62.2h0.9v0.9h-0.9zM298.3 56.6h0.9v0.9h-0.9zM299.3 68.2h0.9v0.9h-0.9zM300.2 63.4h0.9v0.9h-0.9zM299.1 61.0h0.9v0.9h-0.9zM298.2 48.7h0.9v0.9h-0.9zM299.9 62.7h0.9v0.9h-0.9zM298.9 50.7h0.9v0.9h-0.9zM298.3 38.8h0.9v0.9h-0.9zM300.1 58.2h0.9v0.9h-0.9zM299.6 63.9h0.9v0.9h-0.9zM298.3 63.0h0.9v0.9h-0.9zM299.7 63.6h0.9v0.9h-0.9zM300.1 45.2h0.9v0.9h-0.9zM299.5 49.1h0.9v0.9h-0.9zM300.1 45.1h0.9v0.9h-0.9zM298.7 47.0h0.9v0.9h-0.9zM299.5 57.0h0.9v0.9h-0.9zM298.2 64.9h0.9v0.9h-0.9zM299.2 66.8h0.9v0.9h-0.9zM299.4 53.6h0.9v0.9h-0.9zM300.1 66.2h0.9v0.9h-0.9zM298.5 64.1h0.9v0.9h-0.9zM300.2 53.5h0.9v0.9h-0.9zM300.1 55.0h0.9v0.9h-0.9zM298.8 41.6h0.9v0.9h-0.9zM299.6 40.6h0.9v0.9h-0.9zM300.0 63.5h0.9v0.9h-0.9zM299.7 61.9h0.9v0.9h-0.9zM299.6 63.0h0.9v0.9h-0.9zM299.9 47.8h0.9v0.9h-0.9zM299.0 64.9h0.9v0.9h-0.9zM298.3 57.0h0.9v0.9h-0.9zM299.6 57.7h0.9v0.9h-0.9zM299.0 65.7h0.9v0.9h-0.9zM299.0 67.2h0.9v0.9h-0.9zM299.2 52.8h0.9v0.9h-0.9zM299.8 58.9h0.9v0.9h-0.9zM298.5 64.6h0.9v0.9h-0.9zM299.1 40.4h0.9v0.9h-0.9zM298.9 55.5h0.9v0.9h-0.9zM299.7 64.9h0.9v0.9h-0.9zM298.8 40.3h0.9v0.9h-0.9zM298.9 63.5h0.9v0.9h-0.9zM298.9 59.2h0.9v0.9h-0.9zM299.4 59.5h0.9v0.9h-0.9zM300.0 39.7h0.9v0.9h-0.9zM299.6 42.8h0.9v0.9h-0.9zM298.9 47.8h0.9v0.9h-0.9zM299.2 59.2h0.9v0.9h-0.9zM300.1 49.4h0.9v0.9h-0.9zM298.8 59.6h0.9v0.9h-0.9zM299.0 55.9h0.9v0.9h-0.9zM299.0 53.8h0.9v0.9h-0.9zM299.5 58.4h0.9v0.9h-0.9zM300.0 56.3h0.9v0.9h-0.9zM300.0 55.9h0.9v0.9h-0.9zM298.7 40.2h0.9v0.9h-0.9zM298.7 62.3h0.9v0.9h-0.9zM299.2 65.0h0.9v0.9h-0.9zM298.6 47.8h0.9v0.9h-0.9zM299.8 58.2h0.9v0.9h-0.9zM298.3 47.1h0.9v0.9h-0.9zM299.6 63.6h0.9v0.9h-0.9zM298.9 64.5h0.9v0.9h-0.9zM298.5 49.8h0.9v0.9h-0.9zM298.3 53.0h0.9v0.9h-0.9zM299.7 46.0h0.9v0.9h-0.9zM298.5 39.4h0.9v0.9h-0.9zM298.4 53.6h0.9v0.9h-0.9zM298.4 63.5h0.9v0.9h-0.9zM299.1 67.4h0.9v0.9h-0.9zM299.4 57.6h0.9v0.9h-0.9zM299.6 57.0h0.9v0.9h-0.9zM299.5 44.7h0.9v0.9h-0.9zM299.6 60.2h0.9v0.9h-0.9zM300.0 61.6h0.9v0.9h-0.9zM299.6 53.9h0.9v0.9h-0.9zM298.3 60.0h0.9v0.9h-0.9zM299.7 68.3h0.9v0.9h-0.9zM299.7 58.4h0.9v0.9h-0.9zM298.4 64.6h0.9v0.9h-0.9zM298.9 54.2h0.9v0.9h-0.9zM299.1 60.8h0.9v0.9h-0.9zM300.0 63.5h0.9v0.9h-0.9zM299.0 62.9h0.9v0.9h-0.9zM299.6 49.1h0.9v0.9h-0.9zM299.3 45.5h0.9v0.9h-0.9zM299.2 56.8h0.9v0.9h-0.9zM298.5 68.2h0.9v0.9h-0.9zM298.6 56.5h0.9v0.9h-0.9zM299.1 64.1h0.9v0.9h-0.9zM299.1 67.8h0.9v0.9h-0.9zM299.4 64.2h0.9v0.9h-0.9zM298.7 61.1h0.9v0.9h-0.9zM300.2 54.3h0.9v0.9h-0.9zM298.8 66.7h0.9v0.9h-0.9zM299.0 43.0h0.9v0.9h-0.9zM298.8 48.0h0.9v0.9h-0.9zM299.9 59.7h0.9v0.9h-0.9zM299.9 65.7h0.9v0.9h-0.9zM300.2 54.2h0.9v0.9h-0.9zM299.6 47.4h0.9v0.9h-0.9zM298.7 66.6h0.9v0.9h-0.9zM298.3 38.9h0.9v0.9h-0.9zM299.2 58.1h0.9v0.9h-0.9zM298.9 54.1h0.9v0.9h-0.9zM299.0 52.9h0.9v0.9h-0.9zM299.5 59.2h0.9v0.9h-0.9zM299.6 51.4h0.9v0.9h-0.9zM300.0 52.6h0.9v0.9h-0.9zM300.0 59.7h0.9v0.9h-0.9zM299.1 57.4h0.9v0.9h-0.9zM298.7 54.7h0.9v0.9h-0.9zM299.9 58.4h0.9v0.9h-0.9zM298.3 59.2h0.9v0.9h-0.9zM299.2 56.4h0.9v0.9h-0.9zM298.6 54.6h0.9v0.9h-0.9zM298.4 67.5h0.9v0.9h-0.9zM299.8 42.5h0.9v0.9h-0.9zM298.2 44.8h0.9v0.9h-0.9zM299.5 42.0h0.9v0.9h-0.9zM299.6 66.1h0.9v0.9h-0.9zM298.9 56.0h0.9v0.9h-0.9zM298.9 47.2h0.9v0.9h-0.9zM300.0 54.8h0.9v0.9h-0.9z" fill="#d7141e" opacity="0.8"/>
<rect x="298.70" y="36.00" width="1.0" height="32.60" fill="#d7141e"/>
<path d="M313.4 35.5C312.2 40 312.1 50 312.1 59L307.2 68.60000000000001H319.6L314.7 59C314.7 50 314.6 40 313.4 35.5Z" fill="none" stroke="#3a7cc0" stroke-width="0.8"/>
<path d="M313.9 55.7h0.9v0.9h-0.9zM313.8 60.7h0.9v0.9h-0.9zM313.5 63.2h0.9v0.9h-0.9zM313.4 60.3h0.9v0.9h-0.9zM313.5 48.3h0.9v0.9h-0.9zM312.7 60.6h0.9v0.9h-0.9zM312.7 63.8h0.9v0.9h-0.9zM313.4 57.2h0.9v0.9h-0.9zM313.3 60.5h0.9v0.9h-0.9zM313.8 67.0h0.9v0.9h-0.9zM313.1 47.4h0.9v0.9h-0.9zM314.2 47.0h0.9v0.9h-0.9zM313.6 64.9h0.9v0.9h-0.9zM314.2 56.9h0.9v0.9h-0.9zM313.6 44.3h0.9v0.9h-0.9zM313.6 58.7h0.9v0.9h-0.9zM314.0 51.4h0.9v0.9h-0.9zM312.7 63.4h0.9v0.9h-0.9zM314.0 64.4h0.9v0.9h-0.9zM313.6 62.6h0.9v0.9h-0.9zM313.8 62.1h0.9v0.9h-0.9zM312.9 42.4h0.9v0.9h-0.9zM313.0 63.8h0.9v0.9h-0.9zM312.8 67.2h0.9v0.9h-0.9zM312.9 56.2h0.9v0.9h-0.9zM312.8 48.8h0.9v0.9h-0.9zM312.8 63.5h0.9v0.9h-0.9zM313.6 68.1h0.9v0.9h-0.9zM313.3 62.9h0.9v0.9h-0.9zM314.0 59.1h0.9v0.9h-0.9zM313.5 68.1h0.9v0.9h-0.9zM314.0 55.6h0.9v0.9h-0.9zM313.2 55.9h0.9v0.9h-0.9zM313.5 52.6h0.9v0.9h-0.9zM313.5 61.2h0.9v0.9h-0.9zM313.2 48.1h0.9v0.9h-0.9zM313.5 62.0h0.9v0.9h-0.9zM312.7 67.3h0.9v0.9h-0.9zM313.1 64.4h0.9v0.9h-0.9zM314.0 62.4h0.9v0.9h-0.9zM312.8 61.1h0.9v0.9h-0.9zM313.0 63.5h0.9v0.9h-0.9zM312.8 46.7h0.9v0.9h-0.9zM312.8 51.6h0.9v0.9h-0.9zM312.9 60.3h0.9v0.9h-0.9zM312.8 50.3h0.9v0.9h-0.9zM312.6 64.4h0.9v0.9h-0.9zM312.7 51.8h0.9v0.9h-0.9zM313.9 61.1h0.9v0.9h-0.9zM313.5 66.7h0.9v0.9h-0.9zM313.9 43.9h0.9v0.9h-0.9zM313.2 56.0h0.9v0.9h-0.9zM313.9 56.1h0.9v0.9h-0.9zM312.7 57.4h0.9v0.9h-0.9zM313.2 68.5h0.9v0.9h-0.9zM314.0 39.6h0.9v0.9h-0.9zM314.1 44.0h0.9v0.9h-0.9zM313.3 62.2h0.9v0.9h-0.9zM312.8 66.2h0.9v0.9h-0.9zM312.7 50.6h0.9v0.9h-0.9zM313.9 44.3h0.9v0.9h-0.9zM314.0 68.4h0.9v0.9h-0.9zM313.2 50.7h0.9v0.9h-0.9zM313.1 65.7h0.9v0.9h-0.9zM313.1 42.6h0.9v0.9h-0.9zM312.9 62.0h0.9v0.9h-0.9zM312.6 62.0h0.9v0.9h-0.9zM313.7 57.4h0.9v0.9h-0.9zM312.7 63.0h0.9v0.9h-0.9zM313.5 57.4h0.9v0.9h-0.9zM313.8 55.9h0.9v0.9h-0.9zM313.5 39.6h0.9v0.9h-0.9zM313.6 67.5h0.9v0.9h-0.9zM313.4 50.9h0.9v0.9h-0.9zM313.0 51.1h0.9v0.9h-0.9zM312.7 61.6h0.9v0.9h-0.9zM313.3 43.4h0.9v0.9h-0.9zM313.1 44.9h0.9v0.9h-0.9zM313.5 62.5h0.9v0.9h-0.9zM313.6 56.6h0.9v0.9h-0.9zM313.9 53.6h0.9v0.9h-0.9zM313.7 63.8h0.9v0.9h-0.9zM313.0 61.6h0.9v0.9h-0.9zM314.2 49.6h0.9v0.9h-0.9zM313.4 45.4h0.9v0.9h-0.9zM312.7 61.3h0.9v0.9h-0.9zM313.1 66.8h0.9v0.9h-0.9zM313.8 50.0h0.9v0.9h-0.9zM313.8 51.6h0.9v0.9h-0.9zM314.1 51.3h0.9v0.9h-0.9zM313.2 66.3h0.9v0.9h-0.9zM313.1 63.7h0.9v0.9h-0.9zM313.0 62.9h0.9v0.9h-0.9zM312.7 62.0h0.9v0.9h-0.9zM314.1 43.1h0.9v0.9h-0.9zM313.5 62.4h0.9v0.9h-0.9zM313.0 53.5h0.9v0.9h-0.9zM314.1 41.4h0.9v0.9h-0.9zM313.7 59.5h0.9v0.9h-0.9zM312.9 54.7h0.9v0.9h-0.9zM313.9 63.3h0.9v0.9h-0.9zM313.9 64.9h0.9v0.9h-0.9zM314.2 54.2h0.9v0.9h-0.9zM312.9 49.1h0.9v0.9h-0.9zM313.1 54.6h0.9v0.9h-0.9zM312.9 60.8h0.9v0.9h-0.9zM313.7 61.3h0.9v0.9h-0.9zM313.8 62.5h0.9v0.9h-0.9zM313.9 49.1h0.9v0.9h-0.9zM313.2 50.4h0.9v0.9h-0.9z" fill="#3a7cc0" opacity="0.8"/>
<rect x="312.95" y="37.00" width="0.9" height="31.60" fill="#3a7cc0"/>
<rect x="312.1" y="55" width="2.6" height="13.6" fill="none" stroke="#3a7cc0" stroke-width="0.6"/>
<text x="306.3" y="83.0" font-size="8.6" text-anchor="middle" font-style="italic" fill="#222">Itgam</text>
<line x1="291.20" y1="87.50" x2="291.20" y2="126.00" stroke="#333" stroke-width="1.2"/>
<line x1="290.60" y1="125.40" x2="321.40" y2="125.40" stroke="#222" stroke-width="1.2"/>
<line x1="288.40" y1="91.00" x2="291.20" y2="91.00" stroke="#333" stroke-width="0.8"/>
<text x="287.2" y="93.2" font-size="6.4" text-anchor="end" fill="#333">3</text>
<line x1="288.40" y1="102.00" x2="291.20" y2="102.00" stroke="#333" stroke-width="0.8"/>
<text x="287.2" y="104.2" font-size="6.4" text-anchor="end" fill="#333">2</text>
<line x1="288.40" y1="112.80" x2="291.20" y2="112.80" stroke="#333" stroke-width="0.8"/>
<text x="287.2" y="115.0" font-size="6.4" text-anchor="end" fill="#333">1</text>
<line x1="288.40" y1="123.80" x2="291.20" y2="123.80" stroke="#333" stroke-width="0.8"/>
<text x="287.2" y="126.0" font-size="6.4" text-anchor="end" fill="#333">0</text>
<path d="M293.2 123.8L297.4 120.8Q299.2 119.0 301.0 120.8L305.2 123.8Z" fill="#f7c4c8" stroke="#d7141e" stroke-width="0.8"/>
<path d="M300.0 119.6h0.9v0.9h-0.9zM298.1 91.9h0.9v0.9h-0.9zM298.2 93.2h0.9v0.9h-0.9zM298.9 106.8h0.9v0.9h-0.9zM298.5 100.7h0.9v0.9h-0.9zM299.1 95.7h0.9v0.9h-0.9zM299.1 112.6h0.9v0.9h-0.9zM300.2 116.9h0.9v0.9h-0.9zM298.6 112.2h0.9v0.9h-0.9zM300.3 102.3h0.9v0.9h-0.9zM299.9 98.4h0.9v0.9h-0.9zM298.3 106.7h0.9v0.9h-0.9zM298.8 118.8h0.9v0.9h-0.9zM298.9 110.4h0.9v0.9h-0.9zM298.5 115.8h0.9v0.9h-0.9zM298.7 106.3h0.9v0.9h-0.9zM299.4 99.8h0.9v0.9h-0.9zM299.9 115.9h0.9v0.9h-0.9zM299.7 122.3h0.9v0.9h-0.9zM299.8 109.3h0.9v0.9h-0.9zM299.4 101.5h0.9v0.9h-0.9zM299.9 102.0h0.9v0.9h-0.9zM299.2 99.5h0.9v0.9h-0.9zM298.1 92.3h0.9v0.9h-0.9zM299.1 111.4h0.9v0.9h-0.9zM298.3 106.8h0.9v0.9h-0.9zM298.7 119.5h0.9v0.9h-0.9zM298.9 122.1h0.9v0.9h-0.9zM299.6 92.3h0.9v0.9h-0.9zM299.6 105.1h0.9v0.9h-0.9zM298.5 107.5h0.9v0.9h-0.9zM299.9 110.6h0.9v0.9h-0.9zM299.2 106.7h0.9v0.9h-0.9zM300.3 121.3h0.9v0.9h-0.9zM298.4 117.0h0.9v0.9h-0.9zM298.6 103.9h0.9v0.9h-0.9zM300.2 121.0h0.9v0.9h-0.9zM298.8 121.5h0.9v0.9h-0.9zM298.8 120.8h0.9v0.9h-0.9zM300.2 116.8h0.9v0.9h-0.9zM299.9 117.8h0.9v0.9h-0.9zM299.9 92.8h0.9v0.9h-0.9zM299.5 118.2h0.9v0.9h-0.9zM299.6 118.7h0.9v0.9h-0.9zM298.8 114.9h0.9v0.9h-0.9zM300.0 101.6h0.9v0.9h-0.9zM300.2 106.5h0.9v0.9h-0.9zM300.1 117.2h0.9v0.9h-0.9zM299.7 114.2h0.9v0.9h-0.9zM299.3 120.6h0.9v0.9h-0.9zM298.9 96.9h0.9v0.9h-0.9zM299.7 103.4h0.9v0.9h-0.9zM300.3 116.6h0.9v0.9h-0.9zM298.1 109.8h0.9v0.9h-0.9zM299.8 107.6h0.9v0.9h-0.9zM298.2 100.6h0.9v0.9h-0.9zM299.6 121.2h0.9v0.9h-0.9zM299.6 109.9h0.9v0.9h-0.9zM298.9 98.6h0.9v0.9h-0.9zM299.0 102.1h0.9v0.9h-0.9zM299.5 116.7h0.9v0.9h-0.9zM300.2 121.0h0.9v0.9h-0.9zM298.6 112.9h0.9v0.9h-0.9zM300.1 116.9h0.9v0.9h-0.9zM298.8 118.9h0.9v0.9h-0.9zM299.6 104.8h0.9v0.9h-0.9zM299.3 108.9h0.9v0.9h-0.9zM299.8 103.6h0.9v0.9h-0.9zM298.4 119.2h0.9v0.9h-0.9zM300.1 95.4h0.9v0.9h-0.9zM299.9 122.6h0.9v0.9h-0.9zM298.1 113.3h0.9v0.9h-0.9zM300.2 121.7h0.9v0.9h-0.9zM299.8 113.5h0.9v0.9h-0.9zM300.2 109.7h0.9v0.9h-0.9zM299.2 116.3h0.9v0.9h-0.9zM299.5 96.6h0.9v0.9h-0.9zM299.7 109.6h0.9v0.9h-0.9zM298.2 113.4h0.9v0.9h-0.9zM298.4 105.5h0.9v0.9h-0.9zM299.9 97.6h0.9v0.9h-0.9zM299.4 118.5h0.9v0.9h-0.9zM300.2 111.8h0.9v0.9h-0.9zM299.3 108.5h0.9v0.9h-0.9zM299.4 107.3h0.9v0.9h-0.9zM299.7 115.4h0.9v0.9h-0.9zM299.3 104.9h0.9v0.9h-0.9zM299.0 95.1h0.9v0.9h-0.9zM299.5 106.7h0.9v0.9h-0.9zM298.8 102.7h0.9v0.9h-0.9zM299.6 117.6h0.9v0.9h-0.9zM299.7 108.3h0.9v0.9h-0.9zM298.6 97.3h0.9v0.9h-0.9zM299.7 109.0h0.9v0.9h-0.9zM298.5 100.5h0.9v0.9h-0.9zM299.9 103.3h0.9v0.9h-0.9zM299.9 102.1h0.9v0.9h-0.9zM300.1 115.7h0.9v0.9h-0.9zM300.3 117.3h0.9v0.9h-0.9zM300.1 111.7h0.9v0.9h-0.9zM298.6 116.1h0.9v0.9h-0.9zM298.2 102.6h0.9v0.9h-0.9zM298.3 101.2h0.9v0.9h-0.9zM298.8 121.5h0.9v0.9h-0.9zM298.1 107.7h0.9v0.9h-0.9zM300.2 113.6h0.9v0.9h-0.9zM299.9 113.0h0.9v0.9h-0.9zM299.2 116.4h0.9v0.9h-0.9zM299.8 118.6h0.9v0.9h-0.9zM298.8 96.4h0.9v0.9h-0.9zM300.2 120.9h0.9v0.9h-0.9zM299.9 92.6h0.9v0.9h-0.9zM299.8 116.3h0.9v0.9h-0.9zM298.2 103.7h0.9v0.9h-0.9zM300.3 112.7h0.9v0.9h-0.9zM299.4 120.1h0.9v0.9h-0.9zM298.4 104.7h0.9v0.9h-0.9zM300.2 122.1h0.9v0.9h-0.9zM300.1 107.1h0.9v0.9h-0.9zM298.4 96.9h0.9v0.9h-0.9zM299.9 101.9h0.9v0.9h-0.9zM299.5 92.7h0.9v0.9h-0.9zM299.7 118.1h0.9v0.9h-0.9zM299.4 103.5h0.9v0.9h-0.9zM298.3 104.2h0.9v0.9h-0.9zM298.7 118.1h0.9v0.9h-0.9zM299.3 90.8h0.9v0.9h-0.9zM298.8 114.6h0.9v0.9h-0.9zM298.8 117.4h0.9v0.9h-0.9zM298.2 116.3h0.9v0.9h-0.9zM298.7 112.0h0.9v0.9h-0.9zM298.3 107.8h0.9v0.9h-0.9zM299.4 110.0h0.9v0.9h-0.9zM298.1 104.2h0.9v0.9h-0.9zM298.6 103.9h0.9v0.9h-0.9zM299.3 105.0h0.9v0.9h-0.9zM299.9 120.3h0.9v0.9h-0.9zM298.6 96.7h0.9v0.9h-0.9zM299.0 119.0h0.9v0.9h-0.9zM299.7 122.5h0.9v0.9h-0.9zM299.0 119.7h0.9v0.9h-0.9zM300.2 118.1h0.9v0.9h-0.9zM298.9 103.8h0.9v0.9h-0.9zM299.4 108.5h0.9v0.9h-0.9zM299.1 108.1h0.9v0.9h-0.9zM299.3 119.3h0.9v0.9h-0.9zM300.0 99.6h0.9v0.9h-0.9zM298.8 117.9h0.9v0.9h-0.9zM300.3 117.8h0.9v0.9h-0.9zM299.4 110.7h0.9v0.9h-0.9zM299.5 99.2h0.9v0.9h-0.9zM299.0 121.1h0.9v0.9h-0.9zM299.4 115.0h0.9v0.9h-0.9zM300.0 119.2h0.9v0.9h-0.9zM299.3 112.4h0.9v0.9h-0.9zM299.7 103.8h0.9v0.9h-0.9zM299.1 118.4h0.9v0.9h-0.9zM299.3 100.7h0.9v0.9h-0.9zM298.3 112.8h0.9v0.9h-0.9zM299.3 115.0h0.9v0.9h-0.9zM299.9 100.0h0.9v0.9h-0.9zM298.2 115.6h0.9v0.9h-0.9zM299.2 122.5h0.9v0.9h-0.9zM298.7 99.0h0.9v0.9h-0.9zM298.5 123.4h0.9v0.9h-0.9zM298.3 107.9h0.9v0.9h-0.9zM299.4 100.4h0.9v0.9h-0.9zM299.7 116.8h0.9v0.9h-0.9zM299.1 123.5h0.9v0.9h-0.9zM300.0 101.0h0.9v0.9h-0.9z" fill="#d7141e" opacity="0.8"/>
<rect x="298.70" y="91.00" width="1.0" height="32.80" fill="#d7141e"/>
<path d="M313.4 92C311.4 98 308.4 104 308.4 108C308.4 111 311.4 113 311.4 115L306.9 123.80000000000001H319.9L315.4 115C315.4 113 318.4 111 318.4 108C318.4 104 315.4 98 313.4 92Z" fill="none" stroke="#3a7cc0" stroke-width="0.8"/>
<rect x="311.4" y="108.8" width="4" height="4.4" fill="none" stroke="#3a7cc0" stroke-width="0.8"/>
<line x1="313.40" y1="113.20" x2="313.40" y2="123.80" stroke="#3a7cc0" stroke-width="0.8"/>
<path d="M314.6 118.6h0.9v0.9h-0.9zM312.9 109.5h0.9v0.9h-0.9zM313.4 96.9h0.9v0.9h-0.9zM313.3 117.0h0.9v0.9h-0.9zM312.3 107.2h0.9v0.9h-0.9zM314.3 114.7h0.9v0.9h-0.9zM312.7 107.6h0.9v0.9h-0.9zM313.4 122.4h0.9v0.9h-0.9zM313.3 107.7h0.9v0.9h-0.9zM314.0 117.1h0.9v0.9h-0.9zM313.4 99.5h0.9v0.9h-0.9zM312.9 122.0h0.9v0.9h-0.9zM314.4 116.8h0.9v0.9h-0.9zM313.4 108.4h0.9v0.9h-0.9zM313.1 94.2h0.9v0.9h-0.9zM313.4 123.3h0.9v0.9h-0.9zM313.5 123.3h0.9v0.9h-0.9zM314.3 112.4h0.9v0.9h-0.9zM313.9 104.0h0.9v0.9h-0.9zM313.4 122.3h0.9v0.9h-0.9zM312.5 104.7h0.9v0.9h-0.9zM314.0 117.1h0.9v0.9h-0.9zM312.8 120.7h0.9v0.9h-0.9zM314.3 120.3h0.9v0.9h-0.9zM312.6 101.9h0.9v0.9h-0.9zM314.0 123.6h0.9v0.9h-0.9zM313.8 105.6h0.9v0.9h-0.9zM313.7 100.5h0.9v0.9h-0.9zM313.4 108.1h0.9v0.9h-0.9zM314.5 112.9h0.9v0.9h-0.9zM313.5 120.4h0.9v0.9h-0.9zM314.0 112.6h0.9v0.9h-0.9zM313.5 118.7h0.9v0.9h-0.9zM314.2 100.4h0.9v0.9h-0.9zM313.8 118.1h0.9v0.9h-0.9zM312.6 107.4h0.9v0.9h-0.9zM312.6 107.7h0.9v0.9h-0.9zM313.7 111.5h0.9v0.9h-0.9zM314.0 122.7h0.9v0.9h-0.9zM314.2 98.7h0.9v0.9h-0.9zM313.5 103.6h0.9v0.9h-0.9zM314.3 96.4h0.9v0.9h-0.9zM312.9 112.7h0.9v0.9h-0.9zM314.1 102.1h0.9v0.9h-0.9zM314.3 103.3h0.9v0.9h-0.9zM312.3 119.4h0.9v0.9h-0.9zM313.9 116.0h0.9v0.9h-0.9zM313.2 116.5h0.9v0.9h-0.9zM313.6 110.4h0.9v0.9h-0.9zM313.0 101.8h0.9v0.9h-0.9zM313.9 106.5h0.9v0.9h-0.9zM312.7 120.4h0.9v0.9h-0.9zM313.8 105.8h0.9v0.9h-0.9zM312.6 122.7h0.9v0.9h-0.9zM313.0 116.6h0.9v0.9h-0.9zM313.3 119.6h0.9v0.9h-0.9zM313.6 109.2h0.9v0.9h-0.9zM313.7 104.6h0.9v0.9h-0.9zM312.6 96.1h0.9v0.9h-0.9zM312.6 119.7h0.9v0.9h-0.9zM314.6 123.0h0.9v0.9h-0.9zM313.4 121.0h0.9v0.9h-0.9zM314.2 95.6h0.9v0.9h-0.9zM313.1 122.1h0.9v0.9h-0.9zM313.2 116.7h0.9v0.9h-0.9zM313.2 116.5h0.9v0.9h-0.9zM312.3 112.5h0.9v0.9h-0.9zM312.8 123.5h0.9v0.9h-0.9zM314.4 102.1h0.9v0.9h-0.9zM313.1 122.6h0.9v0.9h-0.9z" fill="#3a7cc0" opacity="0.6"/>
<line x1="299.20" y1="123.80" x2="311.90" y2="115.50" stroke="#222" stroke-width="0.8" stroke-dasharray="1.6 1"/>
<text x="306.3" y="138.6" font-size="8.6" text-anchor="middle" font-style="italic" fill="#222">Chil3</text>
<line x1="291.20" y1="142.50" x2="291.20" y2="179.80" stroke="#333" stroke-width="1.2"/>
<line x1="290.60" y1="179.20" x2="321.40" y2="179.20" stroke="#222" stroke-width="1.2"/>
<line x1="288.40" y1="161.00" x2="291.20" y2="161.00" stroke="#333" stroke-width="0.8"/>
<text x="287.2" y="163.2" font-size="6.4" text-anchor="end" fill="#333">2.5</text>
<line x1="288.40" y1="178.00" x2="291.20" y2="178.00" stroke="#333" stroke-width="0.8"/>
<text x="287.2" y="180.2" font-size="6.4" text-anchor="end" fill="#333">0.0</text>
<path d="M292.9 177.6L297.3 176.6Q299.2 174.8 301.1 176.6L305.5 177.6Z" fill="#f7c4c8" stroke="#d7141e" stroke-width="0.8"/>
<path d="M299.2 152.4h0.9v0.9h-0.9zM298.8 177.6h0.9v0.9h-0.9zM299.6 156.8h0.9v0.9h-0.9zM299.5 170.1h0.9v0.9h-0.9zM299.1 175.6h0.9v0.9h-0.9zM299.6 173.4h0.9v0.9h-0.9zM299.3 167.8h0.9v0.9h-0.9zM299.8 176.5h0.9v0.9h-0.9zM299.2 165.9h0.9v0.9h-0.9zM298.7 171.5h0.9v0.9h-0.9zM298.6 165.0h0.9v0.9h-0.9zM298.7 168.5h0.9v0.9h-0.9zM299.5 161.8h0.9v0.9h-0.9zM299.8 157.5h0.9v0.9h-0.9zM298.6 163.6h0.9v0.9h-0.9zM299.5 167.0h0.9v0.9h-0.9zM299.8 165.9h0.9v0.9h-0.9zM298.8 145.8h0.9v0.9h-0.9zM299.8 165.7h0.9v0.9h-0.9zM299.2 172.8h0.9v0.9h-0.9zM298.8 174.3h0.9v0.9h-0.9zM299.7 170.3h0.9v0.9h-0.9zM298.9 160.1h0.9v0.9h-0.9zM298.8 166.6h0.9v0.9h-0.9zM299.2 173.2h0.9v0.9h-0.9zM299.1 173.2h0.9v0.9h-0.9zM299.2 168.7h0.9v0.9h-0.9zM298.9 176.1h0.9v0.9h-0.9zM299.4 168.5h0.9v0.9h-0.9zM299.6 174.6h0.9v0.9h-0.9zM299.1 151.6h0.9v0.9h-0.9zM299.3 164.8h0.9v0.9h-0.9zM299.7 171.4h0.9v0.9h-0.9zM298.9 152.7h0.9v0.9h-0.9zM298.8 173.2h0.9v0.9h-0.9zM299.3 163.3h0.9v0.9h-0.9zM298.8 163.0h0.9v0.9h-0.9zM299.4 160.8h0.9v0.9h-0.9zM299.3 166.0h0.9v0.9h-0.9zM298.8 152.2h0.9v0.9h-0.9zM299.1 165.2h0.9v0.9h-0.9zM299.4 170.8h0.9v0.9h-0.9zM299.1 172.6h0.9v0.9h-0.9zM299.4 176.6h0.9v0.9h-0.9zM299.3 165.3h0.9v0.9h-0.9zM299.4 151.1h0.9v0.9h-0.9zM299.8 176.3h0.9v0.9h-0.9zM299.5 167.9h0.9v0.9h-0.9zM298.9 176.1h0.9v0.9h-0.9zM298.8 159.6h0.9v0.9h-0.9zM298.7 153.5h0.9v0.9h-0.9zM299.1 152.4h0.9v0.9h-0.9zM299.2 177.2h0.9v0.9h-0.9zM299.6 162.8h0.9v0.9h-0.9zM299.6 154.2h0.9v0.9h-0.9zM299.7 164.6h0.9v0.9h-0.9zM299.0 172.1h0.9v0.9h-0.9zM299.7 146.9h0.9v0.9h-0.9zM298.9 160.6h0.9v0.9h-0.9zM299.6 163.1h0.9v0.9h-0.9z" fill="#d7141e" opacity="0.8"/>
<rect x="298.85" y="144.00" width="0.7" height="33.60" fill="#d7141e"/>
<path d="M313.4 147C312.4 152 312.4 160 312.1 166L307.4 177.6H319.4L314.7 166C314.4 160 314.4 152 313.4 147Z" fill="none" stroke="#3a7cc0" stroke-width="0.8"/>
<path d="M313.8 174.5h0.9v0.9h-0.9zM313.9 177.3h0.9v0.9h-0.9zM312.8 175.6h0.9v0.9h-0.9zM313.3 171.9h0.9v0.9h-0.9zM313.8 163.2h0.9v0.9h-0.9zM312.5 158.9h0.9v0.9h-0.9zM314.2 169.3h0.9v0.9h-0.9zM313.9 158.1h0.9v0.9h-0.9zM312.7 159.2h0.9v0.9h-0.9zM314.0 172.7h0.9v0.9h-0.9zM314.0 165.2h0.9v0.9h-0.9zM314.0 170.1h0.9v0.9h-0.9zM313.9 170.6h0.9v0.9h-0.9zM312.6 171.5h0.9v0.9h-0.9zM313.8 169.7h0.9v0.9h-0.9zM313.8 171.2h0.9v0.9h-0.9zM313.9 153.3h0.9v0.9h-0.9zM312.7 167.3h0.9v0.9h-0.9zM314.2 170.3h0.9v0.9h-0.9zM314.2 150.6h0.9v0.9h-0.9zM313.5 170.6h0.9v0.9h-0.9zM313.1 155.3h0.9v0.9h-0.9zM312.9 158.4h0.9v0.9h-0.9zM312.8 148.7h0.9v0.9h-0.9zM312.6 176.2h0.9v0.9h-0.9zM312.6 161.7h0.9v0.9h-0.9zM312.6 164.2h0.9v0.9h-0.9zM312.8 176.6h0.9v0.9h-0.9zM313.4 169.4h0.9v0.9h-0.9zM313.2 159.8h0.9v0.9h-0.9zM313.3 170.5h0.9v0.9h-0.9zM313.7 163.3h0.9v0.9h-0.9zM312.7 171.1h0.9v0.9h-0.9zM313.0 176.0h0.9v0.9h-0.9zM313.7 158.2h0.9v0.9h-0.9zM314.3 174.9h0.9v0.9h-0.9zM314.0 173.4h0.9v0.9h-0.9zM313.3 168.1h0.9v0.9h-0.9zM313.0 164.0h0.9v0.9h-0.9zM314.0 167.6h0.9v0.9h-0.9zM314.0 151.2h0.9v0.9h-0.9zM313.3 165.6h0.9v0.9h-0.9zM313.7 164.2h0.9v0.9h-0.9zM314.2 156.7h0.9v0.9h-0.9zM313.7 154.7h0.9v0.9h-0.9zM313.0 173.8h0.9v0.9h-0.9zM313.9 175.0h0.9v0.9h-0.9zM312.5 171.8h0.9v0.9h-0.9zM312.6 166.5h0.9v0.9h-0.9zM312.6 156.5h0.9v0.9h-0.9zM313.8 172.1h0.9v0.9h-0.9zM312.7 167.9h0.9v0.9h-0.9zM314.0 165.9h0.9v0.9h-0.9zM313.7 163.1h0.9v0.9h-0.9zM313.4 172.6h0.9v0.9h-0.9zM312.7 151.3h0.9v0.9h-0.9zM314.1 160.7h0.9v0.9h-0.9zM314.2 176.0h0.9v0.9h-0.9zM313.0 171.1h0.9v0.9h-0.9zM314.0 171.7h0.9v0.9h-0.9zM312.7 172.8h0.9v0.9h-0.9zM312.8 165.4h0.9v0.9h-0.9zM312.7 169.1h0.9v0.9h-0.9zM313.7 169.1h0.9v0.9h-0.9zM313.7 161.5h0.9v0.9h-0.9zM313.0 159.0h0.9v0.9h-0.9zM314.0 173.4h0.9v0.9h-0.9zM312.7 168.2h0.9v0.9h-0.9zM313.5 167.3h0.9v0.9h-0.9zM312.9 166.2h0.9v0.9h-0.9zM314.0 164.0h0.9v0.9h-0.9zM314.0 169.7h0.9v0.9h-0.9zM314.1 164.4h0.9v0.9h-0.9zM313.6 154.5h0.9v0.9h-0.9zM313.3 155.0h0.9v0.9h-0.9zM312.8 166.3h0.9v0.9h-0.9zM314.1 153.7h0.9v0.9h-0.9zM313.8 177.6h0.9v0.9h-0.9zM313.6 174.6h0.9v0.9h-0.9zM313.6 149.1h0.9v0.9h-0.9zM313.5 157.7h0.9v0.9h-0.9zM313.5 163.6h0.9v0.9h-0.9zM312.7 169.9h0.9v0.9h-0.9zM312.6 163.9h0.9v0.9h-0.9zM313.7 174.0h0.9v0.9h-0.9zM312.5 176.8h0.9v0.9h-0.9zM312.8 166.7h0.9v0.9h-0.9zM312.8 171.6h0.9v0.9h-0.9zM313.2 155.9h0.9v0.9h-0.9zM313.0 166.1h0.9v0.9h-0.9zM314.1 172.5h0.9v0.9h-0.9zM314.1 152.6h0.9v0.9h-0.9zM313.8 173.1h0.9v0.9h-0.9zM313.9 174.7h0.9v0.9h-0.9zM314.2 163.8h0.9v0.9h-0.9zM313.9 160.4h0.9v0.9h-0.9zM313.4 166.6h0.9v0.9h-0.9zM312.7 174.7h0.9v0.9h-0.9zM312.9 151.5h0.9v0.9h-0.9zM313.3 169.7h0.9v0.9h-0.9zM312.9 160.2h0.9v0.9h-0.9zM313.0 151.9h0.9v0.9h-0.9zM314.2 161.4h0.9v0.9h-0.9zM312.5 154.5h0.9v0.9h-0.9zM313.4 173.6h0.9v0.9h-0.9zM312.9 166.3h0.9v0.9h-0.9zM313.6 174.4h0.9v0.9h-0.9zM313.9 173.6h0.9v0.9h-0.9zM313.6 158.2h0.9v0.9h-0.9zM314.1 173.9h0.9v0.9h-0.9z" fill="#3a7cc0" opacity="0.8"/>
<rect x="312.95" y="147.50" width="0.9" height="30.10" fill="#3a7cc0"/>
<text x="306.3" y="192.5" font-size="8.6" text-anchor="middle" font-style="italic" fill="#222">Plac8</text>
<line x1="291.20" y1="197.50" x2="291.20" y2="235.20" stroke="#333" stroke-width="1.2"/>
<line x1="290.60" y1="234.60" x2="321.40" y2="234.60" stroke="#222" stroke-width="1.2"/>
<line x1="288.40" y1="200.00" x2="291.20" y2="200.00" stroke="#333" stroke-width="0.8"/>
<text x="287.2" y="202.2" font-size="6.4" text-anchor="end" fill="#333">5.0</text>
<line x1="288.40" y1="216.80" x2="291.20" y2="216.80" stroke="#333" stroke-width="0.8"/>
<text x="287.2" y="219.0" font-size="6.4" text-anchor="end" fill="#333">2.5</text>
<line x1="288.40" y1="233.20" x2="291.20" y2="233.20" stroke="#333" stroke-width="0.8"/>
<text x="287.2" y="235.4" font-size="6.4" text-anchor="end" fill="#333">0.0</text>
<path d="M299.2 202.8C298.4 210 297.2 218 297.2 224L292.7 233.0H305.7L301.2 224C301.2 218 300.0 210 299.2 202.8Z" fill="#f7c4c8" stroke="#d7141e" stroke-width="0.8"/>
<path d="M299.9 219.9h0.9v0.9h-0.9zM298.1 212.5h0.9v0.9h-0.9zM298.8 214.4h0.9v0.9h-0.9zM299.5 230.7h0.9v0.9h-0.9zM299.8 227.0h0.9v0.9h-0.9zM299.3 216.9h0.9v0.9h-0.9zM299.0 228.8h0.9v0.9h-0.9zM298.1 214.9h0.9v0.9h-0.9zM299.3 212.6h0.9v0.9h-0.9zM298.0 223.4h0.9v0.9h-0.9zM298.5 226.5h0.9v0.9h-0.9zM299.5 215.8h0.9v0.9h-0.9zM300.3 226.0h0.9v0.9h-0.9zM299.2 216.0h0.9v0.9h-0.9zM299.1 220.6h0.9v0.9h-0.9zM298.3 215.9h0.9v0.9h-0.9zM298.6 230.3h0.9v0.9h-0.9zM298.0 231.2h0.9v0.9h-0.9zM298.8 204.4h0.9v0.9h-0.9zM299.2 217.6h0.9v0.9h-0.9zM298.3 220.4h0.9v0.9h-0.9zM300.4 208.7h0.9v0.9h-0.9zM300.3 227.5h0.9v0.9h-0.9zM299.5 212.8h0.9v0.9h-0.9zM300.0 205.9h0.9v0.9h-0.9zM298.8 231.1h0.9v0.9h-0.9zM298.5 232.0h0.9v0.9h-0.9zM298.2 231.0h0.9v0.9h-0.9zM299.7 220.8h0.9v0.9h-0.9zM298.2 213.9h0.9v0.9h-0.9zM298.1 216.6h0.9v0.9h-0.9zM298.5 228.9h0.9v0.9h-0.9zM298.3 211.2h0.9v0.9h-0.9zM299.8 229.5h0.9v0.9h-0.9zM299.3 218.0h0.9v0.9h-0.9zM299.8 231.8h0.9v0.9h-0.9zM300.1 229.2h0.9v0.9h-0.9zM299.9 216.0h0.9v0.9h-0.9zM298.2 216.7h0.9v0.9h-0.9zM299.7 232.1h0.9v0.9h-0.9zM299.5 225.3h0.9v0.9h-0.9zM298.0 229.9h0.9v0.9h-0.9zM299.1 214.6h0.9v0.9h-0.9zM300.0 231.7h0.9v0.9h-0.9zM299.8 232.7h0.9v0.9h-0.9zM299.3 225.6h0.9v0.9h-0.9zM298.6 231.4h0.9v0.9h-0.9zM298.8 203.8h0.9v0.9h-0.9zM299.6 227.5h0.9v0.9h-0.9zM298.0 226.2h0.9v0.9h-0.9zM299.3 224.8h0.9v0.9h-0.9zM299.0 209.3h0.9v0.9h-0.9zM299.5 221.3h0.9v0.9h-0.9zM298.5 232.8h0.9v0.9h-0.9zM298.9 222.0h0.9v0.9h-0.9zM299.3 216.8h0.9v0.9h-0.9zM298.6 210.0h0.9v0.9h-0.9zM297.9 230.4h0.9v0.9h-0.9zM300.2 219.8h0.9v0.9h-0.9zM299.1 220.3h0.9v0.9h-0.9zM298.6 226.1h0.9v0.9h-0.9zM299.7 209.0h0.9v0.9h-0.9zM300.0 232.3h0.9v0.9h-0.9zM299.4 219.2h0.9v0.9h-0.9zM299.6 229.4h0.9v0.9h-0.9zM299.2 207.3h0.9v0.9h-0.9zM299.0 225.5h0.9v0.9h-0.9zM298.1 219.4h0.9v0.9h-0.9zM299.6 229.2h0.9v0.9h-0.9zM299.6 228.0h0.9v0.9h-0.9zM298.3 227.2h0.9v0.9h-0.9zM298.0 223.3h0.9v0.9h-0.9zM298.4 232.4h0.9v0.9h-0.9zM299.6 215.5h0.9v0.9h-0.9zM300.3 218.5h0.9v0.9h-0.9zM298.4 221.5h0.9v0.9h-0.9zM300.4 228.0h0.9v0.9h-0.9zM299.0 214.3h0.9v0.9h-0.9zM300.2 216.9h0.9v0.9h-0.9zM298.5 219.3h0.9v0.9h-0.9zM300.3 231.4h0.9v0.9h-0.9zM299.5 212.3h0.9v0.9h-0.9zM298.5 221.9h0.9v0.9h-0.9zM300.1 226.3h0.9v0.9h-0.9zM299.4 230.8h0.9v0.9h-0.9zM300.1 215.8h0.9v0.9h-0.9zM300.1 220.4h0.9v0.9h-0.9zM298.2 205.8h0.9v0.9h-0.9zM300.1 203.4h0.9v0.9h-0.9zM299.0 218.1h0.9v0.9h-0.9zM298.3 229.3h0.9v0.9h-0.9zM298.7 228.4h0.9v0.9h-0.9zM298.3 226.8h0.9v0.9h-0.9zM298.7 228.0h0.9v0.9h-0.9zM299.7 210.0h0.9v0.9h-0.9zM299.8 227.4h0.9v0.9h-0.9zM300.4 216.2h0.9v0.9h-0.9zM298.2 231.6h0.9v0.9h-0.9zM298.6 227.9h0.9v0.9h-0.9zM298.2 221.3h0.9v0.9h-0.9zM299.2 232.8h0.9v0.9h-0.9zM299.1 232.8h0.9v0.9h-0.9zM298.4 227.1h0.9v0.9h-0.9zM298.5 226.2h0.9v0.9h-0.9zM299.8 230.1h0.9v0.9h-0.9zM298.9 231.4h0.9v0.9h-0.9zM299.4 219.9h0.9v0.9h-0.9zM300.0 229.4h0.9v0.9h-0.9zM299.8 217.6h0.9v0.9h-0.9zM299.6 224.8h0.9v0.9h-0.9zM299.2 204.4h0.9v0.9h-0.9zM300.1 221.7h0.9v0.9h-0.9zM299.1 222.8h0.9v0.9h-0.9zM300.5 211.1h0.9v0.9h-0.9zM298.6 228.4h0.9v0.9h-0.9zM299.7 204.2h0.9v0.9h-0.9zM298.7 230.7h0.9v0.9h-0.9zM299.8 215.0h0.9v0.9h-0.9zM300.4 216.4h0.9v0.9h-0.9zM300.4 220.7h0.9v0.9h-0.9zM299.4 217.5h0.9v0.9h-0.9zM299.7 222.8h0.9v0.9h-0.9zM299.8 212.0h0.9v0.9h-0.9zM298.5 218.3h0.9v0.9h-0.9zM299.3 232.8h0.9v0.9h-0.9zM298.0 231.9h0.9v0.9h-0.9zM300.2 209.4h0.9v0.9h-0.9zM299.8 230.3h0.9v0.9h-0.9zM300.2 230.0h0.9v0.9h-0.9zM300.1 220.4h0.9v0.9h-0.9zM300.4 222.9h0.9v0.9h-0.9zM298.2 213.1h0.9v0.9h-0.9zM299.8 220.3h0.9v0.9h-0.9zM300.4 225.3h0.9v0.9h-0.9zM299.8 229.0h0.9v0.9h-0.9zM299.4 224.2h0.9v0.9h-0.9zM298.1 230.4h0.9v0.9h-0.9zM298.3 214.3h0.9v0.9h-0.9zM298.8 231.8h0.9v0.9h-0.9zM298.8 209.2h0.9v0.9h-0.9zM298.9 211.9h0.9v0.9h-0.9zM298.0 225.0h0.9v0.9h-0.9zM299.5 217.5h0.9v0.9h-0.9zM300.3 223.3h0.9v0.9h-0.9zM299.8 209.3h0.9v0.9h-0.9zM299.8 228.1h0.9v0.9h-0.9zM298.3 232.5h0.9v0.9h-0.9zM298.9 215.8h0.9v0.9h-0.9zM300.3 211.9h0.9v0.9h-0.9zM298.1 227.4h0.9v0.9h-0.9z" fill="#d7141e" opacity="0.8"/>
<rect x="298.70" y="203.00" width="1.0" height="30.00" fill="#d7141e"/>
<rect x="297.7" y="220.5" width="3" height="12.5" fill="none" stroke="#d7141e" stroke-width="0.7"/>
<path d="M308.4 200.3H318.4C320.4 203 320.4 208 318.4 212C316.4 216 315.4 220 315.4 224L317.4 233.0H309.4L311.4 224C311.4 220 310.4 216 308.4 212C306.4 208 306.4 203 308.4 200.3Z" fill="none" stroke="#3a7cc0" stroke-width="0.8"/>
<path d="M313.5 230.6h0.9v0.9h-0.9zM311.9 222.4h0.9v0.9h-0.9zM314.4 224.6h0.9v0.9h-0.9zM312.0 227.8h0.9v0.9h-0.9zM311.9 208.0h0.9v0.9h-0.9zM313.9 227.8h0.9v0.9h-0.9zM312.0 211.2h0.9v0.9h-0.9zM313.4 213.6h0.9v0.9h-0.9zM314.2 221.4h0.9v0.9h-0.9zM314.0 230.3h0.9v0.9h-0.9zM314.5 216.3h0.9v0.9h-0.9zM314.6 219.9h0.9v0.9h-0.9zM313.0 209.2h0.9v0.9h-0.9zM312.1 227.4h0.9v0.9h-0.9zM314.3 219.1h0.9v0.9h-0.9zM314.6 216.4h0.9v0.9h-0.9zM313.3 230.4h0.9v0.9h-0.9zM314.5 217.1h0.9v0.9h-0.9zM311.9 223.9h0.9v0.9h-0.9zM312.9 222.6h0.9v0.9h-0.9zM312.4 222.4h0.9v0.9h-0.9zM313.1 221.9h0.9v0.9h-0.9zM313.3 230.2h0.9v0.9h-0.9zM312.8 228.2h0.9v0.9h-0.9zM312.2 214.8h0.9v0.9h-0.9zM314.1 215.6h0.9v0.9h-0.9zM313.0 232.0h0.9v0.9h-0.9zM315.0 231.8h0.9v0.9h-0.9zM313.8 214.3h0.9v0.9h-0.9zM311.9 214.8h0.9v0.9h-0.9zM313.1 217.7h0.9v0.9h-0.9zM312.9 216.8h0.9v0.9h-0.9zM314.4 229.1h0.9v0.9h-0.9zM314.9 220.1h0.9v0.9h-0.9zM312.3 224.0h0.9v0.9h-0.9zM312.4 223.4h0.9v0.9h-0.9zM312.7 232.9h0.9v0.9h-0.9zM313.2 221.3h0.9v0.9h-0.9zM314.0 207.1h0.9v0.9h-0.9zM312.5 230.1h0.9v0.9h-0.9zM313.0 218.2h0.9v0.9h-0.9zM314.7 229.8h0.9v0.9h-0.9zM313.2 212.9h0.9v0.9h-0.9zM312.1 224.9h0.9v0.9h-0.9zM312.0 215.8h0.9v0.9h-0.9zM313.8 208.4h0.9v0.9h-0.9zM312.7 229.4h0.9v0.9h-0.9zM312.8 227.7h0.9v0.9h-0.9zM312.7 229.0h0.9v0.9h-0.9zM313.2 224.4h0.9v0.9h-0.9z" fill="#3a7cc0" opacity="0.6"/>
<rect x="311.6" y="206.4" width="3.6" height="11.5" fill="none" stroke="#3a7cc0" stroke-width="0.8"/>
<line x1="299.20" y1="232.00" x2="312.40" y2="213.00" stroke="#222" stroke-width="0.8" stroke-dasharray="1.6 1"/>
<text x="429.4" y="28.0" font-size="8.6" text-anchor="middle" font-style="italic" fill="#222">C1qa</text>
<line x1="414.60" y1="32.00" x2="414.60" y2="70.80" stroke="#333" stroke-width="1.2"/>
<line x1="414.00" y1="70.20" x2="444.20" y2="70.20" stroke="#222" stroke-width="1.2"/>
<line x1="411.80" y1="36.00" x2="414.60" y2="36.00" stroke="#333" stroke-width="0.8"/>
<text x="410.6" y="38.2" font-size="6.4" text-anchor="end" fill="#333">4</text>
<line x1="411.80" y1="52.40" x2="414.60" y2="52.40" stroke="#333" stroke-width="0.8"/>
<text x="410.6" y="54.6" font-size="6.4" text-anchor="end" fill="#333">2</text>
<line x1="411.80" y1="68.70" x2="414.60" y2="68.70" stroke="#333" stroke-width="0.8"/>
<text x="410.6" y="70.9" font-size="6.4" text-anchor="end" fill="#333">0</text>
<path d="M415.9 68.6L420.4 64.3Q422.4 62.5 424.3 64.3L428.9 68.6Z" fill="none" stroke="#d7141e" stroke-width="0.8"/>
<path d="M422.4 35.6C421.4 39.6 420.5 45.6 420.5 51.6L420.5 68.6H424.3L424.3 51.6C424.3 45.6 423.3 39.6 422.4 35.6Z" fill="#e3242e" stroke="#d7141e" stroke-width="0.7"/>
<rect x="421.1" y="53.0" width="2.6" height="15.6" fill="none" stroke="#d7141e" stroke-width="0.6" opacity="0.9"/>
<rect x="421.6" y="54.0" width="1.6" height="13.6" fill="#f3a0a6"/>
<path d="M435.7 67.4h0.9v0.9h-0.9zM436.5 67.3h0.9v0.9h-0.9zM435.9 61.6h0.9v0.9h-0.9zM435.8 66.9h0.9v0.9h-0.9zM436.7 66.0h0.9v0.9h-0.9zM436.6 64.1h0.9v0.9h-0.9zM436.4 60.1h0.9v0.9h-0.9zM435.8 64.7h0.9v0.9h-0.9zM436.2 67.8h0.9v0.9h-0.9zM436.5 61.1h0.9v0.9h-0.9zM435.5 67.6h0.9v0.9h-0.9zM436.6 68.6h0.9v0.9h-0.9zM436.3 66.1h0.9v0.9h-0.9zM435.8 66.3h0.9v0.9h-0.9zM436.3 61.7h0.9v0.9h-0.9zM436.4 66.8h0.9v0.9h-0.9zM436.7 65.2h0.9v0.9h-0.9zM436.7 67.0h0.9v0.9h-0.9z" fill="#3a7cc0" opacity="0.8"/>
<line x1="436.30" y1="59.00" x2="436.30" y2="68.60" stroke="#3a7cc0" stroke-width="0.7"/>
<path d="M430.3 68.6H442.3" stroke="#35689a" stroke-width="1.4"/>
<text x="429.4" y="84.3" font-size="8.6" text-anchor="middle" font-style="italic" fill="#222">C1qb</text>
<line x1="414.60" y1="87.50" x2="414.60" y2="126.00" stroke="#333" stroke-width="1.2"/>
<line x1="414.00" y1="125.40" x2="444.20" y2="125.40" stroke="#222" stroke-width="1.2"/>
<line x1="411.80" y1="105.60" x2="414.60" y2="105.60" stroke="#333" stroke-width="0.8"/>
<text x="410.6" y="107.8" font-size="6.4" text-anchor="end" fill="#333">2.5</text>
<line x1="411.80" y1="123.80" x2="414.60" y2="123.80" stroke="#333" stroke-width="0.8"/>
<text x="410.6" y="126.0" font-size="6.4" text-anchor="end" fill="#333">0.0</text>
<path d="M415.9 123.8L420.4 119.5Q422.4 117.7 424.3 119.5L428.9 123.8Z" fill="none" stroke="#d7141e" stroke-width="0.8"/>
<path d="M422.4 89.0C421.4 93.0 420.5 99.0 420.5 105.0L420.5 123.8H424.3L424.3 105.0C424.3 99.0 423.3 93.0 422.4 89.0Z" fill="#e3242e" stroke="#d7141e" stroke-width="0.7"/>
<rect x="421.1" y="104.5" width="2.6" height="19.3" fill="none" stroke="#d7141e" stroke-width="0.6" opacity="0.9"/>
<rect x="421.6" y="105.5" width="1.6" height="17.3" fill="#f3a0a6"/>
<path d="M436.3 109.3h0.9v0.9h-0.9zM436.9 120.1h0.9v0.9h-0.9zM437.0 120.9h0.9v0.9h-0.9zM436.7 108.8h0.9v0.9h-0.9zM435.9 123.2h0.9v0.9h-0.9zM435.6 122.1h0.9v0.9h-0.9zM436.3 121.6h0.9v0.9h-0.9zM436.9 116.4h0.9v0.9h-0.9zM437.0 121.4h0.9v0.9h-0.9zM436.2 122.9h0.9v0.9h-0.9zM435.7 114.1h0.9v0.9h-0.9zM436.0 111.4h0.9v0.9h-0.9zM436.9 119.8h0.9v0.9h-0.9zM435.8 111.9h0.9v0.9h-0.9zM435.7 116.7h0.9v0.9h-0.9zM435.9 108.1h0.9v0.9h-0.9zM436.6 120.1h0.9v0.9h-0.9zM436.6 123.1h0.9v0.9h-0.9z" fill="#3a7cc0" opacity="0.8"/>
<line x1="436.30" y1="105.00" x2="436.30" y2="123.80" stroke="#3a7cc0" stroke-width="0.7"/>
<path d="M430.3 123.8H442.3" stroke="#35689a" stroke-width="1.4"/>
<text x="429.4" y="137.8" font-size="8.6" text-anchor="middle" font-style="italic" fill="#222">Slc40a1</text>
<line x1="414.60" y1="142.50" x2="414.60" y2="179.80" stroke="#333" stroke-width="1.2"/>
<line x1="414.00" y1="179.20" x2="444.20" y2="179.20" stroke="#222" stroke-width="1.2"/>
<line x1="411.80" y1="145.60" x2="414.60" y2="145.60" stroke="#333" stroke-width="0.8"/>
<text x="410.6" y="147.8" font-size="6.4" text-anchor="end" fill="#333">4</text>
<line x1="411.80" y1="161.70" x2="414.60" y2="161.70" stroke="#333" stroke-width="0.8"/>
<text x="410.6" y="163.9" font-size="6.4" text-anchor="end" fill="#333">2</text>
<line x1="411.80" y1="177.90" x2="414.60" y2="177.90" stroke="#333" stroke-width="0.8"/>
<text x="410.6" y="180.1" font-size="6.4" text-anchor="end" fill="#333">0</text>
<path d="M415.9 177.6L420.4 173.3Q422.4 171.5 424.3 173.3L428.9 177.6Z" fill="none" stroke="#d7141e" stroke-width="0.8"/>
<path d="M422.4 145.6C421.4 149.6 420.5 155.6 420.5 161.6L420.5 177.6H424.3L424.3 161.6C424.3 155.6 423.3 149.6 422.4 145.6Z" fill="#e3242e" stroke="#d7141e" stroke-width="0.7"/>
<rect x="421.1" y="161.0" width="2.6" height="16.6" fill="none" stroke="#d7141e" stroke-width="0.6" opacity="0.9"/>
<rect x="421.6" y="162.0" width="1.6" height="14.6" fill="#f3a0a6"/>
<path d="M436.9 168.5h0.9v0.9h-0.9zM436.8 176.3h0.9v0.9h-0.9zM436.6 166.5h0.9v0.9h-0.9zM436.8 168.0h0.9v0.9h-0.9zM436.3 162.5h0.9v0.9h-0.9zM436.5 175.4h0.9v0.9h-0.9zM436.9 173.6h0.9v0.9h-0.9zM436.6 174.6h0.9v0.9h-0.9zM436.4 174.8h0.9v0.9h-0.9zM435.9 170.9h0.9v0.9h-0.9zM435.9 170.8h0.9v0.9h-0.9zM436.4 177.1h0.9v0.9h-0.9zM436.6 170.5h0.9v0.9h-0.9zM435.8 162.2h0.9v0.9h-0.9zM436.9 173.8h0.9v0.9h-0.9zM436.6 173.8h0.9v0.9h-0.9zM435.8 161.9h0.9v0.9h-0.9zM436.4 167.1h0.9v0.9h-0.9z" fill="#3a7cc0" opacity="0.8"/>
<line x1="436.30" y1="158.20" x2="436.30" y2="177.60" stroke="#3a7cc0" stroke-width="0.7"/>
<path d="M430.3 177.6H442.3" stroke="#35689a" stroke-width="1.4"/>
<text x="429.4" y="194.4" font-size="8.6" text-anchor="middle" font-style="italic" fill="#222">Cd81</text>
<line x1="414.60" y1="197.50" x2="414.60" y2="235.20" stroke="#333" stroke-width="1.2"/>
<line x1="414.00" y1="234.60" x2="444.20" y2="234.60" stroke="#222" stroke-width="1.2"/>
<line x1="411.80" y1="212.40" x2="414.60" y2="212.40" stroke="#333" stroke-width="0.8"/>
<text x="410.6" y="214.6" font-size="6.4" text-anchor="end" fill="#333">2</text>
<line x1="411.80" y1="233.00" x2="414.60" y2="233.00" stroke="#333" stroke-width="0.8"/>
<text x="410.6" y="235.2" font-size="6.4" text-anchor="end" fill="#333">0</text>
<path d="M415.9 233.0L420.4 228.7Q422.4 226.9 424.3 228.7L428.9 233.0Z" fill="none" stroke="#d7141e" stroke-width="0.8"/>
<path d="M422.4 200.1C421.4 204.1 420.5 210.1 420.5 216.1L420.5 233.0H424.3L424.3 216.1C424.3 210.1 423.3 204.1 422.4 200.1Z" fill="#e3242e" stroke="#d7141e" stroke-width="0.7"/>
<rect x="421.1" y="218.3" width="2.6" height="14.7" fill="none" stroke="#d7141e" stroke-width="0.6" opacity="0.9"/>
<rect x="421.6" y="219.3" width="1.6" height="12.7" fill="#f3a0a6"/>
<path d="M435.9 223.4h0.9v0.9h-0.9zM435.8 224.0h0.9v0.9h-0.9zM435.7 223.1h0.9v0.9h-0.9zM436.6 218.7h0.9v0.9h-0.9zM437.0 226.5h0.9v0.9h-0.9zM435.1 219.3h0.9v0.9h-0.9zM436.7 227.8h0.9v0.9h-0.9zM435.9 216.6h0.9v0.9h-0.9zM436.3 232.0h0.9v0.9h-0.9zM435.6 231.8h0.9v0.9h-0.9zM437.2 232.7h0.9v0.9h-0.9zM435.0 231.4h0.9v0.9h-0.9zM436.4 228.2h0.9v0.9h-0.9zM436.6 229.7h0.9v0.9h-0.9zM435.5 230.6h0.9v0.9h-0.9zM437.4 230.7h0.9v0.9h-0.9zM437.2 212.7h0.9v0.9h-0.9zM436.6 229.0h0.9v0.9h-0.9zM435.4 228.1h0.9v0.9h-0.9zM435.1 217.1h0.9v0.9h-0.9zM436.7 230.1h0.9v0.9h-0.9zM435.8 217.2h0.9v0.9h-0.9zM435.4 227.5h0.9v0.9h-0.9zM435.2 221.0h0.9v0.9h-0.9zM435.4 229.2h0.9v0.9h-0.9zM436.4 229.6h0.9v0.9h-0.9zM437.0 218.2h0.9v0.9h-0.9zM435.2 217.6h0.9v0.9h-0.9zM436.5 225.3h0.9v0.9h-0.9zM435.1 215.0h0.9v0.9h-0.9zM436.3 217.1h0.9v0.9h-0.9zM436.6 217.6h0.9v0.9h-0.9zM436.4 232.8h0.9v0.9h-0.9zM436.1 214.3h0.9v0.9h-0.9zM437.4 230.6h0.9v0.9h-0.9z" fill="#3a7cc0" opacity="0.8"/>
<line x1="436.30" y1="210.00" x2="436.30" y2="233.00" stroke="#3a7cc0" stroke-width="0.7"/>
<path d="M430.8 233.0L434.7 231.2Q436.3 229.4 437.9 231.2L441.8 233.0Z" fill="none" stroke="#3a7cc0" stroke-width="0.7"/>
<path d="M430.3 233.0H442.3" stroke="#35689a" stroke-width="1.4"/>
<line x1="299.20" y1="234.60" x2="299.20" y2="237.00" stroke="#222" stroke-width="0.8"/>
<text x="301.0" y="240.5" font-size="6.2" text-anchor="end" fill="#333" textLength="20.0" lengthAdjust="spacingAndGlyphs" transform="rotate(-50 301.0 240.5)">Vcam1+</text>
<line x1="313.40" y1="234.60" x2="313.40" y2="237.00" stroke="#222" stroke-width="0.8"/>
<text x="315.2" y="240.5" font-size="6.2" text-anchor="end" fill="#333" textLength="20.0" lengthAdjust="spacingAndGlyphs" transform="rotate(-50 315.2 240.5)">Vcam1−</text>
<line x1="422.40" y1="234.60" x2="422.40" y2="237.00" stroke="#222" stroke-width="0.8"/>
<text x="424.2" y="240.5" font-size="6.2" text-anchor="end" fill="#333" textLength="20.0" lengthAdjust="spacingAndGlyphs" transform="rotate(-50 424.2 240.5)">Vcam1+</text>
<line x1="436.30" y1="234.60" x2="436.30" y2="237.00" stroke="#222" stroke-width="0.8"/>
<text x="438.1" y="240.5" font-size="6.2" text-anchor="end" fill="#333" textLength="20.0" lengthAdjust="spacingAndGlyphs" transform="rotate(-50 438.1 240.5)">Vcam1−</text>
<text x="268.9" y="130.0" font-size="7.2" text-anchor="middle" font-weight="bold" fill="#1a1a1a" textLength="30.5" lengthAdjust="spacingAndGlyphs" transform="rotate(-90 268.9 130.0)">Expressions</text>
<text x="392.3" y="130.0" font-size="7.2" text-anchor="middle" font-weight="bold" fill="#1a1a1a" textLength="30.5" lengthAdjust="spacingAndGlyphs" transform="rotate(-90 392.3 130.0)">Expressions</text>
<defs><linearGradient id="gC" x1="0" y1="0" x2="0" y2="1"><stop offset="0" stop-color="#e0140f"/><stop offset="0.5" stop-color="#ef6a5a"/><stop offset="1" stop-color="#dedede"/></linearGradient><linearGradient id="gZ" x1="0" y1="0" x2="0" y2="1"><stop offset="0" stop-color="#b51f2e"/><stop offset="0.25" stop-color="#f06c58"/><stop offset="0.5" stop-color="#fbf4f0"/><stop offset="0.75" stop-color="#9a9bcc"/><stop offset="1" stop-color="#33358a"/></linearGradient><linearGradient id="gD" x1="0" y1="0" x2="0" y2="1"><stop offset="0" stop-color="#f9e94a"/><stop offset="0.35" stop-color="#f08b54"/><stop offset="0.6" stop-color="#b43b8a"/><stop offset="1" stop-color="#1d1260"/></linearGradient></defs>
<text x="451.0" y="91.8" font-size="7.0" fill="#333" textLength="48.6" lengthAdjust="spacingAndGlyphs">Log norm. counts</text>
<rect x="479.8" y="96.6" width="13.6" height="67.8" rx="2" fill="url(#gC)"/>
<text x="497.5" y="99.2" font-size="6.3" fill="#333">5</text>
<line x1="479.80" y1="110.60" x2="482.00" y2="110.60" stroke="#fff" stroke-width="0.6"/>
<line x1="491.20" y1="110.60" x2="493.40" y2="110.60" stroke="#fff" stroke-width="0.6"/>
<text x="497.5" y="112.8" font-size="6.3" fill="#333">4</text>
<line x1="479.80" y1="124.20" x2="482.00" y2="124.20" stroke="#fff" stroke-width="0.6"/>
<line x1="491.20" y1="124.20" x2="493.40" y2="124.20" stroke="#fff" stroke-width="0.6"/>
<text x="497.5" y="126.4" font-size="6.3" fill="#333">3</text>
<line x1="479.80" y1="137.80" x2="482.00" y2="137.80" stroke="#fff" stroke-width="0.6"/>
<line x1="491.20" y1="137.80" x2="493.40" y2="137.80" stroke="#fff" stroke-width="0.6"/>
<text x="497.5" y="140.0" font-size="6.3" fill="#333">2</text>
<line x1="479.80" y1="151.40" x2="482.00" y2="151.40" stroke="#fff" stroke-width="0.6"/>
<line x1="491.20" y1="151.40" x2="493.40" y2="151.40" stroke="#fff" stroke-width="0.6"/>
<text x="497.5" y="153.6" font-size="6.3" fill="#333">1</text>
<text x="497.5" y="167.2" font-size="6.3" fill="#333">0</text>
<text x="7.5" y="282.3" font-size="11" font-weight="bold" fill="#000">D</text>
<circle cx="63.7" cy="294.6" r="1.80" fill="#1f1a6b" opacity="0.95"/>
<circle cx="56.7" cy="297.0" r="1.73" fill="#1f1a6b" opacity="0.95"/>
<circle cx="51.9" cy="300.4" r="1.77" fill="#1f1a6b" opacity="0.95"/>
<circle cx="30.7" cy="313.4" r="2.00" fill="#1f1a6b" opacity="0.95"/>
<circle cx="33.5" cy="310.8" r="2.00" fill="#1f1a6b" opacity="0.95"/>
<circle cx="36.6" cy="310.1" r="2.00" fill="#1f1a6b" opacity="0.95"/>
<circle cx="39.6" cy="311.7" r="2.00" fill="#1f1a6b" opacity="0.95"/>
<circle cx="42.5" cy="316.8" r="2.00" fill="#1f1a6b" opacity="0.95"/>
<circle cx="44.5" cy="312.4" r="2.00" fill="#1f1a6b" opacity="0.95"/>
<circle cx="39.5" cy="316.0" r="2.00" fill="#1f1a6b" opacity="0.95"/>
<circle cx="50.9" cy="314.2" r="1.93" fill="#1f1a6b" opacity="0.95"/>
<circle cx="53.8" cy="313.6" r="1.79" fill="#1f1a6b" opacity="0.95"/>
<circle cx="57.9" cy="317.9" r="2.02" fill="#1f1a6b" opacity="0.95"/>
<circle cx="59.5" cy="323.0" r="1.96" fill="#1f1a6b" opacity="0.95"/>
<circle cx="62.3" cy="321.7" r="2.19" fill="#1f1a6b" opacity="0.95"/>
<circle cx="61.3" cy="323.6" r="1.87" fill="#1f1a6b" opacity="0.95"/>
<circle cx="68.2" cy="325.8" r="2.24" fill="#1f1a6b" opacity="0.95"/>
<circle cx="68.8" cy="331.9" r="2.18" fill="#1f1a6b" opacity="0.95"/>
<circle cx="68.4" cy="332.4" r="2.18" fill="#1f1a6b" opacity="0.95"/>
<circle cx="75.8" cy="328.5" r="1.89" fill="#1f1a6b" opacity="0.95"/>
<circle cx="69.3" cy="329.7" r="2.24" fill="#1f1a6b" opacity="0.95"/>
<circle cx="70.6" cy="329.0" r="1.96" fill="#17124d" opacity="0.95"/>
<circle cx="70.6" cy="326.4" r="2.13" fill="#1f1a6b" opacity="0.95"/>
<circle cx="65.4" cy="331.6" r="2.39" fill="#1f1a6b" opacity="0.95"/>
<circle cx="62.7" cy="331.0" r="2.19" fill="#1f1a6b" opacity="0.95"/>
<circle cx="65.8" cy="329.3" r="2.03" fill="#17124d" opacity="0.95"/>
<circle cx="75.1" cy="327.4" r="2.17" fill="#1f1a6b" opacity="0.95"/>
<circle cx="69.4" cy="325.9" r="2.03" fill="#1f1a6b" opacity="0.95"/>
<circle cx="65.2" cy="330.7" r="1.93" fill="#1f1a6b" opacity="0.95"/>
<circle cx="62.8" cy="329.5" r="2.03" fill="#1f1a6b" opacity="0.95"/>
<circle cx="65.6" cy="328.0" r="2.40" fill="#17124d" opacity="0.95"/>
<circle cx="67.5" cy="329.5" r="2.38" fill="#1f1a6b" opacity="0.95"/>
<circle cx="65.0" cy="329.1" r="2.09" fill="#1f1a6b" opacity="0.95"/>
<circle cx="63.4" cy="324.1" r="1.94" fill="#1f1a6b" opacity="0.95"/>
<circle cx="65.4" cy="328.4" r="2.08" fill="#1f1a6b" opacity="0.95"/>
<circle cx="67.6" cy="330.8" r="1.88" fill="#1f1a6b" opacity="0.95"/>
<circle cx="74.9" cy="325.7" r="1.72" fill="#1f1a6b" opacity="0.95"/>
<circle cx="76.4" cy="325.9" r="1.92" fill="#1f1a6b" opacity="0.95"/>
<circle cx="81.0" cy="322.4" r="1.89" fill="#1f1a6b" opacity="0.95"/>
<circle cx="82.0" cy="321.5" r="1.83" fill="#1f1a6b" opacity="0.95"/>
<circle cx="83.7" cy="321.2" r="1.92" fill="#1f1a6b" opacity="0.95"/>
<circle cx="86.8" cy="321.4" r="2.02" fill="#1f1a6b" opacity="0.95"/>
<circle cx="53.7" cy="299.1" r="1.71" fill="#6a2a9a" opacity="0.95"/>
<circle cx="48.6" cy="302.5" r="1.62" fill="#6a2a9a" opacity="0.95"/>
<circle cx="46.3" cy="302.8" r="1.96" fill="#6a2a9a" opacity="0.95"/>
<circle cx="40.1" cy="318.9" r="2.00" fill="#6a2a9a" opacity="0.95"/>
<circle cx="36.9" cy="319.2" r="2.00" fill="#6a2a9a" opacity="0.95"/>
<circle cx="31.6" cy="316.4" r="2.00" fill="#6a2a9a" opacity="0.95"/>
<circle cx="37.5" cy="314.0" r="2.00" fill="#6a2a9a" opacity="0.95"/>
<circle cx="51.5" cy="314.9" r="1.65" fill="#6a2a9a" opacity="0.95"/>
<circle cx="57.8" cy="313.5" r="1.89" fill="#6a2a9a" opacity="0.95"/>
<circle cx="52.0" cy="311.5" r="1.81" fill="#6a2a9a" opacity="0.95"/>
<circle cx="51.1" cy="318.0" r="2.06" fill="#6a2a9a" opacity="0.95"/>
<circle cx="53.8" cy="311.7" r="1.89" fill="#6a2a9a" opacity="0.95"/>
<circle cx="58.6" cy="319.7" r="1.92" fill="#6a2a9a" opacity="0.95"/>
<circle cx="58.9" cy="319.1" r="1.94" fill="#6a2a9a" opacity="0.95"/>
<circle cx="64.0" cy="324.5" r="2.08" fill="#6a2a9a" opacity="0.95"/>
<circle cx="63.6" cy="325.3" r="2.05" fill="#6a2a9a" opacity="0.95"/>
<circle cx="60.5" cy="328.4" r="1.98" fill="#6a2a9a" opacity="0.95"/>
<circle cx="73.5" cy="332.9" r="2.09" fill="#6a2a9a" opacity="0.95"/>
<circle cx="70.8" cy="329.6" r="2.02" fill="#6a2a9a" opacity="0.95"/>
<circle cx="65.1" cy="328.4" r="1.97" fill="#6a2a9a" opacity="0.95"/>
<circle cx="63.7" cy="327.7" r="1.87" fill="#6a2a9a" opacity="0.95"/>
<circle cx="68.6" cy="324.8" r="1.79" fill="#6a2a9a" opacity="0.95"/>
<circle cx="73.7" cy="328.3" r="1.84" fill="#6a2a9a" opacity="0.95"/>
<circle cx="78.5" cy="324.3" r="1.72" fill="#6a2a9a" opacity="0.95"/>
<circle cx="76.9" cy="323.7" r="2.07" fill="#6a2a9a" opacity="0.95"/>
<circle cx="81.7" cy="322.9" r="2.00" fill="#6a2a9a" opacity="0.95"/>
<circle cx="82.6" cy="321.6" r="1.87" fill="#6a2a9a" opacity="0.95"/>
<circle cx="82.3" cy="322.3" r="1.90" fill="#6a2a9a" opacity="0.95"/>
<circle cx="86.3" cy="285.2" r="1.80" fill="#e2568a" opacity="0.95"/>
<circle cx="44.0" cy="303.8" r="1.96" fill="#c23e8a" opacity="0.95"/>
<circle cx="42.1" cy="313.3" r="2.00" fill="#c23e8a" opacity="0.95"/>
<circle cx="34.1" cy="318.6" r="2.00" fill="#c23e8a" opacity="0.95"/>
<circle cx="57.9" cy="314.7" r="2.09" fill="#c23e8a" opacity="0.95"/>
<circle cx="58.3" cy="313.5" r="1.69" fill="#e2568a" opacity="0.95"/>
<circle cx="57.0" cy="316.0" r="1.70" fill="#e2568a" opacity="0.95"/>
<circle cx="53.6" cy="317.2" r="2.18" fill="#c23e8a" opacity="0.95"/>
<circle cx="53.5" cy="316.2" r="1.88" fill="#c23e8a" opacity="0.95"/>
<circle cx="58.7" cy="317.6" r="1.92" fill="#c23e8a" opacity="0.95"/>
<circle cx="52.9" cy="306.6" r="1.81" fill="#c23e8a" opacity="0.95"/>
<circle cx="71.6" cy="329.6" r="1.89" fill="#c23e8a" opacity="0.95"/>
<circle cx="75.2" cy="326.1" r="1.84" fill="#c23e8a" opacity="0.95"/>
<circle cx="67.6" cy="309.7" r="1.80" fill="#e2568a" opacity="0.95"/>
<circle cx="71.9" cy="307.6" r="1.80" fill="#e2568a" opacity="0.95"/>
<circle cx="61.5" cy="311.5" r="1.80" fill="#c23e8a" opacity="0.95"/>
<circle cx="70.0" cy="291.0" r="1.80" fill="#f2913e" opacity="0.95"/>
<circle cx="83.4" cy="312.6" r="1.82" fill="#f2913e" opacity="0.95"/>
<circle cx="83.8" cy="309.2" r="2.18" fill="#f2913e" opacity="0.95"/>
<circle cx="87.6" cy="308.1" r="1.99" fill="#f2913e" opacity="0.95"/>
<circle cx="85.9" cy="307.3" r="2.32" fill="#f2913e" opacity="0.95"/>
<circle cx="84.5" cy="311.4" r="2.08" fill="#f2913e" opacity="0.95"/>
<circle cx="74.0" cy="325.6" r="1.90" fill="#f2913e" opacity="0.95"/>
<circle cx="88.5" cy="318.5" r="2.00" fill="#f2913e" opacity="0.95"/>
<circle cx="90.5" cy="314.0" r="2.00" fill="#f2913e" opacity="0.95"/>
<circle cx="66.7" cy="291.2" r="2.12" fill="#f8d939" opacity="0.95"/>
<circle cx="69.4" cy="290.4" r="1.90" fill="#f8d939" opacity="0.95"/>
<circle cx="70.3" cy="290.5" r="1.99" fill="#f7ec52" opacity="0.95"/>
<circle cx="71.0" cy="290.3" r="1.90" fill="#f7ec52" opacity="0.95"/>
<circle cx="72.1" cy="289.7" r="2.15" fill="#f7ec52" opacity="0.95"/>
<circle cx="74.4" cy="289.9" r="1.86" fill="#f7ec52" opacity="0.95"/>
<circle cx="75.0" cy="288.3" r="2.15" fill="#f7ec52" opacity="0.95"/>
<circle cx="76.5" cy="285.9" r="1.87" fill="#f7ec52" opacity="0.95"/>
<circle cx="77.1" cy="288.7" r="2.02" fill="#f7ec52" opacity="0.95"/>
<circle cx="79.5" cy="288.0" r="1.88" fill="#f7ec52" opacity="0.95"/>
<circle cx="79.8" cy="286.4" r="1.87" fill="#f7ec52" opacity="0.95"/>
<circle cx="81.2" cy="285.8" r="2.13" fill="#f8d939" opacity="0.95"/>
<circle cx="81.6" cy="283.9" r="1.83" fill="#f8d939" opacity="0.95"/>
<circle cx="35.8" cy="314.8" r="2.00" fill="#f8d939" opacity="0.95"/>
<circle cx="46.0" cy="316.2" r="2.10" fill="#f8d939" opacity="0.95"/>
<circle cx="84.1" cy="310.7" r="2.24" fill="#f8d939" opacity="0.95"/>
<circle cx="90.4" cy="311.4" r="1.82" fill="#f8d939" opacity="0.95"/>
<circle cx="85.6" cy="317.4" r="2.38" fill="#f7ec52" opacity="0.95"/>
<circle cx="94.1" cy="303.2" r="2.23" fill="#f8d939" opacity="0.95"/>
<circle cx="87.6" cy="316.2" r="2.05" fill="#f8d939" opacity="0.95"/>
<circle cx="86.9" cy="312.7" r="2.13" fill="#f7ec52" opacity="0.95"/>
<circle cx="87.3" cy="314.4" r="2.18" fill="#f8d939" opacity="0.95"/>
<circle cx="81.5" cy="313.0" r="2.16" fill="#f8d939" opacity="0.95"/>
<circle cx="81.1" cy="316.4" r="2.36" fill="#f8d939" opacity="0.95"/>
<circle cx="82.2" cy="321.2" r="2.13" fill="#f8d939" opacity="0.95"/>
<circle cx="84.1" cy="316.8" r="1.95" fill="#f7ec52" opacity="0.95"/>
<circle cx="82.5" cy="311.3" r="1.93" fill="#f7ec52" opacity="0.95"/>
<circle cx="80.9" cy="312.7" r="1.87" fill="#f8d939" opacity="0.95"/>
<circle cx="83.6" cy="310.0" r="2.21" fill="#f8d939" opacity="0.95"/>
<circle cx="87.5" cy="307.7" r="2.07" fill="#f8d939" opacity="0.95"/>
<circle cx="90.5" cy="312.7" r="1.82" fill="#f8d939" opacity="0.95"/>
<circle cx="88.3" cy="310.0" r="2.29" fill="#f7ec52" opacity="0.95"/>
<circle cx="92.1" cy="319.0" r="2.20" fill="#f8d939" opacity="0.95"/>
<circle cx="87.9" cy="316.0" r="2.01" fill="#f8d939" opacity="0.95"/>
<circle cx="82.3" cy="320.9" r="2.23" fill="#f8d939" opacity="0.95"/>
<circle cx="80.1" cy="316.2" r="2.01" fill="#f7ec52" opacity="0.95"/>
<circle cx="96.2" cy="314.5" r="1.92" fill="#f8d939" opacity="0.95"/>
<circle cx="83.1" cy="312.7" r="1.81" fill="#f8d939" opacity="0.95"/>
<circle cx="86.0" cy="316.1" r="2.38" fill="#f7ec52" opacity="0.95"/>
<circle cx="87.5" cy="309.7" r="2.08" fill="#f8d939" opacity="0.95"/>
<circle cx="90.0" cy="299.6" r="2.00" fill="#f8d939" opacity="0.95"/>
<circle cx="82.7" cy="304.0" r="2.00" fill="#f8d939" opacity="0.95"/>
<circle cx="78.0" cy="305.5" r="1.90" fill="#f8d939" opacity="0.95"/>
<rect x="111.3" y="293.2" width="3.8" height="36" fill="url(#gD)" stroke="#333" stroke-width="0.4"/>
<line x1="115.10" y1="293.50" x2="116.60" y2="293.50" stroke="#333" stroke-width="0.6"/>
<line x1="115.10" y1="329.00" x2="116.60" y2="329.00" stroke="#333" stroke-width="0.6"/>
<text x="118.0" y="296.0" font-size="6.0" fill="#333">1</text>
<text x="118.0" y="331.2" font-size="6.0" fill="#333">0</text>
<text x="131.7" y="282.8" font-size="11" font-weight="bold" fill="#000">E</text>
<path d="M195.9 306.1h1.7v1.7h-1.7zM196.3 306.8h1.7v1.7h-1.7zM193.9 306.0h1.7v1.7h-1.7zM199.0 307.8h1.7v1.7h-1.7zM198.8 315.7h1.7v1.7h-1.7zM189.4 307.8h1.7v1.7h-1.7zM199.6 313.1h1.7v1.7h-1.7zM191.5 303.5h1.7v1.7h-1.7zM204.1 312.5h1.7v1.7h-1.7zM203.1 310.2h1.7v1.7h-1.7zM196.4 309.8h1.7v1.7h-1.7zM201.8 312.3h1.7v1.7h-1.7zM193.9 306.9h1.7v1.7h-1.7zM194.7 305.5h1.7v1.7h-1.7zM198.1 307.8h1.7v1.7h-1.7zM198.1 313.4h1.7v1.7h-1.7zM196.9 308.4h1.7v1.7h-1.7zM200.1 307.5h1.7v1.7h-1.7zM198.4 311.4h1.7v1.7h-1.7zM202.7 313.5h1.7v1.7h-1.7zM192.4 304.8h1.7v1.7h-1.7zM193.0 326.6h1.7v1.7h-1.7zM182.7 333.5h1.7v1.7h-1.7zM184.4 331.6h1.7v1.7h-1.7zM184.6 329.9h1.7v1.7h-1.7zM181.2 333.7h1.7v1.7h-1.7zM203.0 320.5h1.7v1.7h-1.7zM180.6 333.5h1.7v1.7h-1.7zM193.2 326.2h1.7v1.7h-1.7zM184.8 332.9h1.7v1.7h-1.7zM187.7 327.8h1.7v1.7h-1.7zM180.6 333.9h1.7v1.7h-1.7zM188.0 329.3h1.7v1.7h-1.7zM203.3 321.2h1.7v1.7h-1.7zM185.6 329.6h1.7v1.7h-1.7zM192.5 327.4h1.7v1.7h-1.7zM188.9 329.1h1.7v1.7h-1.7zM196.3 324.5h1.7v1.7h-1.7zM197.2 323.6h1.7v1.7h-1.7zM195.0 325.5h1.7v1.7h-1.7zM202.2 320.3h1.7v1.7h-1.7zM187.3 329.5h1.7v1.7h-1.7zM196.8 323.9h1.7v1.7h-1.7zM184.6 332.4h1.7v1.7h-1.7zM199.9 321.7h1.7v1.7h-1.7zM203.5 322.3h1.7v1.7h-1.7zM191.9 325.5h1.7v1.7h-1.7zM199.7 323.4h1.7v1.7h-1.7zM197.2 325.4h1.7v1.7h-1.7zM183.8 333.9h1.7v1.7h-1.7zM198.9 324.0h1.7v1.7h-1.7zM195.4 323.3h1.7v1.7h-1.7zM198.8 323.0h1.7v1.7h-1.7zM191.7 326.7h1.7v1.7h-1.7zM193.3 326.3h1.7v1.7h-1.7zM182.6 333.5h1.7v1.7h-1.7zM182.9 330.2h1.7v1.7h-1.7zM203.1 321.4h1.7v1.7h-1.7zM177.9 333.3h1.7v1.7h-1.7zM176.0 322.0h1.7v1.7h-1.7zM182.2 325.8h1.7v1.7h-1.7zM205.5 318.2h1.7v1.7h-1.7zM205.2 317.9h1.7v1.7h-1.7zM206.4 316.7h1.7v1.7h-1.7zM204.4 321.8h1.7v1.7h-1.7zM205.0 318.8h1.7v1.7h-1.7zM206.7 317.8h1.7v1.7h-1.7zM204.2 320.2h1.7v1.7h-1.7zM207.8 317.9h1.7v1.7h-1.7zM203.4 319.1h1.7v1.7h-1.7zM203.6 321.2h1.7v1.7h-1.7zM204.5 320.7h1.7v1.7h-1.7zM206.5 319.8h1.7v1.7h-1.7zM204.9 318.2h1.7v1.7h-1.7zM206.4 320.0h1.7v1.7h-1.7zM204.3 318.8h1.7v1.7h-1.7zM180.5 306.0h1.7v1.7h-1.7z" fill="#e8924a"/>
<path d="M181.7 286.7h1.6v1.6h-1.6zM190.3 283.5h1.6v1.6h-1.6zM191.2 283.2h1.6v1.6h-1.6zM189.3 284.8h1.6v1.6h-1.6zM195.5 282.1h1.6v1.6h-1.6zM182.1 287.5h1.6v1.6h-1.6zM186.3 285.7h1.6v1.6h-1.6zM187.8 285.1h1.6v1.6h-1.6zM183.0 286.1h1.6v1.6h-1.6zM189.6 285.2h1.6v1.6h-1.6zM193.0 282.7h1.6v1.6h-1.6zM183.1 287.5h1.6v1.6h-1.6zM192.2 283.7h1.6v1.6h-1.6zM189.1 285.2h1.6v1.6h-1.6zM183.9 285.2h1.6v1.6h-1.6zM192.5 284.1h1.6v1.6h-1.6zM187.1 285.3h1.6v1.6h-1.6zM193.7 282.9h1.6v1.6h-1.6zM187.8 285.1h1.6v1.6h-1.6zM184.0 286.9h1.6v1.6h-1.6zM192.0 283.2h1.6v1.6h-1.6zM190.8 283.9h1.6v1.6h-1.6zM193.2 283.3h1.6v1.6h-1.6zM192.0 283.6h1.6v1.6h-1.6zM192.8 281.2h1.6v1.6h-1.6zM185.5 286.5h1.6v1.6h-1.6zM192.7 284.0h1.6v1.6h-1.6zM183.9 287.5h1.6v1.6h-1.6zM165.7 298.7h1.6v1.6h-1.6zM168.0 299.3h1.6v1.6h-1.6zM159.4 299.4h1.6v1.6h-1.6zM163.5 299.8h1.6v1.6h-1.6zM159.3 299.7h1.6v1.6h-1.6zM167.6 299.2h1.6v1.6h-1.6zM163.9 299.7h1.6v1.6h-1.6zM163.4 300.0h1.6v1.6h-1.6zM158.4 301.4h1.6v1.6h-1.6zM160.8 300.1h1.6v1.6h-1.6zM158.8 301.9h1.6v1.6h-1.6zM161.4 300.2h1.6v1.6h-1.6zM163.3 300.1h1.6v1.6h-1.6zM168.2 299.1h1.6v1.6h-1.6zM161.0 301.0h1.6v1.6h-1.6zM162.5 299.4h1.6v1.6h-1.6zM160.6 300.8h1.6v1.6h-1.6zM158.0 299.9h1.6v1.6h-1.6zM163.0 300.5h1.6v1.6h-1.6zM166.1 298.4h1.6v1.6h-1.6zM162.4 300.1h1.6v1.6h-1.6zM163.2 300.8h1.6v1.6h-1.6zM145.0 312.5h1.6v1.6h-1.6zM149.8 314.8h1.6v1.6h-1.6zM146.2 314.0h1.6v1.6h-1.6zM144.2 311.6h1.6v1.6h-1.6zM144.5 311.9h1.6v1.6h-1.6zM145.0 314.0h1.6v1.6h-1.6zM145.7 313.6h1.6v1.6h-1.6zM145.6 311.5h1.6v1.6h-1.6zM145.9 313.9h1.6v1.6h-1.6zM166.5 318.8h1.6v1.6h-1.6zM172.7 319.7h1.6v1.6h-1.6zM171.8 313.7h1.6v1.6h-1.6zM165.8 321.9h1.6v1.6h-1.6zM154.6 315.4h1.6v1.6h-1.6zM163.1 320.8h1.6v1.6h-1.6zM157.6 317.5h1.6v1.6h-1.6zM170.1 318.5h1.6v1.6h-1.6zM171.1 321.4h1.6v1.6h-1.6zM157.8 312.5h1.6v1.6h-1.6zM172.2 320.5h1.6v1.6h-1.6zM159.0 315.6h1.6v1.6h-1.6zM169.9 322.5h1.6v1.6h-1.6zM157.3 312.2h1.6v1.6h-1.6zM169.0 317.9h1.6v1.6h-1.6zM166.9 319.2h1.6v1.6h-1.6zM165.5 318.4h1.6v1.6h-1.6zM173.3 320.9h1.6v1.6h-1.6zM154.4 316.1h1.6v1.6h-1.6zM154.9 310.1h1.6v1.6h-1.6zM159.2 315.3h1.6v1.6h-1.6zM150.6 314.9h1.6v1.6h-1.6zM153.1 312.1h1.6v1.6h-1.6zM171.9 319.9h1.6v1.6h-1.6zM170.0 322.2h1.6v1.6h-1.6zM153.0 313.0h1.6v1.6h-1.6zM195.5 309.1h1.6v1.6h-1.6zM178.6 324.1h1.6v1.6h-1.6zM183.1 324.5h1.6v1.6h-1.6zM177.3 321.9h1.6v1.6h-1.6z" fill="#2e78b4"/>
<path d="M189.0 284.5h1.4v1.4h-1.4zM187.1 286.1h1.4v1.4h-1.4zM191.1 282.7h1.4v1.4h-1.4zM184.3 287.4h1.4v1.4h-1.4zM187.2 284.7h1.4v1.4h-1.4zM191.8 284.2h1.4v1.4h-1.4zM184.3 287.2h1.4v1.4h-1.4zM191.4 284.5h1.4v1.4h-1.4zM194.0 282.8h1.4v1.4h-1.4zM190.1 283.8h1.4v1.4h-1.4zM184.2 286.0h1.4v1.4h-1.4zM194.2 282.3h1.4v1.4h-1.4zM176.8 289.7h1.4v1.4h-1.4zM162.6 299.9h1.4v1.4h-1.4zM156.0 301.0h1.4v1.4h-1.4zM161.5 300.1h1.4v1.4h-1.4zM160.0 300.5h1.4v1.4h-1.4zM165.4 299.5h1.4v1.4h-1.4zM156.9 301.8h1.4v1.4h-1.4zM168.0 298.7h1.4v1.4h-1.4zM166.2 299.4h1.4v1.4h-1.4zM160.3 298.6h1.4v1.4h-1.4zM168.3 298.2h1.4v1.4h-1.4zM162.5 299.8h1.4v1.4h-1.4zM162.1 299.7h1.4v1.4h-1.4zM147.3 313.9h1.4v1.4h-1.4zM148.5 315.1h1.4v1.4h-1.4zM148.1 313.5h1.4v1.4h-1.4zM146.4 313.6h1.4v1.4h-1.4zM145.4 313.4h1.4v1.4h-1.4zM175.6 319.5h1.4v1.4h-1.4zM158.0 312.6h1.4v1.4h-1.4zM166.0 316.3h1.4v1.4h-1.4zM173.3 321.0h1.4v1.4h-1.4zM163.3 317.9h1.4v1.4h-1.4zM171.0 320.0h1.4v1.4h-1.4zM151.3 314.0h1.4v1.4h-1.4zM158.9 317.4h1.4v1.4h-1.4zM171.1 319.8h1.4v1.4h-1.4zM156.9 315.5h1.4v1.4h-1.4zM165.4 320.9h1.4v1.4h-1.4zM152.6 311.0h1.4v1.4h-1.4zM150.8 313.2h1.4v1.4h-1.4zM163.6 317.0h1.4v1.4h-1.4zM156.9 316.5h1.4v1.4h-1.4zM163.4 316.4h1.4v1.4h-1.4zM173.9 323.2h1.4v1.4h-1.4zM166.2 314.4h1.4v1.4h-1.4zM163.8 319.2h1.4v1.4h-1.4zM158.1 313.3h1.4v1.4h-1.4zM160.7 314.9h1.4v1.4h-1.4zM164.5 321.4h1.4v1.4h-1.4zM150.6 316.8h1.4v1.4h-1.4zM172.3 321.4h1.4v1.4h-1.4zM168.6 319.2h1.4v1.4h-1.4zM160.4 318.3h1.4v1.4h-1.4zM160.2 315.1h1.4v1.4h-1.4zM165.9 320.9h1.4v1.4h-1.4zM157.4 311.3h1.4v1.4h-1.4zM158.4 312.6h1.4v1.4h-1.4zM151.3 315.8h1.4v1.4h-1.4zM163.2 317.3h1.4v1.4h-1.4zM170.1 319.3h1.4v1.4h-1.4zM174.7 322.1h1.4v1.4h-1.4zM192.6 308.2h1.4v1.4h-1.4zM205.0 309.3h1.4v1.4h-1.4zM200.6 318.0h1.4v1.4h-1.4zM188.2 308.4h1.4v1.4h-1.4zM206.9 314.8h1.4v1.4h-1.4zM198.3 305.6h1.4v1.4h-1.4zM204.6 309.9h1.4v1.4h-1.4zM196.6 309.9h1.4v1.4h-1.4zM185.1 305.7h1.4v1.4h-1.4zM190.6 303.7h1.4v1.4h-1.4zM197.3 309.1h1.4v1.4h-1.4zM198.5 311.7h1.4v1.4h-1.4zM188.9 300.5h1.4v1.4h-1.4zM206.2 307.7h1.4v1.4h-1.4zM190.3 305.0h1.4v1.4h-1.4zM194.3 308.9h1.4v1.4h-1.4zM204.6 312.0h1.4v1.4h-1.4zM191.4 308.5h1.4v1.4h-1.4zM205.3 320.7h1.4v1.4h-1.4zM190.4 327.3h1.4v1.4h-1.4zM204.3 318.7h1.4v1.4h-1.4zM191.4 324.5h1.4v1.4h-1.4zM187.2 330.2h1.4v1.4h-1.4zM186.2 331.6h1.4v1.4h-1.4zM183.3 332.0h1.4v1.4h-1.4zM203.2 319.3h1.4v1.4h-1.4zM184.2 332.8h1.4v1.4h-1.4zM198.5 324.7h1.4v1.4h-1.4zM178.7 332.1h1.4v1.4h-1.4zM196.5 323.4h1.4v1.4h-1.4zM181.8 323.4h1.4v1.4h-1.4zM176.7 321.3h1.4v1.4h-1.4zM182.6 325.7h1.4v1.4h-1.4zM175.7 320.4h1.4v1.4h-1.4zM181.3 325.5h1.4v1.4h-1.4zM184.1 325.5h1.4v1.4h-1.4zM181.9 324.4h1.4v1.4h-1.4zM184.7 325.6h1.4v1.4h-1.4zM181.9 323.8h1.4v1.4h-1.4zM204.0 320.4h1.4v1.4h-1.4zM204.3 298.2h1.4v1.4h-1.4zM207.9 296.3h1.4v1.4h-1.4zM203.7 298.2h1.4v1.4h-1.4zM203.0 301.0h1.4v1.4h-1.4zM204.0 298.6h1.4v1.4h-1.4zM181.8 308.9h1.4v1.4h-1.4zM187.6 303.3h1.4v1.4h-1.4zM186.9 310.2h1.4v1.4h-1.4zM187.2 310.2h1.4v1.4h-1.4zM183.9 312.2h1.4v1.4h-1.4zM183.4 305.7h1.4v1.4h-1.4zM192.9 313.9h1.4v1.4h-1.4z" fill="#222"/>
<circle cx="218.7" cy="307.6" r="1.5" fill="#2e78b4"/>
<circle cx="218.7" cy="315.2" r="1.5" fill="#e8924a"/>
<text x="224.0" y="310.6" font-size="6.45">Cluster 19 (<tspan font-style="italic">Vcam1</tspan><tspan font-size="4.5" dy="-2.5">+</tspan><tspan dy="2.5">)</tspan></text>
<text x="224.0" y="317.8" font-size="6.45">Cluster 22 (<tspan font-style="italic">Vcam1</tspan><tspan font-size="4.5" dy="-2.5">−</tspan><tspan dy="2.5">)</tspan></text>
<text x="7.6" y="357.2" font-size="11" font-weight="bold" fill="#000">F</text>
<rect x="38.50" y="357.00" width="205.00" height="148.00" fill="#f5f5f5"/>
<path d="M42.5 357h2v1.5h-2zM60.5 357h2v1.5h-2zM64.5 357h4v1.5h-4zM70.5 357h4v1.5h-4zM78.5 357h2v1.5h-2zM82.5 357h2v1.5h-2zM138.5 357h4v1.5h-4zM146.5 357h2v1.5h-2zM160.5 357h2v1.5h-2zM170.5 357h2v1.5h-2zM176.5 357h2v1.5h-2zM186.5 357h4v1.5h-4zM200.5 357h2v1.5h-2zM242.5 357h1v1.5h-1zM40.5 358.5h2v1.5h-2zM66.5 358.5h4v1.5h-4zM72.5 358.5h2v1.5h-2zM76.5 358.5h2v1.5h-2zM80.5 358.5h4v1.5h-4zM136.5 358.5h2v1.5h-2zM150.5 358.5h2v1.5h-2zM154.5 358.5h4v1.5h-4zM160.5 358.5h2v1.5h-2zM168.5 358.5h2v1.5h-2zM176.5 358.5h2v1.5h-2zM180.5 358.5h4v1.5h-4zM186.5 358.5h4v1.5h-4zM216.5 358.5h2v1.5h-2zM230.5 358.5h2v1.5h-2zM78.5 360h2v1.5h-2zM82.5 360h2v1.5h-2zM138.5 360h2v1.5h-2zM160.5 360h2v1.5h-2zM168.5 360h2v1.5h-2zM172.5 360h2v1.5h-2zM198.5 360h2v1.5h-2zM202.5 360h4v1.5h-4zM212.5 360h2v1.5h-2zM220.5 360h2v1.5h-2zM230.5 360h2v1.5h-2zM138.5 361.5h2v1.5h-2zM146.5 361.5h2v1.5h-2zM176.5 361.5h2v1.5h-2zM180.5 361.5h2v1.5h-2zM186.5 361.5h2v1.5h-2zM190.5 361.5h2v1.5h-2zM194.5 361.5h2v1.5h-2zM198.5 361.5h2v1.5h-2zM202.5 361.5h2v1.5h-2zM216.5 361.5h4v1.5h-4zM240.5 361.5h2v1.5h-2zM56.5 363h2v1.5h-2zM72.5 363h2v1.5h-2zM82.5 363h2v1.5h-2zM158.5 363h4v1.5h-4zM172.5 363h2v1.5h-2zM178.5 363h6v1.5h-6zM194.5 363h2v1.5h-2zM206.5 363h2v1.5h-2zM214.5 363h2v1.5h-2zM218.5 363h2v1.5h-2zM226.5 363h4v1.5h-4zM232.5 363h2v1.5h-2zM238.5 363h2v1.5h-2zM40.5 364.5h2v1.5h-2zM44.5 364.5h4v1.5h-4zM50.5 364.5h2v1.5h-2zM54.5 364.5h4v1.5h-4zM60.5 364.5h2v1.5h-2zM70.5 364.5h4v1.5h-4zM76.5 364.5h4v1.5h-4zM82.5 364.5h2v1.5h-2zM138.5 364.5h2v1.5h-2zM144.5 364.5h4v1.5h-4zM158.5 364.5h2v1.5h-2zM168.5 364.5h2v1.5h-2zM172.5 364.5h2v1.5h-2zM180.5 364.5h2v1.5h-2zM184.5 364.5h2v1.5h-2zM192.5 364.5h2v1.5h-2zM218.5 364.5h2v1.5h-2zM224.5 364.5h2v1.5h-2zM228.5 364.5h2v1.5h-2zM240.5 364.5h2v1.5h-2zM38.5 366h2v1.5h-2zM42.5 366h2v1.5h-2zM48.5 366h4v1.5h-4zM56.5 366h2v1.5h-2zM82.5 366h2v1.5h-2zM86.5 366h2v1.5h-2zM142.5 366h2v1.5h-2zM146.5 366h4v1.5h-4zM170.5 366h2v1.5h-2zM180.5 366h6v1.5h-6zM202.5 366h2v1.5h-2zM222.5 366h2v1.5h-2zM230.5 366h2v1.5h-2zM234.5 366h6v1.5h-6zM162.5 367.5h2v1.5h-2zM176.5 367.5h2v1.5h-2zM180.5 367.5h2v1.5h-2zM184.5 367.5h2v1.5h-2zM188.5 367.5h2v1.5h-2zM196.5 367.5h2v1.5h-2zM200.5 367.5h2v1.5h-2zM206.5 367.5h2v1.5h-2zM212.5 367.5h2v1.5h-2zM218.5 367.5h2v1.5h-2zM224.5 367.5h2v1.5h-2zM236.5 367.5h2v1.5h-2zM240.5 367.5h2v1.5h-2zM140.5 369h2v1.5h-2zM176.5 369h2v1.5h-2zM188.5 369h2v1.5h-2zM192.5 369h2v1.5h-2zM196.5 369h2v1.5h-2zM202.5 369h2v1.5h-2zM206.5 369h2v1.5h-2zM214.5 369h2v1.5h-2zM222.5 369h2v1.5h-2zM232.5 369h2v1.5h-2zM74.5 370.5h2v1.5h-2zM78.5 370.5h4v1.5h-4zM138.5 370.5h6v1.5h-6zM148.5 370.5h2v1.5h-2zM164.5 370.5h2v1.5h-2zM170.5 370.5h4v1.5h-4zM178.5 370.5h2v1.5h-2zM188.5 370.5h2v1.5h-2zM194.5 370.5h2v1.5h-2zM204.5 370.5h4v1.5h-4zM238.5 370.5h2v1.5h-2zM42.5 372h2v1.5h-2zM56.5 372h2v1.5h-2zM140.5 372h2v1.5h-2zM158.5 372h2v1.5h-2zM162.5 372h2v1.5h-2zM166.5 372h6v1.5h-6zM174.5 372h2v1.5h-2zM180.5 372h2v1.5h-2zM188.5 372h2v1.5h-2zM222.5 372h2v1.5h-2zM242.5 372h1v1.5h-1zM72.5 373.5h2v1.5h-2zM78.5 373.5h2v1.5h-2zM158.5 373.5h2v1.5h-2zM166.5 373.5h2v1.5h-2zM176.5 373.5h2v1.5h-2zM180.5 373.5h2v1.5h-2zM192.5 373.5h2v1.5h-2zM206.5 373.5h2v1.5h-2zM222.5 373.5h2v1.5h-2zM230.5 373.5h2v1.5h-2zM234.5 373.5h2v1.5h-2zM72.5 375h2v1.5h-2zM140.5 375h2v1.5h-2zM146.5 375h4v1.5h-4zM160.5 375h4v1.5h-4zM166.5 375h2v1.5h-2zM182.5 375h2v1.5h-2zM202.5 375h2v1.5h-2zM220.5 375h2v1.5h-2zM242.5 375h1v1.5h-1zM46.5 376.5h2v1.5h-2zM140.5 376.5h2v1.5h-2zM144.5 376.5h6v1.5h-6zM182.5 376.5h2v1.5h-2zM190.5 376.5h2v1.5h-2zM196.5 376.5h2v1.5h-2zM200.5 376.5h2v1.5h-2zM216.5 376.5h2v1.5h-2zM222.5 376.5h2v1.5h-2zM228.5 376.5h2v1.5h-2zM40.5 378h4v1.5h-4zM46.5 378h4v1.5h-4zM54.5 378h4v1.5h-4zM68.5 378h2v1.5h-2zM72.5 378h2v1.5h-2zM78.5 378h2v1.5h-2zM140.5 378h2v1.5h-2zM144.5 378h4v1.5h-4zM158.5 378h2v1.5h-2zM168.5 378h8v1.5h-8zM178.5 378h8v1.5h-8zM188.5 378h2v1.5h-2zM192.5 378h2v1.5h-2zM198.5 378h2v1.5h-2zM206.5 378h2v1.5h-2zM212.5 378h2v1.5h-2zM218.5 378h2v1.5h-2zM224.5 378h4v1.5h-4zM232.5 378h2v1.5h-2zM240.5 378h2v1.5h-2zM44.5 379.5h2v1.5h-2zM72.5 379.5h2v1.5h-2zM78.5 379.5h2v1.5h-2zM138.5 379.5h2v1.5h-2zM158.5 379.5h2v1.5h-2zM168.5 379.5h2v1.5h-2zM174.5 379.5h2v1.5h-2zM180.5 379.5h2v1.5h-2zM194.5 379.5h4v1.5h-4zM200.5 379.5h4v1.5h-4zM206.5 379.5h4v1.5h-4zM226.5 379.5h2v1.5h-2zM230.5 379.5h2v1.5h-2zM234.5 379.5h2v1.5h-2zM64.5 381h2v1.5h-2zM70.5 381h4v1.5h-4zM78.5 381h2v1.5h-2zM82.5 381h2v1.5h-2zM86.5 381h2v1.5h-2zM140.5 381h2v1.5h-2zM148.5 381h2v1.5h-2zM180.5 381h4v1.5h-4zM186.5 381h2v1.5h-2zM210.5 381h2v1.5h-2zM214.5 381h2v1.5h-2zM222.5 381h2v1.5h-2zM228.5 381h2v1.5h-2zM232.5 381h2v1.5h-2zM238.5 381h4v1.5h-4zM56.5 382.5h2v1.5h-2zM66.5 382.5h2v1.5h-2zM140.5 382.5h2v1.5h-2zM144.5 382.5h6v1.5h-6zM178.5 382.5h4v1.5h-4zM202.5 382.5h4v1.5h-4zM214.5 382.5h6v1.5h-6zM228.5 382.5h2v1.5h-2zM242.5 382.5h1v1.5h-1zM44.5 384h10v1.5h-10zM56.5 384h4v1.5h-4zM64.5 384h4v1.5h-4zM70.5 384h6v1.5h-6zM82.5 384h2v1.5h-2zM128.5 384h2v1.5h-2zM132.5 384h2v1.5h-2zM136.5 384h2v1.5h-2zM142.5 384h8v1.5h-8zM162.5 384h2v1.5h-2zM172.5 384h4v1.5h-4zM180.5 384h4v1.5h-4zM202.5 384h2v1.5h-2zM220.5 384h2v1.5h-2zM238.5 384h2v1.5h-2zM38.5 385.5h2v1.5h-2zM48.5 385.5h2v1.5h-2zM66.5 385.5h2v1.5h-2zM70.5 385.5h4v1.5h-4zM138.5 385.5h4v1.5h-4zM148.5 385.5h2v1.5h-2zM164.5 385.5h2v1.5h-2zM170.5 385.5h2v1.5h-2zM178.5 385.5h2v1.5h-2zM182.5 385.5h2v1.5h-2zM196.5 385.5h4v1.5h-4zM214.5 385.5h2v1.5h-2zM218.5 385.5h2v1.5h-2zM224.5 385.5h2v1.5h-2zM242.5 385.5h1v1.5h-1zM38.5 387h2v1.5h-2zM48.5 387h4v1.5h-4zM58.5 387h2v1.5h-2zM64.5 387h2v1.5h-2zM70.5 387h2v1.5h-2zM74.5 387h6v1.5h-6zM82.5 387h2v1.5h-2zM142.5 387h2v1.5h-2zM146.5 387h4v1.5h-4zM162.5 387h2v1.5h-2zM180.5 387h4v1.5h-4zM190.5 387h2v1.5h-2zM202.5 387h4v1.5h-4zM210.5 387h2v1.5h-2zM44.5 388.5h4v1.5h-4zM50.5 388.5h2v1.5h-2zM140.5 388.5h8v1.5h-8zM168.5 388.5h2v1.5h-2zM174.5 388.5h2v1.5h-2zM184.5 388.5h2v1.5h-2zM194.5 388.5h2v1.5h-2zM208.5 388.5h4v1.5h-4zM214.5 388.5h2v1.5h-2zM220.5 388.5h2v1.5h-2zM230.5 388.5h2v1.5h-2zM238.5 388.5h2v1.5h-2zM64.5 390h4v1.5h-4zM74.5 390h2v1.5h-2zM78.5 390h2v1.5h-2zM82.5 390h2v1.5h-2zM138.5 390h2v1.5h-2zM184.5 390h2v1.5h-2zM190.5 390h2v1.5h-2zM194.5 390h2v1.5h-2zM198.5 390h2v1.5h-2zM206.5 390h2v1.5h-2zM224.5 390h4v1.5h-4zM230.5 390h2v1.5h-2zM40.5 391.5h2v1.5h-2zM140.5 391.5h2v1.5h-2zM158.5 391.5h2v1.5h-2zM178.5 391.5h2v1.5h-2zM212.5 391.5h4v1.5h-4zM218.5 391.5h2v1.5h-2zM222.5 391.5h2v1.5h-2zM240.5 391.5h2v1.5h-2zM82.5 393h2v1.5h-2zM138.5 393h4v1.5h-4zM162.5 393h2v1.5h-2zM170.5 393h2v1.5h-2zM190.5 393h4v1.5h-4zM198.5 393h4v1.5h-4zM204.5 393h2v1.5h-2zM208.5 393h4v1.5h-4zM220.5 393h2v1.5h-2zM230.5 393h2v1.5h-2zM238.5 393h2v1.5h-2zM42.5 394.5h2v1.5h-2zM48.5 394.5h2v1.5h-2zM60.5 394.5h2v1.5h-2zM68.5 394.5h4v1.5h-4zM78.5 394.5h4v1.5h-4zM86.5 394.5h2v1.5h-2zM138.5 394.5h2v1.5h-2zM144.5 394.5h2v1.5h-2zM184.5 394.5h2v1.5h-2zM190.5 394.5h6v1.5h-6zM198.5 394.5h2v1.5h-2zM204.5 394.5h2v1.5h-2zM208.5 394.5h4v1.5h-4zM218.5 394.5h8v1.5h-8zM38.5 396h4v1.5h-4zM50.5 396h4v1.5h-4zM56.5 396h2v1.5h-2zM60.5 396h2v1.5h-2zM72.5 396h4v1.5h-4zM78.5 396h2v1.5h-2zM82.5 396h2v1.5h-2zM140.5 396h2v1.5h-2zM146.5 396h2v1.5h-2zM164.5 396h2v1.5h-2zM168.5 396h2v1.5h-2zM172.5 396h4v1.5h-4zM180.5 396h4v1.5h-4zM206.5 396h2v1.5h-2zM50.5 397.5h2v1.5h-2zM138.5 397.5h4v1.5h-4zM158.5 397.5h2v1.5h-2zM162.5 397.5h2v1.5h-2zM166.5 397.5h4v1.5h-4zM174.5 397.5h2v1.5h-2zM188.5 397.5h4v1.5h-4zM194.5 397.5h4v1.5h-4zM202.5 397.5h2v1.5h-2zM212.5 397.5h2v1.5h-2zM216.5 397.5h4v1.5h-4zM222.5 397.5h2v1.5h-2zM232.5 397.5h2v1.5h-2zM66.5 399h4v1.5h-4zM72.5 399h2v1.5h-2zM82.5 399h2v1.5h-2zM140.5 399h2v1.5h-2zM144.5 399h2v1.5h-2zM148.5 399h2v1.5h-2zM170.5 399h4v1.5h-4zM178.5 399h2v1.5h-2zM196.5 399h4v1.5h-4zM202.5 399h2v1.5h-2zM208.5 399h2v1.5h-2zM214.5 399h2v1.5h-2zM220.5 399h2v1.5h-2zM228.5 399h4v1.5h-4zM238.5 399h2v1.5h-2zM38.5 400.5h6v1.5h-6zM50.5 400.5h2v1.5h-2zM78.5 400.5h2v1.5h-2zM82.5 400.5h2v1.5h-2zM138.5 400.5h2v1.5h-2zM144.5 400.5h4v1.5h-4zM158.5 400.5h2v1.5h-2zM166.5 400.5h2v1.5h-2zM170.5 400.5h2v1.5h-2zM180.5 400.5h2v1.5h-2zM184.5 400.5h2v1.5h-2zM202.5 400.5h2v1.5h-2zM216.5 400.5h2v1.5h-2zM40.5 402h2v1.5h-2zM44.5 402h2v1.5h-2zM50.5 402h2v1.5h-2zM54.5 402h2v1.5h-2zM60.5 402h2v1.5h-2zM66.5 402h12v1.5h-12zM86.5 402h2v1.5h-2zM98.5 402h2v1.5h-2zM106.5 402h2v1.5h-2zM140.5 402h8v1.5h-8zM150.5 402h4v1.5h-4zM156.5 402h4v1.5h-4zM192.5 402h2v1.5h-2zM204.5 402h4v1.5h-4zM214.5 402h6v1.5h-6zM40.5 403.5h4v1.5h-4zM46.5 403.5h8v1.5h-8zM56.5 403.5h4v1.5h-4zM64.5 403.5h4v1.5h-4zM70.5 403.5h2v1.5h-2zM76.5 403.5h4v1.5h-4zM84.5 403.5h2v1.5h-2zM130.5 403.5h2v1.5h-2zM134.5 403.5h2v1.5h-2zM150.5 403.5h4v1.5h-4zM156.5 403.5h4v1.5h-4zM162.5 403.5h2v1.5h-2zM166.5 403.5h2v1.5h-2zM182.5 403.5h2v1.5h-2zM202.5 403.5h2v1.5h-2zM224.5 403.5h2v1.5h-2zM72.5 405h2v1.5h-2zM138.5 405h4v1.5h-4zM174.5 405h2v1.5h-2zM182.5 405h2v1.5h-2zM190.5 405h4v1.5h-4zM196.5 405h2v1.5h-2zM200.5 405h2v1.5h-2zM218.5 405h2v1.5h-2zM226.5 405h4v1.5h-4zM234.5 405h2v1.5h-2zM238.5 405h4v1.5h-4zM76.5 406.5h4v1.5h-4zM82.5 406.5h2v1.5h-2zM228.5 406.5h4v1.5h-4zM74.5 408h2v1.5h-2zM82.5 408h2v1.5h-2zM138.5 408h4v1.5h-4zM146.5 408h2v1.5h-2zM158.5 408h2v1.5h-2zM162.5 408h2v1.5h-2zM168.5 408h6v1.5h-6zM184.5 408h4v1.5h-4zM194.5 408h2v1.5h-2zM204.5 408h2v1.5h-2zM216.5 408h2v1.5h-2zM220.5 408h2v1.5h-2zM226.5 408h2v1.5h-2zM238.5 408h2v1.5h-2zM40.5 409.5h2v1.5h-2zM48.5 409.5h4v1.5h-4zM70.5 409.5h2v1.5h-2zM82.5 409.5h2v1.5h-2zM138.5 409.5h2v1.5h-2zM142.5 409.5h4v1.5h-4zM148.5 409.5h2v1.5h-2zM154.5 409.5h2v1.5h-2zM164.5 409.5h2v1.5h-2zM176.5 409.5h2v1.5h-2zM206.5 409.5h2v1.5h-2zM228.5 409.5h4v1.5h-4zM234.5 409.5h2v1.5h-2zM64.5 411h4v1.5h-4zM72.5 411h2v1.5h-2zM82.5 411h2v1.5h-2zM140.5 411h2v1.5h-2zM146.5 411h2v1.5h-2zM170.5 411h2v1.5h-2zM174.5 411h4v1.5h-4zM180.5 411h2v1.5h-2zM184.5 411h2v1.5h-2zM192.5 411h2v1.5h-2zM204.5 411h4v1.5h-4zM214.5 411h2v1.5h-2zM222.5 411h2v1.5h-2zM228.5 411h2v1.5h-2zM232.5 411h2v1.5h-2zM238.5 411h4v1.5h-4zM38.5 412.5h2v1.5h-2zM46.5 412.5h4v1.5h-4zM52.5 412.5h4v1.5h-4zM72.5 412.5h2v1.5h-2zM76.5 412.5h2v1.5h-2zM82.5 412.5h2v1.5h-2zM140.5 412.5h2v1.5h-2zM146.5 412.5h4v1.5h-4zM192.5 412.5h2v1.5h-2zM200.5 412.5h2v1.5h-2zM220.5 412.5h2v1.5h-2zM242.5 412.5h1v1.5h-1zM56.5 414h4v1.5h-4zM66.5 414h2v1.5h-2zM74.5 414h2v1.5h-2zM82.5 414h2v1.5h-2zM136.5 414h2v1.5h-2zM142.5 414h6v1.5h-6zM156.5 414h4v1.5h-4zM162.5 414h2v1.5h-2zM166.5 414h6v1.5h-6zM176.5 414h2v1.5h-2zM182.5 414h2v1.5h-2zM188.5 414h2v1.5h-2zM194.5 414h2v1.5h-2zM226.5 414h2v1.5h-2zM230.5 414h2v1.5h-2zM242.5 414h1v1.5h-1zM78.5 415.5h2v1.5h-2zM138.5 415.5h2v1.5h-2zM158.5 415.5h10v1.5h-10zM174.5 415.5h2v1.5h-2zM178.5 415.5h2v1.5h-2zM190.5 415.5h2v1.5h-2zM200.5 415.5h2v1.5h-2zM212.5 415.5h2v1.5h-2zM240.5 415.5h2v1.5h-2zM50.5 417h2v1.5h-2zM72.5 417h2v1.5h-2zM82.5 417h2v1.5h-2zM138.5 417h2v1.5h-2zM162.5 417h2v1.5h-2zM168.5 417h2v1.5h-2zM202.5 417h4v1.5h-4zM236.5 417h2v1.5h-2zM38.5 418.5h2v1.5h-2zM66.5 418.5h2v1.5h-2zM70.5 418.5h4v1.5h-4zM138.5 418.5h2v1.5h-2zM160.5 418.5h2v1.5h-2zM164.5 418.5h2v1.5h-2zM168.5 418.5h2v1.5h-2zM174.5 418.5h4v1.5h-4zM180.5 418.5h2v1.5h-2zM184.5 418.5h2v1.5h-2zM202.5 418.5h2v1.5h-2zM206.5 418.5h2v1.5h-2zM220.5 418.5h4v1.5h-4zM230.5 418.5h2v1.5h-2zM238.5 418.5h2v1.5h-2zM38.5 420h6v1.5h-6zM54.5 420h4v1.5h-4zM70.5 420h2v1.5h-2zM76.5 420h6v1.5h-6zM86.5 420h2v1.5h-2zM98.5 420h2v1.5h-2zM138.5 420h2v1.5h-2zM142.5 420h2v1.5h-2zM146.5 420h4v1.5h-4zM158.5 420h2v1.5h-2zM218.5 420h2v1.5h-2zM242.5 420h1v1.5h-1zM58.5 421.5h2v1.5h-2zM70.5 421.5h2v1.5h-2zM78.5 421.5h2v1.5h-2zM82.5 421.5h2v1.5h-2zM148.5 421.5h2v1.5h-2zM158.5 421.5h2v1.5h-2zM166.5 421.5h2v1.5h-2zM172.5 421.5h2v1.5h-2zM184.5 421.5h2v1.5h-2zM210.5 421.5h2v1.5h-2zM216.5 421.5h2v1.5h-2zM228.5 421.5h2v1.5h-2zM234.5 421.5h2v1.5h-2zM40.5 423h4v1.5h-4zM46.5 423h4v1.5h-4zM52.5 423h6v1.5h-6zM64.5 423h4v1.5h-4zM82.5 423h2v1.5h-2zM140.5 423h2v1.5h-2zM158.5 423h2v1.5h-2zM178.5 423h2v1.5h-2zM192.5 423h4v1.5h-4zM200.5 423h4v1.5h-4zM216.5 423h2v1.5h-2zM162.5 424.5h2v1.5h-2zM166.5 424.5h2v1.5h-2zM174.5 424.5h2v1.5h-2zM182.5 424.5h4v1.5h-4zM200.5 424.5h4v1.5h-4zM210.5 424.5h4v1.5h-4zM216.5 424.5h4v1.5h-4zM224.5 424.5h2v1.5h-2zM240.5 424.5h2v1.5h-2zM138.5 426h4v1.5h-4zM146.5 426h2v1.5h-2zM162.5 426h2v1.5h-2zM166.5 426h2v1.5h-2zM178.5 426h2v1.5h-2zM182.5 426h2v1.5h-2zM188.5 426h2v1.5h-2zM196.5 426h2v1.5h-2zM200.5 426h2v1.5h-2zM224.5 426h2v1.5h-2zM236.5 426h6v1.5h-6zM50.5 427.5h2v1.5h-2zM82.5 427.5h2v1.5h-2zM138.5 427.5h4v1.5h-4zM160.5 427.5h2v1.5h-2zM166.5 427.5h6v1.5h-6zM176.5 427.5h2v1.5h-2zM180.5 427.5h2v1.5h-2zM184.5 427.5h2v1.5h-2zM218.5 427.5h4v1.5h-4zM238.5 427.5h2v1.5h-2zM70.5 429h6v1.5h-6zM78.5 429h2v1.5h-2zM82.5 429h2v1.5h-2zM138.5 429h2v1.5h-2zM142.5 429h4v1.5h-4zM148.5 429h2v1.5h-2zM170.5 429h2v1.5h-2zM178.5 429h2v1.5h-2zM190.5 429h2v1.5h-2zM198.5 429h2v1.5h-2zM212.5 429h2v1.5h-2zM240.5 429h2v1.5h-2zM70.5 430.5h6v1.5h-6zM78.5 430.5h2v1.5h-2zM82.5 430.5h2v1.5h-2zM100.5 430.5h2v1.5h-2zM168.5 430.5h2v1.5h-2zM174.5 430.5h2v1.5h-2zM180.5 430.5h2v1.5h-2zM192.5 430.5h2v1.5h-2zM196.5 430.5h2v1.5h-2zM212.5 430.5h2v1.5h-2zM224.5 430.5h2v1.5h-2zM72.5 432h2v1.5h-2zM170.5 432h2v1.5h-2zM190.5 432h4v1.5h-4zM196.5 432h6v1.5h-6zM206.5 432h2v1.5h-2zM214.5 432h2v1.5h-2zM220.5 432h4v1.5h-4zM242.5 432h1v1.5h-1zM158.5 433.5h4v1.5h-4zM166.5 433.5h2v1.5h-2zM170.5 433.5h2v1.5h-2zM174.5 433.5h2v1.5h-2zM178.5 433.5h6v1.5h-6zM186.5 433.5h2v1.5h-2zM190.5 433.5h2v1.5h-2zM194.5 433.5h2v1.5h-2zM202.5 433.5h2v1.5h-2zM214.5 433.5h2v1.5h-2zM226.5 433.5h4v1.5h-4zM44.5 435h2v1.5h-2zM48.5 435h2v1.5h-2zM58.5 435h4v1.5h-4zM64.5 435h6v1.5h-6zM74.5 435h4v1.5h-4zM80.5 435h4v1.5h-4zM90.5 435h6v1.5h-6zM100.5 435h6v1.5h-6zM110.5 435h8v1.5h-8zM122.5 435h2v1.5h-2zM126.5 435h2v1.5h-2zM136.5 435h6v1.5h-6zM146.5 435h4v1.5h-4zM152.5 435h2v1.5h-2zM158.5 435h2v1.5h-2zM170.5 435h2v1.5h-2zM174.5 435h2v1.5h-2zM178.5 435h2v1.5h-2zM182.5 435h2v1.5h-2zM186.5 435h2v1.5h-2zM242.5 435h1v1.5h-1zM188.5 436.5h2v1.5h-2zM198.5 436.5h2v1.5h-2zM202.5 436.5h2v1.5h-2zM228.5 436.5h2v1.5h-2zM240.5 436.5h2v1.5h-2zM82.5 438h2v1.5h-2zM140.5 438h2v1.5h-2zM158.5 438h2v1.5h-2zM162.5 438h2v1.5h-2zM184.5 438h2v1.5h-2zM198.5 438h2v1.5h-2zM204.5 438h2v1.5h-2zM220.5 438h4v1.5h-4zM226.5 438h4v1.5h-4zM238.5 438h4v1.5h-4zM40.5 439.5h2v1.5h-2zM138.5 439.5h2v1.5h-2zM158.5 439.5h2v1.5h-2zM176.5 439.5h2v1.5h-2zM180.5 439.5h2v1.5h-2zM230.5 439.5h2v1.5h-2zM168.5 441h2v1.5h-2zM190.5 441h2v1.5h-2zM196.5 441h4v1.5h-4zM204.5 441h2v1.5h-2zM208.5 441h4v1.5h-4zM220.5 441h2v1.5h-2zM138.5 442.5h2v1.5h-2zM158.5 442.5h2v1.5h-2zM162.5 442.5h2v1.5h-2zM168.5 442.5h2v1.5h-2zM190.5 442.5h2v1.5h-2zM204.5 442.5h2v1.5h-2zM208.5 442.5h2v1.5h-2zM212.5 442.5h2v1.5h-2zM220.5 442.5h2v1.5h-2zM224.5 442.5h2v1.5h-2zM238.5 442.5h2v1.5h-2zM82.5 444h2v1.5h-2zM138.5 444h4v1.5h-4zM164.5 444h4v1.5h-4zM174.5 444h2v1.5h-2zM180.5 444h4v1.5h-4zM230.5 444h2v1.5h-2zM68.5 445.5h2v1.5h-2zM72.5 445.5h2v1.5h-2zM94.5 445.5h2v1.5h-2zM118.5 445.5h2v1.5h-2zM158.5 445.5h2v1.5h-2zM166.5 445.5h2v1.5h-2zM186.5 445.5h2v1.5h-2zM196.5 445.5h2v1.5h-2zM208.5 445.5h4v1.5h-4zM228.5 445.5h2v1.5h-2zM70.5 447h4v1.5h-4zM78.5 447h2v1.5h-2zM82.5 447h2v1.5h-2zM162.5 447h4v1.5h-4zM170.5 447h2v1.5h-2zM180.5 447h6v1.5h-6zM196.5 447h4v1.5h-4zM202.5 447h2v1.5h-2zM216.5 447h2v1.5h-2zM230.5 447h2v1.5h-2zM78.5 448.5h2v1.5h-2zM82.5 448.5h2v1.5h-2zM108.5 448.5h2v1.5h-2zM132.5 448.5h2v1.5h-2zM136.5 448.5h8v1.5h-8zM152.5 448.5h2v1.5h-2zM188.5 448.5h2v1.5h-2zM232.5 448.5h6v1.5h-6zM188.5 450h2v1.5h-2zM100.5 451.5h2v1.5h-2zM106.5 451.5h2v1.5h-2zM110.5 451.5h4v1.5h-4zM120.5 451.5h6v1.5h-6zM90.5 453h4v1.5h-4zM104.5 453h4v1.5h-4zM236.5 453h2v1.5h-2zM90.5 454.5h2v1.5h-2zM102.5 454.5h2v1.5h-2zM108.5 454.5h2v1.5h-2zM118.5 454.5h2v1.5h-2zM122.5 454.5h2v1.5h-2zM160.5 454.5h2v1.5h-2zM176.5 454.5h2v1.5h-2zM226.5 454.5h2v1.5h-2zM230.5 454.5h2v1.5h-2zM234.5 454.5h2v1.5h-2zM242.5 454.5h1v1.5h-1zM92.5 456h2v1.5h-2zM120.5 456h4v1.5h-4zM188.5 456h2v1.5h-2zM88.5 457.5h2v1.5h-2zM100.5 457.5h2v1.5h-2zM106.5 457.5h2v1.5h-2zM122.5 457.5h2v1.5h-2zM138.5 457.5h2v1.5h-2zM72.5 459h2v1.5h-2zM78.5 459h2v1.5h-2zM116.5 459h2v1.5h-2zM126.5 459h2v1.5h-2zM142.5 459h2v1.5h-2zM146.5 459h2v1.5h-2zM186.5 459h12v1.5h-12zM200.5 459h2v1.5h-2zM204.5 459h2v1.5h-2zM210.5 459h2v1.5h-2zM214.5 459h2v1.5h-2zM222.5 459h4v1.5h-4zM228.5 459h2v1.5h-2zM234.5 459h4v1.5h-4zM46.5 460.5h2v1.5h-2zM52.5 460.5h2v1.5h-2zM60.5 460.5h2v1.5h-2zM76.5 460.5h2v1.5h-2zM92.5 460.5h4v1.5h-4zM98.5 460.5h2v1.5h-2zM110.5 460.5h6v1.5h-6zM118.5 460.5h2v1.5h-2zM122.5 460.5h2v1.5h-2zM126.5 460.5h4v1.5h-4zM150.5 460.5h2v1.5h-2zM154.5 460.5h2v1.5h-2zM176.5 460.5h2v1.5h-2zM186.5 460.5h2v1.5h-2zM204.5 460.5h2v1.5h-2zM208.5 460.5h2v1.5h-2zM214.5 460.5h2v1.5h-2zM228.5 460.5h4v1.5h-4zM238.5 460.5h2v1.5h-2zM38.5 462h2v1.5h-2zM52.5 462h2v1.5h-2zM66.5 462h2v1.5h-2zM70.5 462h2v1.5h-2zM78.5 462h2v1.5h-2zM90.5 462h2v1.5h-2zM132.5 462h2v1.5h-2zM150.5 462h2v1.5h-2zM60.5 463.5h4v1.5h-4zM72.5 463.5h2v1.5h-2zM80.5 463.5h2v1.5h-2zM86.5 463.5h2v1.5h-2zM138.5 463.5h4v1.5h-4zM148.5 463.5h2v1.5h-2zM154.5 463.5h2v1.5h-2zM188.5 463.5h2v1.5h-2zM242.5 463.5h1v1.5h-1zM66.5 465h2v1.5h-2zM74.5 465h2v1.5h-2zM78.5 465h2v1.5h-2zM148.5 465h2v1.5h-2zM160.5 465h2v1.5h-2zM164.5 465h4v1.5h-4zM172.5 465h8v1.5h-8zM184.5 465h4v1.5h-4zM190.5 465h2v1.5h-2zM194.5 465h4v1.5h-4zM202.5 465h2v1.5h-2zM210.5 465h4v1.5h-4zM222.5 465h6v1.5h-6zM232.5 465h2v1.5h-2zM236.5 465h2v1.5h-2zM46.5 466.5h2v1.5h-2zM68.5 466.5h2v1.5h-2zM74.5 466.5h2v1.5h-2zM90.5 466.5h2v1.5h-2zM140.5 466.5h2v1.5h-2zM148.5 466.5h2v1.5h-2zM208.5 466.5h2v1.5h-2zM232.5 466.5h2v1.5h-2zM46.5 468h2v1.5h-2zM60.5 468h6v1.5h-6zM76.5 468h2v1.5h-2zM86.5 468h2v1.5h-2zM132.5 468h4v1.5h-4zM140.5 468h2v1.5h-2zM146.5 468h2v1.5h-2zM186.5 468h2v1.5h-2zM38.5 469.5h10v1.5h-10zM78.5 469.5h2v1.5h-2zM88.5 469.5h4v1.5h-4zM94.5 469.5h2v1.5h-2zM102.5 469.5h2v1.5h-2zM110.5 469.5h2v1.5h-2zM160.5 469.5h2v1.5h-2zM164.5 469.5h2v1.5h-2zM168.5 469.5h2v1.5h-2zM172.5 469.5h2v1.5h-2zM180.5 469.5h2v1.5h-2zM186.5 469.5h6v1.5h-6zM194.5 469.5h14v1.5h-14zM210.5 469.5h2v1.5h-2zM216.5 469.5h2v1.5h-2zM220.5 469.5h6v1.5h-6zM232.5 469.5h2v1.5h-2zM236.5 469.5h2v1.5h-2zM242.5 469.5h1v1.5h-1zM42.5 471h2v1.5h-2zM58.5 471h2v1.5h-2zM68.5 471h2v1.5h-2zM76.5 471h2v1.5h-2zM88.5 471h4v1.5h-4zM136.5 471h2v1.5h-2zM38.5 472.5h2v1.5h-2zM44.5 472.5h4v1.5h-4zM56.5 472.5h2v1.5h-2zM64.5 472.5h4v1.5h-4zM90.5 472.5h2v1.5h-2zM134.5 472.5h2v1.5h-2zM176.5 472.5h2v1.5h-2zM188.5 472.5h14v1.5h-14zM208.5 472.5h4v1.5h-4zM214.5 472.5h12v1.5h-12zM64.5 474h2v1.5h-2zM68.5 474h2v1.5h-2zM76.5 474h2v1.5h-2zM122.5 474h2v1.5h-2zM204.5 474h2v1.5h-2zM38.5 475.5h2v1.5h-2zM42.5 475.5h2v1.5h-2zM70.5 475.5h2v1.5h-2zM74.5 475.5h4v1.5h-4zM80.5 475.5h2v1.5h-2zM90.5 475.5h2v1.5h-2zM136.5 475.5h2v1.5h-2zM146.5 475.5h2v1.5h-2zM150.5 475.5h2v1.5h-2zM176.5 475.5h2v1.5h-2zM232.5 475.5h2v1.5h-2zM50.5 477h4v1.5h-4zM68.5 477h2v1.5h-2zM78.5 477h8v1.5h-8zM130.5 477h2v1.5h-2zM148.5 477h2v1.5h-2zM160.5 477h2v1.5h-2zM168.5 477h4v1.5h-4zM174.5 477h6v1.5h-6zM182.5 477h2v1.5h-2zM186.5 477h2v1.5h-2zM192.5 477h2v1.5h-2zM208.5 477h2v1.5h-2zM228.5 477h2v1.5h-2zM238.5 477h4v1.5h-4zM46.5 478.5h2v1.5h-2zM74.5 478.5h2v1.5h-2zM86.5 478.5h2v1.5h-2zM148.5 478.5h2v1.5h-2zM208.5 478.5h2v1.5h-2zM232.5 478.5h2v1.5h-2zM236.5 478.5h2v1.5h-2zM42.5 480h2v1.5h-2zM46.5 480h6v1.5h-6zM54.5 480h2v1.5h-2zM74.5 480h2v1.5h-2zM78.5 480h2v1.5h-2zM88.5 480h2v1.5h-2zM144.5 480h2v1.5h-2zM150.5 480h2v1.5h-2zM208.5 480h2v1.5h-2zM226.5 480h2v1.5h-2zM38.5 481.5h2v1.5h-2zM56.5 481.5h2v1.5h-2zM130.5 481.5h2v1.5h-2zM236.5 481.5h2v1.5h-2zM38.5 483h2v1.5h-2zM46.5 483h2v1.5h-2zM50.5 483h4v1.5h-4zM58.5 483h2v1.5h-2zM66.5 483h2v1.5h-2zM70.5 483h2v1.5h-2zM78.5 483h8v1.5h-8zM150.5 483h2v1.5h-2zM154.5 483h2v1.5h-2zM232.5 483h2v1.5h-2zM242.5 483h1v1.5h-1zM72.5 484.5h2v1.5h-2zM140.5 484.5h2v1.5h-2zM152.5 484.5h2v1.5h-2zM40.5 486h2v1.5h-2zM44.5 486h2v1.5h-2zM48.5 486h14v1.5h-14zM64.5 486h6v1.5h-6zM74.5 486h2v1.5h-2zM80.5 486h2v1.5h-2zM84.5 486h8v1.5h-8zM94.5 486h4v1.5h-4zM100.5 486h2v1.5h-2zM104.5 486h8v1.5h-8zM116.5 486h6v1.5h-6zM124.5 486h8v1.5h-8zM134.5 486h4v1.5h-4zM142.5 486h4v1.5h-4zM148.5 486h10v1.5h-10zM160.5 486h2v1.5h-2zM164.5 486h2v1.5h-2zM168.5 486h12v1.5h-12zM190.5 486h2v1.5h-2zM194.5 486h2v1.5h-2zM204.5 486h2v1.5h-2zM208.5 486h2v1.5h-2zM218.5 486h2v1.5h-2zM222.5 486h2v1.5h-2zM226.5 486h4v1.5h-4zM232.5 486h6v1.5h-6zM240.5 486h3v1.5h-3zM176.5 487.5h4v1.5h-4zM190.5 487.5h2v1.5h-2zM194.5 487.5h2v1.5h-2zM210.5 487.5h2v1.5h-2zM216.5 487.5h2v1.5h-2zM220.5 487.5h4v1.5h-4zM226.5 487.5h10v1.5h-10zM176.5 489h2v1.5h-2zM188.5 489h2v1.5h-2zM200.5 489h2v1.5h-2zM204.5 489h2v1.5h-2zM214.5 489h4v1.5h-4zM220.5 489h8v1.5h-8zM230.5 489h8v1.5h-8zM42.5 490.5h2v1.5h-2zM66.5 490.5h2v1.5h-2zM72.5 490.5h2v1.5h-2zM158.5 490.5h6v1.5h-6zM166.5 490.5h2v1.5h-2zM172.5 490.5h2v1.5h-2zM180.5 490.5h2v1.5h-2zM190.5 490.5h2v1.5h-2zM194.5 490.5h4v1.5h-4zM200.5 490.5h2v1.5h-2zM204.5 490.5h2v1.5h-2zM208.5 490.5h2v1.5h-2zM212.5 490.5h2v1.5h-2zM216.5 490.5h4v1.5h-4zM228.5 490.5h2v1.5h-2zM166.5 492h2v1.5h-2zM170.5 492h4v1.5h-4zM176.5 492h2v1.5h-2zM180.5 492h2v1.5h-2zM188.5 492h2v1.5h-2zM192.5 492h2v1.5h-2zM198.5 492h10v1.5h-10zM210.5 492h2v1.5h-2zM216.5 492h6v1.5h-6zM224.5 492h8v1.5h-8zM240.5 492h2v1.5h-2zM158.5 493.5h4v1.5h-4zM168.5 493.5h4v1.5h-4zM174.5 493.5h2v1.5h-2zM178.5 493.5h6v1.5h-6zM196.5 493.5h4v1.5h-4zM204.5 493.5h2v1.5h-2zM218.5 493.5h2v1.5h-2zM222.5 493.5h2v1.5h-2zM226.5 493.5h6v1.5h-6zM240.5 493.5h2v1.5h-2zM158.5 495h2v1.5h-2zM162.5 495h2v1.5h-2zM174.5 495h8v1.5h-8zM186.5 495h4v1.5h-4zM192.5 495h2v1.5h-2zM198.5 495h2v1.5h-2zM202.5 495h2v1.5h-2zM216.5 495h8v1.5h-8zM226.5 495h2v1.5h-2zM230.5 495h4v1.5h-4zM238.5 495h2v1.5h-2zM160.5 496.5h4v1.5h-4zM168.5 496.5h2v1.5h-2zM172.5 496.5h6v1.5h-6zM182.5 496.5h2v1.5h-2zM186.5 496.5h4v1.5h-4zM194.5 496.5h2v1.5h-2zM202.5 496.5h2v1.5h-2zM212.5 496.5h4v1.5h-4zM220.5 496.5h2v1.5h-2zM226.5 496.5h2v1.5h-2zM230.5 496.5h6v1.5h-6zM168.5 498h2v1.5h-2zM174.5 498h2v1.5h-2zM182.5 498h2v1.5h-2zM188.5 498h6v1.5h-6zM198.5 498h8v1.5h-8zM210.5 498h2v1.5h-2zM214.5 498h4v1.5h-4zM226.5 498h2v1.5h-2zM230.5 498h4v1.5h-4zM236.5 498h2v1.5h-2zM160.5 499.5h4v1.5h-4zM174.5 499.5h2v1.5h-2zM178.5 499.5h2v1.5h-2zM184.5 499.5h8v1.5h-8zM194.5 499.5h4v1.5h-4zM214.5 499.5h2v1.5h-2zM220.5 499.5h6v1.5h-6zM160.5 501h4v1.5h-4zM168.5 501h4v1.5h-4zM180.5 501h4v1.5h-4zM188.5 501h6v1.5h-6zM196.5 501h2v1.5h-2zM200.5 501h4v1.5h-4zM210.5 501h6v1.5h-6zM222.5 501h4v1.5h-4zM230.5 501h2v1.5h-2zM234.5 501h4v1.5h-4zM160.5 502.5h2v1.5h-2zM166.5 502.5h2v1.5h-2zM172.5 502.5h2v1.5h-2zM176.5 502.5h8v1.5h-8zM196.5 502.5h2v1.5h-2zM210.5 502.5h6v1.5h-6zM222.5 502.5h10v1.5h-10zM234.5 502.5h2v1.5h-2zM160.5 504h4v1h-4zM166.5 504h2v1h-2zM170.5 504h2v1h-2zM178.5 504h2v1h-2zM184.5 504h2v1h-2zM228.5 504h2v1h-2zM240.5 504h2v1h-2z" fill="#f5e7e7"/>
<path d="M56.5 357h4v1.5h-4zM144.5 357h2v1.5h-2zM64.5 358.5h2v1.5h-2zM72.5 360h2v1.5h-2zM140.5 363h2v1.5h-2zM146.5 363h2v1.5h-2zM80.5 364.5h2v1.5h-2zM164.5 364.5h2v1.5h-2zM44.5 366h2v1.5h-2zM60.5 366h2v1.5h-2zM186.5 366h2v1.5h-2zM168.5 367.5h2v1.5h-2zM186.5 369h2v1.5h-2zM228.5 372h2v1.5h-2zM180.5 375h2v1.5h-2zM44.5 376.5h2v1.5h-2zM42.5 379.5h2v1.5h-2zM70.5 379.5h2v1.5h-2zM82.5 379.5h2v1.5h-2zM62.5 381h2v1.5h-2zM192.5 381h2v1.5h-2zM216.5 381h2v1.5h-2zM72.5 382.5h2v1.5h-2zM198.5 382.5h2v1.5h-2zM156.5 384h2v1.5h-2zM50.5 385.5h2v1.5h-2zM82.5 385.5h2v1.5h-2zM86.5 385.5h2v1.5h-2zM42.5 387h2v1.5h-2zM158.5 387h2v1.5h-2zM224.5 387h2v1.5h-2zM158.5 388.5h2v1.5h-2zM80.5 390h2v1.5h-2zM118.5 390h2v1.5h-2zM138.5 391.5h2v1.5h-2zM146.5 391.5h2v1.5h-2zM196.5 391.5h2v1.5h-2zM164.5 393h2v1.5h-2zM76.5 394.5h2v1.5h-2zM48.5 396h2v1.5h-2zM82.5 397.5h2v1.5h-2zM142.5 399h2v1.5h-2zM204.5 399h2v1.5h-2zM80.5 402h2v1.5h-2zM96.5 402h2v1.5h-2zM242.5 402h1v1.5h-1zM242.5 403.5h1v1.5h-1zM180.5 405h2v1.5h-2zM72.5 406.5h2v1.5h-2zM138.5 406.5h4v1.5h-4zM58.5 411h2v1.5h-2zM212.5 412.5h2v1.5h-2zM224.5 412.5h2v1.5h-2zM50.5 414h2v1.5h-2zM38.5 417h2v1.5h-2zM78.5 418.5h2v1.5h-2zM82.5 418.5h2v1.5h-2zM144.5 418.5h2v1.5h-2zM48.5 420h2v1.5h-2zM52.5 420h2v1.5h-2zM72.5 421.5h2v1.5h-2zM72.5 424.5h2v1.5h-2zM160.5 426h2v1.5h-2zM192.5 426h2v1.5h-2zM198.5 426h2v1.5h-2zM64.5 429h2v1.5h-2zM92.5 430.5h2v1.5h-2zM210.5 430.5h2v1.5h-2zM230.5 430.5h2v1.5h-2zM224.5 432h2v1.5h-2zM212.5 433.5h2v1.5h-2zM86.5 435h2v1.5h-2zM96.5 435h2v1.5h-2zM130.5 435h4v1.5h-4zM160.5 438h2v1.5h-2zM190.5 438h2v1.5h-2zM216.5 439.5h2v1.5h-2zM134.5 444h2v1.5h-2zM82.5 445.5h2v1.5h-2zM98.5 445.5h2v1.5h-2zM88.5 447h2v1.5h-2zM138.5 447h2v1.5h-2zM186.5 456h2v1.5h-2zM194.5 457.5h2v1.5h-2zM70.5 459h2v1.5h-2zM212.5 459h2v1.5h-2zM242.5 459h1v1.5h-1zM64.5 463.5h2v1.5h-2zM216.5 465h2v1.5h-2zM112.5 469.5h2v1.5h-2zM184.5 469.5h2v1.5h-2zM48.5 471h2v1.5h-2zM46.5 477h2v1.5h-2zM102.5 478.5h2v1.5h-2zM120.5 478.5h2v1.5h-2zM156.5 478.5h2v1.5h-2zM226.5 478.5h2v1.5h-2zM142.5 483h2v1.5h-2zM132.5 486h2v1.5h-2zM162.5 486h2v1.5h-2zM214.5 486h2v1.5h-2zM238.5 486h2v1.5h-2zM196.5 487.5h4v1.5h-4zM204.5 487.5h2v1.5h-2zM238.5 487.5h2v1.5h-2zM210.5 489h2v1.5h-2zM160.5 492h2v1.5h-2zM172.5 495h2v1.5h-2zM182.5 495h2v1.5h-2zM206.5 501h2v1.5h-2z" fill="#f5f5e7"/>
<path d="M100.5 357h2v1.5h-2zM130.5 357h2v1.5h-2zM182.5 357h2v1.5h-2zM100.5 358.5h2v1.5h-2zM44.5 360h6v1.5h-6zM52.5 360h2v1.5h-2zM56.5 360h2v1.5h-2zM66.5 360h2v1.5h-2zM90.5 360h4v1.5h-4zM104.5 360h8v1.5h-8zM130.5 360h6v1.5h-6zM142.5 360h2v1.5h-2zM162.5 360h2v1.5h-2zM184.5 360h4v1.5h-4zM240.5 360h2v1.5h-2zM56.5 361.5h4v1.5h-4zM150.5 361.5h4v1.5h-4zM156.5 361.5h2v1.5h-2zM222.5 361.5h2v1.5h-2zM46.5 363h2v1.5h-2zM92.5 363h4v1.5h-4zM114.5 363h2v1.5h-2zM128.5 363h2v1.5h-2zM132.5 363h2v1.5h-2zM174.5 363h2v1.5h-2zM88.5 364.5h2v1.5h-2zM92.5 364.5h2v1.5h-2zM96.5 364.5h2v1.5h-2zM114.5 364.5h2v1.5h-2zM118.5 364.5h2v1.5h-2zM122.5 364.5h2v1.5h-2zM128.5 364.5h4v1.5h-4zM88.5 366h2v1.5h-2zM98.5 366h2v1.5h-2zM126.5 366h2v1.5h-2zM38.5 367.5h8v1.5h-8zM58.5 367.5h2v1.5h-2zM76.5 367.5h2v1.5h-2zM88.5 367.5h4v1.5h-4zM98.5 367.5h2v1.5h-2zM102.5 367.5h6v1.5h-6zM112.5 367.5h4v1.5h-4zM128.5 367.5h2v1.5h-2zM138.5 367.5h2v1.5h-2zM172.5 367.5h2v1.5h-2zM242.5 367.5h1v1.5h-1zM40.5 369h2v1.5h-2zM58.5 369h2v1.5h-2zM80.5 369h2v1.5h-2zM84.5 369h2v1.5h-2zM94.5 369h2v1.5h-2zM98.5 369h2v1.5h-2zM110.5 369h2v1.5h-2zM116.5 369h6v1.5h-6zM126.5 369h2v1.5h-2zM130.5 369h2v1.5h-2zM134.5 369h4v1.5h-4zM154.5 369h2v1.5h-2zM166.5 369h2v1.5h-2zM182.5 369h2v1.5h-2zM50.5 370.5h4v1.5h-4zM66.5 370.5h2v1.5h-2zM88.5 370.5h4v1.5h-4zM96.5 370.5h4v1.5h-4zM104.5 370.5h4v1.5h-4zM110.5 370.5h2v1.5h-2zM114.5 370.5h2v1.5h-2zM118.5 370.5h2v1.5h-2zM154.5 370.5h2v1.5h-2zM68.5 372h2v1.5h-2zM84.5 372h2v1.5h-2zM136.5 372h2v1.5h-2zM152.5 372h2v1.5h-2zM156.5 372h2v1.5h-2zM38.5 373.5h4v1.5h-4zM50.5 373.5h6v1.5h-6zM62.5 373.5h2v1.5h-2zM80.5 373.5h2v1.5h-2zM102.5 373.5h2v1.5h-2zM110.5 373.5h2v1.5h-2zM132.5 373.5h2v1.5h-2zM144.5 373.5h2v1.5h-2zM152.5 373.5h2v1.5h-2zM46.5 375h2v1.5h-2zM60.5 375h4v1.5h-4zM86.5 375h6v1.5h-6zM96.5 375h2v1.5h-2zM100.5 375h2v1.5h-2zM104.5 375h2v1.5h-2zM114.5 375h4v1.5h-4zM120.5 375h10v1.5h-10zM150.5 375h2v1.5h-2zM48.5 376.5h2v1.5h-2zM62.5 376.5h2v1.5h-2zM88.5 376.5h2v1.5h-2zM102.5 376.5h2v1.5h-2zM116.5 376.5h2v1.5h-2zM122.5 376.5h2v1.5h-2zM126.5 376.5h4v1.5h-4zM162.5 378h2v1.5h-2zM50.5 379.5h2v1.5h-2zM92.5 379.5h2v1.5h-2zM154.5 379.5h2v1.5h-2zM40.5 381h2v1.5h-2zM56.5 381h2v1.5h-2zM92.5 381h2v1.5h-2zM96.5 381h4v1.5h-4zM102.5 381h2v1.5h-2zM108.5 381h2v1.5h-2zM112.5 381h4v1.5h-4zM122.5 381h2v1.5h-2zM126.5 381h2v1.5h-2zM130.5 381h2v1.5h-2zM98.5 382.5h2v1.5h-2zM100.5 385.5h2v1.5h-2zM154.5 385.5h2v1.5h-2zM88.5 387h2v1.5h-2zM150.5 387h2v1.5h-2zM160.5 387h2v1.5h-2zM60.5 388.5h2v1.5h-2zM66.5 388.5h2v1.5h-2zM80.5 388.5h2v1.5h-2zM86.5 388.5h2v1.5h-2zM92.5 388.5h2v1.5h-2zM96.5 388.5h4v1.5h-4zM102.5 388.5h2v1.5h-2zM110.5 388.5h4v1.5h-4zM118.5 388.5h2v1.5h-2zM134.5 388.5h2v1.5h-2zM152.5 388.5h2v1.5h-2zM202.5 388.5h4v1.5h-4zM42.5 390h6v1.5h-6zM52.5 390h2v1.5h-2zM94.5 390h2v1.5h-2zM100.5 390h2v1.5h-2zM130.5 390h2v1.5h-2zM136.5 390h2v1.5h-2zM150.5 390h2v1.5h-2zM50.5 391.5h2v1.5h-2zM68.5 391.5h2v1.5h-2zM84.5 391.5h2v1.5h-2zM90.5 391.5h2v1.5h-2zM94.5 391.5h4v1.5h-4zM102.5 391.5h2v1.5h-2zM106.5 391.5h2v1.5h-2zM122.5 391.5h2v1.5h-2zM128.5 391.5h4v1.5h-4zM134.5 391.5h2v1.5h-2zM150.5 391.5h4v1.5h-4zM204.5 391.5h2v1.5h-2zM44.5 393h2v1.5h-2zM62.5 393h2v1.5h-2zM86.5 393h2v1.5h-2zM90.5 393h2v1.5h-2zM94.5 393h2v1.5h-2zM102.5 393h2v1.5h-2zM106.5 393h2v1.5h-2zM116.5 393h2v1.5h-2zM122.5 393h2v1.5h-2zM132.5 393h6v1.5h-6zM150.5 393h2v1.5h-2zM90.5 394.5h2v1.5h-2zM94.5 394.5h2v1.5h-2zM102.5 394.5h2v1.5h-2zM106.5 394.5h4v1.5h-4zM114.5 394.5h6v1.5h-6zM122.5 394.5h2v1.5h-2zM128.5 394.5h2v1.5h-2zM134.5 394.5h2v1.5h-2zM156.5 394.5h2v1.5h-2zM90.5 396h4v1.5h-4zM108.5 396h2v1.5h-2zM112.5 396h2v1.5h-2zM118.5 396h2v1.5h-2zM132.5 396h2v1.5h-2zM150.5 396h2v1.5h-2zM154.5 396h4v1.5h-4zM228.5 396h2v1.5h-2zM60.5 397.5h2v1.5h-2zM80.5 397.5h2v1.5h-2zM84.5 397.5h2v1.5h-2zM90.5 397.5h6v1.5h-6zM102.5 397.5h4v1.5h-4zM110.5 397.5h6v1.5h-6zM118.5 397.5h6v1.5h-6zM128.5 397.5h4v1.5h-4zM152.5 397.5h2v1.5h-2zM42.5 399h2v1.5h-2zM54.5 399h2v1.5h-2zM98.5 399h6v1.5h-6zM106.5 399h2v1.5h-2zM110.5 399h4v1.5h-4zM128.5 400.5h2v1.5h-2zM154.5 400.5h2v1.5h-2zM54.5 405h2v1.5h-2zM58.5 405h2v1.5h-2zM86.5 405h2v1.5h-2zM90.5 405h2v1.5h-2zM94.5 405h4v1.5h-4zM102.5 405h2v1.5h-2zM108.5 405h6v1.5h-6zM124.5 405h8v1.5h-8zM134.5 405h2v1.5h-2zM152.5 405h4v1.5h-4zM164.5 405h2v1.5h-2zM44.5 406.5h2v1.5h-2zM92.5 406.5h2v1.5h-2zM112.5 406.5h2v1.5h-2zM136.5 406.5h2v1.5h-2zM150.5 406.5h4v1.5h-4zM156.5 406.5h4v1.5h-4zM46.5 408h2v1.5h-2zM52.5 408h2v1.5h-2zM98.5 408h2v1.5h-2zM114.5 408h2v1.5h-2zM118.5 408h2v1.5h-2zM122.5 408h4v1.5h-4zM128.5 408h2v1.5h-2zM136.5 408h2v1.5h-2zM152.5 408h4v1.5h-4zM100.5 411h2v1.5h-2zM120.5 411h2v1.5h-2zM130.5 411h2v1.5h-2zM152.5 411h2v1.5h-2zM242.5 411h1v1.5h-1zM60.5 412.5h2v1.5h-2zM100.5 412.5h2v1.5h-2zM106.5 412.5h2v1.5h-2zM116.5 412.5h2v1.5h-2zM120.5 412.5h2v1.5h-2zM130.5 412.5h2v1.5h-2zM54.5 414h2v1.5h-2zM100.5 414h2v1.5h-2zM80.5 415.5h2v1.5h-2zM92.5 415.5h2v1.5h-2zM104.5 415.5h4v1.5h-4zM112.5 415.5h2v1.5h-2zM118.5 415.5h2v1.5h-2zM128.5 415.5h2v1.5h-2zM132.5 417h2v1.5h-2zM154.5 417h2v1.5h-2zM110.5 418.5h4v1.5h-4zM132.5 418.5h2v1.5h-2zM154.5 418.5h2v1.5h-2zM242.5 418.5h1v1.5h-1zM132.5 420h2v1.5h-2zM46.5 421.5h4v1.5h-4zM100.5 421.5h2v1.5h-2zM130.5 421.5h2v1.5h-2zM152.5 421.5h2v1.5h-2zM60.5 423h2v1.5h-2zM126.5 423h2v1.5h-2zM134.5 423h4v1.5h-4zM150.5 423h4v1.5h-4zM46.5 424.5h2v1.5h-2zM52.5 424.5h2v1.5h-2zM60.5 424.5h2v1.5h-2zM64.5 424.5h2v1.5h-2zM134.5 424.5h2v1.5h-2zM150.5 424.5h2v1.5h-2zM38.5 426h2v1.5h-2zM58.5 426h4v1.5h-4zM66.5 426h6v1.5h-6zM94.5 426h2v1.5h-2zM108.5 426h6v1.5h-6zM118.5 426h2v1.5h-2zM128.5 426h8v1.5h-8zM46.5 427.5h2v1.5h-2zM54.5 427.5h2v1.5h-2zM58.5 427.5h6v1.5h-6zM74.5 427.5h4v1.5h-4zM132.5 427.5h4v1.5h-4zM40.5 429h4v1.5h-4zM46.5 429h2v1.5h-2zM54.5 429h2v1.5h-2zM62.5 429h2v1.5h-2zM90.5 429h2v1.5h-2zM98.5 429h2v1.5h-2zM112.5 429h2v1.5h-2zM120.5 429h2v1.5h-2zM238.5 429h2v1.5h-2zM242.5 430.5h1v1.5h-1zM86.5 432h2v1.5h-2zM100.5 432h2v1.5h-2zM116.5 432h2v1.5h-2zM132.5 432h2v1.5h-2zM136.5 432h2v1.5h-2zM174.5 432h2v1.5h-2zM182.5 432h2v1.5h-2zM38.5 433.5h2v1.5h-2zM42.5 433.5h4v1.5h-4zM50.5 433.5h2v1.5h-2zM56.5 433.5h2v1.5h-2zM62.5 433.5h4v1.5h-4zM84.5 433.5h2v1.5h-2zM88.5 433.5h4v1.5h-4zM114.5 433.5h2v1.5h-2zM120.5 433.5h2v1.5h-2zM130.5 433.5h2v1.5h-2zM144.5 433.5h2v1.5h-2zM150.5 433.5h2v1.5h-2zM156.5 433.5h2v1.5h-2zM198.5 433.5h2v1.5h-2zM242.5 433.5h1v1.5h-1zM38.5 436.5h4v1.5h-4zM64.5 436.5h4v1.5h-4zM72.5 436.5h2v1.5h-2zM76.5 436.5h2v1.5h-2zM90.5 436.5h2v1.5h-2zM98.5 436.5h2v1.5h-2zM108.5 436.5h2v1.5h-2zM114.5 436.5h2v1.5h-2zM118.5 436.5h2v1.5h-2zM130.5 436.5h2v1.5h-2zM140.5 436.5h6v1.5h-6zM150.5 436.5h2v1.5h-2zM154.5 436.5h2v1.5h-2zM172.5 436.5h2v1.5h-2zM242.5 436.5h1v1.5h-1zM38.5 438h2v1.5h-2zM42.5 438h6v1.5h-6zM56.5 438h2v1.5h-2zM88.5 438h4v1.5h-4zM100.5 438h2v1.5h-2zM106.5 438h2v1.5h-2zM114.5 438h2v1.5h-2zM120.5 438h2v1.5h-2zM242.5 438h1v1.5h-1zM64.5 439.5h2v1.5h-2zM100.5 439.5h2v1.5h-2zM106.5 439.5h2v1.5h-2zM116.5 439.5h2v1.5h-2zM150.5 439.5h2v1.5h-2zM162.5 439.5h2v1.5h-2zM172.5 439.5h2v1.5h-2zM220.5 439.5h2v1.5h-2zM38.5 441h2v1.5h-2zM46.5 441h6v1.5h-6zM54.5 441h2v1.5h-2zM58.5 441h2v1.5h-2zM64.5 441h2v1.5h-2zM74.5 441h2v1.5h-2zM80.5 441h2v1.5h-2zM86.5 441h6v1.5h-6zM96.5 441h2v1.5h-2zM106.5 441h2v1.5h-2zM110.5 441h2v1.5h-2zM122.5 441h2v1.5h-2zM140.5 441h2v1.5h-2zM146.5 441h2v1.5h-2zM152.5 441h2v1.5h-2zM156.5 441h2v1.5h-2zM242.5 441h1v1.5h-1zM52.5 442.5h2v1.5h-2zM56.5 442.5h2v1.5h-2zM60.5 442.5h2v1.5h-2zM80.5 442.5h2v1.5h-2zM90.5 442.5h2v1.5h-2zM100.5 442.5h2v1.5h-2zM104.5 442.5h4v1.5h-4zM116.5 442.5h2v1.5h-2zM128.5 442.5h4v1.5h-4zM192.5 442.5h2v1.5h-2zM218.5 442.5h2v1.5h-2zM38.5 444h2v1.5h-2zM60.5 444h6v1.5h-6zM80.5 444h2v1.5h-2zM84.5 444h6v1.5h-6zM106.5 444h2v1.5h-2zM114.5 444h2v1.5h-2zM120.5 444h2v1.5h-2zM124.5 444h2v1.5h-2zM128.5 444h2v1.5h-2zM242.5 444h1v1.5h-1zM38.5 445.5h2v1.5h-2zM52.5 445.5h6v1.5h-6zM160.5 445.5h2v1.5h-2zM178.5 445.5h2v1.5h-2zM220.5 445.5h2v1.5h-2zM38.5 447h2v1.5h-2zM84.5 448.5h2v1.5h-2zM158.5 448.5h2v1.5h-2zM164.5 448.5h2v1.5h-2zM184.5 448.5h2v1.5h-2zM200.5 448.5h4v1.5h-4zM206.5 448.5h2v1.5h-2zM212.5 448.5h2v1.5h-2zM216.5 448.5h4v1.5h-4zM46.5 450h2v1.5h-2zM50.5 450h2v1.5h-2zM56.5 450h2v1.5h-2zM60.5 450h2v1.5h-2zM96.5 450h2v1.5h-2zM120.5 450h2v1.5h-2zM142.5 450h4v1.5h-4zM158.5 450h2v1.5h-2zM162.5 450h2v1.5h-2zM170.5 450h2v1.5h-2zM182.5 450h2v1.5h-2zM198.5 450h2v1.5h-2zM202.5 450h2v1.5h-2zM216.5 450h2v1.5h-2zM240.5 450h2v1.5h-2zM60.5 451.5h2v1.5h-2zM64.5 451.5h2v1.5h-2zM70.5 451.5h4v1.5h-4zM78.5 451.5h2v1.5h-2zM134.5 451.5h2v1.5h-2zM148.5 451.5h2v1.5h-2zM176.5 451.5h4v1.5h-4zM190.5 451.5h4v1.5h-4zM206.5 451.5h2v1.5h-2zM212.5 451.5h4v1.5h-4zM218.5 451.5h6v1.5h-6zM230.5 451.5h2v1.5h-2zM236.5 451.5h2v1.5h-2zM66.5 453h4v1.5h-4zM74.5 453h2v1.5h-2zM86.5 453h2v1.5h-2zM128.5 453h2v1.5h-2zM154.5 453h4v1.5h-4zM166.5 453h6v1.5h-6zM174.5 453h2v1.5h-2zM228.5 453h4v1.5h-4zM234.5 453h2v1.5h-2zM238.5 453h2v1.5h-2zM58.5 454.5h2v1.5h-2zM64.5 454.5h2v1.5h-2zM70.5 454.5h2v1.5h-2zM80.5 454.5h2v1.5h-2zM126.5 454.5h4v1.5h-4zM158.5 454.5h2v1.5h-2zM184.5 454.5h2v1.5h-2zM190.5 454.5h2v1.5h-2zM194.5 454.5h2v1.5h-2zM206.5 454.5h2v1.5h-2zM212.5 454.5h2v1.5h-2zM216.5 454.5h2v1.5h-2zM222.5 454.5h2v1.5h-2zM40.5 456h4v1.5h-4zM52.5 456h4v1.5h-4zM134.5 456h4v1.5h-4zM160.5 456h2v1.5h-2zM172.5 456h4v1.5h-4zM182.5 456h2v1.5h-2zM190.5 456h4v1.5h-4zM200.5 456h2v1.5h-2zM204.5 456h2v1.5h-2zM210.5 456h2v1.5h-2zM218.5 456h10v1.5h-10zM230.5 456h2v1.5h-2zM234.5 456h2v1.5h-2zM238.5 456h2v1.5h-2zM38.5 457.5h2v1.5h-2zM58.5 457.5h2v1.5h-2zM64.5 457.5h4v1.5h-4zM128.5 457.5h2v1.5h-2zM132.5 457.5h2v1.5h-2zM216.5 457.5h2v1.5h-2zM230.5 457.5h2v1.5h-2zM238.5 457.5h5v1.5h-5zM152.5 459h2v1.5h-2zM62.5 462h2v1.5h-2zM104.5 462h2v1.5h-2zM108.5 462h4v1.5h-4zM120.5 462h2v1.5h-2zM166.5 462h4v1.5h-4zM172.5 462h2v1.5h-2zM176.5 462h2v1.5h-2zM182.5 462h2v1.5h-2zM192.5 462h2v1.5h-2zM196.5 462h2v1.5h-2zM202.5 462h4v1.5h-4zM216.5 462h4v1.5h-4zM222.5 462h2v1.5h-2zM228.5 462h4v1.5h-4zM238.5 462h2v1.5h-2zM184.5 463.5h2v1.5h-2zM196.5 463.5h6v1.5h-6zM206.5 463.5h2v1.5h-2zM212.5 463.5h2v1.5h-2zM216.5 463.5h2v1.5h-2zM228.5 463.5h2v1.5h-2zM240.5 463.5h2v1.5h-2zM92.5 465h2v1.5h-2zM102.5 465h4v1.5h-4zM108.5 465h2v1.5h-2zM116.5 465h2v1.5h-2zM126.5 465h4v1.5h-4zM238.5 465h4v1.5h-4zM86.5 466.5h2v1.5h-2zM106.5 466.5h2v1.5h-2zM174.5 466.5h2v1.5h-2zM184.5 466.5h2v1.5h-2zM200.5 466.5h2v1.5h-2zM216.5 466.5h2v1.5h-2zM230.5 466.5h2v1.5h-2zM66.5 468h2v1.5h-2zM92.5 468h6v1.5h-6zM100.5 468h6v1.5h-6zM120.5 468h2v1.5h-2zM164.5 468h2v1.5h-2zM202.5 468h4v1.5h-4zM212.5 468h2v1.5h-2zM216.5 468h2v1.5h-2zM224.5 468h2v1.5h-2zM240.5 468h2v1.5h-2zM62.5 471h2v1.5h-2zM104.5 471h2v1.5h-2zM128.5 471h2v1.5h-2zM164.5 471h4v1.5h-4zM182.5 471h2v1.5h-2zM190.5 471h4v1.5h-4zM228.5 471h4v1.5h-4zM238.5 471h2v1.5h-2zM230.5 472.5h2v1.5h-2zM120.5 474h2v1.5h-2zM158.5 474h2v1.5h-2zM164.5 474h4v1.5h-4zM170.5 474h2v1.5h-2zM182.5 474h2v1.5h-2zM198.5 474h2v1.5h-2zM202.5 474h2v1.5h-2zM206.5 474h2v1.5h-2zM216.5 474h2v1.5h-2zM228.5 474h2v1.5h-2zM234.5 474h2v1.5h-2zM240.5 474h2v1.5h-2zM100.5 475.5h2v1.5h-2zM106.5 475.5h2v1.5h-2zM116.5 475.5h2v1.5h-2zM122.5 475.5h2v1.5h-2zM162.5 475.5h2v1.5h-2zM180.5 475.5h4v1.5h-4zM202.5 475.5h2v1.5h-2zM206.5 475.5h2v1.5h-2zM242.5 475.5h1v1.5h-1zM116.5 477h2v1.5h-2zM38.5 478.5h2v1.5h-2zM166.5 478.5h2v1.5h-2zM170.5 478.5h2v1.5h-2zM174.5 478.5h2v1.5h-2zM180.5 478.5h4v1.5h-4zM60.5 480h2v1.5h-2zM94.5 480h2v1.5h-2zM104.5 480h4v1.5h-4zM120.5 480h2v1.5h-2zM164.5 480h2v1.5h-2zM174.5 480h2v1.5h-2zM198.5 480h2v1.5h-2zM202.5 480h2v1.5h-2zM224.5 480h2v1.5h-2zM228.5 480h2v1.5h-2zM100.5 481.5h2v1.5h-2zM104.5 481.5h2v1.5h-2zM124.5 481.5h2v1.5h-2zM158.5 481.5h2v1.5h-2zM162.5 481.5h2v1.5h-2zM172.5 481.5h2v1.5h-2zM190.5 481.5h8v1.5h-8zM200.5 481.5h2v1.5h-2zM212.5 481.5h2v1.5h-2zM222.5 481.5h2v1.5h-2zM96.5 483h2v1.5h-2zM104.5 483h2v1.5h-2zM128.5 483h2v1.5h-2zM174.5 483h2v1.5h-2zM182.5 483h4v1.5h-4zM190.5 483h2v1.5h-2zM220.5 483h6v1.5h-6zM38.5 484.5h2v1.5h-2zM44.5 484.5h4v1.5h-4zM50.5 484.5h2v1.5h-2zM60.5 484.5h2v1.5h-2zM64.5 484.5h4v1.5h-4zM84.5 484.5h2v1.5h-2zM88.5 484.5h2v1.5h-2zM94.5 484.5h4v1.5h-4zM100.5 484.5h2v1.5h-2zM104.5 484.5h2v1.5h-2zM108.5 484.5h2v1.5h-2zM112.5 484.5h2v1.5h-2zM122.5 484.5h4v1.5h-4zM128.5 484.5h2v1.5h-2zM160.5 484.5h2v1.5h-2zM168.5 484.5h2v1.5h-2zM184.5 484.5h2v1.5h-2zM214.5 484.5h2v1.5h-2zM230.5 484.5h2v1.5h-2zM82.5 487.5h2v1.5h-2zM138.5 487.5h2v1.5h-2zM158.5 487.5h2v1.5h-2zM172.5 489h2v1.5h-2zM80.5 490.5h2v1.5h-2zM96.5 490.5h2v1.5h-2zM104.5 490.5h4v1.5h-4zM124.5 490.5h2v1.5h-2zM144.5 490.5h2v1.5h-2zM154.5 490.5h4v1.5h-4zM42.5 492h2v1.5h-2zM60.5 492h2v1.5h-2zM64.5 492h2v1.5h-2zM68.5 492h2v1.5h-2zM76.5 492h2v1.5h-2zM80.5 492h2v1.5h-2zM86.5 492h10v1.5h-10zM98.5 492h4v1.5h-4zM108.5 492h2v1.5h-2zM120.5 492h4v1.5h-4zM128.5 492h4v1.5h-4zM134.5 492h2v1.5h-2zM138.5 492h2v1.5h-2zM142.5 492h2v1.5h-2zM146.5 492h2v1.5h-2zM150.5 492h4v1.5h-4zM156.5 492h2v1.5h-2zM58.5 493.5h2v1.5h-2zM62.5 493.5h4v1.5h-4zM70.5 493.5h2v1.5h-2zM76.5 493.5h4v1.5h-4zM84.5 493.5h4v1.5h-4zM90.5 493.5h4v1.5h-4zM104.5 493.5h2v1.5h-2zM108.5 493.5h2v1.5h-2zM114.5 493.5h2v1.5h-2zM118.5 493.5h2v1.5h-2zM122.5 493.5h2v1.5h-2zM126.5 493.5h4v1.5h-4zM132.5 493.5h2v1.5h-2zM136.5 493.5h2v1.5h-2zM140.5 493.5h2v1.5h-2zM154.5 493.5h2v1.5h-2zM242.5 493.5h1v1.5h-1zM38.5 495h2v1.5h-2zM42.5 495h2v1.5h-2zM50.5 495h2v1.5h-2zM54.5 495h4v1.5h-4zM76.5 495h2v1.5h-2zM84.5 495h2v1.5h-2zM100.5 495h2v1.5h-2zM104.5 495h4v1.5h-4zM124.5 495h2v1.5h-2zM132.5 495h2v1.5h-2zM136.5 495h2v1.5h-2zM154.5 495h2v1.5h-2zM40.5 496.5h4v1.5h-4zM48.5 496.5h2v1.5h-2zM52.5 496.5h2v1.5h-2zM56.5 496.5h2v1.5h-2zM72.5 496.5h2v1.5h-2zM78.5 496.5h2v1.5h-2zM82.5 496.5h2v1.5h-2zM152.5 496.5h2v1.5h-2zM38.5 498h2v1.5h-2zM46.5 498h2v1.5h-2zM52.5 498h2v1.5h-2zM56.5 498h2v1.5h-2zM140.5 498h2v1.5h-2zM40.5 499.5h4v1.5h-4zM52.5 499.5h2v1.5h-2zM56.5 499.5h2v1.5h-2zM64.5 499.5h8v1.5h-8zM74.5 499.5h2v1.5h-2zM94.5 499.5h2v1.5h-2zM110.5 499.5h2v1.5h-2zM114.5 499.5h2v1.5h-2zM118.5 499.5h2v1.5h-2zM124.5 499.5h2v1.5h-2zM128.5 499.5h2v1.5h-2zM138.5 499.5h2v1.5h-2zM146.5 499.5h2v1.5h-2zM242.5 499.5h1v1.5h-1zM42.5 501h4v1.5h-4zM52.5 501h2v1.5h-2zM84.5 501h2v1.5h-2zM104.5 501h2v1.5h-2zM124.5 501h2v1.5h-2zM130.5 501h4v1.5h-4zM144.5 501h2v1.5h-2zM154.5 501h2v1.5h-2zM50.5 502.5h2v1.5h-2zM84.5 502.5h2v1.5h-2zM116.5 502.5h2v1.5h-2zM124.5 502.5h2v1.5h-2zM136.5 502.5h2v1.5h-2zM140.5 502.5h2v1.5h-2zM152.5 502.5h2v1.5h-2zM156.5 502.5h2v1.5h-2zM48.5 504h2v1h-2zM52.5 504h6v1h-6zM62.5 504h4v1h-4zM74.5 504h2v1h-2zM100.5 504h4v1h-4zM108.5 504h2v1h-2zM114.5 504h4v1h-4zM130.5 504h4v1h-4zM142.5 504h2v1h-2zM152.5 504h4v1h-4zM242.5 504h1v1h-1z" fill="#f5e7f5"/>
<path d="M162.5 357h2v1.5h-2zM198.5 357h2v1.5h-2zM218.5 357h2v1.5h-2zM78.5 358.5h2v1.5h-2zM130.5 358.5h2v1.5h-2zM134.5 358.5h2v1.5h-2zM192.5 358.5h2v1.5h-2zM212.5 358.5h2v1.5h-2zM228.5 358.5h2v1.5h-2zM240.5 358.5h2v1.5h-2zM194.5 360h2v1.5h-2zM200.5 360h2v1.5h-2zM216.5 360h2v1.5h-2zM238.5 360h2v1.5h-2zM196.5 361.5h2v1.5h-2zM238.5 361.5h2v1.5h-2zM188.5 363h2v1.5h-2zM222.5 363h2v1.5h-2zM188.5 364.5h2v1.5h-2zM230.5 364.5h2v1.5h-2zM138.5 366h2v1.5h-2zM172.5 366h2v1.5h-2zM194.5 366h2v1.5h-2zM200.5 366h2v1.5h-2zM228.5 366h2v1.5h-2zM232.5 366h2v1.5h-2zM190.5 367.5h2v1.5h-2zM198.5 367.5h2v1.5h-2zM220.5 367.5h2v1.5h-2zM172.5 369h2v1.5h-2zM234.5 369h2v1.5h-2zM240.5 369h2v1.5h-2zM186.5 370.5h2v1.5h-2zM216.5 370.5h2v1.5h-2zM224.5 370.5h2v1.5h-2zM176.5 372h2v1.5h-2zM182.5 372h2v1.5h-2zM200.5 372h2v1.5h-2zM204.5 372h2v1.5h-2zM214.5 372h2v1.5h-2zM230.5 372h2v1.5h-2zM162.5 373.5h2v1.5h-2zM178.5 373.5h2v1.5h-2zM202.5 373.5h2v1.5h-2zM138.5 375h2v1.5h-2zM170.5 375h2v1.5h-2zM174.5 375h2v1.5h-2zM224.5 375h2v1.5h-2zM228.5 375h2v1.5h-2zM142.5 376.5h2v1.5h-2zM172.5 376.5h2v1.5h-2zM220.5 376.5h2v1.5h-2zM230.5 376.5h2v1.5h-2zM160.5 378h2v1.5h-2zM200.5 378h2v1.5h-2zM140.5 379.5h2v1.5h-2zM160.5 379.5h2v1.5h-2zM176.5 379.5h2v1.5h-2zM190.5 379.5h2v1.5h-2zM210.5 379.5h2v1.5h-2zM164.5 381h6v1.5h-6zM204.5 381h2v1.5h-2zM226.5 381h2v1.5h-2zM234.5 381h2v1.5h-2zM138.5 382.5h2v1.5h-2zM194.5 382.5h2v1.5h-2zM40.5 384h2v1.5h-2zM192.5 384h2v1.5h-2zM212.5 384h8v1.5h-8zM158.5 385.5h6v1.5h-6zM166.5 385.5h2v1.5h-2zM174.5 385.5h2v1.5h-2zM202.5 385.5h2v1.5h-2zM210.5 385.5h2v1.5h-2zM230.5 385.5h2v1.5h-2zM138.5 387h2v1.5h-2zM162.5 388.5h2v1.5h-2zM72.5 390h2v1.5h-2zM168.5 390h2v1.5h-2zM212.5 390h2v1.5h-2zM216.5 390h2v1.5h-2zM238.5 390h2v1.5h-2zM162.5 391.5h2v1.5h-2zM166.5 391.5h2v1.5h-2zM194.5 391.5h2v1.5h-2zM200.5 391.5h2v1.5h-2zM238.5 391.5h2v1.5h-2zM166.5 393h2v1.5h-2zM216.5 393h2v1.5h-2zM222.5 393h2v1.5h-2zM232.5 393h2v1.5h-2zM72.5 394.5h2v1.5h-2zM212.5 394.5h2v1.5h-2zM70.5 396h2v1.5h-2zM160.5 396h2v1.5h-2zM166.5 396h2v1.5h-2zM202.5 396h2v1.5h-2zM210.5 396h2v1.5h-2zM214.5 396h4v1.5h-4zM172.5 397.5h2v1.5h-2zM184.5 397.5h2v1.5h-2zM204.5 397.5h2v1.5h-2zM234.5 397.5h2v1.5h-2zM138.5 399h2v1.5h-2zM146.5 399h2v1.5h-2zM180.5 399h2v1.5h-2zM192.5 399h2v1.5h-2zM190.5 400.5h2v1.5h-2zM206.5 400.5h2v1.5h-2zM220.5 400.5h2v1.5h-2zM224.5 400.5h2v1.5h-2zM240.5 400.5h2v1.5h-2zM78.5 402h2v1.5h-2zM130.5 402h2v1.5h-2zM164.5 402h2v1.5h-2zM182.5 402h2v1.5h-2zM198.5 402h2v1.5h-2zM72.5 403.5h2v1.5h-2zM136.5 403.5h2v1.5h-2zM142.5 403.5h2v1.5h-2zM160.5 403.5h2v1.5h-2zM218.5 403.5h2v1.5h-2zM160.5 405h2v1.5h-2zM210.5 405h2v1.5h-2zM182.5 406.5h2v1.5h-2zM240.5 406.5h2v1.5h-2zM196.5 408h2v1.5h-2zM72.5 409.5h2v1.5h-2zM146.5 409.5h2v1.5h-2zM158.5 409.5h2v1.5h-2zM166.5 409.5h8v1.5h-8zM178.5 409.5h2v1.5h-2zM196.5 409.5h2v1.5h-2zM144.5 411h2v1.5h-2zM162.5 411h2v1.5h-2zM218.5 411h2v1.5h-2zM226.5 411h2v1.5h-2zM50.5 412.5h2v1.5h-2zM56.5 412.5h2v1.5h-2zM206.5 412.5h2v1.5h-2zM210.5 412.5h2v1.5h-2zM214.5 412.5h2v1.5h-2zM228.5 412.5h2v1.5h-2zM70.5 414h4v1.5h-4zM138.5 414h2v1.5h-2zM202.5 414h2v1.5h-2zM180.5 415.5h2v1.5h-2zM234.5 415.5h2v1.5h-2zM164.5 417h2v1.5h-2zM176.5 417h2v1.5h-2zM196.5 417h2v1.5h-2zM216.5 417h2v1.5h-2zM50.5 420h2v1.5h-2zM82.5 420h2v1.5h-2zM176.5 420h2v1.5h-2zM190.5 420h2v1.5h-2zM198.5 420h2v1.5h-2zM202.5 420h2v1.5h-2zM206.5 420h4v1.5h-4zM224.5 420h2v1.5h-2zM178.5 421.5h2v1.5h-2zM192.5 421.5h2v1.5h-2zM198.5 421.5h2v1.5h-2zM138.5 423h2v1.5h-2zM196.5 423h2v1.5h-2zM208.5 423h2v1.5h-2zM218.5 423h2v1.5h-2zM222.5 423h2v1.5h-2zM226.5 423h2v1.5h-2zM168.5 424.5h2v1.5h-2zM192.5 424.5h2v1.5h-2zM196.5 424.5h2v1.5h-2zM226.5 424.5h2v1.5h-2zM164.5 426h2v1.5h-2zM194.5 426h2v1.5h-2zM214.5 426h2v1.5h-2zM158.5 427.5h2v1.5h-2zM164.5 427.5h2v1.5h-2zM200.5 427.5h4v1.5h-4zM224.5 427.5h2v1.5h-2zM184.5 429h2v1.5h-2zM196.5 429h2v1.5h-2zM200.5 429h2v1.5h-2zM218.5 429h2v1.5h-2zM228.5 429h2v1.5h-2zM200.5 430.5h2v1.5h-2zM222.5 430.5h2v1.5h-2zM226.5 430.5h2v1.5h-2zM204.5 432h2v1.5h-2zM192.5 433.5h2v1.5h-2zM240.5 433.5h2v1.5h-2zM70.5 435h2v1.5h-2zM78.5 435h2v1.5h-2zM84.5 435h2v1.5h-2zM98.5 435h2v1.5h-2zM118.5 435h2v1.5h-2zM128.5 435h2v1.5h-2zM172.5 435h2v1.5h-2zM220.5 435h2v1.5h-2zM200.5 436.5h2v1.5h-2zM216.5 436.5h2v1.5h-2zM222.5 436.5h2v1.5h-2zM188.5 438h2v1.5h-2zM230.5 438h2v1.5h-2zM226.5 439.5h2v1.5h-2zM164.5 441h2v1.5h-2zM176.5 441h2v1.5h-2zM200.5 441h4v1.5h-4zM236.5 441h2v1.5h-2zM202.5 442.5h2v1.5h-2zM210.5 442.5h2v1.5h-2zM170.5 444h2v1.5h-2zM202.5 444h2v1.5h-2zM240.5 444h2v1.5h-2zM168.5 445.5h2v1.5h-2zM200.5 445.5h2v1.5h-2zM238.5 445.5h2v1.5h-2zM224.5 447h2v1.5h-2zM88.5 453h2v1.5h-2zM116.5 453h2v1.5h-2zM142.5 453h2v1.5h-2zM96.5 454.5h2v1.5h-2zM146.5 454.5h2v1.5h-2zM88.5 456h2v1.5h-2zM102.5 456h2v1.5h-2zM108.5 456h2v1.5h-2zM144.5 456h2v1.5h-2zM112.5 457.5h2v1.5h-2zM240.5 460.5h2v1.5h-2zM82.5 462h2v1.5h-2zM86.5 462h2v1.5h-2zM134.5 462h2v1.5h-2zM42.5 463.5h2v1.5h-2zM52.5 463.5h2v1.5h-2zM152.5 463.5h2v1.5h-2zM52.5 465h4v1.5h-4zM134.5 465h2v1.5h-2zM188.5 465h2v1.5h-2zM48.5 466.5h2v1.5h-2zM52.5 466.5h2v1.5h-2zM66.5 466.5h2v1.5h-2zM78.5 466.5h2v1.5h-2zM134.5 466.5h4v1.5h-4zM70.5 468h2v1.5h-2zM142.5 468h2v1.5h-2zM148.5 468h2v1.5h-2zM54.5 469.5h2v1.5h-2zM76.5 469.5h2v1.5h-2zM192.5 469.5h2v1.5h-2zM214.5 469.5h2v1.5h-2zM70.5 471h2v1.5h-2zM74.5 471h2v1.5h-2zM130.5 471h4v1.5h-4zM204.5 472.5h2v1.5h-2zM44.5 474h2v1.5h-2zM56.5 474h2v1.5h-2zM78.5 474h2v1.5h-2zM86.5 474h2v1.5h-2zM90.5 474h2v1.5h-2zM134.5 474h2v1.5h-2zM78.5 475.5h2v1.5h-2zM74.5 477h2v1.5h-2zM86.5 477h2v1.5h-2zM132.5 477h2v1.5h-2zM40.5 478.5h2v1.5h-2zM50.5 478.5h2v1.5h-2zM80.5 478.5h2v1.5h-2zM152.5 478.5h4v1.5h-4zM62.5 480h2v1.5h-2zM68.5 480h2v1.5h-2zM140.5 481.5h2v1.5h-2zM148.5 481.5h2v1.5h-2zM144.5 483h2v1.5h-2zM156.5 483h2v1.5h-2zM70.5 486h2v1.5h-2zM76.5 486h2v1.5h-2zM82.5 486h2v1.5h-2zM92.5 486h2v1.5h-2zM102.5 486h2v1.5h-2zM112.5 486h4v1.5h-4zM138.5 486h4v1.5h-4zM146.5 486h2v1.5h-2zM186.5 486h2v1.5h-2zM214.5 487.5h2v1.5h-2zM236.5 487.5h2v1.5h-2zM194.5 489h2v1.5h-2zM164.5 490.5h2v1.5h-2zM168.5 490.5h2v1.5h-2zM176.5 490.5h2v1.5h-2zM182.5 490.5h6v1.5h-6zM210.5 490.5h2v1.5h-2zM224.5 490.5h2v1.5h-2zM230.5 490.5h2v1.5h-2zM238.5 490.5h4v1.5h-4zM190.5 492h2v1.5h-2zM212.5 492h2v1.5h-2zM216.5 493.5h2v1.5h-2zM220.5 493.5h2v1.5h-2zM234.5 493.5h2v1.5h-2zM238.5 493.5h2v1.5h-2zM194.5 495h4v1.5h-4zM200.5 495h2v1.5h-2zM206.5 495h2v1.5h-2zM210.5 495h2v1.5h-2zM228.5 495h2v1.5h-2zM224.5 496.5h2v1.5h-2zM176.5 498h4v1.5h-4zM194.5 498h2v1.5h-2zM212.5 498h2v1.5h-2zM168.5 499.5h2v1.5h-2zM230.5 499.5h2v1.5h-2zM172.5 501h2v1.5h-2zM176.5 501h2v1.5h-2zM186.5 501h2v1.5h-2zM218.5 501h2v1.5h-2zM188.5 502.5h2v1.5h-2zM194.5 502.5h2v1.5h-2zM202.5 502.5h2v1.5h-2zM158.5 504h2v1h-2zM168.5 504h2v1h-2zM182.5 504h2v1h-2zM232.5 504h2v1h-2zM238.5 504h2v1h-2z" fill="#f5e7d9"/>
<path d="M168.5 357h2v1.5h-2zM204.5 357h2v1.5h-2zM222.5 357h2v1.5h-2zM138.5 358.5h2v1.5h-2zM142.5 358.5h2v1.5h-2zM200.5 358.5h2v1.5h-2zM234.5 358.5h4v1.5h-4zM190.5 360h2v1.5h-2zM196.5 360h2v1.5h-2zM206.5 360h2v1.5h-2zM224.5 360h2v1.5h-2zM190.5 363h2v1.5h-2zM220.5 363h2v1.5h-2zM224.5 363h2v1.5h-2zM174.5 364.5h2v1.5h-2zM204.5 364.5h2v1.5h-2zM210.5 364.5h2v1.5h-2zM214.5 364.5h2v1.5h-2zM160.5 366h2v1.5h-2zM188.5 366h2v1.5h-2zM220.5 366h2v1.5h-2zM216.5 367.5h2v1.5h-2zM208.5 369h2v1.5h-2zM230.5 369h2v1.5h-2zM200.5 370.5h2v1.5h-2zM210.5 370.5h2v1.5h-2zM232.5 370.5h2v1.5h-2zM212.5 372h2v1.5h-2zM218.5 372h2v1.5h-2zM170.5 373.5h2v1.5h-2zM174.5 373.5h2v1.5h-2zM196.5 373.5h2v1.5h-2zM224.5 373.5h2v1.5h-2zM236.5 373.5h2v1.5h-2zM176.5 375h2v1.5h-2zM210.5 375h2v1.5h-2zM240.5 375h2v1.5h-2zM168.5 376.5h2v1.5h-2zM184.5 376.5h2v1.5h-2zM204.5 376.5h2v1.5h-2zM232.5 376.5h2v1.5h-2zM236.5 376.5h2v1.5h-2zM194.5 378h2v1.5h-2zM202.5 378h2v1.5h-2zM166.5 379.5h2v1.5h-2zM186.5 379.5h2v1.5h-2zM178.5 381h2v1.5h-2zM194.5 381h2v1.5h-2zM186.5 382.5h2v1.5h-2zM208.5 382.5h2v1.5h-2zM168.5 384h2v1.5h-2zM228.5 384h4v1.5h-4zM180.5 385.5h2v1.5h-2zM238.5 385.5h2v1.5h-2zM188.5 387h2v1.5h-2zM220.5 387h2v1.5h-2zM238.5 387h4v1.5h-4zM174.5 390h4v1.5h-4zM208.5 390h2v1.5h-2zM182.5 391.5h2v1.5h-2zM192.5 391.5h2v1.5h-2zM178.5 393h2v1.5h-2zM184.5 393h2v1.5h-2zM188.5 393h2v1.5h-2zM158.5 394.5h2v1.5h-2zM164.5 394.5h2v1.5h-2zM168.5 394.5h2v1.5h-2zM188.5 396h2v1.5h-2zM192.5 396h4v1.5h-4zM218.5 396h2v1.5h-2zM232.5 396h2v1.5h-2zM170.5 397.5h2v1.5h-2zM182.5 397.5h2v1.5h-2zM206.5 397.5h4v1.5h-4zM160.5 399h2v1.5h-2zM164.5 399h2v1.5h-2zM182.5 399h2v1.5h-2zM194.5 400.5h2v1.5h-2zM222.5 400.5h2v1.5h-2zM226.5 400.5h2v1.5h-2zM230.5 400.5h4v1.5h-4zM238.5 400.5h2v1.5h-2zM174.5 402h2v1.5h-2zM202.5 402h2v1.5h-2zM222.5 402h2v1.5h-2zM228.5 402h2v1.5h-2zM138.5 403.5h4v1.5h-4zM178.5 403.5h2v1.5h-2zM186.5 403.5h2v1.5h-2zM196.5 403.5h2v1.5h-2zM216.5 405h2v1.5h-2zM166.5 406.5h2v1.5h-2zM170.5 406.5h2v1.5h-2zM194.5 406.5h2v1.5h-2zM206.5 406.5h2v1.5h-2zM166.5 408h2v1.5h-2zM188.5 408h2v1.5h-2zM202.5 408h2v1.5h-2zM234.5 408h2v1.5h-2zM180.5 409.5h2v1.5h-2zM216.5 409.5h4v1.5h-4zM160.5 411h2v1.5h-2zM186.5 411h2v1.5h-2zM190.5 412.5h2v1.5h-2zM222.5 412.5h2v1.5h-2zM232.5 412.5h2v1.5h-2zM180.5 414h2v1.5h-2zM190.5 414h2v1.5h-2zM234.5 414h2v1.5h-2zM194.5 415.5h2v1.5h-2zM236.5 415.5h2v1.5h-2zM180.5 417h2v1.5h-2zM206.5 417h2v1.5h-2zM212.5 417h4v1.5h-4zM224.5 417h2v1.5h-2zM230.5 417h2v1.5h-2zM234.5 417h2v1.5h-2zM204.5 418.5h2v1.5h-2zM226.5 418.5h2v1.5h-2zM168.5 420h2v1.5h-2zM186.5 420h2v1.5h-2zM204.5 420h2v1.5h-2zM232.5 420h2v1.5h-2zM176.5 421.5h2v1.5h-2zM188.5 421.5h2v1.5h-2zM222.5 421.5h2v1.5h-2zM176.5 423h2v1.5h-2zM180.5 423h2v1.5h-2zM188.5 423h4v1.5h-4zM204.5 423h2v1.5h-2zM238.5 423h4v1.5h-4zM188.5 424.5h2v1.5h-2zM212.5 426h2v1.5h-2zM218.5 426h2v1.5h-2zM162.5 427.5h2v1.5h-2zM188.5 427.5h2v1.5h-2zM192.5 427.5h2v1.5h-2zM196.5 427.5h2v1.5h-2zM204.5 427.5h4v1.5h-4zM162.5 429h2v1.5h-2zM166.5 429h2v1.5h-2zM172.5 429h2v1.5h-2zM182.5 429h2v1.5h-2zM192.5 429h2v1.5h-2zM204.5 429h2v1.5h-2zM208.5 429h2v1.5h-2zM158.5 430.5h4v1.5h-4zM188.5 433.5h2v1.5h-2zM188.5 435h2v1.5h-2zM192.5 435h2v1.5h-2zM196.5 435h2v1.5h-2zM202.5 435h2v1.5h-2zM212.5 435h2v1.5h-2zM216.5 435h2v1.5h-2zM190.5 436.5h2v1.5h-2zM212.5 436.5h2v1.5h-2zM192.5 438h2v1.5h-2zM200.5 438h2v1.5h-2zM214.5 438h2v1.5h-2zM234.5 438h2v1.5h-2zM190.5 439.5h2v1.5h-2zM196.5 439.5h2v1.5h-2zM240.5 439.5h2v1.5h-2zM178.5 441h2v1.5h-2zM192.5 441h4v1.5h-4zM216.5 441h4v1.5h-4zM230.5 441h2v1.5h-2zM238.5 441h2v1.5h-2zM214.5 442.5h2v1.5h-2zM226.5 442.5h2v1.5h-2zM234.5 442.5h2v1.5h-2zM186.5 444h2v1.5h-2zM208.5 444h4v1.5h-4zM228.5 444h2v1.5h-2zM236.5 444h2v1.5h-2zM168.5 447h2v1.5h-2zM188.5 447h2v1.5h-2zM204.5 447h2v1.5h-2zM212.5 447h2v1.5h-2zM114.5 453h2v1.5h-2zM120.5 453h2v1.5h-2zM92.5 454.5h4v1.5h-4zM98.5 457.5h2v1.5h-2zM114.5 457.5h2v1.5h-2zM118.5 459h2v1.5h-2zM156.5 460.5h2v1.5h-2zM242.5 460.5h1v1.5h-1zM60.5 462h2v1.5h-2zM78.5 463.5h2v1.5h-2zM134.5 463.5h2v1.5h-2zM38.5 465h4v1.5h-4zM140.5 465h4v1.5h-4zM154.5 465h2v1.5h-2zM44.5 466.5h2v1.5h-2zM58.5 466.5h2v1.5h-2zM142.5 466.5h2v1.5h-2zM242.5 466.5h1v1.5h-1zM38.5 468h2v1.5h-2zM90.5 468h2v1.5h-2zM146.5 469.5h2v1.5h-2zM140.5 471h2v1.5h-2zM156.5 471h2v1.5h-2zM40.5 472.5h2v1.5h-2zM52.5 472.5h2v1.5h-2zM74.5 472.5h2v1.5h-2zM80.5 472.5h2v1.5h-2zM84.5 472.5h4v1.5h-4zM132.5 472.5h2v1.5h-2zM150.5 472.5h2v1.5h-2zM138.5 474h2v1.5h-2zM134.5 475.5h2v1.5h-2zM138.5 475.5h4v1.5h-4zM58.5 477h2v1.5h-2zM226.5 477h2v1.5h-2zM146.5 478.5h2v1.5h-2zM66.5 480h2v1.5h-2zM134.5 480h4v1.5h-4zM142.5 480h2v1.5h-2zM156.5 480h2v1.5h-2zM70.5 481.5h2v1.5h-2zM76.5 481.5h2v1.5h-2zM82.5 481.5h2v1.5h-2zM90.5 481.5h2v1.5h-2zM132.5 481.5h4v1.5h-4zM138.5 481.5h2v1.5h-2zM44.5 483h2v1.5h-2zM86.5 483h2v1.5h-2zM130.5 483h2v1.5h-2zM226.5 490.5h2v1.5h-2zM214.5 493.5h2v1.5h-2zM214.5 495h2v1.5h-2zM236.5 499.5h2v1.5h-2zM164.5 504h2v1h-2zM196.5 504h2v1h-2zM200.5 504h6v1h-6z" fill="#f5cbcb"/>
<path d="M172.5 357h2v1.5h-2zM178.5 357h2v1.5h-2zM216.5 357h2v1.5h-2zM152.5 358.5h2v1.5h-2zM164.5 358.5h2v1.5h-2zM238.5 358.5h2v1.5h-2zM176.5 360h2v1.5h-2zM208.5 360h4v1.5h-4zM234.5 360h4v1.5h-4zM168.5 361.5h2v1.5h-2zM188.5 361.5h2v1.5h-2zM212.5 361.5h2v1.5h-2zM228.5 361.5h4v1.5h-4zM168.5 363h2v1.5h-2zM176.5 363h2v1.5h-2zM198.5 363h2v1.5h-2zM210.5 363h2v1.5h-2zM48.5 364.5h2v1.5h-2zM140.5 364.5h2v1.5h-2zM160.5 364.5h2v1.5h-2zM182.5 364.5h2v1.5h-2zM198.5 364.5h2v1.5h-2zM206.5 364.5h2v1.5h-2zM216.5 364.5h2v1.5h-2zM222.5 364.5h2v1.5h-2zM238.5 364.5h2v1.5h-2zM140.5 366h2v1.5h-2zM158.5 366h2v1.5h-2zM174.5 366h2v1.5h-2zM190.5 366h2v1.5h-2zM196.5 366h4v1.5h-4zM212.5 366h2v1.5h-2zM216.5 366h4v1.5h-4zM208.5 367.5h4v1.5h-4zM226.5 367.5h4v1.5h-4zM234.5 367.5h2v1.5h-2zM194.5 369h2v1.5h-2zM204.5 369h2v1.5h-2zM220.5 369h2v1.5h-2zM236.5 369h2v1.5h-2zM160.5 370.5h2v1.5h-2zM168.5 370.5h2v1.5h-2zM176.5 370.5h2v1.5h-2zM202.5 370.5h2v1.5h-2zM234.5 370.5h2v1.5h-2zM160.5 372h2v1.5h-2zM178.5 372h2v1.5h-2zM190.5 372h2v1.5h-2zM220.5 372h2v1.5h-2zM234.5 372h2v1.5h-2zM238.5 372h4v1.5h-4zM194.5 373.5h2v1.5h-2zM198.5 373.5h2v1.5h-2zM216.5 373.5h2v1.5h-2zM228.5 373.5h2v1.5h-2zM168.5 375h2v1.5h-2zM188.5 375h4v1.5h-4zM196.5 375h2v1.5h-2zM218.5 375h2v1.5h-2zM138.5 376.5h2v1.5h-2zM158.5 376.5h2v1.5h-2zM178.5 376.5h4v1.5h-4zM192.5 376.5h2v1.5h-2zM202.5 376.5h2v1.5h-2zM206.5 376.5h4v1.5h-4zM214.5 376.5h2v1.5h-2zM226.5 376.5h2v1.5h-2zM138.5 378h2v1.5h-2zM190.5 378h2v1.5h-2zM214.5 378h4v1.5h-4zM234.5 378h4v1.5h-4zM162.5 379.5h2v1.5h-2zM170.5 379.5h2v1.5h-2zM184.5 379.5h2v1.5h-2zM214.5 379.5h2v1.5h-2zM218.5 379.5h6v1.5h-6zM236.5 379.5h2v1.5h-2zM138.5 381h2v1.5h-2zM146.5 381h2v1.5h-2zM162.5 381h2v1.5h-2zM174.5 381h2v1.5h-2zM184.5 381h2v1.5h-2zM190.5 381h2v1.5h-2zM158.5 382.5h2v1.5h-2zM164.5 382.5h4v1.5h-4zM172.5 382.5h2v1.5h-2zM238.5 382.5h4v1.5h-4zM140.5 384h2v1.5h-2zM164.5 384h2v1.5h-2zM188.5 384h2v1.5h-2zM194.5 384h2v1.5h-2zM198.5 384h2v1.5h-2zM226.5 384h2v1.5h-2zM240.5 384h2v1.5h-2zM188.5 385.5h2v1.5h-2zM194.5 385.5h2v1.5h-2zM216.5 385.5h2v1.5h-2zM228.5 385.5h2v1.5h-2zM72.5 387h2v1.5h-2zM168.5 387h2v1.5h-2zM178.5 387h2v1.5h-2zM198.5 387h2v1.5h-2zM206.5 387h2v1.5h-2zM160.5 388.5h2v1.5h-2zM172.5 388.5h2v1.5h-2zM178.5 388.5h4v1.5h-4zM190.5 388.5h2v1.5h-2zM196.5 388.5h2v1.5h-2zM218.5 388.5h2v1.5h-2zM224.5 388.5h2v1.5h-2zM232.5 388.5h2v1.5h-2zM170.5 390h2v1.5h-2zM178.5 390h4v1.5h-4zM200.5 390h2v1.5h-2zM214.5 390h2v1.5h-2zM218.5 390h2v1.5h-2zM184.5 391.5h2v1.5h-2zM206.5 391.5h2v1.5h-2zM220.5 391.5h2v1.5h-2zM158.5 393h2v1.5h-2zM168.5 393h2v1.5h-2zM180.5 393h4v1.5h-4zM196.5 393h2v1.5h-2zM224.5 393h6v1.5h-6zM82.5 394.5h2v1.5h-2zM160.5 394.5h2v1.5h-2zM166.5 394.5h2v1.5h-2zM170.5 394.5h2v1.5h-2zM196.5 394.5h2v1.5h-2zM206.5 394.5h2v1.5h-2zM238.5 394.5h4v1.5h-4zM170.5 396h2v1.5h-2zM200.5 396h2v1.5h-2zM204.5 396h2v1.5h-2zM212.5 396h2v1.5h-2zM238.5 396h2v1.5h-2zM160.5 397.5h2v1.5h-2zM186.5 397.5h2v1.5h-2zM214.5 397.5h2v1.5h-2zM226.5 397.5h2v1.5h-2zM162.5 399h2v1.5h-2zM168.5 399h2v1.5h-2zM174.5 399h2v1.5h-2zM194.5 399h2v1.5h-2zM200.5 399h2v1.5h-2zM212.5 399h2v1.5h-2zM234.5 399h2v1.5h-2zM140.5 400.5h2v1.5h-2zM164.5 400.5h2v1.5h-2zM182.5 400.5h2v1.5h-2zM210.5 400.5h2v1.5h-2zM82.5 402h2v1.5h-2zM138.5 402h2v1.5h-2zM148.5 402h2v1.5h-2zM162.5 402h2v1.5h-2zM172.5 402h2v1.5h-2zM188.5 402h2v1.5h-2zM196.5 402h2v1.5h-2zM230.5 402h4v1.5h-4zM44.5 403.5h2v1.5h-2zM82.5 403.5h2v1.5h-2zM132.5 403.5h2v1.5h-2zM144.5 403.5h6v1.5h-6zM170.5 403.5h4v1.5h-4zM184.5 403.5h2v1.5h-2zM188.5 403.5h2v1.5h-2zM198.5 403.5h2v1.5h-2zM216.5 403.5h2v1.5h-2zM228.5 403.5h4v1.5h-4zM176.5 405h2v1.5h-2zM188.5 405h2v1.5h-2zM208.5 405h2v1.5h-2zM212.5 405h4v1.5h-4zM168.5 406.5h2v1.5h-2zM176.5 406.5h2v1.5h-2zM184.5 406.5h2v1.5h-2zM232.5 406.5h2v1.5h-2zM236.5 406.5h2v1.5h-2zM160.5 408h2v1.5h-2zM176.5 408h2v1.5h-2zM182.5 408h2v1.5h-2zM190.5 408h2v1.5h-2zM198.5 408h2v1.5h-2zM206.5 408h6v1.5h-6zM240.5 408h2v1.5h-2zM140.5 409.5h2v1.5h-2zM162.5 409.5h2v1.5h-2zM174.5 409.5h2v1.5h-2zM198.5 409.5h2v1.5h-2zM226.5 409.5h2v1.5h-2zM236.5 409.5h2v1.5h-2zM240.5 409.5h2v1.5h-2zM158.5 411h2v1.5h-2zM166.5 411h4v1.5h-4zM172.5 411h2v1.5h-2zM182.5 411h2v1.5h-2zM196.5 411h2v1.5h-2zM200.5 411h2v1.5h-2zM210.5 411h4v1.5h-4zM220.5 411h2v1.5h-2zM40.5 412.5h4v1.5h-4zM158.5 412.5h2v1.5h-2zM168.5 412.5h2v1.5h-2zM178.5 412.5h2v1.5h-2zM182.5 412.5h4v1.5h-4zM194.5 412.5h4v1.5h-4zM230.5 412.5h2v1.5h-2zM240.5 412.5h2v1.5h-2zM198.5 414h2v1.5h-2zM204.5 414h2v1.5h-2zM210.5 414h2v1.5h-2zM220.5 414h2v1.5h-2zM228.5 414h2v1.5h-2zM168.5 415.5h6v1.5h-6zM176.5 415.5h2v1.5h-2zM182.5 415.5h2v1.5h-2zM186.5 415.5h4v1.5h-4zM198.5 415.5h2v1.5h-2zM204.5 415.5h2v1.5h-2zM218.5 415.5h2v1.5h-2zM228.5 415.5h2v1.5h-2zM160.5 417h2v1.5h-2zM166.5 417h2v1.5h-2zM170.5 417h2v1.5h-2zM182.5 417h2v1.5h-2zM188.5 417h2v1.5h-2zM198.5 417h2v1.5h-2zM218.5 417h2v1.5h-2zM222.5 417h2v1.5h-2zM226.5 417h2v1.5h-2zM232.5 417h2v1.5h-2zM238.5 417h2v1.5h-2zM158.5 418.5h2v1.5h-2zM162.5 418.5h2v1.5h-2zM172.5 418.5h2v1.5h-2zM186.5 418.5h4v1.5h-4zM210.5 418.5h2v1.5h-2zM228.5 418.5h2v1.5h-2zM72.5 420h2v1.5h-2zM140.5 420h2v1.5h-2zM162.5 420h4v1.5h-4zM170.5 420h2v1.5h-2zM184.5 420h2v1.5h-2zM210.5 420h4v1.5h-4zM222.5 420h2v1.5h-2zM240.5 420h2v1.5h-2zM168.5 421.5h4v1.5h-4zM174.5 421.5h2v1.5h-2zM194.5 421.5h2v1.5h-2zM202.5 421.5h2v1.5h-2zM206.5 421.5h2v1.5h-2zM220.5 421.5h2v1.5h-2zM230.5 421.5h2v1.5h-2zM160.5 423h2v1.5h-2zM164.5 423h2v1.5h-2zM170.5 423h6v1.5h-6zM182.5 423h4v1.5h-4zM206.5 423h2v1.5h-2zM210.5 423h4v1.5h-4zM220.5 423h2v1.5h-2zM160.5 424.5h2v1.5h-2zM176.5 424.5h4v1.5h-4zM208.5 424.5h2v1.5h-2zM232.5 424.5h4v1.5h-4zM190.5 426h2v1.5h-2zM202.5 426h2v1.5h-2zM216.5 426h2v1.5h-2zM220.5 426h4v1.5h-4zM226.5 426h4v1.5h-4zM234.5 426h2v1.5h-2zM174.5 427.5h2v1.5h-2zM178.5 427.5h2v1.5h-2zM182.5 427.5h2v1.5h-2zM222.5 427.5h2v1.5h-2zM234.5 427.5h2v1.5h-2zM140.5 429h2v1.5h-2zM168.5 429h2v1.5h-2zM202.5 429h2v1.5h-2zM224.5 429h2v1.5h-2zM234.5 429h2v1.5h-2zM164.5 430.5h4v1.5h-4zM176.5 430.5h2v1.5h-2zM186.5 430.5h2v1.5h-2zM190.5 430.5h2v1.5h-2zM204.5 430.5h2v1.5h-2zM208.5 430.5h2v1.5h-2zM220.5 430.5h2v1.5h-2zM232.5 430.5h2v1.5h-2zM176.5 432h2v1.5h-2zM216.5 432h2v1.5h-2zM162.5 433.5h2v1.5h-2zM168.5 433.5h2v1.5h-2zM208.5 433.5h2v1.5h-2zM230.5 433.5h8v1.5h-8zM72.5 435h2v1.5h-2zM162.5 435h8v1.5h-8zM198.5 435h2v1.5h-2zM210.5 435h2v1.5h-2zM192.5 436.5h6v1.5h-6zM204.5 436.5h2v1.5h-2zM218.5 436.5h2v1.5h-2zM226.5 436.5h2v1.5h-2zM186.5 438h2v1.5h-2zM194.5 438h2v1.5h-2zM202.5 438h2v1.5h-2zM216.5 438h4v1.5h-4zM186.5 439.5h2v1.5h-2zM194.5 439.5h2v1.5h-2zM198.5 439.5h6v1.5h-6zM212.5 439.5h2v1.5h-2zM232.5 439.5h6v1.5h-6zM162.5 441h2v1.5h-2zM170.5 441h4v1.5h-4zM206.5 441h2v1.5h-2zM212.5 441h4v1.5h-4zM228.5 441h2v1.5h-2zM240.5 441h2v1.5h-2zM172.5 442.5h4v1.5h-4zM178.5 442.5h4v1.5h-4zM184.5 442.5h4v1.5h-4zM194.5 442.5h2v1.5h-2zM216.5 442.5h2v1.5h-2zM228.5 442.5h4v1.5h-4zM158.5 444h2v1.5h-2zM168.5 444h2v1.5h-2zM172.5 444h2v1.5h-2zM176.5 444h2v1.5h-2zM188.5 444h2v1.5h-2zM196.5 444h2v1.5h-2zM206.5 444h2v1.5h-2zM176.5 445.5h2v1.5h-2zM190.5 445.5h2v1.5h-2zM194.5 445.5h2v1.5h-2zM212.5 445.5h2v1.5h-2zM218.5 445.5h2v1.5h-2zM176.5 447h2v1.5h-2zM192.5 447h2v1.5h-2zM200.5 447h2v1.5h-2zM208.5 447h4v1.5h-4zM218.5 447h6v1.5h-6zM94.5 451.5h2v1.5h-2zM108.5 451.5h2v1.5h-2zM114.5 451.5h2v1.5h-2zM94.5 453h2v1.5h-2zM100.5 453h2v1.5h-2zM112.5 453h2v1.5h-2zM98.5 454.5h2v1.5h-2zM106.5 454.5h2v1.5h-2zM110.5 454.5h2v1.5h-2zM116.5 454.5h2v1.5h-2zM232.5 454.5h2v1.5h-2zM236.5 454.5h2v1.5h-2zM90.5 456h2v1.5h-2zM112.5 456h2v1.5h-2zM124.5 456h2v1.5h-2zM90.5 457.5h2v1.5h-2zM104.5 457.5h2v1.5h-2zM94.5 459h2v1.5h-2zM124.5 459h2v1.5h-2zM140.5 459h2v1.5h-2zM144.5 459h2v1.5h-2zM208.5 459h2v1.5h-2zM232.5 459h2v1.5h-2zM44.5 460.5h2v1.5h-2zM50.5 460.5h2v1.5h-2zM56.5 460.5h2v1.5h-2zM62.5 460.5h2v1.5h-2zM72.5 460.5h2v1.5h-2zM80.5 460.5h2v1.5h-2zM90.5 460.5h2v1.5h-2zM134.5 460.5h2v1.5h-2zM144.5 460.5h2v1.5h-2zM188.5 460.5h2v1.5h-2zM46.5 462h4v1.5h-4zM76.5 462h2v1.5h-2zM80.5 462h2v1.5h-2zM144.5 462h2v1.5h-2zM54.5 463.5h2v1.5h-2zM84.5 463.5h2v1.5h-2zM136.5 463.5h2v1.5h-2zM42.5 465h4v1.5h-4zM50.5 465h2v1.5h-2zM56.5 465h2v1.5h-2zM72.5 465h2v1.5h-2zM76.5 465h2v1.5h-2zM84.5 465h2v1.5h-2zM146.5 465h2v1.5h-2zM156.5 465h2v1.5h-2zM208.5 465h2v1.5h-2zM214.5 465h2v1.5h-2zM64.5 466.5h2v1.5h-2zM70.5 466.5h2v1.5h-2zM80.5 466.5h2v1.5h-2zM84.5 466.5h2v1.5h-2zM132.5 466.5h2v1.5h-2zM146.5 466.5h2v1.5h-2zM150.5 466.5h2v1.5h-2zM154.5 466.5h2v1.5h-2zM58.5 468h2v1.5h-2zM68.5 468h2v1.5h-2zM74.5 468h2v1.5h-2zM78.5 468h2v1.5h-2zM88.5 468h2v1.5h-2zM136.5 468h4v1.5h-4zM150.5 468h2v1.5h-2zM50.5 469.5h2v1.5h-2zM66.5 469.5h2v1.5h-2zM74.5 469.5h2v1.5h-2zM82.5 469.5h4v1.5h-4zM208.5 469.5h2v1.5h-2zM212.5 469.5h2v1.5h-2zM218.5 469.5h2v1.5h-2zM72.5 471h2v1.5h-2zM78.5 471h4v1.5h-4zM58.5 472.5h2v1.5h-2zM88.5 472.5h2v1.5h-2zM130.5 472.5h2v1.5h-2zM142.5 472.5h2v1.5h-2zM154.5 472.5h2v1.5h-2zM72.5 474h4v1.5h-4zM148.5 474h2v1.5h-2zM40.5 475.5h2v1.5h-2zM68.5 475.5h2v1.5h-2zM72.5 475.5h2v1.5h-2zM142.5 475.5h4v1.5h-4zM148.5 475.5h2v1.5h-2zM40.5 477h2v1.5h-2zM44.5 477h2v1.5h-2zM48.5 477h2v1.5h-2zM70.5 477h2v1.5h-2zM76.5 477h2v1.5h-2zM88.5 477h2v1.5h-2zM188.5 477h2v1.5h-2zM230.5 477h2v1.5h-2zM70.5 478.5h2v1.5h-2zM76.5 478.5h2v1.5h-2zM88.5 478.5h2v1.5h-2zM150.5 478.5h2v1.5h-2zM242.5 478.5h1v1.5h-1zM56.5 480h2v1.5h-2zM82.5 480h2v1.5h-2zM130.5 480h2v1.5h-2zM42.5 481.5h2v1.5h-2zM52.5 481.5h2v1.5h-2zM80.5 481.5h2v1.5h-2zM142.5 481.5h2v1.5h-2zM146.5 481.5h2v1.5h-2zM150.5 481.5h2v1.5h-2zM156.5 481.5h2v1.5h-2zM48.5 483h2v1.5h-2zM72.5 483h2v1.5h-2zM132.5 483h2v1.5h-2zM136.5 483h2v1.5h-2zM148.5 483h2v1.5h-2zM152.5 483h2v1.5h-2zM78.5 486h2v1.5h-2zM98.5 486h2v1.5h-2zM122.5 486h2v1.5h-2zM188.5 486h2v1.5h-2zM208.5 489h2v1.5h-2zM174.5 490.5h2v1.5h-2zM178.5 490.5h2v1.5h-2zM188.5 490.5h2v1.5h-2zM192.5 490.5h2v1.5h-2zM214.5 490.5h2v1.5h-2zM222.5 490.5h2v1.5h-2zM232.5 490.5h4v1.5h-4zM168.5 492h2v1.5h-2zM186.5 492h2v1.5h-2zM196.5 492h2v1.5h-2zM214.5 492h2v1.5h-2zM222.5 492h2v1.5h-2zM238.5 492h2v1.5h-2zM172.5 493.5h2v1.5h-2zM176.5 493.5h2v1.5h-2zM200.5 493.5h2v1.5h-2zM206.5 493.5h6v1.5h-6zM224.5 493.5h2v1.5h-2zM160.5 495h2v1.5h-2zM168.5 495h2v1.5h-2zM204.5 495h2v1.5h-2zM212.5 495h2v1.5h-2zM224.5 495h2v1.5h-2zM234.5 495h4v1.5h-4zM236.5 496.5h2v1.5h-2zM180.5 498h2v1.5h-2zM186.5 498h2v1.5h-2zM182.5 499.5h2v1.5h-2zM226.5 499.5h2v1.5h-2zM234.5 499.5h2v1.5h-2zM240.5 499.5h2v1.5h-2zM166.5 501h2v1.5h-2zM178.5 501h2v1.5h-2zM184.5 501h2v1.5h-2zM226.5 501h2v1.5h-2zM168.5 502.5h2v1.5h-2zM200.5 502.5h2v1.5h-2zM208.5 502.5h2v1.5h-2zM218.5 502.5h2v1.5h-2zM172.5 504h4v1h-4zM180.5 504h2v1h-2zM186.5 504h4v1h-4zM198.5 504h2v1h-2zM206.5 504h2v1h-2zM220.5 504h2v1h-2zM230.5 504h2v1h-2zM234.5 504h2v1h-2z" fill="#f5d9d9"/>
<path d="M190.5 357h2v1.5h-2zM208.5 357h2v1.5h-2zM212.5 357h2v1.5h-2zM220.5 357h2v1.5h-2zM224.5 357h2v1.5h-2zM232.5 357h2v1.5h-2zM236.5 357h2v1.5h-2zM202.5 358.5h2v1.5h-2zM206.5 358.5h2v1.5h-2zM220.5 358.5h4v1.5h-4zM226.5 358.5h2v1.5h-2zM192.5 360h2v1.5h-2zM208.5 361.5h4v1.5h-4zM220.5 361.5h2v1.5h-2zM224.5 361.5h4v1.5h-4zM236.5 361.5h2v1.5h-2zM200.5 363h2v1.5h-2zM212.5 363h2v1.5h-2zM216.5 363h2v1.5h-2zM166.5 364.5h2v1.5h-2zM200.5 364.5h2v1.5h-2zM212.5 364.5h2v1.5h-2zM220.5 364.5h2v1.5h-2zM234.5 364.5h2v1.5h-2zM208.5 366h4v1.5h-4zM226.5 366h2v1.5h-2zM224.5 369h2v1.5h-2zM198.5 370.5h2v1.5h-2zM220.5 370.5h2v1.5h-2zM202.5 372h2v1.5h-2zM210.5 372h2v1.5h-2zM216.5 372h2v1.5h-2zM172.5 373.5h2v1.5h-2zM186.5 373.5h2v1.5h-2zM208.5 373.5h2v1.5h-2zM218.5 373.5h4v1.5h-4zM200.5 375h2v1.5h-2zM208.5 375h2v1.5h-2zM212.5 375h2v1.5h-2zM216.5 375h2v1.5h-2zM162.5 376.5h2v1.5h-2zM186.5 376.5h2v1.5h-2zM204.5 378h2v1.5h-2zM208.5 378h4v1.5h-4zM176.5 381h2v1.5h-2zM200.5 381h2v1.5h-2zM206.5 381h4v1.5h-4zM224.5 381h2v1.5h-2zM236.5 381h2v1.5h-2zM226.5 382.5h2v1.5h-2zM236.5 382.5h2v1.5h-2zM160.5 384h2v1.5h-2zM186.5 384h2v1.5h-2zM206.5 384h2v1.5h-2zM236.5 384h2v1.5h-2zM168.5 385.5h2v1.5h-2zM176.5 385.5h2v1.5h-2zM186.5 385.5h2v1.5h-2zM208.5 385.5h2v1.5h-2zM226.5 385.5h2v1.5h-2zM234.5 385.5h4v1.5h-4zM186.5 387h2v1.5h-2zM192.5 387h2v1.5h-2zM208.5 387h2v1.5h-2zM212.5 387h2v1.5h-2zM216.5 387h2v1.5h-2zM234.5 387h2v1.5h-2zM186.5 388.5h2v1.5h-2zM160.5 390h6v1.5h-6zM182.5 390h2v1.5h-2zM204.5 390h2v1.5h-2zM232.5 390h6v1.5h-6zM240.5 390h2v1.5h-2zM164.5 391.5h2v1.5h-2zM170.5 391.5h4v1.5h-4zM180.5 391.5h2v1.5h-2zM228.5 391.5h6v1.5h-6zM236.5 391.5h2v1.5h-2zM174.5 393h4v1.5h-4zM186.5 393h2v1.5h-2zM194.5 393h2v1.5h-2zM212.5 393h2v1.5h-2zM234.5 393h4v1.5h-4zM162.5 394.5h2v1.5h-2zM174.5 394.5h2v1.5h-2zM180.5 394.5h2v1.5h-2zM214.5 394.5h2v1.5h-2zM232.5 394.5h2v1.5h-2zM186.5 396h2v1.5h-2zM196.5 396h2v1.5h-2zM226.5 396h2v1.5h-2zM164.5 397.5h2v1.5h-2zM158.5 399h2v1.5h-2zM188.5 399h4v1.5h-4zM162.5 400.5h2v1.5h-2zM168.5 400.5h2v1.5h-2zM186.5 400.5h2v1.5h-2zM212.5 400.5h2v1.5h-2zM218.5 400.5h2v1.5h-2zM234.5 400.5h2v1.5h-2zM166.5 402h2v1.5h-2zM178.5 402h2v1.5h-2zM184.5 402h2v1.5h-2zM208.5 402h2v1.5h-2zM164.5 403.5h2v1.5h-2zM168.5 403.5h2v1.5h-2zM192.5 403.5h2v1.5h-2zM210.5 403.5h2v1.5h-2zM240.5 403.5h2v1.5h-2zM224.5 405h2v1.5h-2zM178.5 406.5h4v1.5h-4zM186.5 406.5h4v1.5h-4zM192.5 406.5h2v1.5h-2zM198.5 406.5h2v1.5h-2zM202.5 406.5h2v1.5h-2zM210.5 406.5h2v1.5h-2zM214.5 406.5h2v1.5h-2zM218.5 406.5h2v1.5h-2zM224.5 406.5h4v1.5h-4zM180.5 408h2v1.5h-2zM212.5 408h4v1.5h-4zM222.5 408h2v1.5h-2zM186.5 409.5h2v1.5h-2zM202.5 409.5h4v1.5h-4zM210.5 409.5h2v1.5h-2zM222.5 409.5h2v1.5h-2zM202.5 411h2v1.5h-2zM208.5 411h2v1.5h-2zM224.5 411h2v1.5h-2zM160.5 412.5h2v1.5h-2zM164.5 412.5h2v1.5h-2zM172.5 412.5h2v1.5h-2zM180.5 412.5h2v1.5h-2zM186.5 412.5h2v1.5h-2zM204.5 412.5h2v1.5h-2zM208.5 412.5h2v1.5h-2zM234.5 412.5h2v1.5h-2zM238.5 412.5h2v1.5h-2zM160.5 414h2v1.5h-2zM196.5 414h2v1.5h-2zM200.5 414h2v1.5h-2zM218.5 414h2v1.5h-2zM222.5 414h4v1.5h-4zM214.5 415.5h2v1.5h-2zM222.5 415.5h4v1.5h-4zM178.5 417h2v1.5h-2zM190.5 417h4v1.5h-4zM212.5 418.5h2v1.5h-2zM218.5 418.5h2v1.5h-2zM232.5 418.5h4v1.5h-4zM160.5 420h2v1.5h-2zM166.5 420h2v1.5h-2zM174.5 420h2v1.5h-2zM182.5 420h2v1.5h-2zM216.5 420h2v1.5h-2zM226.5 420h2v1.5h-2zM230.5 420h2v1.5h-2zM234.5 420h4v1.5h-4zM162.5 421.5h2v1.5h-2zM214.5 421.5h2v1.5h-2zM186.5 423h2v1.5h-2zM214.5 423h2v1.5h-2zM228.5 423h2v1.5h-2zM232.5 423h2v1.5h-2zM186.5 424.5h2v1.5h-2zM236.5 424.5h4v1.5h-4zM208.5 426h4v1.5h-4zM190.5 427.5h2v1.5h-2zM208.5 427.5h4v1.5h-4zM214.5 427.5h2v1.5h-2zM226.5 427.5h2v1.5h-2zM158.5 429h4v1.5h-4zM174.5 429h2v1.5h-2zM194.5 429h2v1.5h-2zM210.5 429h2v1.5h-2zM214.5 429h2v1.5h-2zM220.5 429h2v1.5h-2zM162.5 430.5h2v1.5h-2zM170.5 430.5h4v1.5h-4zM202.5 430.5h2v1.5h-2zM214.5 430.5h2v1.5h-2zM212.5 432h2v1.5h-2zM240.5 432h2v1.5h-2zM194.5 435h2v1.5h-2zM204.5 435h4v1.5h-4zM222.5 435h4v1.5h-4zM238.5 435h2v1.5h-2zM208.5 436.5h2v1.5h-2zM210.5 438h2v1.5h-2zM224.5 438h2v1.5h-2zM192.5 439.5h2v1.5h-2zM204.5 439.5h4v1.5h-4zM218.5 439.5h2v1.5h-2zM180.5 441h2v1.5h-2zM186.5 441h2v1.5h-2zM222.5 442.5h2v1.5h-2zM236.5 442.5h2v1.5h-2zM160.5 444h2v1.5h-2zM198.5 444h4v1.5h-4zM212.5 444h2v1.5h-2zM220.5 444h6v1.5h-6zM234.5 444h2v1.5h-2zM238.5 444h2v1.5h-2zM224.5 445.5h2v1.5h-2zM232.5 445.5h2v1.5h-2zM240.5 445.5h2v1.5h-2zM206.5 447h2v1.5h-2zM228.5 447h2v1.5h-2zM234.5 447h4v1.5h-4zM240.5 447h2v1.5h-2zM88.5 451.5h2v1.5h-2zM96.5 451.5h2v1.5h-2zM102.5 451.5h2v1.5h-2zM102.5 453h2v1.5h-2zM140.5 453h2v1.5h-2zM148.5 453h2v1.5h-2zM114.5 454.5h2v1.5h-2zM144.5 454.5h2v1.5h-2zM148.5 454.5h2v1.5h-2zM110.5 456h2v1.5h-2zM148.5 456h2v1.5h-2zM94.5 457.5h2v1.5h-2zM100.5 459h2v1.5h-2zM106.5 459h4v1.5h-4zM68.5 460.5h2v1.5h-2zM86.5 460.5h2v1.5h-2zM140.5 460.5h2v1.5h-2zM152.5 460.5h2v1.5h-2zM138.5 462h2v1.5h-2zM142.5 462h2v1.5h-2zM146.5 462h2v1.5h-2zM152.5 462h2v1.5h-2zM242.5 462h1v1.5h-1zM58.5 463.5h2v1.5h-2zM70.5 463.5h2v1.5h-2zM142.5 463.5h6v1.5h-6zM150.5 463.5h2v1.5h-2zM46.5 465h2v1.5h-2zM138.5 465h2v1.5h-2zM144.5 465h2v1.5h-2zM152.5 465h2v1.5h-2zM42.5 466.5h2v1.5h-2zM50.5 466.5h2v1.5h-2zM82.5 466.5h2v1.5h-2zM144.5 466.5h2v1.5h-2zM72.5 468h2v1.5h-2zM132.5 469.5h2v1.5h-2zM142.5 469.5h2v1.5h-2zM148.5 471h2v1.5h-2zM140.5 472.5h2v1.5h-2zM144.5 472.5h2v1.5h-2zM152.5 472.5h2v1.5h-2zM38.5 474h2v1.5h-2zM48.5 474h2v1.5h-2zM52.5 474h4v1.5h-4zM66.5 474h2v1.5h-2zM70.5 474h2v1.5h-2zM80.5 474h2v1.5h-2zM84.5 474h2v1.5h-2zM144.5 474h2v1.5h-2zM48.5 475.5h2v1.5h-2zM58.5 475.5h2v1.5h-2zM60.5 477h2v1.5h-2zM66.5 477h2v1.5h-2zM136.5 477h4v1.5h-4zM150.5 477h2v1.5h-2zM156.5 477h2v1.5h-2zM236.5 477h2v1.5h-2zM58.5 478.5h2v1.5h-2zM62.5 478.5h4v1.5h-4zM68.5 478.5h2v1.5h-2zM132.5 478.5h6v1.5h-6zM140.5 478.5h2v1.5h-2zM90.5 480h2v1.5h-2zM138.5 480h4v1.5h-4zM148.5 480h2v1.5h-2zM60.5 481.5h2v1.5h-2zM66.5 481.5h2v1.5h-2zM72.5 481.5h4v1.5h-4zM78.5 481.5h2v1.5h-2zM86.5 481.5h2v1.5h-2zM136.5 481.5h2v1.5h-2zM140.5 483h2v1.5h-2zM236.5 490.5h2v1.5h-2zM234.5 492h4v1.5h-4zM212.5 493.5h2v1.5h-2zM208.5 495h2v1.5h-2zM232.5 501h2v1.5h-2zM190.5 504h2v1h-2zM194.5 504h2v1h-2z" fill="#f5cbbd"/>
<path d="M192.5 357h2v1.5h-2zM196.5 357h2v1.5h-2zM206.5 357h2v1.5h-2zM228.5 357h4v1.5h-4zM238.5 357h4v1.5h-4zM196.5 358.5h2v1.5h-2zM204.5 358.5h2v1.5h-2zM208.5 358.5h2v1.5h-2zM224.5 358.5h2v1.5h-2zM196.5 363h2v1.5h-2zM176.5 364.5h2v1.5h-2zM190.5 364.5h2v1.5h-2zM194.5 364.5h2v1.5h-2zM236.5 364.5h2v1.5h-2zM214.5 366h2v1.5h-2zM190.5 370.5h2v1.5h-2zM188.5 373.5h4v1.5h-4zM204.5 375h2v1.5h-2zM226.5 375h2v1.5h-2zM232.5 375h2v1.5h-2zM238.5 375h2v1.5h-2zM160.5 376.5h2v1.5h-2zM188.5 376.5h2v1.5h-2zM188.5 379.5h2v1.5h-2zM188.5 381h2v1.5h-2zM188.5 382.5h2v1.5h-2zM190.5 384h2v1.5h-2zM196.5 384h2v1.5h-2zM204.5 384h2v1.5h-2zM232.5 385.5h2v1.5h-2zM214.5 387h2v1.5h-2zM232.5 387h2v1.5h-2zM166.5 390h2v1.5h-2zM186.5 390h4v1.5h-4zM220.5 390h2v1.5h-2zM160.5 391.5h2v1.5h-2zM176.5 391.5h2v1.5h-2zM188.5 391.5h2v1.5h-2zM234.5 391.5h2v1.5h-2zM160.5 393h2v1.5h-2zM214.5 393h2v1.5h-2zM176.5 394.5h4v1.5h-4zM186.5 394.5h2v1.5h-2zM226.5 394.5h2v1.5h-2zM184.5 396h2v1.5h-2zM190.5 396h2v1.5h-2zM180.5 397.5h2v1.5h-2zM176.5 399h2v1.5h-2zM184.5 399h4v1.5h-4zM210.5 399h2v1.5h-2zM174.5 400.5h2v1.5h-2zM192.5 400.5h2v1.5h-2zM204.5 400.5h2v1.5h-2zM208.5 400.5h2v1.5h-2zM214.5 400.5h2v1.5h-2zM236.5 400.5h2v1.5h-2zM170.5 402h2v1.5h-2zM236.5 402h2v1.5h-2zM174.5 403.5h2v1.5h-2zM194.5 403.5h2v1.5h-2zM200.5 403.5h2v1.5h-2zM206.5 403.5h4v1.5h-4zM214.5 403.5h2v1.5h-2zM234.5 403.5h4v1.5h-4zM220.5 406.5h4v1.5h-4zM232.5 408h2v1.5h-2zM190.5 409.5h2v1.5h-2zM208.5 409.5h2v1.5h-2zM212.5 409.5h4v1.5h-4zM224.5 409.5h2v1.5h-2zM238.5 409.5h2v1.5h-2zM236.5 411h2v1.5h-2zM170.5 412.5h2v1.5h-2zM214.5 414h2v1.5h-2zM232.5 414h2v1.5h-2zM232.5 415.5h2v1.5h-2zM186.5 417h2v1.5h-2zM208.5 418.5h2v1.5h-2zM200.5 420h2v1.5h-2zM214.5 420h2v1.5h-2zM228.5 420h2v1.5h-2zM208.5 421.5h2v1.5h-2zM212.5 421.5h2v1.5h-2zM236.5 423h2v1.5h-2zM186.5 429h2v1.5h-2zM222.5 429h2v1.5h-2zM236.5 429h2v1.5h-2zM188.5 430.5h2v1.5h-2zM208.5 432h2v1.5h-2zM226.5 432h4v1.5h-4zM238.5 432h2v1.5h-2zM214.5 435h2v1.5h-2zM240.5 435h2v1.5h-2zM208.5 438h2v1.5h-2zM232.5 438h2v1.5h-2zM214.5 439.5h2v1.5h-2zM224.5 439.5h2v1.5h-2zM232.5 442.5h2v1.5h-2zM178.5 444h2v1.5h-2zM190.5 444h2v1.5h-2zM194.5 444h2v1.5h-2zM214.5 444h2v1.5h-2zM218.5 444h2v1.5h-2zM226.5 445.5h2v1.5h-2zM190.5 447h2v1.5h-2zM214.5 447h2v1.5h-2zM232.5 447h2v1.5h-2zM114.5 456h2v1.5h-2zM146.5 456h2v1.5h-2zM102.5 457.5h2v1.5h-2zM146.5 457.5h4v1.5h-4zM96.5 459h4v1.5h-4zM114.5 459h2v1.5h-2zM70.5 460.5h2v1.5h-2zM74.5 460.5h2v1.5h-2zM132.5 460.5h2v1.5h-2zM72.5 462h2v1.5h-2zM130.5 462h2v1.5h-2zM136.5 462h2v1.5h-2zM156.5 462h2v1.5h-2zM68.5 463.5h2v1.5h-2zM74.5 463.5h2v1.5h-2zM88.5 463.5h4v1.5h-4zM136.5 465h2v1.5h-2zM150.5 465h2v1.5h-2zM40.5 466.5h2v1.5h-2zM56.5 466.5h2v1.5h-2zM76.5 466.5h2v1.5h-2zM152.5 466.5h2v1.5h-2zM48.5 469.5h2v1.5h-2zM58.5 469.5h4v1.5h-4zM134.5 469.5h2v1.5h-2zM50.5 471h2v1.5h-2zM154.5 471h2v1.5h-2zM62.5 472.5h2v1.5h-2zM68.5 472.5h4v1.5h-4zM78.5 472.5h2v1.5h-2zM138.5 472.5h2v1.5h-2zM40.5 474h2v1.5h-2zM142.5 474h2v1.5h-2zM146.5 474h2v1.5h-2zM154.5 474h2v1.5h-2zM82.5 475.5h2v1.5h-2zM64.5 477h2v1.5h-2zM72.5 477h2v1.5h-2zM140.5 477h2v1.5h-2zM146.5 477h2v1.5h-2zM44.5 478.5h2v1.5h-2zM84.5 478.5h2v1.5h-2zM58.5 480h2v1.5h-2zM192.5 493.5h2v1.5h-2zM208.5 504h2v1h-2zM214.5 504h2v1h-2zM222.5 504h2v1h-2z" fill="#f5bdaf"/>
<path d="M194.5 357h2v1.5h-2zM226.5 357h2v1.5h-2zM234.5 357h2v1.5h-2zM192.5 363h2v1.5h-2zM208.5 370.5h2v1.5h-2zM194.5 372h2v1.5h-2zM208.5 372h2v1.5h-2zM224.5 372h2v1.5h-2zM184.5 373.5h2v1.5h-2zM214.5 375h2v1.5h-2zM234.5 375h2v1.5h-2zM232.5 382.5h2v1.5h-2zM172.5 393h2v1.5h-2zM188.5 394.5h2v1.5h-2zM234.5 394.5h2v1.5h-2zM208.5 396h2v1.5h-2zM176.5 400.5h2v1.5h-2zM176.5 402h2v1.5h-2zM186.5 402h2v1.5h-2zM226.5 402h2v1.5h-2zM204.5 403.5h2v1.5h-2zM212.5 403.5h2v1.5h-2zM190.5 406.5h2v1.5h-2zM194.5 409.5h2v1.5h-2zM176.5 412.5h2v1.5h-2zM188.5 412.5h2v1.5h-2zM236.5 412.5h2v1.5h-2zM236.5 414h2v1.5h-2zM190.5 418.5h2v1.5h-2zM186.5 421.5h2v1.5h-2zM230.5 432h2v1.5h-2zM234.5 432h2v1.5h-2zM190.5 435h2v1.5h-2zM234.5 435h4v1.5h-4zM208.5 439.5h2v1.5h-2zM188.5 442.5h2v1.5h-2zM216.5 444h2v1.5h-2zM232.5 444h2v1.5h-2zM108.5 453h2v1.5h-2zM118.5 453h2v1.5h-2zM140.5 454.5h2v1.5h-2zM90.5 459h4v1.5h-4zM102.5 459h4v1.5h-4zM78.5 460.5h2v1.5h-2zM82.5 460.5h2v1.5h-2zM130.5 460.5h2v1.5h-2zM76.5 463.5h2v1.5h-2zM86.5 469.5h2v1.5h-2zM150.5 469.5h2v1.5h-2zM144.5 471h2v1.5h-2zM146.5 472.5h2v1.5h-2zM156.5 472.5h2v1.5h-2zM82.5 474h2v1.5h-2zM88.5 474h2v1.5h-2zM130.5 474h2v1.5h-2zM150.5 474h2v1.5h-2zM72.5 478.5h2v1.5h-2zM130.5 478.5h2v1.5h-2zM138.5 478.5h2v1.5h-2zM72.5 480h2v1.5h-2z" fill="#f5afa1"/>
<path d="M202.5 357h2v1.5h-2zM210.5 357h2v1.5h-2zM140.5 358.5h2v1.5h-2zM144.5 358.5h6v1.5h-6zM162.5 358.5h2v1.5h-2zM170.5 358.5h2v1.5h-2zM190.5 358.5h2v1.5h-2zM210.5 358.5h2v1.5h-2zM218.5 358.5h2v1.5h-2zM232.5 358.5h2v1.5h-2zM178.5 360h2v1.5h-2zM214.5 360h2v1.5h-2zM218.5 360h2v1.5h-2zM204.5 361.5h4v1.5h-4zM214.5 361.5h2v1.5h-2zM232.5 361.5h2v1.5h-2zM202.5 363h4v1.5h-4zM208.5 363h2v1.5h-2zM186.5 364.5h2v1.5h-2zM202.5 364.5h2v1.5h-2zM176.5 366h2v1.5h-2zM204.5 366h4v1.5h-4zM224.5 366h2v1.5h-2zM192.5 367.5h2v1.5h-2zM204.5 367.5h2v1.5h-2zM214.5 367.5h2v1.5h-2zM222.5 367.5h2v1.5h-2zM232.5 367.5h2v1.5h-2zM210.5 369h2v1.5h-2zM162.5 370.5h2v1.5h-2zM192.5 370.5h2v1.5h-2zM196.5 370.5h2v1.5h-2zM214.5 370.5h2v1.5h-2zM218.5 370.5h2v1.5h-2zM222.5 370.5h2v1.5h-2zM226.5 370.5h2v1.5h-2zM230.5 370.5h2v1.5h-2zM186.5 372h2v1.5h-2zM192.5 372h2v1.5h-2zM196.5 372h4v1.5h-4zM206.5 372h2v1.5h-2zM226.5 372h2v1.5h-2zM232.5 372h2v1.5h-2zM236.5 372h2v1.5h-2zM160.5 373.5h2v1.5h-2zM164.5 373.5h2v1.5h-2zM168.5 373.5h2v1.5h-2zM182.5 373.5h2v1.5h-2zM200.5 373.5h2v1.5h-2zM212.5 373.5h2v1.5h-2zM226.5 373.5h2v1.5h-2zM232.5 373.5h2v1.5h-2zM186.5 375h2v1.5h-2zM192.5 375h2v1.5h-2zM198.5 375h2v1.5h-2zM206.5 375h2v1.5h-2zM222.5 375h2v1.5h-2zM230.5 375h2v1.5h-2zM236.5 375h2v1.5h-2zM164.5 376.5h4v1.5h-4zM170.5 376.5h2v1.5h-2zM174.5 376.5h2v1.5h-2zM194.5 376.5h2v1.5h-2zM218.5 376.5h2v1.5h-2zM234.5 376.5h2v1.5h-2zM238.5 376.5h4v1.5h-4zM186.5 378h2v1.5h-2zM196.5 378h2v1.5h-2zM222.5 378h2v1.5h-2zM164.5 379.5h2v1.5h-2zM172.5 379.5h2v1.5h-2zM178.5 379.5h2v1.5h-2zM212.5 379.5h2v1.5h-2zM224.5 379.5h2v1.5h-2zM160.5 381h2v1.5h-2zM170.5 381h2v1.5h-2zM196.5 381h2v1.5h-2zM218.5 381h2v1.5h-2zM230.5 381h2v1.5h-2zM160.5 382.5h4v1.5h-4zM168.5 382.5h4v1.5h-4zM176.5 382.5h2v1.5h-2zM182.5 382.5h4v1.5h-4zM190.5 382.5h2v1.5h-2zM224.5 382.5h2v1.5h-2zM78.5 384h2v1.5h-2zM138.5 384h2v1.5h-2zM166.5 384h2v1.5h-2zM176.5 384h4v1.5h-4zM200.5 384h2v1.5h-2zM208.5 384h4v1.5h-4zM224.5 384h2v1.5h-2zM232.5 384h4v1.5h-4zM172.5 385.5h2v1.5h-2zM200.5 385.5h2v1.5h-2zM222.5 385.5h2v1.5h-2zM240.5 385.5h2v1.5h-2zM176.5 387h2v1.5h-2zM184.5 387h2v1.5h-2zM194.5 387h4v1.5h-4zM200.5 387h2v1.5h-2zM138.5 388.5h2v1.5h-2zM176.5 388.5h2v1.5h-2zM158.5 390h2v1.5h-2zM192.5 390h2v1.5h-2zM196.5 390h2v1.5h-2zM210.5 390h2v1.5h-2zM174.5 391.5h2v1.5h-2zM198.5 391.5h2v1.5h-2zM182.5 394.5h2v1.5h-2zM230.5 394.5h2v1.5h-2zM236.5 394.5h2v1.5h-2zM220.5 396h6v1.5h-6zM206.5 399h2v1.5h-2zM218.5 399h2v1.5h-2zM224.5 399h4v1.5h-4zM232.5 399h2v1.5h-2zM236.5 399h2v1.5h-2zM160.5 400.5h2v1.5h-2zM172.5 400.5h2v1.5h-2zM178.5 400.5h2v1.5h-2zM196.5 400.5h2v1.5h-2zM200.5 400.5h2v1.5h-2zM228.5 400.5h2v1.5h-2zM168.5 402h2v1.5h-2zM190.5 402h2v1.5h-2zM194.5 402h2v1.5h-2zM200.5 402h2v1.5h-2zM210.5 402h4v1.5h-4zM220.5 402h2v1.5h-2zM224.5 402h2v1.5h-2zM234.5 402h2v1.5h-2zM238.5 402h4v1.5h-4zM176.5 403.5h2v1.5h-2zM180.5 403.5h2v1.5h-2zM190.5 403.5h2v1.5h-2zM220.5 403.5h4v1.5h-4zM226.5 403.5h2v1.5h-2zM194.5 405h2v1.5h-2zM160.5 406.5h6v1.5h-6zM172.5 406.5h4v1.5h-4zM234.5 406.5h2v1.5h-2zM238.5 406.5h2v1.5h-2zM200.5 408h2v1.5h-2zM218.5 408h2v1.5h-2zM224.5 408h2v1.5h-2zM230.5 408h2v1.5h-2zM236.5 408h2v1.5h-2zM160.5 409.5h2v1.5h-2zM184.5 409.5h2v1.5h-2zM192.5 409.5h2v1.5h-2zM200.5 409.5h2v1.5h-2zM220.5 409.5h2v1.5h-2zM232.5 409.5h2v1.5h-2zM138.5 411h2v1.5h-2zM178.5 411h2v1.5h-2zM188.5 411h2v1.5h-2zM194.5 411h2v1.5h-2zM216.5 411h2v1.5h-2zM174.5 412.5h2v1.5h-2zM216.5 412.5h4v1.5h-4zM178.5 414h2v1.5h-2zM186.5 414h2v1.5h-2zM206.5 414h2v1.5h-2zM212.5 414h2v1.5h-2zM216.5 414h2v1.5h-2zM238.5 414h4v1.5h-4zM202.5 415.5h2v1.5h-2zM206.5 415.5h4v1.5h-4zM216.5 415.5h2v1.5h-2zM226.5 415.5h2v1.5h-2zM230.5 415.5h2v1.5h-2zM200.5 417h2v1.5h-2zM210.5 417h2v1.5h-2zM220.5 417h2v1.5h-2zM228.5 417h2v1.5h-2zM196.5 418.5h2v1.5h-2zM236.5 418.5h2v1.5h-2zM240.5 418.5h2v1.5h-2zM172.5 420h2v1.5h-2zM188.5 420h2v1.5h-2zM192.5 420h4v1.5h-4zM238.5 420h2v1.5h-2zM164.5 421.5h2v1.5h-2zM180.5 421.5h4v1.5h-4zM190.5 421.5h2v1.5h-2zM196.5 421.5h2v1.5h-2zM200.5 421.5h2v1.5h-2zM204.5 421.5h2v1.5h-2zM218.5 421.5h2v1.5h-2zM224.5 421.5h2v1.5h-2zM168.5 423h2v1.5h-2zM224.5 423h2v1.5h-2zM170.5 424.5h2v1.5h-2zM180.5 424.5h2v1.5h-2zM190.5 424.5h2v1.5h-2zM204.5 424.5h2v1.5h-2zM206.5 426h2v1.5h-2zM232.5 426h2v1.5h-2zM194.5 427.5h2v1.5h-2zM212.5 427.5h2v1.5h-2zM236.5 427.5h2v1.5h-2zM164.5 429h2v1.5h-2zM176.5 429h2v1.5h-2zM180.5 429h2v1.5h-2zM188.5 429h2v1.5h-2zM226.5 429h2v1.5h-2zM178.5 430.5h2v1.5h-2zM182.5 430.5h4v1.5h-4zM206.5 430.5h2v1.5h-2zM216.5 430.5h2v1.5h-2zM236.5 430.5h2v1.5h-2zM202.5 432h2v1.5h-2zM210.5 432h2v1.5h-2zM218.5 432h2v1.5h-2zM164.5 433.5h2v1.5h-2zM176.5 433.5h2v1.5h-2zM238.5 433.5h2v1.5h-2zM160.5 435h2v1.5h-2zM200.5 435h2v1.5h-2zM214.5 436.5h2v1.5h-2zM224.5 436.5h2v1.5h-2zM232.5 436.5h2v1.5h-2zM206.5 438h2v1.5h-2zM212.5 438h2v1.5h-2zM236.5 438h2v1.5h-2zM210.5 439.5h2v1.5h-2zM222.5 439.5h2v1.5h-2zM160.5 441h2v1.5h-2zM174.5 441h2v1.5h-2zM182.5 441h4v1.5h-4zM188.5 441h2v1.5h-2zM226.5 441h2v1.5h-2zM232.5 441h4v1.5h-4zM164.5 442.5h2v1.5h-2zM240.5 442.5h2v1.5h-2zM204.5 444h2v1.5h-2zM226.5 444h2v1.5h-2zM214.5 445.5h2v1.5h-2zM230.5 445.5h2v1.5h-2zM234.5 445.5h2v1.5h-2zM160.5 447h2v1.5h-2zM178.5 447h2v1.5h-2zM186.5 447h2v1.5h-2zM226.5 447h2v1.5h-2zM96.5 453h4v1.5h-4zM110.5 453h2v1.5h-2zM122.5 453h2v1.5h-2zM144.5 453h2v1.5h-2zM142.5 454.5h2v1.5h-2zM98.5 456h2v1.5h-2zM116.5 456h2v1.5h-2zM142.5 456h2v1.5h-2zM96.5 457.5h2v1.5h-2zM108.5 457.5h2v1.5h-2zM118.5 457.5h2v1.5h-2zM142.5 457.5h4v1.5h-4zM88.5 459h2v1.5h-2zM110.5 459h2v1.5h-2zM38.5 460.5h2v1.5h-2zM58.5 460.5h2v1.5h-2zM66.5 460.5h2v1.5h-2zM88.5 460.5h2v1.5h-2zM142.5 460.5h2v1.5h-2zM146.5 460.5h4v1.5h-4zM226.5 460.5h2v1.5h-2zM232.5 460.5h6v1.5h-6zM68.5 462h2v1.5h-2zM140.5 462h2v1.5h-2zM148.5 462h2v1.5h-2zM154.5 462h2v1.5h-2zM130.5 463.5h4v1.5h-4zM88.5 465h4v1.5h-4zM62.5 466.5h2v1.5h-2zM72.5 466.5h2v1.5h-2zM130.5 466.5h2v1.5h-2zM54.5 468h2v1.5h-2zM80.5 468h2v1.5h-2zM84.5 468h2v1.5h-2zM152.5 468h2v1.5h-2zM52.5 469.5h2v1.5h-2zM56.5 469.5h2v1.5h-2zM68.5 469.5h2v1.5h-2zM72.5 469.5h2v1.5h-2zM144.5 469.5h2v1.5h-2zM154.5 469.5h2v1.5h-2zM44.5 471h4v1.5h-4zM60.5 471h2v1.5h-2zM60.5 472.5h2v1.5h-2zM72.5 472.5h2v1.5h-2zM82.5 472.5h2v1.5h-2zM42.5 474h2v1.5h-2zM50.5 474h2v1.5h-2zM62.5 474h2v1.5h-2zM52.5 475.5h2v1.5h-2zM88.5 475.5h2v1.5h-2zM132.5 475.5h2v1.5h-2zM152.5 475.5h6v1.5h-6zM54.5 477h2v1.5h-2zM134.5 477h2v1.5h-2zM142.5 477h2v1.5h-2zM232.5 477h4v1.5h-4zM42.5 478.5h2v1.5h-2zM52.5 478.5h2v1.5h-2zM66.5 478.5h2v1.5h-2zM82.5 478.5h2v1.5h-2zM142.5 478.5h4v1.5h-4zM76.5 480h2v1.5h-2zM132.5 480h2v1.5h-2zM146.5 480h2v1.5h-2zM40.5 481.5h2v1.5h-2zM154.5 481.5h2v1.5h-2zM242.5 481.5h1v1.5h-1zM56.5 483h2v1.5h-2zM72.5 486h2v1.5h-2zM194.5 492h2v1.5h-2zM208.5 492h2v1.5h-2zM232.5 492h2v1.5h-2zM188.5 493.5h2v1.5h-2zM194.5 493.5h2v1.5h-2zM202.5 493.5h2v1.5h-2zM232.5 493.5h2v1.5h-2zM236.5 493.5h2v1.5h-2zM208.5 498h2v1.5h-2zM176.5 499.5h2v1.5h-2zM228.5 499.5h2v1.5h-2zM232.5 499.5h2v1.5h-2zM238.5 499.5h2v1.5h-2zM174.5 501h2v1.5h-2zM208.5 501h2v1.5h-2zM216.5 501h2v1.5h-2zM240.5 501h2v1.5h-2zM186.5 502.5h2v1.5h-2zM176.5 504h2v1h-2zM192.5 504h2v1h-2zM212.5 504h2v1h-2zM216.5 504h4v1h-4zM224.5 504h4v1h-4zM236.5 504h2v1h-2z" fill="#f5d9cb"/>
<path d="M214.5 357h2v1.5h-2zM208.5 364.5h2v1.5h-2zM212.5 370.5h2v1.5h-2zM230.5 382.5h2v1.5h-2zM188.5 388.5h2v1.5h-2zM168.5 391.5h2v1.5h-2zM188.5 400.5h2v1.5h-2zM196.5 406.5h2v1.5h-2zM208.5 417h2v1.5h-2zM178.5 420h4v1.5h-4zM176.5 435h2v1.5h-2zM226.5 435h2v1.5h-2zM234.5 436.5h2v1.5h-2zM82.5 463.5h2v1.5h-2zM156.5 463.5h2v1.5h-2zM130.5 469.5h2v1.5h-2zM136.5 469.5h2v1.5h-2zM156.5 469.5h2v1.5h-2zM150.5 471h2v1.5h-2zM136.5 474h2v1.5h-2zM140.5 474h2v1.5h-2zM144.5 477h2v1.5h-2zM152.5 477h2v1.5h-2zM242.5 477h1v1.5h-1z" fill="#f5a193"/>
<path d="M194.5 358.5h2v1.5h-2zM222.5 360h2v1.5h-2zM226.5 364.5h2v1.5h-2zM232.5 364.5h2v1.5h-2zM210.5 373.5h2v1.5h-2zM214.5 373.5h2v1.5h-2zM194.5 375h2v1.5h-2zM212.5 381h2v1.5h-2zM220.5 381h2v1.5h-2zM222.5 387h2v1.5h-2zM226.5 387h6v1.5h-6zM186.5 391.5h2v1.5h-2zM226.5 391.5h2v1.5h-2zM172.5 394.5h2v1.5h-2zM166.5 399h2v1.5h-2zM160.5 402h2v1.5h-2zM180.5 402h2v1.5h-2zM232.5 403.5h2v1.5h-2zM236.5 405h2v1.5h-2zM208.5 406.5h2v1.5h-2zM216.5 406.5h2v1.5h-2zM188.5 409.5h2v1.5h-2zM226.5 412.5h2v1.5h-2zM208.5 414h2v1.5h-2zM192.5 418.5h2v1.5h-2zM196.5 420h2v1.5h-2zM232.5 421.5h2v1.5h-2zM230.5 423h2v1.5h-2zM234.5 423h2v1.5h-2zM186.5 427.5h2v1.5h-2zM194.5 432h2v1.5h-2zM208.5 435h2v1.5h-2zM218.5 435h2v1.5h-2zM220.5 436.5h2v1.5h-2zM236.5 436.5h2v1.5h-2zM166.5 441h2v1.5h-2zM236.5 445.5h2v1.5h-2zM238.5 447h2v1.5h-2zM112.5 459h2v1.5h-2zM64.5 460.5h2v1.5h-2zM84.5 460.5h2v1.5h-2zM136.5 460.5h2v1.5h-2zM50.5 463.5h2v1.5h-2zM64.5 465h2v1.5h-2zM130.5 465h4v1.5h-4zM70.5 469.5h2v1.5h-2zM148.5 469.5h2v1.5h-2zM136.5 472.5h2v1.5h-2zM148.5 472.5h2v1.5h-2zM130.5 475.5h2v1.5h-2zM60.5 478.5h2v1.5h-2zM78.5 478.5h2v1.5h-2zM152.5 480h4v1.5h-4zM58.5 481.5h2v1.5h-2zM88.5 481.5h2v1.5h-2zM152.5 481.5h2v1.5h-2zM210.5 504h2v1h-2z" fill="#f5bdbd"/>
<path d="M214.5 358.5h2v1.5h-2zM234.5 361.5h2v1.5h-2zM196.5 364.5h2v1.5h-2zM176.5 376.5h2v1.5h-2zM234.5 382.5h2v1.5h-2zM212.5 406.5h2v1.5h-2zM192.5 414h2v1.5h-2zM194.5 417h2v1.5h-2zM138.5 483h2v1.5h-2z" fill="#f5af93"/>
<path d="M96.5 360h2v1.5h-2zM122.5 360h2v1.5h-2zM150.5 360h2v1.5h-2zM158.5 360h2v1.5h-2zM90.5 361.5h4v1.5h-4zM98.5 361.5h2v1.5h-2zM102.5 361.5h8v1.5h-8zM112.5 361.5h2v1.5h-2zM118.5 361.5h6v1.5h-6zM128.5 361.5h4v1.5h-4zM154.5 361.5h2v1.5h-2zM88.5 363h4v1.5h-4zM96.5 363h18v1.5h-18zM116.5 363h12v1.5h-12zM130.5 363h2v1.5h-2zM152.5 363h2v1.5h-2zM90.5 364.5h2v1.5h-2zM94.5 364.5h2v1.5h-2zM98.5 364.5h16v1.5h-16zM116.5 364.5h2v1.5h-2zM120.5 364.5h2v1.5h-2zM124.5 364.5h4v1.5h-4zM90.5 366h8v1.5h-8zM100.5 366h26v1.5h-26zM128.5 366h4v1.5h-4zM46.5 367.5h2v1.5h-2zM84.5 367.5h2v1.5h-2zM92.5 367.5h6v1.5h-6zM100.5 367.5h2v1.5h-2zM108.5 367.5h4v1.5h-4zM116.5 367.5h2v1.5h-2zM120.5 367.5h2v1.5h-2zM124.5 367.5h4v1.5h-4zM130.5 367.5h4v1.5h-4zM140.5 367.5h6v1.5h-6zM156.5 367.5h4v1.5h-4zM90.5 369h2v1.5h-2zM96.5 369h2v1.5h-2zM104.5 369h2v1.5h-2zM114.5 369h2v1.5h-2zM128.5 369h2v1.5h-2zM152.5 369h2v1.5h-2zM198.5 369h2v1.5h-2zM238.5 369h2v1.5h-2zM100.5 370.5h2v1.5h-2zM116.5 370.5h2v1.5h-2zM62.5 372h4v1.5h-4zM88.5 372h8v1.5h-8zM98.5 372h4v1.5h-4zM106.5 372h10v1.5h-10zM118.5 372h4v1.5h-4zM124.5 372h12v1.5h-12zM150.5 372h2v1.5h-2zM154.5 372h2v1.5h-2zM88.5 373.5h14v1.5h-14zM104.5 373.5h6v1.5h-6zM114.5 373.5h6v1.5h-6zM122.5 373.5h8v1.5h-8zM134.5 373.5h4v1.5h-4zM150.5 373.5h2v1.5h-2zM154.5 373.5h4v1.5h-4zM64.5 375h2v1.5h-2zM74.5 375h2v1.5h-2zM38.5 376.5h2v1.5h-2zM94.5 376.5h4v1.5h-4zM100.5 376.5h2v1.5h-2zM104.5 376.5h10v1.5h-10zM120.5 376.5h2v1.5h-2zM124.5 376.5h2v1.5h-2zM88.5 378h10v1.5h-10zM102.5 378h24v1.5h-24zM128.5 378h4v1.5h-4zM88.5 379.5h4v1.5h-4zM94.5 379.5h6v1.5h-6zM102.5 379.5h22v1.5h-22zM126.5 379.5h2v1.5h-2zM150.5 379.5h2v1.5h-2zM90.5 381h2v1.5h-2zM94.5 381h2v1.5h-2zM100.5 381h2v1.5h-2zM104.5 381h4v1.5h-4zM110.5 381h2v1.5h-2zM116.5 381h6v1.5h-6zM124.5 381h2v1.5h-2zM128.5 381h2v1.5h-2zM88.5 382.5h10v1.5h-10zM100.5 382.5h6v1.5h-6zM108.5 382.5h6v1.5h-6zM116.5 382.5h4v1.5h-4zM122.5 382.5h6v1.5h-6zM130.5 382.5h2v1.5h-2zM206.5 382.5h2v1.5h-2zM116.5 385.5h2v1.5h-2zM120.5 385.5h2v1.5h-2zM132.5 385.5h2v1.5h-2zM64.5 388.5h2v1.5h-2zM68.5 388.5h2v1.5h-2zM84.5 388.5h2v1.5h-2zM90.5 388.5h2v1.5h-2zM94.5 388.5h2v1.5h-2zM100.5 388.5h2v1.5h-2zM104.5 388.5h6v1.5h-6zM116.5 388.5h2v1.5h-2zM120.5 388.5h6v1.5h-6zM128.5 388.5h2v1.5h-2zM206.5 388.5h2v1.5h-2zM54.5 390h2v1.5h-2zM132.5 390h4v1.5h-4zM152.5 390h4v1.5h-4zM60.5 391.5h4v1.5h-4zM88.5 391.5h2v1.5h-2zM100.5 391.5h2v1.5h-2zM104.5 391.5h2v1.5h-2zM108.5 391.5h2v1.5h-2zM116.5 391.5h6v1.5h-6zM132.5 391.5h2v1.5h-2zM154.5 391.5h2v1.5h-2zM100.5 393h2v1.5h-2zM104.5 393h2v1.5h-2zM120.5 393h2v1.5h-2zM130.5 393h2v1.5h-2zM154.5 393h2v1.5h-2zM92.5 394.5h2v1.5h-2zM96.5 394.5h2v1.5h-2zM100.5 394.5h2v1.5h-2zM104.5 394.5h2v1.5h-2zM120.5 394.5h2v1.5h-2zM126.5 394.5h2v1.5h-2zM88.5 396h2v1.5h-2zM94.5 396h4v1.5h-4zM100.5 396h8v1.5h-8zM110.5 396h2v1.5h-2zM114.5 396h4v1.5h-4zM120.5 396h8v1.5h-8zM130.5 396h2v1.5h-2zM134.5 396h2v1.5h-2zM100.5 397.5h2v1.5h-2zM106.5 397.5h2v1.5h-2zM116.5 397.5h2v1.5h-2zM124.5 397.5h4v1.5h-4zM132.5 397.5h4v1.5h-4zM150.5 397.5h2v1.5h-2zM88.5 399h10v1.5h-10zM104.5 399h2v1.5h-2zM108.5 399h2v1.5h-2zM114.5 399h4v1.5h-4zM120.5 399h2v1.5h-2zM124.5 399h6v1.5h-6zM88.5 400.5h10v1.5h-10zM100.5 400.5h16v1.5h-16zM118.5 400.5h2v1.5h-2zM122.5 400.5h2v1.5h-2zM126.5 400.5h2v1.5h-2zM130.5 400.5h2v1.5h-2zM116.5 403.5h2v1.5h-2zM38.5 405h2v1.5h-2zM44.5 405h6v1.5h-6zM52.5 405h2v1.5h-2zM56.5 405h2v1.5h-2zM62.5 405h2v1.5h-2zM74.5 405h2v1.5h-2zM80.5 405h2v1.5h-2zM88.5 405h2v1.5h-2zM100.5 405h2v1.5h-2zM104.5 405h4v1.5h-4zM114.5 405h10v1.5h-10zM132.5 405h2v1.5h-2zM168.5 405h2v1.5h-2zM88.5 406.5h4v1.5h-4zM96.5 406.5h16v1.5h-16zM114.5 406.5h12v1.5h-12zM128.5 406.5h4v1.5h-4zM134.5 406.5h2v1.5h-2zM154.5 406.5h2v1.5h-2zM88.5 408h4v1.5h-4zM94.5 408h2v1.5h-2zM100.5 408h12v1.5h-12zM116.5 408h2v1.5h-2zM120.5 408h2v1.5h-2zM126.5 408h2v1.5h-2zM130.5 408h2v1.5h-2zM116.5 411h2v1.5h-2zM154.5 412.5h2v1.5h-2zM88.5 415.5h2v1.5h-2zM116.5 415.5h2v1.5h-2zM124.5 415.5h2v1.5h-2zM184.5 415.5h2v1.5h-2zM84.5 417h2v1.5h-2zM88.5 417h6v1.5h-6zM98.5 417h8v1.5h-8zM108.5 417h6v1.5h-6zM116.5 417h4v1.5h-4zM122.5 417h2v1.5h-2zM126.5 417h6v1.5h-6zM44.5 418.5h2v1.5h-2zM88.5 418.5h18v1.5h-18zM108.5 418.5h2v1.5h-2zM118.5 418.5h6v1.5h-6zM126.5 418.5h6v1.5h-6zM134.5 418.5h2v1.5h-2zM152.5 418.5h2v1.5h-2zM156.5 418.5h2v1.5h-2zM182.5 418.5h2v1.5h-2zM198.5 418.5h2v1.5h-2zM88.5 423h12v1.5h-12zM102.5 423h20v1.5h-20zM124.5 423h2v1.5h-2zM128.5 423h2v1.5h-2zM38.5 424.5h6v1.5h-6zM54.5 424.5h2v1.5h-2zM62.5 424.5h2v1.5h-2zM84.5 424.5h2v1.5h-2zM92.5 424.5h2v1.5h-2zM96.5 424.5h2v1.5h-2zM112.5 424.5h2v1.5h-2zM118.5 424.5h2v1.5h-2zM122.5 424.5h2v1.5h-2zM130.5 424.5h2v1.5h-2zM154.5 424.5h2v1.5h-2zM88.5 426h4v1.5h-4zM96.5 426h2v1.5h-2zM100.5 426h8v1.5h-8zM114.5 426h4v1.5h-4zM120.5 426h8v1.5h-8zM78.5 427.5h2v1.5h-2zM88.5 427.5h8v1.5h-8zM108.5 427.5h2v1.5h-2zM112.5 427.5h4v1.5h-4zM118.5 427.5h6v1.5h-6zM126.5 427.5h6v1.5h-6zM150.5 427.5h2v1.5h-2zM154.5 427.5h2v1.5h-2zM240.5 427.5h3v1.5h-3zM38.5 429h2v1.5h-2zM88.5 429h2v1.5h-2zM94.5 429h4v1.5h-4zM102.5 429h10v1.5h-10zM114.5 429h6v1.5h-6zM122.5 429h6v1.5h-6zM130.5 429h2v1.5h-2zM180.5 432h2v1.5h-2zM60.5 433.5h2v1.5h-2zM100.5 433.5h2v1.5h-2zM154.5 433.5h2v1.5h-2zM48.5 436.5h2v1.5h-2zM52.5 436.5h2v1.5h-2zM60.5 436.5h4v1.5h-4zM68.5 436.5h2v1.5h-2zM74.5 436.5h2v1.5h-2zM80.5 436.5h2v1.5h-2zM84.5 436.5h4v1.5h-4zM92.5 436.5h2v1.5h-2zM96.5 436.5h2v1.5h-2zM104.5 436.5h4v1.5h-4zM110.5 436.5h4v1.5h-4zM116.5 436.5h2v1.5h-2zM120.5 436.5h10v1.5h-10zM132.5 436.5h2v1.5h-2zM148.5 436.5h2v1.5h-2zM158.5 436.5h2v1.5h-2zM170.5 436.5h2v1.5h-2zM182.5 436.5h6v1.5h-6zM52.5 438h4v1.5h-4zM62.5 438h2v1.5h-2zM166.5 438h2v1.5h-2zM80.5 439.5h2v1.5h-2zM120.5 439.5h2v1.5h-2zM160.5 439.5h2v1.5h-2zM164.5 439.5h2v1.5h-2zM178.5 439.5h2v1.5h-2zM242.5 439.5h1v1.5h-1zM42.5 441h4v1.5h-4zM52.5 441h2v1.5h-2zM60.5 441h4v1.5h-4zM84.5 441h2v1.5h-2zM94.5 441h2v1.5h-2zM100.5 441h2v1.5h-2zM130.5 441h8v1.5h-8zM142.5 441h4v1.5h-4zM148.5 441h4v1.5h-4zM154.5 441h2v1.5h-2zM62.5 442.5h2v1.5h-2zM122.5 444h2v1.5h-2zM46.5 445.5h2v1.5h-2zM162.5 445.5h2v1.5h-2zM170.5 445.5h2v1.5h-2zM182.5 445.5h2v1.5h-2zM196.5 448.5h4v1.5h-4zM204.5 448.5h2v1.5h-2zM220.5 448.5h2v1.5h-2zM84.5 450h2v1.5h-2zM100.5 450h2v1.5h-2zM242.5 450h1v1.5h-1zM40.5 451.5h14v1.5h-14zM56.5 451.5h4v1.5h-4zM62.5 451.5h2v1.5h-2zM66.5 451.5h4v1.5h-4zM74.5 451.5h4v1.5h-4zM80.5 451.5h8v1.5h-8zM104.5 451.5h2v1.5h-2zM126.5 451.5h4v1.5h-4zM150.5 451.5h4v1.5h-4zM158.5 451.5h2v1.5h-2zM162.5 451.5h14v1.5h-14zM182.5 451.5h4v1.5h-4zM194.5 451.5h2v1.5h-2zM198.5 451.5h8v1.5h-8zM216.5 451.5h2v1.5h-2zM226.5 451.5h4v1.5h-4zM234.5 451.5h2v1.5h-2zM238.5 451.5h2v1.5h-2zM242.5 451.5h1v1.5h-1zM60.5 453h4v1.5h-4zM158.5 453h2v1.5h-2zM162.5 453h2v1.5h-2zM184.5 453h2v1.5h-2zM190.5 453h4v1.5h-4zM204.5 453h12v1.5h-12zM218.5 453h6v1.5h-6zM240.5 453h3v1.5h-3zM84.5 454.5h2v1.5h-2zM196.5 454.5h8v1.5h-8zM220.5 454.5h2v1.5h-2zM38.5 456h2v1.5h-2zM46.5 456h4v1.5h-4zM60.5 456h10v1.5h-10zM74.5 456h4v1.5h-4zM80.5 456h2v1.5h-2zM84.5 456h4v1.5h-4zM126.5 456h4v1.5h-4zM132.5 456h2v1.5h-2zM158.5 456h2v1.5h-2zM162.5 456h4v1.5h-4zM170.5 456h2v1.5h-2zM184.5 456h2v1.5h-2zM196.5 456h4v1.5h-4zM202.5 456h2v1.5h-2zM206.5 456h2v1.5h-2zM214.5 456h4v1.5h-4zM228.5 456h2v1.5h-2zM240.5 456h3v1.5h-3zM60.5 457.5h4v1.5h-4zM68.5 457.5h2v1.5h-2zM74.5 457.5h2v1.5h-2zM80.5 457.5h2v1.5h-2zM84.5 457.5h2v1.5h-2zM126.5 457.5h2v1.5h-2zM158.5 457.5h6v1.5h-6zM168.5 457.5h2v1.5h-2zM172.5 457.5h14v1.5h-14zM130.5 459h8v1.5h-8zM150.5 459h2v1.5h-2zM154.5 459h4v1.5h-4zM158.5 460.5h2v1.5h-2zM84.5 462h2v1.5h-2zM96.5 462h2v1.5h-2zM100.5 462h2v1.5h-2zM106.5 462h2v1.5h-2zM116.5 462h2v1.5h-2zM124.5 462h2v1.5h-2zM158.5 462h2v1.5h-2zM162.5 462h4v1.5h-4zM170.5 462h2v1.5h-2zM184.5 462h2v1.5h-2zM198.5 462h4v1.5h-4zM206.5 462h2v1.5h-2zM212.5 462h2v1.5h-2zM240.5 462h2v1.5h-2zM44.5 463.5h2v1.5h-2zM172.5 463.5h2v1.5h-2zM230.5 463.5h2v1.5h-2zM238.5 463.5h2v1.5h-2zM62.5 465h2v1.5h-2zM70.5 465h2v1.5h-2zM94.5 465h4v1.5h-4zM100.5 465h2v1.5h-2zM106.5 465h2v1.5h-2zM114.5 465h2v1.5h-2zM118.5 465h8v1.5h-8zM124.5 466.5h2v1.5h-2zM40.5 468h4v1.5h-4zM50.5 468h2v1.5h-2zM156.5 468h4v1.5h-4zM162.5 468h2v1.5h-2zM170.5 468h2v1.5h-2zM198.5 468h2v1.5h-2zM206.5 468h2v1.5h-2zM222.5 468h2v1.5h-2zM228.5 468h2v1.5h-2zM238.5 468h2v1.5h-2zM80.5 469.5h2v1.5h-2zM100.5 471h2v1.5h-2zM106.5 471h2v1.5h-2zM146.5 471h2v1.5h-2zM198.5 471h2v1.5h-2zM206.5 471h2v1.5h-2zM216.5 471h2v1.5h-2zM240.5 471h2v1.5h-2zM238.5 472.5h5v1.5h-5zM238.5 474h2v1.5h-2zM158.5 475.5h2v1.5h-2zM164.5 475.5h2v1.5h-2zM170.5 475.5h2v1.5h-2zM62.5 477h2v1.5h-2zM158.5 478.5h2v1.5h-2zM162.5 478.5h2v1.5h-2zM184.5 478.5h2v1.5h-2zM84.5 480h2v1.5h-2zM170.5 480h2v1.5h-2zM184.5 480h2v1.5h-2zM160.5 481.5h2v1.5h-2zM164.5 481.5h4v1.5h-4zM170.5 481.5h2v1.5h-2zM174.5 481.5h2v1.5h-2zM180.5 481.5h6v1.5h-6zM198.5 481.5h2v1.5h-2zM202.5 481.5h6v1.5h-6zM216.5 481.5h4v1.5h-4zM224.5 481.5h2v1.5h-2zM94.5 483h2v1.5h-2zM100.5 483h2v1.5h-2zM106.5 483h2v1.5h-2zM110.5 483h2v1.5h-2zM116.5 483h2v1.5h-2zM158.5 483h2v1.5h-2zM192.5 483h2v1.5h-2zM196.5 483h12v1.5h-12zM210.5 483h2v1.5h-2zM216.5 483h2v1.5h-2zM42.5 484.5h2v1.5h-2zM48.5 484.5h2v1.5h-2zM54.5 484.5h2v1.5h-2zM116.5 484.5h2v1.5h-2zM120.5 484.5h2v1.5h-2zM158.5 484.5h2v1.5h-2zM162.5 484.5h4v1.5h-4zM170.5 484.5h6v1.5h-6zM182.5 484.5h2v1.5h-2zM190.5 484.5h12v1.5h-12zM204.5 484.5h10v1.5h-10zM216.5 484.5h10v1.5h-10zM228.5 484.5h2v1.5h-2zM238.5 484.5h5v1.5h-5zM40.5 487.5h16v1.5h-16zM60.5 487.5h2v1.5h-2zM66.5 487.5h8v1.5h-8zM76.5 487.5h4v1.5h-4zM86.5 487.5h4v1.5h-4zM92.5 487.5h2v1.5h-2zM96.5 487.5h4v1.5h-4zM102.5 487.5h2v1.5h-2zM110.5 487.5h2v1.5h-2zM122.5 487.5h8v1.5h-8zM132.5 487.5h6v1.5h-6zM140.5 487.5h8v1.5h-8zM152.5 487.5h2v1.5h-2zM242.5 487.5h1v1.5h-1zM40.5 489h6v1.5h-6zM48.5 489h6v1.5h-6zM56.5 489h2v1.5h-2zM68.5 489h6v1.5h-6zM76.5 489h4v1.5h-4zM82.5 489h2v1.5h-2zM86.5 489h4v1.5h-4zM92.5 489h4v1.5h-4zM98.5 489h2v1.5h-2zM108.5 489h2v1.5h-2zM112.5 489h4v1.5h-4zM138.5 489h4v1.5h-4zM182.5 489h2v1.5h-2zM52.5 492h2v1.5h-2zM62.5 492h2v1.5h-2zM84.5 492h2v1.5h-2zM96.5 492h2v1.5h-2zM116.5 492h2v1.5h-2zM124.5 492h2v1.5h-2zM144.5 492h2v1.5h-2zM242.5 492h1v1.5h-1zM40.5 493.5h2v1.5h-2zM50.5 493.5h4v1.5h-4zM60.5 493.5h2v1.5h-2zM68.5 493.5h2v1.5h-2zM74.5 493.5h2v1.5h-2zM80.5 493.5h2v1.5h-2zM88.5 493.5h2v1.5h-2zM96.5 493.5h2v1.5h-2zM100.5 493.5h4v1.5h-4zM106.5 493.5h2v1.5h-2zM110.5 493.5h4v1.5h-4zM116.5 493.5h2v1.5h-2zM120.5 493.5h2v1.5h-2zM124.5 493.5h2v1.5h-2zM130.5 493.5h2v1.5h-2zM134.5 493.5h2v1.5h-2zM142.5 493.5h10v1.5h-10zM156.5 493.5h2v1.5h-2zM80.5 495h2v1.5h-2zM134.5 495h2v1.5h-2zM142.5 495h2v1.5h-2zM146.5 495h8v1.5h-8zM156.5 495h2v1.5h-2zM184.5 495h2v1.5h-2zM242.5 495h1v1.5h-1zM38.5 496.5h2v1.5h-2zM46.5 496.5h2v1.5h-2zM50.5 496.5h2v1.5h-2zM54.5 496.5h2v1.5h-2zM58.5 496.5h4v1.5h-4zM64.5 496.5h8v1.5h-8zM74.5 496.5h4v1.5h-4zM80.5 496.5h2v1.5h-2zM84.5 496.5h16v1.5h-16zM102.5 496.5h2v1.5h-2zM106.5 496.5h8v1.5h-8zM118.5 496.5h8v1.5h-8zM128.5 496.5h10v1.5h-10zM142.5 496.5h10v1.5h-10zM154.5 496.5h4v1.5h-4zM242.5 496.5h1v1.5h-1zM40.5 498h2v1.5h-2zM70.5 498h4v1.5h-4zM78.5 498h6v1.5h-6zM88.5 498h2v1.5h-2zM94.5 498h2v1.5h-2zM110.5 498h6v1.5h-6zM118.5 498h2v1.5h-2zM122.5 498h2v1.5h-2zM130.5 498h8v1.5h-8zM142.5 498h4v1.5h-4zM148.5 498h10v1.5h-10zM38.5 499.5h2v1.5h-2zM44.5 499.5h8v1.5h-8zM58.5 499.5h6v1.5h-6zM80.5 499.5h2v1.5h-2zM90.5 499.5h2v1.5h-2zM96.5 499.5h2v1.5h-2zM100.5 499.5h2v1.5h-2zM104.5 499.5h6v1.5h-6zM116.5 499.5h2v1.5h-2zM120.5 499.5h4v1.5h-4zM130.5 499.5h8v1.5h-8zM142.5 499.5h4v1.5h-4zM148.5 499.5h6v1.5h-6zM156.5 499.5h2v1.5h-2zM38.5 501h2v1.5h-2zM46.5 501h6v1.5h-6zM54.5 501h4v1.5h-4zM242.5 501h1v1.5h-1zM38.5 502.5h12v1.5h-12zM54.5 502.5h4v1.5h-4zM100.5 502.5h2v1.5h-2zM130.5 502.5h6v1.5h-6zM142.5 502.5h10v1.5h-10zM154.5 502.5h2v1.5h-2zM242.5 502.5h1v1.5h-1zM38.5 504h4v1h-4zM46.5 504h2v1h-2zM60.5 504h2v1h-2z" fill="#e7e7f5"/>
<path d="M88.5 361.5h2v1.5h-2zM134.5 367.5h2v1.5h-2zM122.5 372h2v1.5h-2zM130.5 373.5h2v1.5h-2zM124.5 379.5h2v1.5h-2zM120.5 400.5h2v1.5h-2zM124.5 400.5h2v1.5h-2zM94.5 417h2v1.5h-2zM106.5 417h2v1.5h-2zM114.5 417h2v1.5h-2zM120.5 417h2v1.5h-2zM124.5 417h2v1.5h-2zM90.5 424.5h2v1.5h-2zM94.5 424.5h2v1.5h-2zM100.5 424.5h2v1.5h-2zM106.5 424.5h2v1.5h-2zM116.5 424.5h2v1.5h-2zM126.5 424.5h4v1.5h-4zM96.5 427.5h4v1.5h-4zM102.5 427.5h6v1.5h-6zM110.5 427.5h2v1.5h-2zM116.5 427.5h2v1.5h-2zM124.5 427.5h2v1.5h-2zM228.5 427.5h2v1.5h-2zM100.5 429h2v1.5h-2zM196.5 453h4v1.5h-4zM202.5 453h2v1.5h-2zM216.5 453h2v1.5h-2zM166.5 457.5h2v1.5h-2zM170.5 457.5h2v1.5h-2zM80.5 465h2v1.5h-2zM38.5 487.5h2v1.5h-2zM62.5 487.5h4v1.5h-4zM80.5 487.5h2v1.5h-2zM90.5 487.5h2v1.5h-2zM100.5 487.5h2v1.5h-2zM104.5 487.5h2v1.5h-2zM112.5 487.5h6v1.5h-6zM120.5 487.5h2v1.5h-2zM150.5 487.5h2v1.5h-2zM154.5 487.5h2v1.5h-2zM46.5 489h2v1.5h-2zM54.5 489h2v1.5h-2zM58.5 489h10v1.5h-10zM74.5 489h2v1.5h-2zM80.5 489h2v1.5h-2zM84.5 489h2v1.5h-2zM104.5 489h4v1.5h-4zM116.5 489h4v1.5h-4zM124.5 489h2v1.5h-2zM130.5 489h6v1.5h-6zM142.5 489h12v1.5h-12zM100.5 496.5h2v1.5h-2zM60.5 498h4v1.5h-4zM66.5 498h2v1.5h-2zM84.5 498h2v1.5h-2zM90.5 498h2v1.5h-2zM96.5 498h2v1.5h-2zM100.5 498h2v1.5h-2zM104.5 498h2v1.5h-2zM108.5 498h2v1.5h-2zM116.5 498h2v1.5h-2zM120.5 498h2v1.5h-2z" fill="#d9d9e7"/>
<path d="M94.5 361.5h4v1.5h-4zM100.5 361.5h2v1.5h-2zM110.5 361.5h2v1.5h-2zM114.5 361.5h4v1.5h-4zM124.5 361.5h4v1.5h-4zM136.5 367.5h2v1.5h-2zM150.5 367.5h6v1.5h-6zM170.5 367.5h2v1.5h-2zM96.5 372h2v1.5h-2zM102.5 372h4v1.5h-4zM116.5 372h2v1.5h-2zM120.5 373.5h2v1.5h-2zM100.5 378h2v1.5h-2zM126.5 378h2v1.5h-2zM100.5 379.5h2v1.5h-2zM128.5 379.5h4v1.5h-4zM106.5 382.5h2v1.5h-2zM114.5 382.5h2v1.5h-2zM120.5 382.5h2v1.5h-2zM128.5 382.5h2v1.5h-2zM130.5 394.5h2v1.5h-2zM116.5 400.5h2v1.5h-2zM94.5 406.5h2v1.5h-2zM96.5 408h2v1.5h-2zM96.5 417h2v1.5h-2zM106.5 418.5h2v1.5h-2zM116.5 418.5h2v1.5h-2zM124.5 418.5h2v1.5h-2zM100.5 423h2v1.5h-2zM122.5 423h2v1.5h-2zM130.5 423h2v1.5h-2zM88.5 424.5h2v1.5h-2zM98.5 424.5h2v1.5h-2zM102.5 424.5h4v1.5h-4zM108.5 424.5h4v1.5h-4zM114.5 424.5h2v1.5h-2zM120.5 424.5h2v1.5h-2zM124.5 424.5h2v1.5h-2zM100.5 427.5h2v1.5h-2zM162.5 436.5h4v1.5h-4zM38.5 451.5h2v1.5h-2zM54.5 451.5h2v1.5h-2zM240.5 451.5h2v1.5h-2zM194.5 453h2v1.5h-2zM200.5 453h2v1.5h-2zM224.5 453h2v1.5h-2zM164.5 457.5h2v1.5h-2zM54.5 462h2v1.5h-2zM38.5 463.5h2v1.5h-2zM40.5 480h2v1.5h-2zM76.5 483h2v1.5h-2zM202.5 484.5h2v1.5h-2zM56.5 487.5h4v1.5h-4zM74.5 487.5h2v1.5h-2zM84.5 487.5h2v1.5h-2zM94.5 487.5h2v1.5h-2zM106.5 487.5h4v1.5h-4zM118.5 487.5h2v1.5h-2zM130.5 487.5h2v1.5h-2zM148.5 487.5h2v1.5h-2zM38.5 489h2v1.5h-2zM90.5 489h2v1.5h-2zM96.5 489h2v1.5h-2zM100.5 489h4v1.5h-4zM110.5 489h2v1.5h-2zM120.5 489h4v1.5h-4zM126.5 489h4v1.5h-4zM136.5 489h2v1.5h-2zM154.5 489h4v1.5h-4zM242.5 489h1v1.5h-1zM38.5 493.5h2v1.5h-2zM42.5 493.5h8v1.5h-8zM54.5 493.5h4v1.5h-4zM62.5 496.5h2v1.5h-2zM104.5 496.5h2v1.5h-2zM114.5 496.5h4v1.5h-4zM126.5 496.5h2v1.5h-2zM58.5 498h2v1.5h-2zM64.5 498h2v1.5h-2zM68.5 498h2v1.5h-2zM74.5 498h4v1.5h-4zM86.5 498h2v1.5h-2zM92.5 498h2v1.5h-2zM98.5 498h2v1.5h-2zM102.5 498h2v1.5h-2zM106.5 498h2v1.5h-2zM124.5 498h6v1.5h-6zM242.5 498h1v1.5h-1zM154.5 499.5h2v1.5h-2zM52.5 502.5h2v1.5h-2z" fill="#e7d9f5"/>
<path d="M236.5 387h2v1.5h-2zM236.5 432h2v1.5h-2z" fill="#e78577"/>
<path d="M200.5 406.5h2v1.5h-2zM196.5 438h2v1.5h-2zM146.5 453h2v1.5h-2zM140.5 457.5h2v1.5h-2zM138.5 471h2v1.5h-2zM142.5 471h2v1.5h-2zM152.5 474h2v1.5h-2z" fill="#e79385"/>
<path d="M204.5 406.5h2v1.5h-2zM192.5 444h2v1.5h-2zM140.5 456h2v1.5h-2zM156.5 474h2v1.5h-2z" fill="#e7a185"/>
<path d="M206.5 429h2v1.5h-2zM228.5 435h2v1.5h-2zM138.5 460.5h2v1.5h-2z" fill="#f5bda1"/>
<path d="M232.5 432h2v1.5h-2zM132.5 474h2v1.5h-2z" fill="#e7a193"/>
<path d="M230.5 435h2v1.5h-2zM138.5 469.5h4v1.5h-4z" fill="#e79377"/>
<path d="M232.5 435h2v1.5h-2z" fill="#e77769"/>
<path d="M152.5 469.5h2v1.5h-2z" fill="#e7775b"/>
<rect x="57.30" y="350.80" width="1.80" height="154.20" fill="#bcb8c0"/>
<rect x="130.10" y="350.80" width="1.80" height="154.20" fill="#bcb8c0"/>
<rect x="157.30" y="350.80" width="1.80" height="154.20" fill="#bcb8c0"/>
<rect x="189.30" y="350.80" width="1.80" height="154.20" fill="#bcb8c0"/>
<rect x="225.70" y="350.80" width="1.80" height="154.20" fill="#bcb8c0"/>
<line x1="38.50" y1="505.20" x2="243.50" y2="505.20" stroke="#bbb" stroke-width="0.5"/>
<rect x="242.30" y="357.00" width="1.20" height="148.00" fill="#d6ced2"/>
<line x1="38.50" y1="450.60" x2="243.50" y2="450.60" stroke="#d2ced6" stroke-width="0.6"/>
<line x1="38.50" y1="487.60" x2="243.50" y2="487.60" stroke="#d2ced6" stroke-width="0.6"/>
<rect x="39.40" y="350.80" width="18.10" height="5.90" fill="#727272"/>
<path d="M39.4 351.4h1.0v2.0h-1.0zM41.1 351.8h0.8v3.5h-0.8zM42.2 351.7h1.0v1.1h-1.0zM44.1 351.9h1.1v3.2h-1.1zM45.7 351.3h1.3v3.4h-1.3zM48.0 352.1h0.8v3.8h-0.8zM49.2 350.9h0.5v1.7h-0.5zM51.2 351.8h1.4v1.8h-1.4zM53.9 351.7h0.7v3.8h-0.7zM55.2 351.4h1.1v4.4h-1.1zM56.7 351.9h0.6v1.8h-0.6z" fill="#a6a6a6"/>
<rect x="59.10" y="350.80" width="71.20" height="5.90" fill="#727272"/>
<path d="M59.1 352.2h0.4v2.9h-0.4zM60.4 352.1h0.4v3.2h-0.4zM61.4 351.7h0.8v2.7h-0.8zM63.3 352.2h0.6v2.7h-0.6zM64.7 350.9h1.1v2.9h-1.1zM67.1 352.0h1.0v2.4h-1.0zM68.6 350.9h1.2v2.3h-1.2zM70.4 352.3h1.1v1.2h-1.1zM73.0 350.8h1.3v4.0h-1.3zM74.7 351.1h1.0v1.3h-1.0zM77.1 352.1h1.3v1.9h-1.3zM79.5 352.2h0.6v3.4h-0.6zM80.8 350.8h1.2v3.4h-1.2zM82.6 351.1h1.0v1.9h-1.0zM84.8 350.9h1.4v2.1h-1.4zM86.9 351.6h1.1v1.7h-1.1zM88.5 351.3h0.8v3.0h-0.8zM89.9 351.4h0.5v4.1h-0.5zM91.7 351.0h1.3v1.5h-1.3zM94.5 350.9h0.8v3.3h-0.8zM96.2 352.2h0.5v1.1h-0.5zM97.3 351.1h1.2v3.8h-1.2zM99.8 352.2h0.9v3.9h-0.9zM101.3 352.2h1.2v4.4h-1.2zM103.3 352.1h0.8v2.8h-0.8zM105.5 352.0h0.8v1.7h-0.8zM107.4 351.8h0.4v2.9h-0.4zM109.0 352.0h0.6v3.2h-0.6zM110.7 351.9h1.3v2.6h-1.3zM113.0 351.4h0.6v1.9h-0.6zM114.1 351.4h0.5v1.6h-0.5zM115.9 351.6h0.9v4.5h-0.9zM117.3 351.4h0.6v4.3h-0.6zM119.5 352.1h1.0v1.4h-1.0zM121.9 352.1h0.7v2.9h-0.7zM123.5 351.3h0.7v4.0h-0.7zM125.2 351.2h0.5v1.3h-0.5zM127.2 350.9h1.0v2.6h-1.0zM129.7 350.8h0.8v1.4h-0.8z" fill="#a6a6a6"/>
<rect x="131.90" y="350.80" width="25.60" height="5.90" fill="#727272"/>
<path d="M131.9 351.4h0.9v1.1h-0.9zM134.2 351.1h0.9v1.2h-0.9zM136.2 351.3h1.1v3.6h-1.1zM138.5 351.1h0.6v3.1h-0.6zM139.4 350.9h0.5v3.9h-0.5zM141.5 351.8h0.7v2.8h-0.7zM143.7 351.0h0.9v1.1h-0.9zM145.1 350.8h1.1v3.5h-1.1zM146.9 352.2h0.4v1.9h-0.4zM147.9 351.3h0.9v3.8h-0.9zM150.3 351.8h0.4v3.6h-0.4zM152.3 351.2h0.6v1.1h-0.6zM153.7 352.3h0.7v3.1h-0.7zM155.6 351.3h0.6v3.6h-0.6zM156.6 352.0h0.8v3.6h-0.8z" fill="#a6a6a6"/>
<rect x="159.10" y="350.80" width="30.40" height="5.90" fill="#727272"/>
<path d="M159.1 352.1h1.1v2.1h-1.1zM161.6 351.5h1.2v3.3h-1.2zM163.4 350.9h0.6v4.0h-0.6zM165.3 351.3h0.8v1.6h-0.8zM167.0 351.4h0.8v3.4h-0.8zM168.2 352.2h0.5v3.3h-0.5zM170.3 351.2h1.3v2.0h-1.3zM172.8 351.6h0.9v2.8h-0.9zM174.4 351.7h1.2v2.7h-1.2zM176.8 351.3h1.0v4.4h-1.0zM178.4 352.3h1.1v3.2h-1.1zM180.6 351.7h0.8v2.2h-0.8zM182.8 351.4h1.3v1.0h-1.3zM184.5 352.0h1.3v2.4h-1.3zM186.5 352.2h0.8v3.5h-0.8zM188.2 351.6h0.7v1.4h-0.7z" fill="#a6a6a6"/>
<rect x="191.10" y="350.80" width="34.80" height="5.90" fill="#727272"/>
<path d="M191.1 350.9h0.7v2.3h-0.7zM192.9 351.7h1.1v4.4h-1.1zM194.5 351.6h0.6v1.5h-0.6zM195.7 350.9h0.6v2.6h-0.6zM197.0 351.4h1.4v3.4h-1.4zM199.4 351.9h0.7v3.2h-0.7zM201.0 351.8h0.6v3.1h-0.6zM202.1 351.6h0.7v3.5h-0.7zM203.2 351.5h0.7v3.7h-0.7zM205.2 352.0h0.6v2.7h-0.6zM207.0 350.9h1.0v1.7h-1.0zM208.7 350.9h0.6v1.5h-0.6zM210.5 351.5h1.1v4.1h-1.1zM212.3 351.9h0.5v2.7h-0.5zM213.5 351.5h1.3v1.2h-1.3zM216.4 351.4h0.7v2.1h-0.7zM217.4 352.2h1.4v3.5h-1.4zM220.3 351.4h0.8v1.3h-0.8zM221.7 351.2h1.3v3.2h-1.3zM224.4 351.0h1.2v3.9h-1.2z" fill="#a6a6a6"/>
<rect x="227.50" y="350.80" width="15.30" height="5.90" fill="#727272"/>
<path d="M227.5 351.3h1.1v4.2h-1.1zM229.4 351.3h0.9v1.2h-0.9zM231.7 351.6h1.2v4.4h-1.2zM233.6 351.5h0.6v3.3h-0.6zM235.8 351.8h1.3v3.2h-1.3zM238.3 351.0h0.7v3.9h-0.7zM239.7 351.4h1.3v1.1h-1.3zM242.2 351.4h0.5v1.8h-0.5z" fill="#a6a6a6"/>
<line x1="60.00" y1="349.40" x2="238.00" y2="349.40" stroke="#b5b5b5" stroke-width="0.6"/>
<line x1="105.00" y1="348.00" x2="215.00" y2="348.00" stroke="#c8c8c8" stroke-width="0.5"/>
<line x1="48.00" y1="349.40" x2="48.00" y2="350.80" stroke="#999" stroke-width="0.5"/>
<line x1="95.00" y1="349.40" x2="95.00" y2="350.80" stroke="#999" stroke-width="0.5"/>
<line x1="144.00" y1="349.40" x2="144.00" y2="350.80" stroke="#999" stroke-width="0.5"/>
<line x1="174.00" y1="349.40" x2="174.00" y2="350.80" stroke="#999" stroke-width="0.5"/>
<line x1="208.00" y1="349.40" x2="208.00" y2="350.80" stroke="#999" stroke-width="0.5"/>
<line x1="235.00" y1="349.40" x2="235.00" y2="350.80" stroke="#999" stroke-width="0.5"/>
<line x1="48.00" y1="349.60" x2="60.00" y2="349.60" stroke="#b5b5b5" stroke-width="0.6"/>
<rect x="26.60" y="357.00" width="10.70" height="148.00" fill="#7c7c7c"/>
<path d="M33.1 357.0h4.2v0.7h-4.2zM35.5 358.3h1.8v0.4h-1.8zM34.6 359.4h2.7v0.6h-2.7zM27.5 360.3h9.8v0.6h-9.8zM33.8 361.8h3.5v0.7h-3.5zM32.9 362.8h4.4v0.5h-4.4zM33.9 363.8h3.4v0.4h-3.4zM30.7 364.6h6.6v0.6h-6.6zM32.6 365.8h4.7v0.7h-4.7zM33.1 367.2h4.2v0.4h-4.2zM35.4 368.4h1.9v0.6h-1.9zM34.5 369.7h2.8v0.4h-2.8zM31.3 370.7h6.0v0.6h-6.0zM33.1 371.9h4.2v0.4h-4.2zM33.7 372.8h3.6v0.6h-3.6zM33.9 374.2h3.4v0.4h-3.4zM31.8 375.2h5.5v0.3h-5.5zM31.7 375.9h5.6v0.6h-5.6zM31.7 377.2h5.6v0.4h-5.6zM31.6 378.4h5.7v0.6h-5.7zM32.1 379.9h5.2v0.4h-5.2zM30.6 381.0h6.7v0.6h-6.7zM34.7 382.2h2.6v0.6h-2.6zM32.3 383.3h5.0v0.6h-5.0zM33.9 384.7h3.4v0.6h-3.4zM34.4 385.7h2.9v0.6h-2.9zM29.9 387.1h7.4v0.4h-7.4zM30.4 387.9h6.9v0.4h-6.9zM31.3 388.9h6.0v0.7h-6.0zM33.8 390.2h3.5v0.4h-3.5zM28.8 391.0h8.5v0.3h-8.5zM30.2 391.7h7.1v0.3h-7.1zM29.9 392.5h7.4v0.4h-7.4zM35.5 393.3h1.8v0.6h-1.8zM32.0 394.4h5.3v0.7h-5.3zM33.1 395.5h4.2v0.5h-4.2zM30.4 396.7h6.9v0.6h-6.9zM35.6 397.7h1.7v0.3h-1.7zM34.9 398.6h2.4v0.7h-2.4zM35.4 399.8h1.9v0.5h-1.9zM30.9 400.7h6.4v0.5h-6.4zM31.9 401.6h5.4v0.5h-5.4zM31.4 402.8h5.9v0.7h-5.9zM33.7 404.3h3.6v0.4h-3.6zM28.3 405.2h9.0v0.6h-9.0zM33.8 406.5h3.5v0.4h-3.5zM32.4 407.2h4.9v0.5h-4.9zM32.5 408.1h4.8v0.4h-4.8zM31.4 409.1h5.9v0.6h-5.9zM30.3 410.1h7.0v0.4h-7.0zM28.9 410.9h8.4v0.5h-8.4zM35.3 412.2h2.0v0.6h-2.0zM31.6 413.3h5.7v0.3h-5.7zM31.6 414.3h5.7v0.5h-5.7zM28.8 415.5h8.5v0.7h-8.5zM32.5 416.9h4.8v0.4h-4.8zM34.0 418.1h3.3v0.6h-3.3zM31.7 419.2h5.6v0.3h-5.6zM29.8 420.3h7.5v0.4h-7.5zM32.2 421.1h5.1v0.4h-5.1zM33.6 422.0h3.7v0.4h-3.7zM31.2 423.2h6.1v0.4h-6.1zM30.2 423.9h7.1v0.6h-7.1zM34.0 425.0h3.3v0.4h-3.3zM33.3 426.2h4.0v0.6h-4.0zM31.8 427.4h5.5v0.5h-5.5zM32.3 428.5h5.0v0.4h-5.0zM32.9 429.6h4.4v0.7h-4.4zM29.7 430.8h7.6v0.3h-7.6zM27.4 431.8h9.9v0.7h-9.9zM35.7 432.9h1.6v0.3h-1.6zM31.0 433.6h6.3v0.5h-6.3zM32.2 434.8h5.1v0.6h-5.1zM29.1 435.8h8.2v0.3h-8.2zM34.8 436.7h2.5v0.4h-2.5zM35.3 437.5h2.0v0.6h-2.0zM34.6 438.9h2.7v0.3h-2.7zM30.5 440.0h6.8v0.3h-6.8zM35.4 441.1h1.9v0.4h-1.9zM30.6 442.4h6.7v0.6h-6.7zM28.2 443.4h9.1v0.3h-9.1zM32.1 444.1h5.2v0.7h-5.2zM35.5 445.5h1.8v0.5h-1.8zM35.7 446.8h1.6v0.4h-1.6zM32.2 448.0h5.1v0.5h-5.1zM34.4 449.1h2.9v0.4h-2.9zM29.1 450.2h8.2v0.5h-8.2zM33.5 451.3h3.8v0.4h-3.8zM34.6 452.4h2.7v0.5h-2.7zM34.1 453.6h3.2v0.4h-3.2zM30.7 454.8h6.6v0.4h-6.6zM33.1 455.8h4.2v0.5h-4.2zM34.3 456.5h3.0v0.6h-3.0zM33.4 458.0h3.9v0.6h-3.9zM33.9 459.1h3.4v0.5h-3.4zM30.7 460.0h6.6v0.5h-6.6zM28.7 460.8h8.6v0.4h-8.6zM33.8 461.5h3.5v0.7h-3.5zM34.9 462.8h2.4v0.5h-2.4zM33.5 464.0h3.8v0.5h-3.8zM30.5 465.4h6.8v0.7h-6.8zM34.0 466.8h3.3v0.6h-3.3zM35.3 468.1h2.0v0.4h-2.0zM29.5 469.1h7.8v0.3h-7.8zM34.7 470.1h2.6v0.4h-2.6zM30.9 471.1h6.4v0.3h-6.4zM28.4 472.0h8.9v0.5h-8.9zM34.0 473.0h3.3v0.7h-3.3zM33.8 474.5h3.5v0.4h-3.5zM34.8 475.6h2.5v0.4h-2.5zM35.3 476.8h2.0v0.4h-2.0zM32.8 477.9h4.5v0.6h-4.5zM32.0 478.9h5.3v0.3h-5.3zM32.7 480.0h4.6v0.3h-4.6zM28.0 481.0h9.3v0.6h-9.3zM27.5 482.5h9.8v0.4h-9.8zM31.9 483.6h5.4v0.6h-5.4zM29.6 484.8h7.7v0.6h-7.7zM30.5 486.2h6.8v0.3h-6.8zM28.7 487.3h8.6v0.5h-8.6zM29.0 488.4h8.3v0.6h-8.3zM30.2 489.5h7.1v0.6h-7.1zM30.0 490.9h7.3v0.6h-7.3zM34.3 491.9h3.0v0.3h-3.0zM31.3 492.6h6.0v0.6h-6.0zM29.8 493.7h7.5v0.5h-7.5zM34.6 494.7h2.7v0.4h-2.7zM33.8 495.5h3.5v0.4h-3.5zM28.9 496.4h8.4v0.7h-8.4zM29.0 497.6h8.3v0.6h-8.3zM31.7 498.8h5.6v0.6h-5.6zM30.8 500.2h6.5v0.3h-6.5zM29.1 501.4h8.2v0.3h-8.2zM34.7 502.4h2.6v0.4h-2.6zM29.2 503.6h8.1v0.5h-8.1zM30.3 504.5h7.0v0.3h-7.0z" fill="#4a4a4a" opacity="0.9"/>
<path d="M31.1 358.0l1.9 1.3l-3.2 1.3M28.7 362.2l3.1 1.4l-2.7 1.4M31.2 367.6l3.4 1.3l-1.7 1.3M28.4 372.1l3.4 1.5l-1.7 1.5M31.3 376.6l3.5 1.1l-1.7 1.1M32.2 381.8l2.1 2.1l-3.3 2.1M31.1 387.0l1.8 2.6l-2.2 2.6M31.8 393.0l3.2 1.6l-1.8 1.6M31.3 398.4l3.1 2.8l-2.4 2.8M28.7 405.1l1.9 2.6l-2.7 2.6M28.9 411.8l2.0 1.3l-2.6 1.3M30.3 415.5l2.2 2.2l-2.4 2.2M30.4 421.5l3.0 2.4l-2.3 2.4M30.7 429.1l2.7 3.0l-1.9 3.0M32.2 436.9l3.0 2.2l-1.6 2.2M31.5 443.3l1.7 2.1l-3.0 2.1M31.5 448.2l1.5 2.0l-2.1 2.0M29.1 455.0l1.6 1.9l-3.1 1.9M30.1 461.1l3.5 2.4l-2.6 2.4M31.8 468.6l2.0 2.7l-3.5 2.7M31.0 474.6l2.7 3.0l-2.8 3.0M31.8 481.9l2.4 2.7l-1.5 2.7M29.3 489.5l2.4 1.5l-2.4 1.5M30.1 493.1l1.5 2.9l-1.7 2.9M29.0 500.2l2.9 1.6l-1.6 1.6" fill="none" stroke="#c8c8c8" stroke-width="0.5"/>
<rect x="37.30" y="357.00" width="1.20" height="148.00" fill="#cfcfcf"/>
<line x1="23.60" y1="367.00" x2="23.60" y2="500.00" stroke="#999" stroke-width="0.5"/>
<line x1="25.20" y1="360.00" x2="25.20" y2="440.00" stroke="#aaa" stroke-width="0.4"/>
<line x1="25.80" y1="430.00" x2="25.80" y2="503.00" stroke="#aaa" stroke-width="0.4"/>
<text x="50.7" y="511.5" font-size="6.6" text-anchor="end" fill="#333" textLength="40.0" lengthAdjust="spacingAndGlyphs" transform="rotate(-45 50.7 511.5)">PHZ_Vcam1−</text>
<text x="96.9" y="511.5" font-size="6.6" text-anchor="end" fill="#333" textLength="39.0" lengthAdjust="spacingAndGlyphs" transform="rotate(-45 96.9 511.5)">BLD_Vcam1−</text>
<text x="146.5" y="511.5" font-size="6.6" text-anchor="end" fill="#333" textLength="35.0" lengthAdjust="spacingAndGlyphs" transform="rotate(-45 146.5 511.5)">NT_Vcam1−</text>
<text x="177.5" y="511.5" font-size="6.6" text-anchor="end" fill="#333" textLength="42.0" lengthAdjust="spacingAndGlyphs" transform="rotate(-45 177.5 511.5)">PHZ_Vcam1+</text>
<text x="207.1" y="511.5" font-size="6.6" text-anchor="end" fill="#333" textLength="41.0" lengthAdjust="spacingAndGlyphs" transform="rotate(-45 207.1 511.5)">BLD_Vcam1+</text>
<text x="235.4" y="511.5" font-size="6.6" text-anchor="end" fill="#333" textLength="37.0" lengthAdjust="spacingAndGlyphs" transform="rotate(-45 235.4 511.5)">NT_Vcam1+</text>
<text x="252.0" y="414.0" font-size="6.8" fill="#333" textLength="23.8" lengthAdjust="spacingAndGlyphs">Z-score</text>
<rect x="252.1" y="417.9" width="5.8" height="34.6" fill="url(#gZ)"/>
<text x="261.3" y="421.5" font-size="6.4" fill="#333">&gt; 5</text>
<text x="261.3" y="429.3" font-size="6.4" fill="#333">2.5</text>
<text x="261.3" y="437.3" font-size="6.4" fill="#333">0</text>
<text x="261.3" y="445.8" font-size="6.4" fill="#333">−2.5</text>
<text x="261.3" y="453.6" font-size="6.4" fill="#333">&lt; −5</text>
<text x="299.2" y="282.2" font-size="11" font-weight="bold" fill="#000">G</text>
<text x="356.3" y="282.4" font-size="8.4" textLength="131.6" lengthAdjust="spacingAndGlyphs">Up-regulated genes in <tspan font-style="italic">Vcam1</tspan><tspan font-size="5" dy="-3">+</tspan><tspan dy="3"> MΦ</tspan></text>
<text x="378.8" y="293.4" font-size="8.4" textLength="83.0" lengthAdjust="spacingAndGlyphs">(biological processes)</text>
<rect x="421.30" y="302.60" width="62.90" height="7.00" fill="#b0151b"/>
<rect x="421.30" y="314.90" width="58.00" height="7.00" fill="#a3101a"/>
<rect x="421.30" y="327.00" width="57.40" height="7.00" fill="#e4101c"/>
<rect x="421.30" y="339.20" width="56.50" height="7.00" fill="#e3101d"/>
<rect x="421.30" y="351.50" width="54.20" height="6.80" fill="#e2333d"/>
<rect x="421.30" y="364.00" width="52.10" height="6.50" fill="#ee8087"/>
<rect x="421.30" y="376.30" width="51.70" height="6.90" fill="#ee8087"/>
<line x1="421.30" y1="297.00" x2="421.30" y2="388.60" stroke="#231f20" stroke-width="1.1"/>
<line x1="420.80" y1="388.00" x2="501.00" y2="388.00" stroke="#231f20" stroke-width="1.1"/>
<line x1="421.30" y1="388.00" x2="421.30" y2="390.40" stroke="#231f20" stroke-width="0.9"/>
<text x="421.3" y="397.2" font-size="6.4" text-anchor="middle" fill="#333">0</text>
<line x1="440.60" y1="388.00" x2="440.60" y2="390.40" stroke="#231f20" stroke-width="0.9"/>
<text x="440.6" y="397.2" font-size="6.4" text-anchor="middle" fill="#333">2</text>
<line x1="459.90" y1="388.00" x2="459.90" y2="390.40" stroke="#231f20" stroke-width="0.9"/>
<text x="459.9" y="397.2" font-size="6.4" text-anchor="middle" fill="#333">4</text>
<line x1="479.30" y1="388.00" x2="479.30" y2="390.40" stroke="#231f20" stroke-width="0.9"/>
<text x="479.3" y="397.2" font-size="6.4" text-anchor="middle" fill="#333">6</text>
<line x1="498.50" y1="388.00" x2="498.50" y2="390.40" stroke="#231f20" stroke-width="0.9"/>
<text x="498.5" y="397.2" font-size="6.4" text-anchor="middle" fill="#333">8</text>
<line x1="418.10" y1="306.10" x2="421.30" y2="306.10" stroke="#231f20" stroke-width="0.9"/>
<line x1="418.10" y1="318.40" x2="421.30" y2="318.40" stroke="#231f20" stroke-width="0.9"/>
<line x1="418.10" y1="330.50" x2="421.30" y2="330.50" stroke="#231f20" stroke-width="0.9"/>
<line x1="418.10" y1="342.70" x2="421.30" y2="342.70" stroke="#231f20" stroke-width="0.9"/>
<line x1="418.10" y1="354.90" x2="421.30" y2="354.90" stroke="#231f20" stroke-width="0.9"/>
<line x1="418.10" y1="367.25" x2="421.30" y2="367.25" stroke="#231f20" stroke-width="0.9"/>
<line x1="418.10" y1="379.75" x2="421.30" y2="379.75" stroke="#231f20" stroke-width="0.9"/>
<text x="416.9" y="305.0" font-size="6.3" text-anchor="end" fill="#3a3a3a">cellular macromolecule</text>
<text x="416.9" y="310.7" font-size="6.3" text-anchor="end" fill="#3a3a3a">biosynthetic process</text>
<text x="416.9" y="316.5" font-size="6.3" text-anchor="end" fill="#3a3a3a">SRP-dependent cotranslational</text>
<text x="416.9" y="322.8" font-size="6.3" text-anchor="end" fill="#3a3a3a">protein targeting to membrane</text>
<text x="416.9" y="332.9" font-size="6.3" text-anchor="end" fill="#3a3a3a">cytoplasmic translation</text>
<text x="416.9" y="341.6" font-size="6.3" text-anchor="end" fill="#3a3a3a">cotranslational protein</text>
<text x="416.9" y="347.4" font-size="6.3" text-anchor="end" fill="#3a3a3a">targeting to membrane</text>
<text x="416.9" y="356.8" font-size="6.3" text-anchor="end" fill="#3a3a3a">protein targeting to ER</text>
<text x="416.9" y="369.6" font-size="6.3" text-anchor="end" fill="#3a3a3a">cell junction disassembly</text>
<text x="416.9" y="379.0" font-size="6.3" text-anchor="end" fill="#3a3a3a">nuclear-transcribed mRNA catabolic</text>
<text x="416.9" y="384.8" font-size="6.3" text-anchor="end" fill="#3a3a3a">process, nonsense-mediated decay</text>
<text x="458.8" y="406.3" font-size="8.3" text-anchor="middle" fill="#2a2a2a" textLength="71.6" lengthAdjust="spacingAndGlyphs">−Log10 (adjusted <tspan font-style="italic">P</tspan>-value)</text>
<text x="299.2" y="429.8" font-size="11" font-weight="bold" fill="#000">H</text>
<text x="356.3" y="430.6" font-size="8.4" textLength="132.0" lengthAdjust="spacingAndGlyphs">Up-regulated genes in <tspan font-style="italic">Vcam1</tspan><tspan font-size="5" dy="-3">−</tspan><tspan dy="3"> MΦ</tspan></text>
<text x="379.7" y="441.5" font-size="8.4" textLength="82.3" lengthAdjust="spacingAndGlyphs">(biological processes)</text>
<rect x="421.30" y="450.20" width="77.10" height="6.80" fill="#25287a"/>
<rect x="421.30" y="461.60" width="75.60" height="6.50" fill="#25287a"/>
<rect x="421.30" y="472.40" width="75.60" height="6.70" fill="#25287a"/>
<rect x="421.30" y="483.40" width="36.20" height="6.70" fill="#1f6fbe"/>
<rect x="421.30" y="494.60" width="18.50" height="6.70" fill="#3a9fe0"/>
<rect x="421.30" y="505.60" width="16.70" height="6.70" fill="#3a9fe0"/>
<rect x="421.30" y="516.60" width="15.10" height="6.80" fill="#3a9fe0"/>
<line x1="421.30" y1="446.30" x2="421.30" y2="527.80" stroke="#231f20" stroke-width="1.1"/>
<line x1="420.80" y1="527.20" x2="505.00" y2="527.20" stroke="#231f20" stroke-width="1.1"/>
<line x1="421.30" y1="527.20" x2="421.30" y2="529.60" stroke="#231f20" stroke-width="0.9"/>
<text x="421.3" y="539.6" font-size="6.4" text-anchor="middle" fill="#333">0</text>
<line x1="432.87" y1="527.20" x2="432.87" y2="529.60" stroke="#231f20" stroke-width="0.9"/>
<text x="432.9" y="539.6" font-size="6.4" text-anchor="middle" fill="#333">3</text>
<line x1="444.44" y1="527.20" x2="444.44" y2="529.60" stroke="#231f20" stroke-width="0.9"/>
<text x="444.4" y="539.6" font-size="6.4" text-anchor="middle" fill="#333">6</text>
<line x1="456.01" y1="527.20" x2="456.01" y2="529.60" stroke="#231f20" stroke-width="0.9"/>
<text x="456.0" y="539.6" font-size="6.4" text-anchor="middle" fill="#333">9</text>
<line x1="467.58" y1="527.20" x2="467.58" y2="529.60" stroke="#231f20" stroke-width="0.9"/>
<text x="467.6" y="539.6" font-size="6.4" text-anchor="middle" fill="#333">12</text>
<line x1="479.16" y1="527.20" x2="479.16" y2="529.60" stroke="#231f20" stroke-width="0.9"/>
<text x="479.2" y="539.6" font-size="6.4" text-anchor="middle" fill="#333">15</text>
<line x1="490.73" y1="527.20" x2="490.73" y2="529.60" stroke="#231f20" stroke-width="0.9"/>
<text x="490.7" y="539.6" font-size="6.4" text-anchor="middle" fill="#333">18</text>
<line x1="502.30" y1="527.20" x2="502.30" y2="529.60" stroke="#231f20" stroke-width="0.9"/>
<text x="502.3" y="539.6" font-size="6.4" text-anchor="middle" fill="#333">21</text>
<line x1="418.10" y1="453.60" x2="421.30" y2="453.60" stroke="#231f20" stroke-width="0.9"/>
<line x1="418.10" y1="464.85" x2="421.30" y2="464.85" stroke="#231f20" stroke-width="0.9"/>
<line x1="418.10" y1="475.75" x2="421.30" y2="475.75" stroke="#231f20" stroke-width="0.9"/>
<line x1="418.10" y1="486.75" x2="421.30" y2="486.75" stroke="#231f20" stroke-width="0.9"/>
<line x1="418.10" y1="497.95" x2="421.30" y2="497.95" stroke="#231f20" stroke-width="0.9"/>
<line x1="418.10" y1="508.95" x2="421.30" y2="508.95" stroke="#231f20" stroke-width="0.9"/>
<line x1="418.10" y1="520.00" x2="421.30" y2="520.00" stroke="#231f20" stroke-width="0.9"/>
<text x="414.5" y="455.8" font-size="6.3" text-anchor="end" fill="#3a3a3a">neutrophil mediated immunity</text>
<text x="414.5" y="466.8" font-size="6.3" text-anchor="end" fill="#3a3a3a">neutrophil degranulation</text>
<text x="414.5" y="475.0" font-size="6.3" text-anchor="end" fill="#3a3a3a">neutrophil activation involved</text>
<text x="414.5" y="480.8" font-size="6.3" text-anchor="end" fill="#3a3a3a">in immune response</text>
<text x="414.5" y="489.6" font-size="6.3" text-anchor="end" fill="#3a3a3a">cytokine-mediated signaling pathway</text>
<text x="414.5" y="500.2" font-size="6.3" text-anchor="end" fill="#3a3a3a">innate immune response</text>
<text x="414.5" y="508.1" font-size="6.3" text-anchor="end" fill="#3a3a3a">regulation of microglial cell</text>
<text x="414.5" y="513.4" font-size="6.3" text-anchor="end" fill="#3a3a3a">mediated cytotoxicity</text>
<text x="414.5" y="520.9" font-size="6.3" text-anchor="end" fill="#3a3a3a">negative regulation of myeloid</text>
<text x="414.5" y="526.4" font-size="6.3" text-anchor="end" fill="#3a3a3a">leukocyte mediated immunity</text>
<text x="461.9" y="551.4" font-size="8.3" text-anchor="middle" fill="#2a2a2a" textLength="71.0" lengthAdjust="spacingAndGlyphs">−Log10 (adjusted <tspan font-style="italic">P</tspan>-value)</text>
<text x="8.0" y="566.5" font-size="11" font-weight="bold" fill="#000">I</text>
<text x="24.2" y="583.7" font-size="8.4" textLength="158.5" lengthAdjust="spacingAndGlyphs">Stress (PHZ/BLD) versus NT (<tspan font-style="italic">Vcam1</tspan><tspan font-size="5" dy="-3">+</tspan><tspan dy="3">MΦ)</tspan></text>
<rect x="104.40" y="595.00" width="82.40" height="7.00" fill="#5f2a91"/>
<rect x="104.40" y="607.50" width="79.90" height="7.00" fill="#6a2994"/>
<rect x="104.40" y="619.50" width="72.60" height="7.50" fill="#8c1f8c"/>
<rect x="104.40" y="632.00" width="72.60" height="7.50" fill="#8c1f8c"/>
<rect x="104.40" y="644.50" width="71.40" height="7.50" fill="#8a1e8a"/>
<rect x="104.40" y="657.00" width="67.60" height="7.50" fill="#c0369a"/>
<rect x="104.40" y="669.50" width="66.10" height="7.50" fill="#cc3fa2"/>
<line x1="104.40" y1="590.00" x2="104.40" y2="682.60" stroke="#231f20" stroke-width="1.1"/>
<line x1="103.90" y1="682.00" x2="207.00" y2="682.00" stroke="#231f20" stroke-width="1.1"/>
<line x1="104.40" y1="682.00" x2="104.40" y2="684.40" stroke="#231f20" stroke-width="0.9"/>
<text x="104.4" y="693.1" font-size="6.4" text-anchor="middle" fill="#333">0</text>
<line x1="137.50" y1="682.00" x2="137.50" y2="684.40" stroke="#231f20" stroke-width="0.9"/>
<text x="137.5" y="693.1" font-size="6.4" text-anchor="middle" fill="#333">1</text>
<line x1="170.50" y1="682.00" x2="170.50" y2="684.40" stroke="#231f20" stroke-width="0.9"/>
<text x="170.5" y="693.1" font-size="6.4" text-anchor="middle" fill="#333">2</text>
<line x1="203.30" y1="682.00" x2="203.30" y2="684.40" stroke="#231f20" stroke-width="0.9"/>
<text x="203.3" y="693.1" font-size="6.4" text-anchor="middle" fill="#333">3</text>
<line x1="101.20" y1="598.50" x2="104.40" y2="598.50" stroke="#231f20" stroke-width="0.9"/>
<line x1="101.20" y1="611.00" x2="104.40" y2="611.00" stroke="#231f20" stroke-width="0.9"/>
<line x1="101.20" y1="623.25" x2="104.40" y2="623.25" stroke="#231f20" stroke-width="0.9"/>
<line x1="101.20" y1="635.75" x2="104.40" y2="635.75" stroke="#231f20" stroke-width="0.9"/>
<line x1="101.20" y1="648.25" x2="104.40" y2="648.25" stroke="#231f20" stroke-width="0.9"/>
<line x1="101.20" y1="660.75" x2="104.40" y2="660.75" stroke="#231f20" stroke-width="0.9"/>
<line x1="101.20" y1="673.25" x2="104.40" y2="673.25" stroke="#231f20" stroke-width="0.9"/>
<text x="97.6" y="597.6" font-size="6.3" text-anchor="end" fill="#3a3a3a">regulation of cytochrome-c</text>
<text x="97.6" y="604.0" font-size="6.3" text-anchor="end" fill="#3a3a3a">oxidase activity</text>
<text x="97.6" y="613.2" font-size="6.3" text-anchor="end" fill="#3a3a3a">glycolipid transport</text>
<text x="97.6" y="625.7" font-size="6.3" text-anchor="end" fill="#3a3a3a">removal of superoxide radicals</text>
<text x="97.6" y="638.0" font-size="6.3" text-anchor="end" fill="#3a3a3a">defense response to tumor cell</text>
<text x="97.6" y="650.4" font-size="6.3" text-anchor="end" fill="#3a3a3a">cellular response to superoxide</text>
<text x="97.6" y="663.0" font-size="6.3" text-anchor="end" fill="#3a3a3a">ceramide transport</text>
<text x="97.6" y="675.4" font-size="6.3" text-anchor="end" fill="#3a3a3a">heme catabolic process</text>
<text x="154.6" y="705.4" font-size="8.3" text-anchor="middle" fill="#2a2a2a" textLength="68.4" lengthAdjust="spacingAndGlyphs">−Log10 (adjusted <tspan font-style="italic">P</tspan>-value)</text>
<text x="298.8" y="565.3" font-size="11" font-weight="bold" fill="#000">J</text>
<text x="341.0" y="573.8" font-size="8.4" textLength="160.3" lengthAdjust="spacingAndGlyphs">NT versus Stress (PHZ/BLD) (<tspan font-style="italic">Vcam1</tspan><tspan font-size="5" dy="-3">+</tspan><tspan dy="3">MΦ)</tspan></text>
<rect x="421.50" y="584.30" width="86.90" height="7.30" fill="#0e6b36"/>
<rect x="421.50" y="598.20" width="86.20" height="7.30" fill="#0e6b36"/>
<rect x="421.50" y="612.60" width="85.80" height="7.30" fill="#0e6b36"/>
<rect x="421.50" y="626.50" width="83.10" height="7.30" fill="#16924a"/>
<rect x="421.50" y="640.70" width="80.90" height="7.30" fill="#16924a"/>
<rect x="421.50" y="655.00" width="70.30" height="7.40" fill="#3aab4a"/>
<rect x="421.50" y="669.00" width="14.30" height="7.70" fill="#9ccb3b"/>
<line x1="421.50" y1="579.40" x2="421.50" y2="682.90" stroke="#231f20" stroke-width="1.1"/>
<line x1="421.00" y1="682.30" x2="511.00" y2="682.30" stroke="#231f20" stroke-width="1.1"/>
<line x1="421.50" y1="682.30" x2="421.50" y2="684.70" stroke="#231f20" stroke-width="0.9"/>
<text x="421.5" y="694.1" font-size="6.4" text-anchor="middle" fill="#333">0</text>
<line x1="450.40" y1="682.30" x2="450.40" y2="684.70" stroke="#231f20" stroke-width="0.9"/>
<text x="450.4" y="694.1" font-size="6.4" text-anchor="middle" fill="#333">4</text>
<line x1="479.50" y1="682.30" x2="479.50" y2="684.70" stroke="#231f20" stroke-width="0.9"/>
<text x="479.5" y="694.1" font-size="6.4" text-anchor="middle" fill="#333">8</text>
<line x1="508.40" y1="682.30" x2="508.40" y2="684.70" stroke="#231f20" stroke-width="0.9"/>
<text x="508.4" y="694.1" font-size="6.4" text-anchor="middle" fill="#333">12</text>
<line x1="418.30" y1="587.95" x2="421.50" y2="587.95" stroke="#231f20" stroke-width="0.9"/>
<line x1="418.30" y1="601.85" x2="421.50" y2="601.85" stroke="#231f20" stroke-width="0.9"/>
<line x1="418.30" y1="616.25" x2="421.50" y2="616.25" stroke="#231f20" stroke-width="0.9"/>
<line x1="418.30" y1="630.15" x2="421.50" y2="630.15" stroke="#231f20" stroke-width="0.9"/>
<line x1="418.30" y1="644.35" x2="421.50" y2="644.35" stroke="#231f20" stroke-width="0.9"/>
<line x1="418.30" y1="658.70" x2="421.50" y2="658.70" stroke="#231f20" stroke-width="0.9"/>
<line x1="418.30" y1="672.85" x2="421.50" y2="672.85" stroke="#231f20" stroke-width="0.9"/>
<text x="414.7" y="586.8" font-size="6.3" text-anchor="end" fill="#3a3a3a">SRP-dependent cotranslational</text>
<text x="414.7" y="593.4" font-size="6.3" text-anchor="end" fill="#3a3a3a">protein targeting to membrane</text>
<text x="414.7" y="604.0" font-size="6.3" text-anchor="end" fill="#3a3a3a">cytoplasmic translation</text>
<text x="414.7" y="614.9" font-size="6.3" text-anchor="end" fill="#3a3a3a">cotranslational protein</text>
<text x="414.7" y="621.8" font-size="6.3" text-anchor="end" fill="#3a3a3a">targeting to membrane</text>
<text x="414.7" y="632.4" font-size="6.3" text-anchor="end" fill="#3a3a3a">protein targeting to ER</text>
<text x="414.7" y="643.2" font-size="6.3" text-anchor="end" fill="#3a3a3a">nuclear-transcribed mRNA catabolic</text>
<text x="414.7" y="649.4" font-size="6.3" text-anchor="end" fill="#3a3a3a">process, nonsense-mediated decay</text>
<text x="414.7" y="658.0" font-size="6.3" text-anchor="end" fill="#3a3a3a">nuclear-transcribed mRNA</text>
<text x="414.7" y="663.8" font-size="6.3" text-anchor="end" fill="#3a3a3a">catabolic process</text>
<text x="414.7" y="672.2" font-size="6.3" text-anchor="end" fill="#3a3a3a">positive regulation of mast cell</text>
<text x="414.7" y="678.4" font-size="6.3" text-anchor="end" fill="#3a3a3a">activation involved in immune response</text>
<text x="465.6" y="705.2" font-size="8.3" text-anchor="middle" fill="#2a2a2a" textLength="71.4" lengthAdjust="spacingAndGlyphs">−Log10 (adjusted <tspan font-style="italic">P</tspan>-value)</text>
<rect x="0.5" y="0.5" width="519" height="714" fill="none" stroke="#4a4a4a" stroke-width="1"/></svg>
</body></html>
